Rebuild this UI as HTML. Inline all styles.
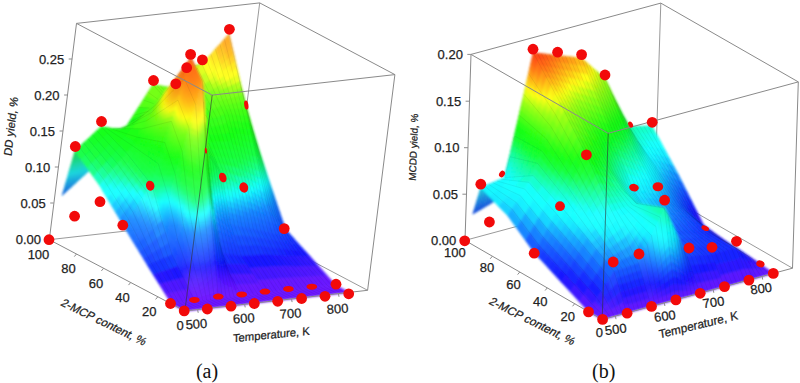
<!DOCTYPE html>
<html><head><meta charset="utf-8"><title>Figure</title>
<style>html,body{margin:0;padding:0;background:#fff}body{width:800px;height:383px;overflow:hidden;position:relative}</style>
</head><body>
<svg width="800" height="383" viewBox="0 0 800 383" style="position:absolute;left:0;top:0">
<defs><filter id="bl" x="-5%" y="-5%" width="110%" height="110%"><feGaussianBlur stdDeviation="0.9"/></filter></defs>
<rect width="800" height="383" fill="#fff"/>
<g stroke="#9a9a9a" stroke-width="1" fill="none"><line x1="49.3" y1="239.7" x2="232.4" y2="219.0" /><line x1="367.6" y1="290.3" x2="232.4" y2="219.0" /><line x1="232.4" y1="219.0" x2="259.7" y2="2.9" /></g>
<g fill="currentColor" stroke="currentColor" stroke-width="0.7" stroke-linejoin="round" filter="url(#bl)">
<path color="#1ad580" d="M231.1 134.9l1.4 4.4-1.5 4.3-1.4-4.2z"/>
<path color="#1ad569" d="M229.8 130.4l1.3 4.5-1.5 4.5-1.4-4.2z"/>
<path color="#1ad554" d="M228.4 125.9l1.4 4.5-1.6 4.8-1.4-4.2z"/>
<path color="#1ad546" d="M227 121.4l1.4 4.5-1.6 5.1-1.4-4.3z"/>
<path color="#1ad53e" d="M225.7 117l1.3 4.4-1.6 5.3-1.4-4.2z"/>
<path color="#1ad536" d="M224.3 112.5l1.4 4.5-1.7 5.5-1.4-4.2z"/>
<path color="#1ad52f" d="M222.9 108l1.4 4.5-1.7 5.8-1.4-4.2z"/>
<path color="#1ad527" d="M221.6 103.5l1.3 4.5-1.7 6.1-1.4-4.3z"/>
<path color="#20d525" d="M220.2 99l1.4 4.5-1.8 6.3-1.4-4.2z"/>
<path color="#2ad525" d="M218.8 94.6l1.4 4.4-1.8 6.6-1.3-4.2z"/>
<path color="#35d525" d="M217.4 90.1l1.4 4.5-1.7 6.8-1.4-4.2z"/>
<path color="#40d525" d="M216.1 85.6l1.3 4.5-1.7 7.1-1.4-4.2z"/>
<path color="#1ad568" d="M232.6 130.3l1.3 4.8-1.4 4.2-1.4-4.4z"/>
<path color="#1ad552" d="M231.3 125.6l1.3 4.7-1.5 4.6-1.3-4.5z"/>
<path color="#1ad545" d="M229.9 120.9l1.4 4.7-1.5 4.8-1.4-4.5z"/>
<path color="#1ad53c" d="M228.6 116.1l1.3 4.8-1.5 5-1.4-4.5z"/>
<path color="#1ad534" d="M227.3 111.4l1.3 4.7-1.6 5.3-1.3-4.4z"/>
<path color="#1ad52c" d="M225.9 106.7l1.4 4.7-1.6 5.6-1.4-4.5z"/>
<path color="#1bd525" d="M224.6 101.9l1.3 4.8-1.6 5.8-1.4-4.5z"/>
<path color="#24d525" d="M223.3 97.2l1.3 4.7-1.7 6.1-1.3-4.5z"/>
<path color="#30d525" d="M221.9 92.5l1.4 4.7-1.7 6.3-1.4-4.5z"/>
<path color="#3bd525" d="M220.6 87.7l1.3 4.8-1.7 6.5-1.4-4.4z"/>
<path color="#47d525" d="M219.2 83l1.4 4.7-1.8 6.9-1.4-4.5z"/>
<path color="#52d525" d="M217.9 78.3l1.3 4.7-1.8 7.1-1.3-4.5z"/>
<path color="#1ad552" d="M234.1 125.8l1.3 5-1.5 4.3-1.3-4.8z"/>
<path color="#1ad544" d="M232.8 120.8l1.3 5-1.5 4.5-1.3-4.7z"/>
<path color="#1ad53b" d="M231.5 115.8l1.3 5-1.5 4.8-1.4-4.7z"/>
<path color="#1ad533" d="M230.2 110.8l1.3 5-1.6 5.1-1.3-4.8z"/>
<path color="#1ad52a" d="M228.9 105.8l1.3 5-1.6 5.3-1.3-4.7z"/>
<path color="#1dd525" d="M227.6 100.9l1.3 4.9-1.6 5.6-1.4-4.7z"/>
<path color="#28d525" d="M226.3 95.9l1.3 5-1.7 5.8-1.3-4.8z"/>
<path color="#34d525" d="M225 90.9l1.3 5-1.7 6-1.3-4.7z"/>
<path color="#40d525" d="M223.7 85.9l1.3 5-1.7 6.3-1.4-4.7z"/>
<path color="#4cd525" d="M222.3 80.9l1.4 5-1.8 6.6-1.3-4.8z"/>
<path color="#58d525" d="M221 75.9l1.3 5-1.7 6.8-1.4-4.7z"/>
<path color="#64d525" d="M219.7 70.9l1.3 5-1.8 7.1-1.3-4.7z"/>
<path color="#1ad544" d="M235.5 121.3l1.3 5.2-1.4 4.3-1.3-5z"/>
<path color="#1ad53b" d="M234.3 116l1.2 5.3-1.4 4.5-1.3-5z"/>
<path color="#1ad532" d="M233 110.8l1.3 5.2-1.5 4.8-1.3-5z"/>
<path color="#1ad529" d="M231.7 105.5l1.3 5.3-1.5 5-1.3-5z"/>
<path color="#1fd525" d="M230.5 100.3l1.2 5.2-1.5 5.3-1.3-5z"/>
<path color="#2bd525" d="M229.2 95l1.3 5.3-1.6 5.5-1.3-4.9z"/>
<path color="#37d525" d="M227.9 89.8l1.3 5.2-1.6 5.9-1.3-5z"/>
<path color="#44d525" d="M226.7 84.6l1.2 5.2-1.6 6.1-1.3-5z"/>
<path color="#50d525" d="M225.4 79.3l1.3 5.3-1.7 6.3-1.3-5z"/>
<path color="#5dd525" d="M224.1 74.1l1.3 5.2-1.7 6.6-1.4-5z"/>
<path color="#6ad525" d="M222.8 68.8l1.3 5.3-1.8 6.8-1.3-5z"/>
<path color="#86d525" d="M221.6 63.6l1.2 5.2-1.8 7.1-1.3-5z"/>
<path color="#1ad53c" d="M237 116.7l1.3 5.5-1.5 4.3-1.3-5.2z"/>
<path color="#1ad533" d="M235.8 111.2l1.2 5.5-1.5 4.6-1.2-5.3z"/>
<path color="#1ad529" d="M234.5 105.7l1.3 5.5-1.5 4.8-1.3-5.2z"/>
<path color="#1fd525" d="M233.3 100.2l1.2 5.5-1.5 5.1-1.3-5.3z"/>
<path color="#2cd525" d="M232.1 94.7l1.2 5.5-1.6 5.3-1.2-5.2z"/>
<path color="#39d525" d="M230.8 89.2l1.3 5.5-1.6 5.6-1.3-5.3z"/>
<path color="#46d525" d="M229.6 83.7l1.2 5.5-1.6 5.8-1.3-5.2z"/>
<path color="#53d525" d="M228.4 78.2l1.2 5.5-1.7 6.1-1.2-5.2z"/>
<path color="#61d525" d="M227.1 72.7l1.3 5.5-1.7 6.4-1.3-5.3z"/>
<path color="#70d525" d="M225.9 67.2l1.2 5.5-1.7 6.6-1.3-5.2z"/>
<path color="#94d525" d="M224.6 61.7l1.3 5.5-1.8 6.9-1.3-5.3z"/>
<path color="#b7d525" d="M223.4 56.2l1.2 5.5-1.8 7.1-1.2-5.2z"/>
<path color="#1ad534" d="M238.5 112.2l1.2 5.7-1.4 4.3-1.3-5.5z"/>
<path color="#1ad52a" d="M237.3 106.4l1.2 5.8-1.5 4.5-1.2-5.5z"/>
<path color="#1fd525" d="M236.1 100.7l1.2 5.7-1.5 4.8-1.3-5.5z"/>
<path color="#2cd525" d="M234.9 94.9l1.2 5.8-1.6 5-1.2-5.5z"/>
<path color="#3ad525" d="M233.7 89.2l1.2 5.7-1.6 5.3-1.2-5.5z"/>
<path color="#48d525" d="M232.5 83.4l1.2 5.8-1.6 5.5-1.3-5.5z"/>
<path color="#55d525" d="M231.3 77.7l1.2 5.7-1.7 5.8-1.2-5.5z"/>
<path color="#63d525" d="M230.1 71.9l1.2 5.8-1.7 6-1.2-5.5z"/>
<path color="#78d525" d="M228.9 66.2l1.2 5.7-1.7 6.3-1.3-5.5z"/>
<path color="#9ed525" d="M227.6 60.4l1.3 5.8-1.8 6.5-1.2-5.5z"/>
<path color="#c3d525" d="M226.4 54.7l1.2 5.7-1.7 6.8-1.3-5.5z"/>
<path color="#d2c925" d="M225.2 48.9l1.2 5.8-1.8 7-1.2-5.5z"/>
<path color="#1ad52c" d="M240 107.7l1.1 6-1.4 4.2-1.2-5.7z"/>
<path color="#1ed525" d="M238.8 101.6l1.2 6.1-1.5 4.5-1.2-5.8z"/>
<path color="#2bd525" d="M237.6 95.6l1.2 6-1.5 4.8-1.2-5.7z"/>
<path color="#39d525" d="M236.5 89.6l1.1 6-1.5 5.1-1.2-5.8z"/>
<path color="#48d525" d="M235.3 83.6l1.2 6-1.6 5.3-1.2-5.7z"/>
<path color="#56d525" d="M234.1 77.6l1.2 6-1.6 5.6-1.2-5.8z"/>
<path color="#64d525" d="M232.9 71.6l1.2 6-1.6 5.8-1.2-5.7z"/>
<path color="#7dd525" d="M231.8 65.6l1.1 6-1.6 6.1-1.2-5.8z"/>
<path color="#a4d525" d="M230.6 59.6l1.2 6-1.7 6.3-1.2-5.7z"/>
<path color="#cbd525" d="M229.4 53.6l1.2 6-1.7 6.6-1.3-5.8z"/>
<path color="#d2c325" d="M228.2 47.6l1.2 6-1.8 6.8-1.2-5.7z"/>
<path color="#d2ae25" d="M227.1 41.6l1.1 6-1.8 7.1-1.2-5.8z"/>
<path color="#1dd525" d="M241.4 103.1l1.2 6.3-1.5 4.3-1.1-6z"/>
<path color="#2fd525" d="M240.3 96.9l1.1 6.2-1.4 4.6-1.2-6.1z"/>
<path color="#41d525" d="M239.2 90.6l1.1 6.3-1.5 4.7-1.2-6z"/>
<path color="#53d525" d="M238 84.3l1.2 6.3-1.6 5-1.1-6z"/>
<path color="#64d525" d="M236.9 78.1l1.1 6.2-1.5 5.3-1.2-6z"/>
<path color="#81d525" d="M235.7 71.8l1.2 6.3-1.6 5.5-1.2-6z"/>
<path color="#abd525" d="M234.6 65.5l1.1 6.3-1.6 5.8-1.2-6z"/>
<path color="#d2d525" d="M233.5 59.3l1.1 6.2-1.7 6.1-1.1-6z"/>
<path color="#d2c025" d="M232.3 53l1.2 6.3-1.7 6.3-1.2-6z"/>
<path color="#d2ae25" d="M231.2 46.7l1.1 6.3-1.7 6.6-1.2-6z"/>
<path color="#d29d25" d="M230 40.5l1.2 6.2-1.8 6.9-1.2-6z"/>
<path color="#d29125" d="M228.9 34.2l1.1 6.3-1.8 7.1-1.1-6z"/>
<path color="#4dd525" d="M210.9 80.6l5.2 5-1.8 7.4-5-6.9z"/>
<path color="#5dd525" d="M205.8 75.6l5.1 5-1.6 5.5-4.9-6.8z"/>
<path color="#6cd525" d="M200.6 70.5l5.2 5.1-1.4 3.7-5-6.8z"/>
<path color="#95d525" d="M195.4 65.5l5.2 5-1.2 2-4.9-6.8z"/>
<path color="#5dd525" d="M212.5 75l5.4 3.3-1.8 7.3-5.2-5z"/>
<path color="#69d525" d="M207.1 71.8l5.4 3.2-1.6 5.6-5.1-5z"/>
<path color="#80d525" d="M201.7 68.6l5.4 3.2-1.3 3.8-5.2-5.1z"/>
<path color="#9fd525" d="M196.4 65.3l5.3 3.3-1.1 1.9-5.2-5z"/>
<path color="#6fd525" d="M214.1 69.5l5.6 1.4-1.8 7.4-5.4-3.3z"/>
<path color="#82d525" d="M208.5 68l5.6 1.5-1.6 5.5-5.4-3.2z"/>
<path color="#96d525" d="M202.9 66.6l5.6 1.4-1.4 3.8-5.4-3.2z"/>
<path color="#a9d525" d="M197.3 65.2l5.6 1.4-1.2 2-5.3-3.3z"/>
<path color="#9bd525" d="M215.7 63.9l5.9-.3-1.9 7.3-5.6-1.4z"/>
<path color="#a3d525" d="M209.9 64.3l5.8-.4-1.6 5.6-5.6-1.5z"/>
<path color="#abd525" d="M204.1 64.6l5.8-.3-1.4 3.7-5.6-1.4z"/>
<path color="#b2d525" d="M198.2 65l5.9-.4-1.2 2-5.6-1.4z"/>
<path color="#c7d525" d="M217.3 58.4l6.1-2.2-1.8 7.4-5.9 .3z"/>
<path color="#c4d525" d="M211.3 60.5l6-2.1-1.6 5.5-5.8 .4z"/>
<path color="#c0d525" d="M205.2 62.6l6.1-2.1-1.4 3.8-5.8 .3z"/>
<path color="#bcd525" d="M199.1 64.8l6.1-2.2-1.1 2-5.9 .4z"/>
<path color="#d2c325" d="M218.9 52.8l6.3-3.9-1.8 7.3-6.1 2.2z"/>
<path color="#d2cb25" d="M212.6 56.8l6.3-4-1.6 5.6-6 2.1z"/>
<path color="#d2d325" d="M206.4 60.7l6.2-3.9-1.3 3.7-6.1 2.1z"/>
<path color="#c6d525" d="M200.1 64.6l6.3-3.9-1.2 1.9-6.1 2.2z"/>
<path color="#d2aa25" d="M220.5 47.3l6.6-5.7-1.9 7.3-6.3 3.9z"/>
<path color="#d2b925" d="M214 53l6.5-5.7-1.6 5.5-6.3 4z"/>
<path color="#d2c825" d="M207.5 58.7l6.5-5.7-1.4 3.8-6.2 3.9z"/>
<path color="#d0d525" d="M201 64.4l6.5-5.7-1.1 2-6.3 3.9z"/>
<path color="#d29125" d="M222.2 41.7l6.7-7.5-1.8 7.4-6.6 5.7z"/>
<path color="#d2a225" d="M215.4 49.2l6.8-7.5-1.7 5.6-6.5 5.7z"/>
<path color="#d2b925" d="M208.7 56.7l6.7-7.5-1.4 3.8-6.5 5.7z"/>
<path color="#d2d025" d="M201.9 64.2l6.8-7.5-1.2 2-6.5 5.7z"/>
<path color="#abfb12" d="M192.5 72.8l3.9-7.5-1.9 .4-4 8.9z"/>
<path color="#72f412" d="M188.7 80.3l3.8-7.5-2 1.8-4.1 9z"/>
<path color="#59ee12" d="M184.8 87.7l3.9-7.4-2.3 3.3-4 8.9z"/>
<path color="#43d525" d="M181 95.2l3.8-7.5-2.4 4.8-4 8.9z"/>
<path color="#31d525" d="M177.2 102.6l3.8-7.4-2.6 6.2-4 9z"/>
<path color="#1fd525" d="M173.3 110.1l3.9-7.5-2.8 7.8-4.1 8.9z"/>
<path color="#1ad52e" d="M169.5 117.5l3.8-7.4-3 9.2-4 8.9z"/>
<path color="#1ad53b" d="M165.6 125l3.9-7.5-3.2 10.7-4 9z"/>
<path color="#bcfb12" d="M194.6 71l3.6-6-1.8 .3-3.9 7.5z"/>
<path color="#84f312" d="M190.9 76.9l3.7-5.9-2.1 1.8-3.8 7.5z"/>
<path color="#67ec12" d="M187.2 82.9l3.7-6-2.2 3.4-3.9 7.4z"/>
<path color="#52d525" d="M183.6 88.9l3.6-6-2.4 4.8-3.8 7.5z"/>
<path color="#43d525" d="M179.9 94.9l3.7-6-2.6 6.3-3.8 7.4z"/>
<path color="#34d525" d="M176.3 100.9l3.6-6-2.7 7.7-3.9 7.5z"/>
<path color="#25d525" d="M172.6 106.9l3.7-6-3 9.2-3.8 7.4z"/>
<path color="#1ad526" d="M169 112.8l3.6-5.9-3.1 10.6-3.9 7.5z"/>
<path color="#ccfb12" d="M196.6 69.1l3.5-4.5-1.9 .4-3.6 6z"/>
<path color="#9ef112" d="M193.1 73.6l3.5-4.5-2 1.9-3.7 5.9z"/>
<path color="#6ed525" d="M189.7 78.1l3.4-4.5-2.2 3.3-3.7 6z"/>
<path color="#62d525" d="M186.2 82.6l3.5-4.5-2.5 4.8-3.6 6z"/>
<path color="#56d525" d="M182.7 87.1l3.5-4.5-2.6 6.3-3.7 6z"/>
<path color="#4ad525" d="M179.3 91.7l3.4-4.6-2.8 7.8-3.6 6z"/>
<path color="#3fd525" d="M175.8 96.2l3.5-4.5-3 9.2-3.7 6z"/>
<path color="#33d525" d="M172.3 100.7l3.5-4.5-3.2 10.7-3.6 5.9z"/>
<path color="#dafa12" d="M198.6 67.3l3.3-3.1-1.8 .4-3.5 4.5z"/>
<path color="#a1d525" d="M195.4 70.3l3.2-3-2 1.8-3.5 4.5z"/>
<path color="#88d525" d="M192.1 73.3l3.3-3-2.3 3.3-3.4 4.5z"/>
<path color="#70d525" d="M188.8 76.4l3.3-3.1-2.4 4.8-3.5 4.5z"/>
<path color="#65d525" d="M185.5 79.4l3.3-3-2.6 6.2-3.5 4.5z"/>
<path color="#5dd525" d="M182.2 82.4l3.3-3-2.8 7.7-3.4 4.6z"/>
<path color="#56d525" d="M178.9 85.5l3.3-3.1-2.9 9.3-3.5 4.5z"/>
<path color="#4fd525" d="M175.7 88.5l3.2-3-3.1 10.7-3.5 4.5z"/>
<path color="#1ad545" d="M156.7 129.7l7.8-.6-2.2 8.1-7.9 1z"/>
<path color="#1ad545" d="M148.9 130.3l7.8-.6-2.3 8.5-7.8 1z"/>
<path color="#1ad545" d="M141.1 130.9l7.8-.6-2.3 8.9-7.9 1z"/>
<path color="#1ad536" d="M159 121.2l7.7-.3-2.2 8.2-7.8 .6z"/>
<path color="#1ad535" d="M151.2 121.4l7.8-.2-2.3 8.5-7.8 .6z"/>
<path color="#1ad535" d="M143.5 121.7l7.7-.3-2.3 8.9-7.8 .6z"/>
<path color="#1ad527" d="M161.3 112.7l7.7 .1-2.3 8.1-7.7 .3z"/>
<path color="#1ad526" d="M153.5 112.6l7.8 .1-2.3 8.5-7.8 .2z"/>
<path color="#1bd525" d="M145.8 112.4l7.7 .2-2.3 8.8-7.7 .3z"/>
<path color="#2ad525" d="M163.5 104.2l7.7 .5-2.2 8.1-7.7-.1z"/>
<path color="#2dd525" d="M155.9 103.7l7.6 .5-2.2 8.5-7.8-.1z"/>
<path color="#2fd525" d="M148.2 103.2l7.7 .5-2.4 8.9-7.7-.2z"/>
<path color="#3fd525" d="M165.8 95.7l7.6 .9-2.2 8.1-7.7-.5z"/>
<path color="#42d525" d="M158.2 94.8l7.6 .9-2.3 8.5-7.6-.5z"/>
<path color="#46d525" d="M150.6 93.9l7.6 .9-2.3 8.9-7.7-.5z"/>
<path color="#53d525" d="M168.1 87.2l7.6 1.3-2.3 8.1-7.6-.9z"/>
<path color="#58d525" d="M160.5 85.9l7.6 1.3-2.3 8.5-7.6-.9z"/>
<path color="#5dd525" d="M152.9 84.7l7.6 1.2-2.3 8.9-7.6-.9z"/>
<path color="#1ad548" d="M136.6 135.8l4.5-4.9-2.4 9.3-4.4 4.3z"/>
<path color="#1ad559" d="M132.1 140.7l4.5-4.9-2.3 8.7-4.4 4.4z"/>
<path color="#1ad56c" d="M127.6 145.6l4.5-4.9-2.2 8.2-4.4 4.3z"/>
<path color="#1ad582" d="M123.1 150.5l4.5-4.9-2.1 7.6-4.5 4.4z"/>
<path color="#1ad59d" d="M118.7 155.4l4.4-4.9-2.1 7.1-4.4 4.3z"/>
<path color="#1ad5b9" d="M114.2 160.3l4.5-4.9-2.1 6.5-4.4 4.4z"/>
<path color="#1ad538" d="M138.9 127.1l4.6-5.4-2.4 9.2-4.5 4.9z"/>
<path color="#1ad540" d="M134.3 132.6l4.6-5.5-2.3 8.7-4.5 4.9z"/>
<path color="#1ad548" d="M129.8 138l4.5-5.4-2.2 8.1-4.5 4.9z"/>
<path color="#1ad55b" d="M125.2 143.5l4.6-5.5-2.2 7.6-4.5 4.9z"/>
<path color="#1ad571" d="M120.7 148.9l4.5-5.4-2.1 7-4.4 4.9z"/>
<path color="#1ad58c" d="M116.1 154.4l4.6-5.5-2 6.5-4.5 4.9z"/>
<path color="#1ad528" d="M141.2 118.4l4.6-6-2.3 9.3-4.6 5.4z"/>
<path color="#1ad531" d="M136.6 124.4l4.6-6-2.3 8.7-4.6 5.5z"/>
<path color="#1ad53a" d="M132 130.4l4.6-6-2.3 8.2-4.5 5.4z"/>
<path color="#1ad543" d="M127.3 136.4l4.7-6-2.2 7.6-4.6 5.5z"/>
<path color="#1ad54f" d="M122.7 142.4l4.6-6-2.1 7.1-4.5 5.4z"/>
<path color="#1ad567" d="M118.1 148.4l4.6-6-2 6.5-4.6 5.5z"/>
<path color="#2ad525" d="M143.5 109.7l4.7-6.5-2.4 9.2-4.6 6z"/>
<path color="#1dd525" d="M138.8 116.3l4.7-6.6-2.3 8.7-4.6 6z"/>
<path color="#1ad52c" d="M134.1 122.8l4.7-6.5-2.2 8.1-4.6 6z"/>
<path color="#1ad535" d="M129.4 129.4l4.7-6.6-2.1 7.6-4.7 6z"/>
<path color="#1ad53f" d="M124.7 135.9l4.7-6.5-2.1 7-4.6 6z"/>
<path color="#1ad549" d="M120 142.5l4.7-6.6-2 6.5-4.6 6z"/>
<path color="#41d525" d="M145.8 101l4.8-7.1-2.4 9.3-4.7 6.5z"/>
<path color="#31d525" d="M141 108.1l4.8-7.1-2.3 8.7-4.7 6.6z"/>
<path color="#22d525" d="M136.3 115.2l4.7-7.1-2.2 8.2-4.7 6.5z"/>
<path color="#1ad528" d="M131.5 122.3l4.8-7.1-2.2 7.6-4.7 6.6z"/>
<path color="#1ad533" d="M126.8 129.4l4.7-7.1-2.1 7.1-4.7 6.5z"/>
<path color="#1ad53e" d="M122 136.5l4.8-7.1-2.1 6.5-4.7 6.6z"/>
<path color="#59d525" d="M148.1 92.3l4.8-7.6-2.3 9.2-4.8 7.1z"/>
<path color="#4ad525" d="M143.3 100l4.8-7.7-2.3 8.7-4.8 7.1z"/>
<path color="#38d525" d="M138.5 107.6l4.8-7.6-2.3 8.1-4.7 7.1z"/>
<path color="#24d525" d="M133.6 115.3l4.9-7.7-2.2 7.6-4.8 7.1z"/>
<path color="#1ad529" d="M128.8 122.9l4.8-7.6-2.1 7-4.7 7.1z"/>
<path color="#1ad533" d="M124 130.6l4.8-7.7-2 6.5-4.8 7.1z"/>
<path color="#1ad5ce" d="M105.8 163.2l7.9-1.4-1.5 4.5-7.9 1.7z"/>
<path color="#1ad5d2" d="M97.9 164.5l7.9-1.3-1.5 4.8-8 1.7z"/>
<path color="#1ad5d6" d="M90 165.9l7.9-1.4-1.6 5.2-7.9 1.7z"/>
<path color="#1ad5ad" d="M107.3 158.3l7.9-1-1.5 4.5-7.9 1.4z"/>
<path color="#1ad5af" d="M99.4 159.3l7.9-1-1.5 4.9-7.9 1.3z"/>
<path color="#1ad5b1" d="M91.6 160.3l7.8-1-1.5 5.2-7.9 1.4z"/>
<path color="#1ad58b" d="M108.8 153.5l7.8-.6-1.4 4.4-7.9 1z"/>
<path color="#1ad58a" d="M101 154.1l7.8-.6-1.5 4.8-7.9 1z"/>
<path color="#1ad58a" d="M93.2 154.7l7.8-.6-1.6 5.2-7.8 1z"/>
<path color="#1ad56e" d="M110.3 148.6l7.8-.2-1.5 4.5-7.8 .6z"/>
<path color="#1ad56c" d="M102.6 148.9l7.7-.3-1.5 4.9-7.8 .6z"/>
<path color="#1ad56a" d="M94.8 149.1l7.8-.2-1.6 5.2-7.8 .6z"/>
<path color="#1ad557" d="M111.8 143.8l7.8 .2-1.5 4.4-7.8 .2z"/>
<path color="#1ad554" d="M104.1 143.6l7.7 .2-1.5 4.8-7.7 .3z"/>
<path color="#1ad550" d="M96.4 143.5l7.7 .1-1.5 5.3-7.8 .2z"/>
<path color="#1ad546" d="M113.4 139l7.6 .5-1.4 4.5-7.8-.2z"/>
<path color="#1ad544" d="M105.7 138.4l7.7 .6-1.6 4.8-7.7-.2z"/>
<path color="#1ad542" d="M98 137.9l7.7 .5-1.6 5.2-7.7-.1z"/>
<path color="#1ad53d" d="M114.9 134.1l7.6 .9-1.5 4.5-7.6-.5z"/>
<path color="#1ad53b" d="M107.2 133.2l7.7 .9-1.5 4.9-7.7-.6z"/>
<path color="#1ad538" d="M99.6 132.3l7.6 .9-1.5 5.2-7.7-.5z"/>
<path color="#1ad535" d="M116.4 129.3l7.6 1.3-1.5 4.4-7.6-.9z"/>
<path color="#1ad531" d="M108.8 128l7.6 1.3-1.5 4.8-7.7-.9z"/>
<path color="#1ad52e" d="M101.2 126.7l7.6 1.3-1.6 5.2-7.6-.9z"/>
<path color="#1acadc" d="M85.1 171.7l4.3-4-1 3.7-4.4 4z"/>
<path color="#1ab6dc" d="M80.7 175.7l4.4-4-1.1 3.7-4.4 4z"/>
<path color="#1aa5dc" d="M76.3 179.7l4.4-4-1.1 3.7-4.4 4z"/>
<path color="#1a94dc" d="M71.9 183.7l4.4-4-1.1 3.7-4.3 4z"/>
<path color="#1a83dc" d="M67.6 187.7l4.3-4-1 3.7-4.4 4z"/>
<path color="#1a73dc" d="M63.2 191.7l4.4-4-1.1 3.7-4.4 4z"/>
<path color="#1ad5d1" d="M86.1 168l4.4-4-1.1 3.7-4.3 4z"/>
<path color="#1acddc" d="M81.8 172l4.3-4-1 3.7-4.4 4z"/>
<path color="#1ab9dc" d="M77.4 176l4.4-4-1.1 3.7-4.4 4z"/>
<path color="#1aa7dc" d="M73 180l4.4-4-1.1 3.7-4.4 4z"/>
<path color="#1a96dc" d="M68.6 184l4.4-4-1.1 3.7-4.3 4z"/>
<path color="#1a85dc" d="M64.3 188l4.3-4-1 3.7-4.4 4z"/>
<path color="#1ad5b7" d="M87.2 164.3l4.4-4-1.1 3.7-4.4 4z"/>
<path color="#1ad5ce" d="M82.8 168.3l4.4-4-1.1 3.7-4.3 4z"/>
<path color="#1ad0dc" d="M78.5 172.3l4.3-4-1 3.7-4.4 4z"/>
<path color="#1abcdc" d="M74.1 176.3l4.4-4-1.1 3.7-4.4 4z"/>
<path color="#1aa9dc" d="M69.7 180.3l4.4-4-1.1 3.7-4.4 4z"/>
<path color="#1a98dc" d="M65.3 184.3l4.4-4-1.1 3.7-4.3 4z"/>
<path color="#1ad59c" d="M88.3 160.5l4.3-4-1 3.8-4.4 4z"/>
<path color="#1ad5b4" d="M83.9 164.6l4.4-4.1-1.1 3.8-4.4 4z"/>
<path color="#1ad5cb" d="M79.5 168.6l4.4-4-1.1 3.7-4.3 4z"/>
<path color="#1ad2dc" d="M75.2 172.6l4.3-4-1 3.7-4.4 4z"/>
<path color="#1abedc" d="M70.8 176.6l4.4-4-1.1 3.7-4.4 4z"/>
<path color="#1aabdc" d="M66.4 180.6l4.4-4-1.1 3.7-4.4 4z"/>
<path color="#1ad581" d="M89.3 156.8l4.4-4-1.1 3.7-4.3 4z"/>
<path color="#1ad599" d="M85 160.8l4.3-4-1 3.7-4.4 4.1z"/>
<path color="#1ad5b1" d="M80.6 164.8l4.4-4-1.1 3.8-4.4 4z"/>
<path color="#1ad5c9" d="M76.2 168.9l4.4-4.1-1.1 3.8-4.3 4z"/>
<path color="#1ad5dc" d="M71.9 172.9l4.3-4-1 3.7-4.4 4z"/>
<path color="#1ac1dc" d="M67.5 176.9l4.4-4-1.1 3.7-4.4 4z"/>
<path color="#1ad56d" d="M90.4 153.1l4.4-4-1.1 3.7-4.4 4z"/>
<path color="#1ad57e" d="M86 157.1l4.4-4-1.1 3.7-4.3 4z"/>
<path color="#1ad596" d="M81.7 161.1l4.3-4-1 3.7-4.4 4z"/>
<path color="#1ad5ae" d="M77.3 165.2l4.4-4.1-1.1 3.7-4.4 4.1z"/>
<path color="#1ad5c6" d="M72.9 169.2l4.4-4-1.1 3.7-4.3 4z"/>
<path color="#1ad5db" d="M68.5 173.2l4.4-4-1 3.7-4.4 4z"/>
<path color="#1ad55a" d="M91.5 149.4l4.4-4-1.1 3.7-4.4 4z"/>
<path color="#1ad56b" d="M87.1 153.4l4.4-4-1.1 3.7-4.4 4z"/>
<path color="#1ad57b" d="M82.7 157.4l4.4-4-1.1 3.7-4.3 4z"/>
<path color="#1ad593" d="M78.4 161.4l4.3-4-1 3.7-4.4 4.1z"/>
<path color="#1ad5ab" d="M74 165.5l4.4-4.1-1.1 3.8-4.4 4z"/>
<path color="#1ad5c3" d="M69.6 169.5l4.4-4-1.1 3.7-4.4 4z"/>
<path color="#1ad549" d="M92.6 145.7l4.3-4.1-1 3.8-4.4 4z"/>
<path color="#1ad558" d="M88.2 149.7l4.4-4-1.1 3.7-4.4 4z"/>
<path color="#1ad569" d="M83.8 153.7l4.4-4-1.1 3.7-4.4 4z"/>
<path color="#1ad579" d="M79.4 157.7l4.4-4-1.1 3.7-4.3 4z"/>
<path color="#1ad590" d="M75.1 161.8l4.3-4.1-1 3.7-4.4 4.1z"/>
<path color="#1ad5a8" d="M70.7 165.8l4.4-4-1.1 3.7-4.4 4z"/>
<path color="#1ad542" d="M93.6 141.9l4.4-4-1.1 3.7-4.3 4.1z"/>
<path color="#1ad548" d="M89.3 146l4.3-4.1-1 3.8-4.4 4z"/>
<path color="#1ad557" d="M84.9 150l4.4-4-1.1 3.7-4.4 4z"/>
<path color="#1ad567" d="M80.5 154l4.4-4-1.1 3.7-4.4 4z"/>
<path color="#1ad577" d="M76.1 158.1l4.4-4.1-1.1 3.7-4.3 4.1z"/>
<path color="#1ad58d" d="M71.8 162.1l4.3-4-1 3.7-4.4 4z"/>
<path color="#1ad53b" d="M94.7 138.2l4.4-4-1.1 3.7-4.4 4z"/>
<path color="#1ad542" d="M90.3 142.3l4.4-4.1-1.1 3.7-4.3 4.1z"/>
<path color="#1ad548" d="M86 146.3l4.3-4-1 3.7-4.4 4z"/>
<path color="#1ad555" d="M81.6 150.3l4.4-4-1.1 3.7-4.4 4z"/>
<path color="#1ad565" d="M77.2 154.4l4.4-4.1-1.1 3.7-4.4 4.1z"/>
<path color="#1ad575" d="M72.8 158.4l4.4-4-1.1 3.7-4.3 4z"/>
<path color="#1ad535" d="M95.8 134.5l4.4-4-1.1 3.7-4.4 4z"/>
<path color="#1ad53b" d="M91.4 138.5l4.4-4-1.1 3.7-4.4 4.1z"/>
<path color="#1ad541" d="M87 142.6l4.4-4.1-1.1 3.8-4.3 4z"/>
<path color="#1ad547" d="M82.6 146.6l4.4-4-1 3.7-4.4 4z"/>
<path color="#1ad553" d="M78.3 150.7l4.3-4.1-1 3.7-4.4 4.1z"/>
<path color="#1ad563" d="M73.9 154.7l4.4-4-1.1 3.7-4.4 4z"/>
<path color="#1ad52d" d="M96.9 130.8l4.3-4.1-1 3.8-4.4 4z"/>
<path color="#1ad531" d="M92.5 134.8l4.4-4-1.1 3.7-4.4 4z"/>
<path color="#1ad537" d="M88.1 138.9l4.4-4.1-1.1 3.7-4.4 4.1z"/>
<path color="#1ad53d" d="M83.7 142.9l4.4-4-1.1 3.7-4.4 4z"/>
<path color="#1ad544" d="M79.3 147l4.4-4.1-1.1 3.7-4.3 4.1z"/>
<path color="#1ad54f" d="M75 151l4.3-4-1 3.7-4.4 4z"/>
<path color="#22d525" d="M243.2 108.1l1.2 6.1-1.8-4.8-1.2-6.3z"/>
<path color="#39d525" d="M242.1 102l1.1 6.1-1.8-5-1.1-6.2z"/>
<path color="#4fd525" d="M240.9 95.9l1.2 6.1-1.8-5.1-1.1-6.3z"/>
<path color="#64d525" d="M239.7 89.8l1.2 6.1-1.7-5.3-1.2-6.3z"/>
<path color="#8bd525" d="M238.6 83.7l1.1 6.1-1.7-5.5-1.1-6.2z"/>
<path color="#bcd525" d="M237.4 77.6l1.2 6.1-1.7-5.6-1.2-6.3z"/>
<path color="#d2c925" d="M236.3 71.5l1.1 6.1-1.7-5.8-1.1-6.3z"/>
<path color="#d2b425" d="M235.1 65.4l1.2 6.1-1.7-6-1.1-6.2z"/>
<path color="#d2a125" d="M233.9 59.3l1.2 6.1-1.6-6.1-1.2-6.3z"/>
<path color="#d29325" d="M232.8 53.2l1.1 6.1-1.6-6.3-1.1-6.3z"/>
<path color="#d28b25" d="M231.6 47.1l1.2 6.1-1.6-6.5-1.2-6.2z"/>
<path color="#d28525" d="M230.4 41l1.2 6.1-1.6-6.6-1.1-6.3z"/>
<path color="#1fd525" d="M245 113l1.2 6-1.8-4.8-1.2-6.1z"/>
<path color="#35d525" d="M243.8 107.1l1.2 5.9-1.8-4.9-1.1-6.1z"/>
<path color="#4bd525" d="M242.6 101.2l1.2 5.9-1.7-5.1-1.2-6.1z"/>
<path color="#60d525" d="M241.5 95.2l1.1 6-1.7-5.3-1.2-6.1z"/>
<path color="#7fd525" d="M240.3 89.3l1.2 5.9-1.8-5.4-1.1-6.1z"/>
<path color="#afd525" d="M239.1 83.4l1.2 5.9-1.7-5.6-1.2-6.1z"/>
<path color="#d2d025" d="M237.9 77.4l1.2 6-1.7-5.8-1.1-6.1z"/>
<path color="#d2bb25" d="M236.7 71.5l1.2 5.9-1.6-5.9-1.2-6.1z"/>
<path color="#d2a925" d="M235.5 65.6l1.2 5.9-1.6-6.1-1.2-6.1z"/>
<path color="#d29a25" d="M234.4 59.6l1.1 6-1.6-6.3-1.1-6.1z"/>
<path color="#d29125" d="M233.2 53.7l1.2 5.9-1.6-6.4-1.2-6.1z"/>
<path color="#d28b25" d="M232 47.8l1.2 5.9-1.6-6.6-1.2-6.1z"/>
<path color="#1bd525" d="M246.8 118l1.2 5.8-1.8-4.8-1.2-6z"/>
<path color="#2fd525" d="M245.6 112.2l1.2 5.8-1.8-5-1.2-5.9z"/>
<path color="#45d525" d="M244.4 106.5l1.2 5.7-1.8-5.1-1.2-5.9z"/>
<path color="#59d525" d="M243.2 100.7l1.2 5.8-1.8-5.3-1.1-6z"/>
<path color="#6cd525" d="M242 94.9l1.2 5.8-1.7-5.5-1.2-5.9z"/>
<path color="#9bd525" d="M240.8 89.2l1.2 5.7-1.7-5.6-1.2-5.9z"/>
<path color="#c6d525" d="M239.6 83.4l1.2 5.8-1.7-5.8-1.2-6z"/>
<path color="#d2c725" d="M238.4 77.6l1.2 5.8-1.7-6-1.2-5.9z"/>
<path color="#d2b525" d="M237.2 71.9l1.2 5.7-1.7-6.1-1.2-5.9z"/>
<path color="#d2a625" d="M236 66.1l1.2 5.8-1.7-6.3-1.1-6z"/>
<path color="#d29b25" d="M234.8 60.3l1.2 5.8-1.6-6.5-1.2-5.9z"/>
<path color="#d29525" d="M233.6 54.6l1.2 5.7-1.6-6.6-1.2-5.9z"/>
<path color="#1ad529" d="M248.6 123l1.2 5.6-1.8-4.8-1.2-5.8z"/>
<path color="#28d525" d="M247.3 117.4l1.3 5.6-1.8-5-1.2-5.8z"/>
<path color="#3cd525" d="M246.1 111.8l1.2 5.6-1.7-5.2-1.2-5.7z"/>
<path color="#50d525" d="M244.9 106.2l1.2 5.6-1.7-5.3-1.2-5.8z"/>
<path color="#63d525" d="M243.7 100.6l1.2 5.6-1.7-5.5-1.2-5.8z"/>
<path color="#80d525" d="M242.4 94.9l1.3 5.7-1.7-5.7-1.2-5.7z"/>
<path color="#aad525" d="M241.2 89.3l1.2 5.6-1.6-5.7-1.2-5.8z"/>
<path color="#d0d525" d="M240 83.7l1.2 5.6-1.6-5.9-1.2-5.8z"/>
<path color="#d2c525" d="M238.8 78.1l1.2 5.6-1.6-6.1-1.2-5.7z"/>
<path color="#d2b625" d="M237.6 72.5l1.2 5.6-1.6-6.2-1.2-5.8z"/>
<path color="#d2ab25" d="M236.3 66.9l1.3 5.6-1.6-6.4-1.2-5.8z"/>
<path color="#d2a425" d="M235.1 61.3l1.2 5.6-1.5-6.6-1.2-5.7z"/>
<path color="#1ad52f" d="M250.3 127.9l1.3 5.5-1.8-4.8-1.2-5.6z"/>
<path color="#1fd525" d="M249.1 122.5l1.2 5.4-1.7-4.9-1.3-5.6z"/>
<path color="#32d525" d="M247.9 117l1.2 5.5-1.8-5.1-1.2-5.6z"/>
<path color="#46d525" d="M246.6 111.6l1.3 5.4-1.8-5.2-1.2-5.6z"/>
<path color="#58d525" d="M245.4 106.2l1.2 5.4-1.7-5.4-1.2-5.6z"/>
<path color="#68d525" d="M244.1 100.7l1.3 5.5-1.7-5.6-1.3-5.7z"/>
<path color="#8ad525" d="M242.9 95.3l1.2 5.4-1.7-5.8-1.2-5.6z"/>
<path color="#aed525" d="M241.6 89.9l1.3 5.4-1.7-6-1.2-5.6z"/>
<path color="#cdd525" d="M240.4 84.4l1.2 5.5-1.6-6.2-1.2-5.6z"/>
<path color="#d2c925" d="M239.1 79l1.3 5.4-1.6-6.3-1.2-5.6z"/>
<path color="#d2bf25" d="M237.9 73.5l1.2 5.5-1.5-6.5-1.3-5.6z"/>
<path color="#d2b725" d="M236.7 68.1l1.2 5.4-1.6-6.6-1.2-5.6z"/>
<path color="#1ad536" d="M252.1 132.9l1.3 5.2-1.8-4.7-1.3-5.5z"/>
<path color="#1ad528" d="M250.9 127.6l1.2 5.3-1.8-5-1.2-5.4z"/>
<path color="#27d525" d="M249.6 122.3l1.3 5.3-1.8-5.1-1.2-5.5z"/>
<path color="#3ad525" d="M248.3 117.1l1.3 5.2-1.7-5.3-1.3-5.4z"/>
<path color="#4bd525" d="M247.1 111.8l1.2 5.3-1.7-5.5-1.2-5.4z"/>
<path color="#5bd525" d="M245.8 106.5l1.3 5.3-1.7-5.6-1.3-5.5z"/>
<path color="#6ad525" d="M244.5 101.3l1.3 5.2-1.7-5.8-1.2-5.4z"/>
<path color="#88d525" d="M243.3 96l1.2 5.3-1.6-6-1.3-5.4z"/>
<path color="#a7d525" d="M242 90.7l1.3 5.3-1.7-6.1-1.2-5.5z"/>
<path color="#c0d525" d="M240.7 85.4l1.3 5.3-1.6-6.3-1.3-5.4z"/>
<path color="#d2d425" d="M239.5 80.2l1.2 5.2-1.6-6.4-1.2-5.5z"/>
<path color="#e7de12" d="M238.2 74.9l1.3 5.3-1.6-6.7-1.2-5.4z"/>
<path color="#1ad53e" d="M253.9 137.8l1.3 5.1-1.8-4.8-1.3-5.2z"/>
<path color="#1ad530" d="M252.6 132.7l1.3 5.1-1.8-4.9-1.2-5.3z"/>
<path color="#1cd525" d="M251.3 127.6l1.3 5.1-1.7-5.1-1.3-5.3z"/>
<path color="#2dd525" d="M250.1 122.5l1.2 5.1-1.7-5.3-1.3-5.2z"/>
<path color="#3dd525" d="M248.8 117.4l1.3 5.1-1.8-5.4-1.2-5.3z"/>
<path color="#4dd525" d="M247.5 112.3l1.3 5.1-1.7-5.6-1.3-5.3z"/>
<path color="#5bd525" d="M246.2 107.2l1.3 5.1-1.7-5.8-1.3-5.2z"/>
<path color="#68d525" d="M244.9 102.1l1.3 5.1-1.7-5.9-1.2-5.3z"/>
<path color="#7dd525" d="M243.6 97l1.3 5.1-1.6-6.1-1.3-5.3z"/>
<path color="#95d525" d="M242.3 91.9l1.3 5.1-1.6-6.3-1.3-5.3z"/>
<path color="#b7e712" d="M241 86.8l1.3 5.1-1.6-6.5-1.2-5.2z"/>
<path color="#c6e812" d="M239.8 81.7l1.2 5.1-1.5-6.6-1.3-5.3z"/>
<path color="#1ad546" d="M255.7 142.8l1.3 4.9-1.8-4.8-1.3-5.1z"/>
<path color="#1ad539" d="M254.4 137.9l1.3 4.9-1.8-5-1.3-5.1z"/>
<path color="#1ad52c" d="M253.1 132.9l1.3 5-1.8-5.2-1.3-5.1z"/>
<path color="#1fd525" d="M251.8 128l1.3 4.9-1.8-5.3-1.2-5.1z"/>
<path color="#2fd525" d="M250.5 123l1.3 5-1.7-5.5-1.3-5.1z"/>
<path color="#3ed525" d="M249.2 118.1l1.3 4.9-1.7-5.6-1.3-5.1z"/>
<path color="#4cd525" d="M247.8 113.2l1.4 4.9-1.7-5.8-1.3-5.1z"/>
<path color="#58d525" d="M246.5 108.2l1.3 5-1.6-6-1.3-5.1z"/>
<path color="#63d525" d="M245.2 103.3l1.3 4.9-1.6-6.1-1.3-5.1z"/>
<path color="#71e812" d="M243.9 98.3l1.3 5-1.6-6.3-1.3-5.1z"/>
<path color="#84e812" d="M242.6 93.4l1.3 4.9-1.6-6.4-1.3-5.1z"/>
<path color="#93e812" d="M241.3 88.4l1.3 5-1.6-6.6-1.2-5.1z"/>
<path color="#1ad556" d="M257.5 147.8l1.3 4.7-1.8-4.8-1.3-4.9z"/>
<path color="#1ad542" d="M256.1 143l1.4 4.8-1.8-5-1.3-4.9z"/>
<path color="#1ad535" d="M254.8 138.2l1.3 4.8-1.7-5.1-1.3-5z"/>
<path color="#1ad52a" d="M253.5 133.4l1.3 4.8-1.7-5.3-1.3-4.9z"/>
<path color="#20d525" d="M252.2 128.7l1.3 4.7-1.7-5.4-1.3-5z"/>
<path color="#2fd525" d="M250.8 123.9l1.4 4.8-1.7-5.7-1.3-4.9z"/>
<path color="#3cd525" d="M249.5 119.1l1.3 4.8-1.6-5.8-1.4-4.9z"/>
<path color="#48d525" d="M248.2 114.3l1.3 4.8-1.7-5.9-1.3-5z"/>
<path color="#53e812" d="M246.8 109.5l1.4 4.8-1.7-6.1-1.3-4.9z"/>
<path color="#5de912" d="M245.5 104.8l1.3 4.7-1.6-6.2-1.3-5z"/>
<path color="#65e912" d="M244.2 100l1.3 4.8-1.6-6.5-1.3-4.9z"/>
<path color="#6be912" d="M242.9 95.2l1.3 4.8-1.6-6.6-1.3-5z"/>
<path color="#1ad56c" d="M259.2 152.7l1.4 4.6-1.8-4.8-1.3-4.7z"/>
<path color="#1ad54c" d="M257.9 148.1l1.3 4.6-1.7-4.9-1.4-4.8z"/>
<path color="#1ad53f" d="M256.6 143.5l1.3 4.6-1.8-5.1-1.3-4.8z"/>
<path color="#1ad534" d="M255.2 138.9l1.4 4.6-1.8-5.3-1.3-4.8z"/>
<path color="#1ad529" d="M253.9 134.3l1.3 4.6-1.7-5.5-1.3-4.7z"/>
<path color="#20d525" d="M252.5 129.7l1.4 4.6-1.7-5.6-1.4-4.8z"/>
<path color="#27e812" d="M251.2 125.1l1.3 4.6-1.7-5.8-1.3-4.8z"/>
<path color="#35e912" d="M249.8 120.4l1.4 4.7-1.7-6-1.3-4.8z"/>
<path color="#40e912" d="M248.5 115.8l1.3 4.6-1.6-6.1-1.4-4.8z"/>
<path color="#4ae912" d="M247.1 111.2l1.4 4.6-1.7-6.3-1.3-4.7z"/>
<path color="#52ea12" d="M245.8 106.6l1.3 4.6-1.6-6.4-1.3-4.8z"/>
<path color="#58ea12" d="M244.4 102l1.4 4.6-1.6-6.6-1.3-4.8z"/>
<path color="#1ad583" d="M261 157.7l1.4 4.4-1.8-4.8-1.4-4.6z"/>
<path color="#1ad562" d="M259.7 153.2l1.3 4.5-1.8-5-1.3-4.6z"/>
<path color="#1ad548" d="M258.3 148.8l1.4 4.4-1.8-5.1-1.3-4.6z"/>
<path color="#1ad53d" d="M256.9 144.3l1.4 4.5-1.7-5.3-1.4-4.6z"/>
<path color="#1ad533" d="M255.6 139.9l1.3 4.4-1.7-5.4-1.3-4.6z"/>
<path color="#12e917" d="M254.2 135.4l1.4 4.5-1.7-5.6-1.4-4.6z"/>
<path color="#17e912" d="M252.8 131l1.4 4.4-1.7-5.7-1.3-4.6z"/>
<path color="#23e912" d="M251.4 126.6l1.4 4.4-1.6-5.9-1.4-4.7z"/>
<path color="#2eea12" d="M250.1 122.1l1.3 4.5-1.6-6.2-1.3-4.6z"/>
<path color="#38ea12" d="M248.7 117.7l1.4 4.4-1.6-6.3-1.4-4.6z"/>
<path color="#3fea12" d="M247.3 113.2l1.4 4.5-1.6-6.5-1.3-4.6z"/>
<path color="#45eb12" d="M246 108.8l1.3 4.4-1.5-6.6-1.4-4.6z"/>
<path color="#1ad5a0" d="M262.8 162.6l1.4 4.3-1.8-4.8-1.4-4.4z"/>
<path color="#1ad577" d="M261.4 158.3l1.4 4.3-1.8-4.9-1.3-4.5z"/>
<path color="#1ad55b" d="M260 154.1l1.4 4.2-1.7-5.1-1.4-4.4z"/>
<path color="#1ad546" d="M258.6 149.8l1.4 4.3-1.7-5.3-1.4-4.5z"/>
<path color="#12e92d" d="M257.2 145.5l1.4 4.3-1.7-5.5-1.3-4.4z"/>
<path color="#12e923" d="M255.9 141.2l1.3 4.3-1.6-5.6-1.4-4.5z"/>
<path color="#12ea19" d="M254.5 136.9l1.4 4.3-1.7-5.8-1.4-4.4z"/>
<path color="#14ea12" d="M253.1 132.7l1.4 4.2-1.7-5.9-1.4-4.4z"/>
<path color="#1deb12" d="M251.7 128.4l1.4 4.3-1.7-6.1-1.3-4.5z"/>
<path color="#26eb12" d="M250.3 124.1l1.4 4.3-1.6-6.3-1.4-4.4z"/>
<path color="#2eeb12" d="M248.9 119.8l1.4 4.3-1.6-6.4-1.4-4.5z"/>
<path color="#33eb12" d="M247.5 115.5l1.4 4.3-1.6-6.6-1.3-4.4z"/>
<path color="#ffae2b" d="M223.8 47.9l6.6-6.9-1.5-6.8-6.7 7.5z"/>
<path color="#ffc02a" d="M217.1 54.7l6.7-6.8-1.6-6.2-6.8 7.5z"/>
<path color="#ffe329" d="M210.5 61.6l6.6-6.9-1.7-5.5-6.7 7.5z"/>
<path color="#ffff27" d="M203.8 68.4l6.7-6.8-1.8-4.9-6.8 7.5z"/>
<path color="#ffb52a" d="M225.4 54l6.6-6.2-1.6-6.8-6.6 6.9z"/>
<path color="#ffc829" d="M218.8 60.2l6.6-6.2-1.6-6.1-6.7 6.8z"/>
<path color="#ffea28" d="M212.3 66.4l6.5-6.2-1.7-5.5-6.6 6.9z"/>
<path color="#ffff28" d="M205.7 72.6l6.6-6.2-1.8-4.8-6.7 6.8z"/>
<path color="#ffbf28" d="M227.1 60.1l6.5-5.5-1.6-6.8-6.6 6.2z"/>
<path color="#ffd528" d="M220.6 65.7l6.5-5.6-1.7-6.1-6.6 6.2z"/>
<path color="#fff527" d="M214.1 71.3l6.5-5.6-1.8-5.5-6.5 6.2z"/>
<path color="#ffff25" d="M207.6 76.8l6.5-5.5-1.8-4.9-6.6 6.2z"/>
<path color="#ffd226" d="M228.7 66.3l6.4-5-1.5-6.7-6.5 5.5z"/>
<path color="#ffe626" d="M222.3 71.2l6.4-4.9-1.6-6.2-6.5 5.6z"/>
<path color="#ffff26" d="M215.9 76.1l6.4-4.9-1.7-5.5-6.5 5.6z"/>
<path color="#efff23" d="M209.4 81l6.5-4.9-1.8-4.8-6.5 5.5z"/>
<path color="#ffe924" d="M230.3 72.4l6.4-4.3-1.6-6.8-6.4 5z"/>
<path color="#fffb24" d="M224 76.7l6.3-4.3-1.6-6.1-6.4 4.9z"/>
<path color="#ffff24" d="M217.6 80.9l6.4-4.2-1.7-5.5-6.4 4.9z"/>
<path color="#d5ff21" d="M211.3 85.2l6.3-4.3-1.7-4.8-6.5 4.9z"/>
<path color="#ffff23" d="M232 78.5l6.2-3.6-1.5-6.8-6.4 4.3z"/>
<path color="#ffff23" d="M225.7 82.2l6.3-3.7-1.7-6.1-6.3 4.3z"/>
<path color="#e0ff21" d="M219.4 85.8l6.3-3.6-1.7-5.5-6.4 4.2z"/>
<path color="#b6ff1f" d="M213.2 89.4l6.2-3.6-1.8-4.9-6.3 4.3z"/>
<path color="#e8ff20" d="M233.6 84.7l6.2-3-1.6-6.8-6.2 3.6z"/>
<path color="#d6ff20" d="M227.4 87.6l6.2-2.9-1.6-6.2-6.3 3.7z"/>
<path color="#b7ff1f" d="M221.2 90.6l6.2-3-1.7-5.4-6.3 3.6z"/>
<path color="#95ff1d" d="M215.1 93.6l6.1-3-1.8-4.8-6.2 3.6z"/>
<path color="#b0ff1e" d="M235.2 90.8l6.1-2.4-1.5-6.7-6.2 3z"/>
<path color="#a3ff1d" d="M229.1 93.1l6.1-2.3-1.6-6.1-6.2 2.9z"/>
<path color="#8bff1d" d="M223 95.5l6.1-2.4-1.7-5.5-6.2 3z"/>
<path color="#80ff1c" d="M216.9 97.8l6.1-2.3-1.8-4.9-6.1 3z"/>
<path color="#81ff1c" d="M236.9 96.9l6-1.7-1.6-6.8-6.1 2.4z"/>
<path color="#7eff1b" d="M230.8 98.6l6.1-1.7-1.7-6.1-6.1 2.3z"/>
<path color="#78ff1b" d="M224.8 100.3l6-1.7-1.7-5.5-6.1 2.4z"/>
<path color="#71ff1a" d="M218.8 102l6-1.7-1.8-4.8-6.1 2.3z"/>
<path color="#6aff1a" d="M238.5 103l5.9-1-1.5-6.8-6 1.7z"/>
<path color="#6aff19" d="M232.6 104.1l5.9-1.1-1.6-6.1-6.1 1.7z"/>
<path color="#67ff19" d="M226.6 105.2l6-1.1-1.8-5.5-6 1.7z"/>
<path color="#62ff18" d="M220.7 106.2l5.9-1-1.8-4.9-6 1.7z"/>
<path color="#54ff18" d="M240.1 109.2l5.9-.4-1.6-6.8-5.9 1z"/>
<path color="#56ff18" d="M234.3 109.6l5.8-.4-1.6-6.2-5.9 1.1z"/>
<path color="#55ff17" d="M228.4 110l5.9-.4-1.7-5.5-6 1.1z"/>
<path color="#53ff17" d="M222.6 110.4l5.8-.4-1.8-4.8-5.9 1z"/>
<path color="#40ff17" d="M241.8 115.3l5.7 .2-1.5-6.7-5.9 .4z"/>
<path color="#43ff16" d="M236 115.1l5.8 .2-1.7-6.1-5.8 .4z"/>
<path color="#45ff16" d="M230.2 114.8l5.8 .3-1.7-5.5-5.9 .4z"/>
<path color="#45ff15" d="M224.5 114.6l5.7 .2-1.8-4.8-5.8 .4z"/>
<path color="#e0ff21" d="M199.2 78l6.5-5.4-3.8-8.4-6.5 6.1z"/>
<path color="#a9ff20" d="M192.7 83.4l6.5-5.4-3.8-7.7-6.6 6.1z"/>
<path color="#83ff1e" d="M186.2 88.8l6.5-5.4-3.9-7-6.6 6z"/>
<path color="#75ff1b" d="M179.8 94.1l6.4-5.3-4-6.4-6.5 6.1z"/>
<path color="#c6ff20" d="M203 85.7l6.4-4.7-3.7-8.4-6.5 5.4z"/>
<path color="#93ff1f" d="M196.7 90.4l6.3-4.7-3.8-7.7-6.5 5.4z"/>
<path color="#7cff1d" d="M190.3 95.1l6.4-4.7-4-7-6.5 5.4z"/>
<path color="#6fff1b" d="M183.9 99.8l6.4-4.7-4.1-6.3-6.4 5.3z"/>
<path color="#9bff1f" d="M206.9 93.4l6.3-4-3.8-8.4-6.4 4.7z"/>
<path color="#81ff1d" d="M200.6 97.4l6.3-4-3.9-7.7-6.3 4.7z"/>
<path color="#70ff1c" d="M194.3 101.4l6.3-4-3.9-7-6.4 4.7z"/>
<path color="#65ff1a" d="M188 105.4l6.3-4-4-6.3-6.4 4.7z"/>
<path color="#7cff1d" d="M210.7 101.1l6.2-3.3-3.7-8.4-6.3 4z"/>
<path color="#6fff1c" d="M204.5 104.4l6.2-3.3-3.8-7.7-6.3 4z"/>
<path color="#62ff1a" d="M198.3 107.7l6.2-3.3-3.9-7-6.3 4z"/>
<path color="#58ff19" d="M192.1 111l6.2-3.3-4-6.3-6.3 4z"/>
<path color="#65ff1b" d="M214.6 108.8l6.1-2.6-3.8-8.4-6.2 3.3z"/>
<path color="#5bff1a" d="M208.5 111.4l6.1-2.6-3.9-7.7-6.2 3.3z"/>
<path color="#51ff19" d="M202.3 114l6.2-2.6-4-7-6.2 3.3z"/>
<path color="#49ff18" d="M196.2 116.7l6.1-2.7-4-6.3-6.2 3.3z"/>
<path color="#4dff19" d="M218.4 116.5l6.1-1.9-3.8-8.4-6.1 2.6z"/>
<path color="#47ff18" d="M212.4 118.4l6-1.9-3.8-7.7-6.1 2.6z"/>
<path color="#40ff18" d="M206.3 120.4l6.1-2-3.9-7-6.2 2.6z"/>
<path color="#3aff17" d="M200.3 122.3l6-1.9-4-6.4-6.1 2.7z"/>
<path color="#67ff13" d="M176.4 97.9l7.5 1.9-8.2-11.3-7.6-1.3z"/>
<path color="#6eff13" d="M168.9 95.9l7.5 2-8.3-10.7-7.6-1.3z"/>
<path color="#76ff13" d="M161.4 94l7.5 1.9-8.4-10-7.6-1.2z"/>
<path color="#55ff13" d="M184.7 108.5l7.4 2.5-8.2-11.2-7.5-1.9z"/>
<path color="#5eff13" d="M177.3 105.9l7.4 2.6-8.3-10.6-7.5-2z"/>
<path color="#67ff12" d="M169.9 103.4l7.4 2.5-8.4-10-7.5-1.9z"/>
<path color="#3cff12" d="M193 119.1l7.3 3.2-8.2-11.3-7.4-2.5z"/>
<path color="#47ff12" d="M185.7 115.9l7.3 3.2-8.3-10.6-7.4-2.6z"/>
<path color="#53ff12" d="M178.3 112.7l7.4 3.2-8.4-10-7.4-2.5z"/>
<path color="#74ff16" d="M154.7 101l6.7-7-8.5-9.3-7.2 11.4z"/>
<path color="#56ff14" d="M148.1 107.9l6.6-6.9-9-4.9-7.2 11.5z"/>
<path color="#32ff12" d="M141.4 114.9l6.7-7-9.6-.3-7.3 11.5z"/>
<path color="#19fa12" d="M134.7 121.9l6.7-7-10.2 4.2-7.2 11.5z"/>
<path color="#6cff16" d="M163.8 105.8l6.1-2.4-8.5-9.4-6.7 7z"/>
<path color="#5cff13" d="M157.7 108.3l6.1-2.5-9.1-4.8-6.6 6.9z"/>
<path color="#4aff12" d="M151.5 110.7l6.2-2.4-9.6-.4-6.7 7z"/>
<path color="#3cf612" d="M145.4 113.2l6.1-2.5-10.1 4.2-6.7 7z"/>
<path color="#5eff13" d="M172.8 110.7l5.5 2-8.4-9.3-6.1 2.4z"/>
<path color="#5dff12" d="M167.3 108.6l5.5 2.1-9-4.9-6.1 2.5z"/>
<path color="#55d525" d="M161.7 106.6l5.6 2-9.6-.3-6.2 2.4z"/>
<path color="#55d525" d="M156.2 104.5l5.5 2.1-10.2 4.1-6.1 2.5z"/>
<path color="#1ad525" d="M128.5 125.3l6.2-3.4-10.7 8.7-5.7-1z"/>
<path color="#1ad525" d="M122.2 128.7l6.3-3.4-10.2 4.3-5.7-1z"/>
<path color="#12ff16" d="M116 132.2l6.2-3.5-9.6-.1-5.7-.9z"/>
<path color="#14ff1a" d="M109.8 135.6l6.2-3.4-9.1-4.5-5.7-1z"/>
<path color="#34f712" d="M138.7 121l6.7-7.8-10.7 8.7-6.2 3.4z"/>
<path color="#29ff12" d="M131.9 128.8l6.8-7.8-10.2 4.3-6.3 3.4z"/>
<path color="#18ff13" d="M125.1 136.6l6.8-7.8-9.7-.1-6.2 3.5z"/>
<path color="#16ff1f" d="M118.3 144.4l6.8-7.8-9.1-4.4-6.2 3.4z"/>
<path color="#55fa12" d="M148.8 116.7l7.4-12.2-10.8 8.7-6.7 7.8z"/>
<path color="#3fff12" d="M141.5 128.9l7.3-12.2-10.1 4.3-6.8 7.8z"/>
<path color="#1eff13" d="M134.2 141.1l7.3-12.2-9.6-.1-6.8 7.8z"/>
<path color="#16ff24" d="M126.8 153.3l7.4-12.2-9.1-4.5-6.8 7.8z"/>
<path color="#18ff1f" d="M103.2 137.8l4.4-4.4-6.4-6.7-4.3 4.1z"/>
<path color="#19ff24" d="M98.8 142.1l4.4-4.3-6.3-7-4.4 4z"/>
<path color="#19ff2b" d="M94.4 146.5l4.4-4.4-6.3-7.3-4.4 4.1z"/>
<path color="#1aff35" d="M90 150.9l4.4-4.4-6.3-7.6-4.4 4z"/>
<path color="#1aff40" d="M85.5 155.3l4.5-4.4-6.3-8-4.4 4.1z"/>
<path color="#1bff4c" d="M81.1 159.6l4.4-4.3-6.2-8.3-4.3 4z"/>
<path color="#18ff25" d="M109.6 144.7l4.4-4.7-6.4-6.6-4.4 4.4z"/>
<path color="#19ff2c" d="M105.1 149.4l4.5-4.7-6.4-6.9-4.4 4.3z"/>
<path color="#19ff34" d="M100.6 154.1l4.5-4.7-6.3-7.3-4.4 4.4z"/>
<path color="#1aff3e" d="M96.2 158.8l4.4-4.7-6.2-7.6-4.4 4.4z"/>
<path color="#1aff49" d="M91.7 163.6l4.5-4.8-6.2-7.9-4.5 4.4z"/>
<path color="#1bff64" d="M87.3 168.3l4.4-4.7-6.2-8.3-4.4 4.3z"/>
<path color="#18ff2f" d="M115.9 151.7l4.5-5-6.4-6.7-4.4 4.7z"/>
<path color="#19ff38" d="M111.4 156.7l4.5-5-6.3-7-4.5 4.7z"/>
<path color="#19ff42" d="M106.9 161.8l4.5-5.1-6.3-7.3-4.5 4.7z"/>
<path color="#1aff4f" d="M102.4 166.8l4.5-5-6.3-7.7-4.4 4.7z"/>
<path color="#1bff6b" d="M97.9 171.8l4.5-5-6.2-8-4.5 4.8z"/>
<path color="#1bff88" d="M93.4 176.9l4.5-5.1-6.2-8.2-4.4 4.7z"/>
<path color="#18ff39" d="M122.3 158.7l4.5-5.4-6.4-6.6-4.5 5z"/>
<path color="#19ff45" d="M117.7 164l4.6-5.3-6.4-7-4.5 5z"/>
<path color="#19ff5b" d="M113.2 169.4l4.5-5.4-6.3-7.3-4.5 5.1z"/>
<path color="#1aff78" d="M108.7 174.8l4.5-5.4-6.3-7.6-4.5 5z"/>
<path color="#1bff98" d="M104.1 180.1l4.6-5.3-6.3-8-4.5 5z"/>
<path color="#1bffbf" d="M99.6 185.5l4.5-5.4-6.2-8.3-4.5 5.1z"/>
<path color="#12e9b7" d="M263.8 165.9l2.2 6.2-1.8-5.2-2.1-6.4z"/>
<path color="#12ea72" d="M261.7 159.7l2.1 6.2-1.7-5.4-2.1-6.4z"/>
<path color="#12ea45" d="M259.6 153.5l2.1 6.2-1.7-5.6-2.1-6.5z"/>
<path color="#12eb30" d="M257.5 147.3l2.1 6.2-1.7-5.9-2-6.4z"/>
<path color="#12eb22" d="M255.4 141.2l2.1 6.1-1.6-6.1-2.1-6.4z"/>
<path color="#12ec15" d="M253.3 135l2.1 6.2-1.6-6.4-2.1-6.4z"/>
<path color="#18ec12" d="M251.1 128.8l2.2 6.2-1.6-6.6-2.1-6.4z"/>
<path color="#21ed12" d="M249 122.6l2.1 6.2-1.5-6.8-2.1-6.5z"/>
<path color="#12ead9" d="M265.6 171.3l2.1 5.9-1.7-5.1-2.2-6.2z"/>
<path color="#12eb96" d="M263.4 165.3l2.2 6-1.8-5.4-2.1-6.2z"/>
<path color="#12eb60" d="M261.3 159.4l2.1 5.9-1.7-5.6-2.1-6.2z"/>
<path color="#12ec3b" d="M259.1 153.5l2.2 5.9-1.7-5.9-2.1-6.2z"/>
<path color="#12ec2d" d="M257 147.5l2.1 6-1.6-6.2-2.1-6.1z"/>
<path color="#12ed21" d="M254.8 141.6l2.2 5.9-1.6-6.3-2.1-6.2z"/>
<path color="#12ed18" d="M252.7 135.6l2.1 6-1.5-6.6-2.2-6.2z"/>
<path color="#13ee12" d="M250.5 129.7l2.2 5.9-1.6-6.8-2.1-6.2z"/>
<path color="#12deeb" d="M267.3 176.7l2.2 5.7-1.8-5.2-2.1-5.9z"/>
<path color="#12ecbd" d="M265.1 171l2.2 5.7-1.7-5.4-2.2-6z"/>
<path color="#12ec7f" d="M262.9 165.3l2.2 5.7-1.7-5.7-2.1-5.9z"/>
<path color="#12ed55" d="M260.8 159.6l2.1 5.7-1.6-5.9-2.2-5.9z"/>
<path color="#12ed39" d="M258.6 153.9l2.2 5.7-1.7-6.1-2.1-6z"/>
<path color="#12ee2d" d="M256.4 148.2l2.2 5.7-1.6-6.4-2.2-5.9z"/>
<path color="#12ee24" d="M254.2 142.5l2.2 5.7-1.6-6.6-2.1-6z"/>
<path color="#12ee1d" d="M252.1 136.8l2.1 5.7-1.5-6.9-2.2-5.9z"/>
<path color="#12c0ec" d="M269 182l2.2 5.5-1.7-5.1-2.2-5.7z"/>
<path color="#12ede4" d="M266.8 176.6l2.2 5.4-1.7-5.3-2.2-5.7z"/>
<path color="#12edaa" d="M264.6 171.1l2.2 5.5-1.7-5.6-2.2-5.7z"/>
<path color="#12ee74" d="M262.4 165.7l2.2 5.4-1.7-5.8-2.1-5.7z"/>
<path color="#12ee51" d="M260.2 160.2l2.2 5.5-1.6-6.1-2.2-5.7z"/>
<path color="#12ee3a" d="M258 154.8l2.2 5.4-1.6-6.3-2.2-5.7z"/>
<path color="#12ef31" d="M255.8 149.3l2.2 5.5-1.6-6.6-2.2-5.7z"/>
<path color="#12ef2a" d="M253.6 143.8l2.2 5.5-1.6-6.8-2.1-5.7z"/>
<path color="#12a6ed" d="M270.7 187.4l2.3 5.3-1.8-5.2-2.2-5.5z"/>
<path color="#12d4ed" d="M268.5 182.2l2.2 5.2-1.7-5.4-2.2-5.4z"/>
<path color="#12eed7" d="M266.3 177l2.2 5.2-1.7-5.6-2.2-5.5z"/>
<path color="#12eea0" d="M264 171.8l2.3 5.2-1.7-5.9-2.2-5.4z"/>
<path color="#12ef72" d="M261.8 166.6l2.2 5.2-1.6-6.1-2.2-5.5z"/>
<path color="#12ef55" d="M259.6 161.3l2.2 5.3-1.6-6.4-2.2-5.4z"/>
<path color="#12f03d" d="M257.3 156.1l2.3 5.2-1.6-6.5-2.2-5.5z"/>
<path color="#12f036" d="M255.1 150.9l2.2 5.2-1.5-6.8-2.2-5.5z"/>
<path color="#128bee" d="M272.5 192.8l2.2 5-1.7-5.1-2.3-5.3z"/>
<path color="#12b5ee" d="M270.2 187.8l2.3 5-1.8-5.4-2.2-5.2z"/>
<path color="#12e1ef" d="M267.9 182.9l2.3 4.9-1.7-5.6-2.2-5.2z"/>
<path color="#12efcf" d="M265.7 177.9l2.2 5-1.6-5.9-2.3-5.2z"/>
<path color="#12f0a0" d="M263.4 172.9l2.3 5-1.7-6.1-2.2-5.2z"/>
<path color="#12f077" d="M261.1 167.9l2.3 5-1.6-6.3-2.2-5.3z"/>
<path color="#12f15e" d="M258.9 163l2.2 4.9-1.5-6.6-2.3-5.2z"/>
<path color="#12f14b" d="M256.6 158l2.3 5-1.6-6.9-2.2-5.2z"/>
<path color="#1276ef" d="M274.2 198.2l2.3 4.8-1.8-5.2-2.2-5z"/>
<path color="#1299f0" d="M271.9 193.5l2.3 4.7-1.7-5.4-2.3-5z"/>
<path color="#12bff0" d="M269.6 188.7l2.3 4.8-1.7-5.7-2.3-4.9z"/>
<path color="#12e9f0" d="M267.3 184l2.3 4.7-1.7-5.8-2.2-5z"/>
<path color="#12f1d0" d="M265 179.3l2.3 4.7-1.6-6.1-2.3-5z"/>
<path color="#12f1a7" d="M262.7 174.5l2.3 4.8-1.6-6.4-2.3-5z"/>
<path color="#12f284" d="M260.4 169.8l2.3 4.7-1.6-6.6-2.2-4.9z"/>
<path color="#12f26d" d="M258.1 165.1l2.3 4.7-1.5-6.8-2.3-5z"/>
<path color="#126af0" d="M275.9 203.6l2.3 4.5-1.7-5.1-2.3-4.8z"/>
<path color="#127ef1" d="M273.6 199.1l2.3 4.5-1.7-5.4-2.3-4.7z"/>
<path color="#12a2f1" d="M271.2 194.6l2.4 4.5-1.7-5.6-2.3-4.8z"/>
<path color="#12c4f2" d="M268.9 190.1l2.3 4.5-1.6-5.9-2.3-4.7z"/>
<path color="#12e9f2" d="M266.6 185.6l2.3 4.5-1.6-6.1-2.3-4.7z"/>
<path color="#12f2d9" d="M264.3 181.1l2.3 4.5-1.6-6.3-2.3-4.8z"/>
<path color="#12f3b6" d="M261.9 176.6l2.4 4.5-1.6-6.6-2.3-4.7z"/>
<path color="#12f399" d="M259.6 172.1l2.3 4.5-1.5-6.8-2.3-4.7z"/>
<path color="#125ff1" d="M277.6 209l2.4 4.2-1.8-5.1-2.3-4.5z"/>
<path color="#1270f2" d="M275.3 204.7l2.3 4.3-1.7-5.4-2.3-4.5z"/>
<path color="#1286f2" d="M272.9 200.5l2.4 4.2-1.7-5.6-2.4-4.5z"/>
<path color="#12a6f3" d="M270.6 196.2l2.3 4.3-1.7-5.9-2.3-4.5z"/>
<path color="#12c4f3" d="M268.2 192l2.4 4.2-1.7-6.1-2.3-4.5z"/>
<path color="#12e4f3" d="M265.8 187.7l2.4 4.3-1.6-6.4-2.3-4.5z"/>
<path color="#12f4e6" d="M263.5 183.5l2.3 4.2-1.5-6.6-2.4-4.5z"/>
<path color="#12f4cb" d="M261.1 179.2l2.4 4.3-1.6-6.9-2.3-4.5z"/>
<path color="#1255f2" d="M279.3 214.4l2.4 4-1.7-5.2-2.4-4.2z"/>
<path color="#1265f3" d="M277 210.4l2.3 4-1.7-5.4-2.3-4.3z"/>
<path color="#1274f3" d="M274.6 206.3l2.4 4.1-1.7-5.7-2.4-4.2z"/>
<path color="#128af4" d="M272.2 202.3l2.4 4-1.7-5.8-2.3-4.3z"/>
<path color="#12a6f4" d="M269.8 198.3l2.4 4-1.6-6.1-2.4-4.2z"/>
<path color="#12c0f4" d="M267.4 194.3l2.4 4-1.6-6.3-2.4-4.3z"/>
<path color="#12dbf5" d="M265 190.3l2.4 4-1.6-6.6-2.3-4.2z"/>
<path color="#12f3f5" d="M262.6 186.3l2.4 4-1.5-6.8-2.4-4.3z"/>
<path color="#124cf4" d="M281.1 219.8l2.4 3.7-1.8-5.1-2.4-4z"/>
<path color="#125bf4" d="M278.7 216l2.4 3.8-1.8-5.4-2.3-4z"/>
<path color="#1269f4" d="M276.2 212.2l2.5 3.8-1.7-5.6-2.4-4.1z"/>
<path color="#1276f5" d="M273.8 208.4l2.4 3.8-1.6-5.9-2.4-4z"/>
<path color="#128af5" d="M271.4 204.7l2.4 3.7-1.6-6.1-2.4-4z"/>
<path color="#12a2f6" d="M269 200.9l2.4 3.8-1.6-6.4-2.4-4z"/>
<path color="#12b8f6" d="M266.6 197.1l2.4 3.8-1.6-6.6-2.4-4z"/>
<path color="#12cdf6" d="M264.2 193.3l2.4 3.8-1.6-6.8-2.4-4z"/>
<path color="#1244f5" d="M282.8 225.2l2.4 3.5-1.7-5.2-2.4-3.7z"/>
<path color="#1252f5" d="M280.3 221.6l2.5 3.6-1.7-5.4-2.4-3.8z"/>
<path color="#125ef6" d="M277.9 218.1l2.4 3.5-1.6-5.6-2.5-3.8z"/>
<path color="#126bf6" d="M275.5 214.5l2.4 3.6-1.7-5.9-2.4-3.8z"/>
<path color="#1276f6" d="M273 211l2.5 3.5-1.7-6.1-2.4-3.7z"/>
<path color="#1286f7" d="M270.6 207.5l2.4 3.5-1.6-6.3-2.4-3.8z"/>
<path color="#129bf7" d="M268.1 203.9l2.5 3.6-1.6-6.6-2.4-3.8z"/>
<path color="#12aef7" d="M265.7 200.4l2.4 3.5-1.5-6.8-2.4-3.8z"/>
<path color="#2dff16" d="M243.3 122.1l5.7 .5-1.5-7.1-5.7-.2z"/>
<path color="#32ff16" d="M237.6 121.6l5.7 .5-1.5-6.8-5.8-.2z"/>
<path color="#36ff16" d="M231.8 121.1l5.8 .5-1.6-6.5-5.8-.3z"/>
<path color="#38ff16" d="M226.1 120.7l5.7 .4-1.6-6.3-5.7-.2z"/>
<path color="#1cff15" d="M244.8 128.9l5.7 .8-1.5-7.1-5.7-.5z"/>
<path color="#21ff15" d="M239.1 128.2l5.7 .7-1.5-6.8-5.7-.5z"/>
<path color="#26ff15" d="M233.4 127.5l5.7 .7-1.5-6.6-5.8-.5z"/>
<path color="#2aff15" d="M227.7 126.7l5.7 .8-1.6-6.4-5.7-.4z"/>
<path color="#15ff1c" d="M246.4 135.8l5.7 1-1.6-7.1-5.7-.8z"/>
<path color="#15ff16" d="M240.7 134.8l5.7 1-1.6-6.9-5.7-.7z"/>
<path color="#18ff15" d="M235.1 133.8l5.6 1-1.6-6.6-5.7-.7z"/>
<path color="#1cff15" d="M229.4 132.8l5.7 1-1.7-6.3-5.7-.8z"/>
<path color="#15ff28" d="M247.9 142.6l5.7 1.2-1.5-7-5.7-1z"/>
<path color="#15ff22" d="M242.3 141.3l5.6 1.3-1.5-6.8-5.7-1z"/>
<path color="#15ff1d" d="M236.7 140.1l5.6 1.2-1.6-6.5-5.6-1z"/>
<path color="#14ff18" d="M231 138.8l5.7 1.3-1.6-6.3-5.7-1z"/>
<path color="#14ff35" d="M249.5 149.4l5.6 1.5-1.5-7.1-5.7-1.2z"/>
<path color="#14ff2e" d="M243.9 147.9l5.6 1.5-1.6-6.8-5.6-1.3z"/>
<path color="#14ff28" d="M238.3 146.4l5.6 1.5-1.6-6.6-5.6-1.2z"/>
<path color="#14ff23" d="M232.7 144.9l5.6 1.5-1.6-6.3-5.7-1.3z"/>
<path color="#14ff42" d="M251 156.2l5.6 1.8-1.5-7.1-5.6-1.5z"/>
<path color="#14ff3a" d="M245.5 154.5l5.5 1.7-1.5-6.8-5.6-1.5z"/>
<path color="#14ff34" d="M239.9 152.7l5.6 1.8-1.6-6.6-5.6-1.5z"/>
<path color="#14ff2e" d="M234.3 150.9l5.6 1.8-1.6-6.3-5.6-1.5z"/>
<path color="#14ff61" d="M252.6 163l5.5 2.1-1.5-7.1-5.6-1.8z"/>
<path color="#14ff4b" d="M247 161l5.6 2-1.6-6.8-5.5-1.7z"/>
<path color="#14ff3f" d="M241.5 159l5.5 2-1.5-6.5-5.6-1.8z"/>
<path color="#14ff39" d="M236 157l5.5 2-1.6-6.3-5.6-1.8z"/>
<path color="#13ff83" d="M254.1 169.9l5.5 2.2-1.5-7-5.5-2.1z"/>
<path color="#13ff6c" d="M248.6 167.6l5.5 2.3-1.5-6.9-5.6-2z"/>
<path color="#13ff58" d="M243.1 165.3l5.5 2.3-1.6-6.6-5.5-2z"/>
<path color="#13ff45" d="M237.6 163l5.5 2.3-1.6-6.3-5.5-2z"/>
<path color="#13ffb6" d="M255.7 176.7l5.4 2.5-1.5-7.1-5.5-2.2z"/>
<path color="#13ff92" d="M250.2 174.1l5.5 2.6-1.6-6.8-5.5-2.3z"/>
<path color="#13ff77" d="M244.7 171.6l5.5 2.5-1.6-6.5-5.5-2.3z"/>
<path color="#13ff64" d="M239.2 169.1l5.5 2.5-1.6-6.3-5.5-2.3z"/>
<path color="#13ffe7" d="M257.2 183.5l5.4 2.8-1.5-7.1-5.4-2.5z"/>
<path color="#13ffc2" d="M251.8 180.7l5.4 2.8-1.5-6.8-5.5-2.6z"/>
<path color="#13ffa1" d="M246.3 177.9l5.5 2.8-1.6-6.6-5.5-2.5z"/>
<path color="#13ff83" d="M240.9 175.1l5.4 2.8-1.6-6.3-5.5-2.5z"/>
<path color="#13f3ff" d="M258.7 190.3l5.5 3-1.6-7-5.4-2.8z"/>
<path color="#13fff0" d="M253.3 187.3l5.4 3-1.5-6.8-5.4-2.8z"/>
<path color="#13ffd0" d="M247.9 184.2l5.4 3.1-1.5-6.6-5.5-2.8z"/>
<path color="#13ffb1" d="M242.5 181.2l5.4 3-1.6-6.3-5.4-2.8z"/>
<path color="#13ccff" d="M260.3 197.1l5.4 3.3-1.5-7.1-5.5-3z"/>
<path color="#13ebff" d="M254.9 193.8l5.4 3.3-1.6-6.8-5.4-3z"/>
<path color="#13fffb" d="M249.5 190.5l5.4 3.3-1.6-6.5-5.4-3.1z"/>
<path color="#12ffdf" d="M244.2 187.2l5.3 3.3-1.6-6.3-5.4-3z"/>
<path color="#39ff1a" d="M219 125.5l7.9-1.8-2.4-9.1-8.1 2.6z"/>
<path color="#34ff1a" d="M211 127.3l8-1.8-2.6-8.3-8 2.5z"/>
<path color="#2fff19" d="M203.1 129.1l7.9-1.8-2.6-7.6-8.1 2.6z"/>
<path color="#25ff19" d="M221.5 133.8l7.9-1-2.5-9.1-7.9 1.8z"/>
<path color="#23ff18" d="M213.7 134.9l7.8-1.1-2.5-8.3-8 1.8z"/>
<path color="#20ff18" d="M205.8 136l7.9-1.1-2.7-7.6-7.9 1.8z"/>
<path color="#17ff1a" d="M224.1 142.2l7.8-.4-2.5-9-7.9 1z"/>
<path color="#17ff19" d="M216.3 142.5l7.8-.3-2.6-8.4-7.8 1.1z"/>
<path color="#16ff18" d="M208.6 142.8l7.7-.3-2.6-7.6-7.9 1.1z"/>
<path color="#16ff29" d="M226.6 150.5l7.7 .4-2.4-9.1-7.8 .4z"/>
<path color="#16ff26" d="M219 150l7.6 .5-2.5-8.3-7.8 .3z"/>
<path color="#15ff23" d="M211.3 149.6l7.7 .4-2.7-7.5-7.7 .3z"/>
<path color="#15ff38" d="M229.2 158.8l7.6 1.2-2.5-9.1-7.7-.4z"/>
<path color="#15ff33" d="M221.6 157.6l7.6 1.2-2.6-8.3-7.6-.5z"/>
<path color="#15ff2e" d="M214.1 156.4l7.5 1.2-2.6-7.6-7.7-.4z"/>
<path color="#14ff4b" d="M231.8 167.1l7.4 2-2.4-9.1-7.6-1.2z"/>
<path color="#14ff41" d="M224.3 165.2l7.5 1.9-2.6-8.3-7.6-1.2z"/>
<path color="#14ff3b" d="M216.8 163.3l7.5 1.9-2.7-7.6-7.5-1.2z"/>
<path color="#14ff78" d="M234.3 175.5l7.4 2.6-2.5-9-7.4-2z"/>
<path color="#13ff64" d="M226.9 172.8l7.4 2.7-2.5-8.4-7.5-1.9z"/>
<path color="#13ff4f" d="M219.6 170.1l7.3 2.7-2.6-7.6-7.5-1.9z"/>
<path color="#13ffb4" d="M236.9 183.8l7.3 3.4-2.5-9.1-7.4-2.6z"/>
<path color="#13ff93" d="M229.6 180.4l7.3 3.4-2.6-8.3-7.4-2.7z"/>
<path color="#13ff75" d="M222.3 176.9l7.3 3.5-2.7-7.6-7.3-2.7z"/>
<path color="#24ff12" d="M198.7 131l7.1 5-5.5-13.7-7.3-3.2z"/>
<path color="#31ff12" d="M191.6 126.1l7.1 4.9-5.7-11.9-7.3-3.2z"/>
<path color="#42ff12" d="M184.5 121.1l7.1 5-5.9-10.2-7.4-3.2z"/>
<path color="#12fc14" d="M204.4 142.9l6.9 6.7-5.5-13.6-7.1-5z"/>
<path color="#1dfb12" d="M197.5 136.3l6.9 6.6-5.7-11.9-7.1-4.9z"/>
<path color="#33f912" d="M190.7 129.6l6.8 6.7-5.9-10.2-7.1-5z"/>
<path color="#12f827" d="M210.1 154.9l6.7 8.4-5.5-13.7-6.9-6.7z"/>
<path color="#12f618" d="M203.5 146.4l6.6 8.5-5.7-12-6.9-6.6z"/>
<path color="#22f512" d="M196.8 138l6.7 8.4-6-10.1-6.8-6.7z"/>
<path color="#12f43e" d="M215.9 166.8l6.4 10.1-5.5-13.6-6.7-8.4z"/>
<path color="#12f22b" d="M209.4 156.6l6.5 10.2-5.8-11.9-6.6-8.5z"/>
<path color="#12f013" d="M203 146.5l6.4 10.1-5.9-10.2-6.7-8.4z"/>
<path color="#4efc12" d="M179.7 115.4l1.7 1.5-3.1-4.2-1.8-.7z"/>
<path color="#52f912" d="M177.9 113.9l1.8 1.5-3.2-3.4-1.9-.7z"/>
<path color="#55f612" d="M176.2 112.4l1.7 1.5-3.3-2.6-1.8-.6z"/>
<path color="#54d525" d="M174.5 110.8l1.7 1.6-3.4-1.7-1.9-.7z"/>
<path color="#58d525" d="M172.7 109.3l1.8 1.5-3.6-.8-1.8-.7z"/>
<path color="#5cd525" d="M171 107.8l1.7 1.5-3.6 0-1.8-.7z"/>
<path color="#5fd525" d="M169.2 106.3l1.8 1.5-3.7 .8-1.9-.7z"/>
<path color="#63d525" d="M167.5 104.8l1.7 1.5-3.8 1.6-1.8-.6z"/>
<path color="#66d525" d="M165.7 103.2l1.8 1.6-3.9 2.5-1.9-.7z"/>
<path color="#69d525" d="M164 101.7l1.7 1.5-4 3.4-1.8-.7z"/>
<path color="#6bd525" d="M162.3 100.2l1.7 1.5-4.1 4.2-1.9-.7z"/>
<path color="#6cd525" d="M160.5 98.7l1.8 1.5-4.3 5-1.8-.7z"/>
<path color="#47f212" d="M182.9 118.8l1.6 2.3-3.1-4.2-1.7-1.5z"/>
<path color="#4ad525" d="M181.2 116.4l1.7 2.4-3.2-3.4-1.8-1.5z"/>
<path color="#4fd525" d="M179.6 114.1l1.6 2.3-3.3-2.5-1.7-1.5z"/>
<path color="#55d525" d="M178 111.7l1.6 2.4-3.4-1.7-1.7-1.6z"/>
<path color="#5bd525" d="M176.3 109.3l1.7 2.4-3.5-.9-1.8-1.5z"/>
<path color="#62d525" d="M174.7 107l1.6 2.3-3.6 0-1.7-1.5z"/>
<path color="#68d525" d="M173.1 104.6l1.6 2.4-3.7 .8-1.8-1.5z"/>
<path color="#72d525" d="M171.4 102.3l1.7 2.3-3.9 1.7-1.7-1.5z"/>
<path color="#81d525" d="M169.8 99.9l1.6 2.4-3.9 2.5-1.8-1.6z"/>
<path color="#8ed525" d="M168.2 97.5l1.6 2.4-4.1 3.3-1.7-1.5z"/>
<path color="#98d525" d="M166.5 95.2l1.7 2.3-4.2 4.2-1.7-1.5z"/>
<path color="#9fd525" d="M164.9 92.8l1.6 2.4-4.2 5-1.8-1.5z"/>
<path color="#42d525" d="M186 122.2l1.6 3.2-3.1-4.3-1.6-2.3z"/>
<path color="#47d525" d="M184.5 119l1.5 3.2-3.1-3.4-1.7-2.4z"/>
<path color="#4ed525" d="M183 115.8l1.5 3.2-3.3-2.6-1.6-2.3z"/>
<path color="#56d525" d="M181.5 112.6l1.5 3.2-3.4-1.7-1.6-2.4z"/>
<path color="#5fd525" d="M179.9 109.4l1.6 3.2-3.5-.9-1.7-2.4z"/>
<path color="#69d525" d="M178.4 106.2l1.5 3.2-3.6-.1-1.6-2.3z"/>
<path color="#7dd525" d="M176.9 103l1.5 3.2-3.7 .8-1.6-2.4z"/>
<path color="#97d525" d="M175.4 99.7l1.5 3.3-3.8 1.6-1.7-2.3z"/>
<path color="#aed525" d="M173.8 96.5l1.6 3.2-4 2.6-1.6-2.4z"/>
<path color="#c1d525" d="M172.3 93.3l1.5 3.2-4 3.4-1.6-2.4z"/>
<path color="#d0d525" d="M170.8 90.1l1.5 3.2-4.1 4.2-1.7-2.3z"/>
<path color="#d2d125" d="M169.2 86.9l1.6 3.2-4.3 5.1-1.6-2.4z"/>
<path color="#3ed525" d="M189.2 125.5l1.5 4.1-3.1-4.2-1.6-3.2z"/>
<path color="#45d525" d="M187.8 121.5l1.4 4-3.2-3.3-1.5-3.2z"/>
<path color="#4dd525" d="M186.4 117.5l1.4 4-3.3-2.5-1.5-3.2z"/>
<path color="#57d525" d="M185 113.4l1.4 4.1-3.4-1.7-1.5-3.2z"/>
<path color="#63d525" d="M183.5 109.4l1.5 4-3.5-.8-1.6-3.2z"/>
<path color="#78d525" d="M182.1 105.3l1.4 4.1-3.6 0-1.5-3.2z"/>
<path color="#9bd525" d="M180.7 101.3l1.4 4-3.7 .9-1.5-3.2z"/>
<path color="#bdd525" d="M179.3 97.2l1.4 4.1-3.8 1.7-1.5-3.3z"/>
<path color="#d2cf25" d="M177.9 93.2l1.4 4-3.9 2.5-1.6-3.2z"/>
<path color="#d2c125" d="M176.4 89.2l1.5 4-4.1 3.3-1.5-3.2z"/>
<path color="#d2b625" d="M175 85.1l1.4 4.1-4.1 4.1-1.5-3.2z"/>
<path color="#d2af25" d="M173.6 81.1l1.4 4-4.2 5-1.6-3.2z"/>
<path color="#3ad525" d="M192.4 128.9l1.3 4.9-3-4.2-1.5-4.1z"/>
<path color="#42d525" d="M191.1 124l1.3 4.9-3.2-3.4-1.4-4z"/>
<path color="#4cd525" d="M189.8 119.2l1.3 4.8-3.3-2.5-1.4-4z"/>
<path color="#58d525" d="M188.5 114.3l1.3 4.9-3.4-1.7-1.4-4.1z"/>
<path color="#68d525" d="M187.2 109.4l1.3 4.9-3.5-.9-1.5-4z"/>
<path color="#8cd525" d="M185.8 104.5l1.4 4.9-3.7 0-1.4-4.1z"/>
<path color="#b9d525" d="M184.5 99.6l1.3 4.9-3.7 .8-1.4-4z"/>
<path color="#d2cc25" d="M183.2 94.7l1.3 4.9-3.8 1.7-1.4-4.1z"/>
<path color="#d2b625" d="M181.9 89.9l1.3 4.8-3.9 2.5-1.4-4z"/>
<path color="#d2a425" d="M180.6 85l1.3 4.9-4 3.3-1.5-4z"/>
<path color="#d29725" d="M179.3 80.1l1.3 4.9-4.2 4.2-1.4-4.1z"/>
<path color="#d29025" d="M177.9 75.2l1.4 4.9-4.3 5-1.4-4z"/>
<path color="#35d525" d="M195.6 132.3l1.2 5.7-3.1-4.2-1.3-4.9z"/>
<path color="#3fd525" d="M194.4 126.6l1.2 5.7-3.2-3.4-1.3-4.9z"/>
<path color="#4ad525" d="M193.2 120.9l1.2 5.7-3.3-2.6-1.3-4.8z"/>
<path color="#59d525" d="M192 115.1l1.2 5.8-3.4-1.7-1.3-4.9z"/>
<path color="#6cd525" d="M190.8 109.4l1.2 5.7-3.5-.8-1.3-4.9z"/>
<path color="#9fd525" d="M189.6 103.7l1.2 5.7-3.6 0-1.4-4.9z"/>
<path color="#d2d525" d="M188.3 98l1.3 5.7-3.8 .8-1.3-4.9z"/>
<path color="#d2b925" d="M187.1 92.2l1.2 5.8-3.8 1.6-1.3-4.9z"/>
<path color="#d2a025" d="M185.9 86.5l1.2 5.7-3.9 2.5-1.3-4.8z"/>
<path color="#d28e25" d="M184.7 80.8l1.2 5.7-4 3.4-1.3-4.9z"/>
<path color="#d28225" d="M183.5 75.1l1.2 5.7-4.1 4.2-1.3-4.9z"/>
<path color="#d27a25" d="M182.3 69.4l1.2 5.7-4.2 5-1.4-4.9z"/>
<path color="#2fd525" d="M198.8 135.7l1.1 6.5-3.1-4.2-1.2-5.7z"/>
<path color="#3ad525" d="M197.7 129.1l1.1 6.6-3.2-3.4-1.2-5.7z"/>
<path color="#49d525" d="M196.6 122.6l1.1 6.5-3.3-2.5-1.2-5.7z"/>
<path color="#5ad525" d="M195.5 116l1.1 6.6-3.4-1.7-1.2-5.8z"/>
<path color="#72d525" d="M194.4 109.4l1.1 6.6-3.5-.9-1.2-5.7z"/>
<path color="#add525" d="M193.3 102.9l1.1 6.5-3.6 0-1.2-5.7z"/>
<path color="#d2c925" d="M192.2 96.3l1.1 6.6-3.7 .8-1.3-5.7z"/>
<path color="#d2aa25" d="M191.1 89.7l1.1 6.6-3.9 1.7-1.2-5.8z"/>
<path color="#d29125" d="M190 83.2l1.1 6.5-4 2.5-1.2-5.7z"/>
<path color="#d27f25" d="M188.9 76.6l1.1 6.6-4.1 3.3-1.2-5.7z"/>
<path color="#d27125" d="M187.8 70.1l1.1 6.5-4.2 4.2-1.2-5.7z"/>
<path color="#d26b25" d="M186.7 63.5l1.1 6.6-4.3 5-1.2-5.7z"/>
<path color="#27d525" d="M202 139.1l1 7.4-3.1-4.3-1.1-6.5z"/>
<path color="#35d525" d="M201 131.7l1 7.4-3.2-3.4-1.1-6.6z"/>
<path color="#46d525" d="M200 124.3l1 7.4-3.3-2.6-1.1-6.5z"/>
<path color="#5ad525" d="M199 116.9l1 7.4-3.4-1.7-1.1-6.6z"/>
<path color="#77d525" d="M198 109.5l1 7.4-3.5-.9-1.1-6.6z"/>
<path color="#b6d525" d="M197 102l1 7.5-3.6-.1-1.1-6.5z"/>
<path color="#d2c225" d="M196 94.6l1 7.4-3.7 .9-1.1-6.6z"/>
<path color="#d2a125" d="M195 87.2l1 7.4-3.8 1.7-1.1-6.6z"/>
<path color="#d28825" d="M194 79.8l1 7.4-3.9 2.5-1.1-6.5z"/>
<path color="#d27525" d="M193 72.4l1 7.4-4 3.4-1.1-6.6z"/>
<path color="#d26925" d="M192 65l1 7.4-4.1 4.2-1.1-6.5z"/>
<path color="#d26225" d="M191 57.6l1 7.4-4.2 5.1-1.1-6.6z"/>
<path color="#76f212" d="M159.3 101.1l1.2-2.4-4.3 5.8-1.3 2.1z"/>
<path color="#74f312" d="M158 103.6l1.3-2.5-4.4 5.5-1.2 2z"/>
<path color="#72f412" d="M156.7 106l1.3-2.4-4.3 5-1.2 2z"/>
<path color="#6ff512" d="M155.4 108.4l1.3-2.4-4.2 4.6-1.2 2.1z"/>
<path color="#6bf612" d="M154.2 110.9l1.2-2.5-4.1 4.3-1.2 2z"/>
<path color="#67f712" d="M152.9 113.3l1.3-2.4-4.1 3.8-1.3 2z"/>
<path color="#61f812" d="M151.6 115.8l1.3-2.5-4.1 3.4-1.2 2.1z"/>
<path color="#5cf912" d="M150.3 118.2l1.3-2.4-4 3-1.2 2z"/>
<path color="#55fb12" d="M149.1 120.6l1.2-2.4-3.9 2.6-1.2 2z"/>
<path color="#4efc12" d="M147.8 123.1l1.3-2.5-3.9 2.2-1.3 2.1z"/>
<path color="#47fd12" d="M146.5 125.5l1.3-2.4-3.9 1.8-1.2 2z"/>
<path color="#3ffe12" d="M145.2 128l1.3-2.5-3.8 1.4-1.2 2z"/>
<path color="#37ff12" d="M144 130.4l1.2-2.4-3.7 .9-1.2 2z"/>
<path color="#2fff12" d="M142.7 132.8l1.3-2.4-3.7 .5-1.2 2.1z"/>
<path color="#27ff12" d="M141.4 135.3l1.3-2.5-3.6 .2-1.3 2z"/>
<path color="#1fff13" d="M140.1 137.7l1.3-2.4-3.6-.3-1.2 2z"/>
<path color="#18ff13" d="M138.9 140.2l1.2-2.5-3.5-.7-1.2 2.1z"/>
<path color="#14ff14" d="M137.6 142.6l1.3-2.4-3.5-1.1-1.2 2z"/>
<path color="#14ff1a" d="M136.3 145l1.3-2.4-3.4-1.5-1.3 2z"/>
<path color="#15ff20" d="M135 147.5l1.3-2.5-3.4-1.9-1.2 2.1z"/>
<path color="#15ff26" d="M133.8 149.9l1.2-2.4-3.3-2.3-1.2 2z"/>
<path color="#16ff2c" d="M132.5 152.4l1.3-2.5-3.3-2.7-1.2 2z"/>
<path color="#17ff31" d="M131.2 154.8l1.3-2.4-3.2-3.2-1.3 2.1z"/>
<path color="#18ff36" d="M129.9 157.3l1.3-2.5-3.2-3.5-1.2 2z"/>
<path color="#b4f312" d="M163.6 95.7l1.3-2.9-4.4 5.9-1.2 2.4z"/>
<path color="#aff412" d="M162.2 98.5l1.4-2.8-4.3 5.4-1.3 2.5z"/>
<path color="#a7f512" d="M160.9 101.4l1.3-2.9-4.2 5.1-1.3 2.4z"/>
<path color="#9bf612" d="M159.6 104.2l1.3-2.8-4.2 4.6-1.3 2.4z"/>
<path color="#8df712" d="M158.3 107.1l1.3-2.9-4.2 4.2-1.2 2.5z"/>
<path color="#7df812" d="M156.9 109.9l1.4-2.8-4.1 3.8-1.3 2.4z"/>
<path color="#74f912" d="M155.6 112.8l1.3-2.9-4 3.4-1.3 2.5z"/>
<path color="#6dfa12" d="M154.3 115.6l1.3-2.8-4 3-1.3 2.4z"/>
<path color="#65fb12" d="M152.9 118.5l1.4-2.9-4 2.6-1.2 2.4z"/>
<path color="#5cfc12" d="M151.6 121.3l1.3-2.8-3.8 2.1-1.3 2.5z"/>
<path color="#54fd12" d="M150.3 124.2l1.3-2.9-3.8 1.8-1.3 2.4z"/>
<path color="#4afd12" d="M149 127l1.3-2.8-3.8 1.3-1.3 2.5z"/>
<path color="#41fe12" d="M147.6 129.9l1.4-2.9-3.8 1-1.2 2.4z"/>
<path color="#37ff12" d="M146.3 132.7l1.3-2.8-3.6 .5-1.3 2.4z"/>
<path color="#2dff12" d="M145 135.6l1.3-2.9-3.6 .1-1.3 2.5z"/>
<path color="#23ff13" d="M143.7 138.4l1.3-2.8-3.6-.3-1.3 2.4z"/>
<path color="#1aff13" d="M142.3 141.3l1.4-2.9-3.6-.7-1.2 2.5z"/>
<path color="#13ff14" d="M141 144.1l1.3-2.8-3.4-1.1-1.3 2.4z"/>
<path color="#14ff1a" d="M139.7 147l1.3-2.9-3.4-1.5-1.3 2.4z"/>
<path color="#14ff21" d="M138.4 149.8l1.3-2.8-3.4-2-1.3 2.5z"/>
<path color="#15ff28" d="M137 152.7l1.4-2.9-3.4-2.3-1.2 2.4z"/>
<path color="#15ff2e" d="M135.7 155.5l1.3-2.8-3.2-2.8-1.3 2.5z"/>
<path color="#16ff34" d="M134.4 158.4l1.3-2.9-3.2-3.1-1.3 2.4z"/>
<path color="#17ff39" d="M133.1 161.2l1.3-2.8-3.2-3.6-1.3 2.5z"/>
<path color="#f4ee12" d="M167.9 90.2l1.3-3.3-4.3 5.9-1.3 2.9z"/>
<path color="#f4f312" d="M166.5 93.5l1.4-3.3-4.3 5.5-1.4 2.8z"/>
<path color="#edf512" d="M165.1 96.7l1.4-3.2-4.3 5-1.3 2.9z"/>
<path color="#e0f612" d="M163.7 100l1.4-3.3-4.2 4.7-1.3 2.8z"/>
<path color="#cff712" d="M162.3 103.2l1.4-3.2-4.1 4.2-1.3 2.9z"/>
<path color="#bbf812" d="M161 106.5l1.3-3.3-4 3.9-1.4 2.8z"/>
<path color="#a5f912" d="M159.6 109.8l1.4-3.3-4.1 3.4-1.3 2.9z"/>
<path color="#8cfa12" d="M158.2 113l1.4-3.2-4 3-1.3 2.8z"/>
<path color="#77fa12" d="M156.8 116.3l1.4-3.3-3.9 2.6-1.4 2.9z"/>
<path color="#6dfb12" d="M155.5 119.5l1.3-3.2-3.9 2.2-1.3 2.8z"/>
<path color="#62fc12" d="M154.1 122.8l1.4-3.3-3.9 1.8-1.3 2.9z"/>
<path color="#56fd12" d="M152.7 126l1.4-3.2-3.8 1.4-1.3 2.8z"/>
<path color="#4bfe12" d="M151.3 129.3l1.4-3.3-3.7 1-1.4 2.9z"/>
<path color="#3fff12" d="M150 132.6l1.3-3.3-3.7 .6-1.3 2.8z"/>
<path color="#33ff12" d="M148.6 135.8l1.4-3.2-3.7 .1-1.3 2.9z"/>
<path color="#27ff13" d="M147.2 139.1l1.4-3.3-3.6-.2-1.3 2.8z"/>
<path color="#1bff13" d="M145.8 142.3l1.4-3.2-3.5-.7-1.4 2.9z"/>
<path color="#13ff13" d="M144.4 145.6l1.4-3.3-3.5-1-1.3 2.8z"/>
<path color="#13ff1b" d="M143.1 148.9l1.3-3.3-3.4-1.5-1.3 2.9z"/>
<path color="#14ff22" d="M141.7 152.1l1.4-3.2-3.4-1.9-1.3 2.8z"/>
<path color="#14ff29" d="M140.3 155.4l1.4-3.3-3.3-2.3-1.4 2.9z"/>
<path color="#15ff30" d="M138.9 158.6l1.4-3.2-3.3-2.7-1.3 2.8z"/>
<path color="#15ff36" d="M137.6 161.9l1.3-3.3-3.2-3.1-1.3 2.9z"/>
<path color="#16ff3c" d="M136.2 165.1l1.4-3.2-3.2-3.5-1.3 2.8z"/>
<path color="#f4c412" d="M172.2 84.7l1.4-3.6-4.4 5.8-1.3 3.3z"/>
<path color="#f5ca12" d="M170.7 88.4l1.5-3.7-4.3 5.5-1.4 3.3z"/>
<path color="#f6d112" d="M169.3 92.1l1.4-3.7-4.2 5.1-1.4 3.2z"/>
<path color="#f6db12" d="M167.9 95.7l1.4-3.6-4.2 4.6-1.4 3.3z"/>
<path color="#f7e812" d="M166.4 99.4l1.5-3.7-4.2 4.3-1.4 3.2z"/>
<path color="#f8f612" d="M165 103.1l1.4-3.7-4.1 3.8-1.3 3.3z"/>
<path color="#e1f912" d="M163.6 106.8l1.4-3.7-4 3.4-1.4 3.3z"/>
<path color="#c4fa12" d="M162.2 110.4l1.4-3.6-4 3-1.4 3.2z"/>
<path color="#a4fa12" d="M160.7 114.1l1.5-3.7-4 2.6-1.4 3.3z"/>
<path color="#82fb12" d="M159.3 117.8l1.4-3.7-3.9 2.2-1.3 3.2z"/>
<path color="#71fc12" d="M157.9 121.4l1.4-3.6-3.8 1.7-1.4 3.3z"/>
<path color="#63fc12" d="M156.4 125.1l1.5-3.7-3.8 1.4-1.4 3.2z"/>
<path color="#55fd12" d="M155 128.8l1.4-3.7-3.7 .9-1.4 3.3z"/>
<path color="#47fe12" d="M153.6 132.4l1.4-3.6-3.7 .5-1.3 3.3z"/>
<path color="#39ff12" d="M152.2 136.1l1.4-3.7-3.6 .2-1.4 3.2z"/>
<path color="#2bff12" d="M150.7 139.8l1.5-3.7-3.6-.3-1.4 3.3z"/>
<path color="#1dff13" d="M149.3 143.4l1.4-3.6-3.5-.7-1.4 3.2z"/>
<path color="#13ff13" d="M147.9 147.1l1.4-3.7-3.5-1.1-1.4 3.3z"/>
<path color="#13ff1b" d="M146.4 150.8l1.5-3.7-3.5-1.5-1.3 3.3z"/>
<path color="#14ff23" d="M145 154.4l1.4-3.6-3.3-1.9-1.4 3.2z"/>
<path color="#14ff2b" d="M143.6 158.1l1.4-3.7-3.3-2.3-1.4 3.3z"/>
<path color="#14ff32" d="M142.2 161.8l1.4-3.7-3.3-2.7-1.4 3.2z"/>
<path color="#15ff39" d="M140.7 165.4l1.5-3.6-3.3-3.2-1.3 3.3z"/>
<path color="#15ff3f" d="M139.3 169.1l1.4-3.7-3.1-3.5-1.4 3.2z"/>
<path color="#f59f12" d="M176.5 79.3l1.4-4.1-4.3 5.9-1.4 3.6z"/>
<path color="#f5a312" d="M175 83.4l1.5-4.1-4.3 5.4-1.5 3.7z"/>
<path color="#f6aa12" d="M173.5 87.4l1.5-4-4.3 5-1.4 3.7z"/>
<path color="#f7b512" d="M172 91.5l1.5-4.1-4.2 4.7-1.4 3.6z"/>
<path color="#f7c312" d="M170.5 95.6l1.5-4.1-4.1 4.2-1.5 3.7z"/>
<path color="#f8d312" d="M169.1 99.7l1.4-4.1-4.1 3.8-1.4 3.7z"/>
<path color="#f9e512" d="M167.6 103.8l1.5-4.1-4.1 3.4-1.4 3.7z"/>
<path color="#f9f912" d="M166.1 107.8l1.5-4-4 3-1.4 3.6z"/>
<path color="#d5fa12" d="M164.6 111.9l1.5-4.1-3.9 2.6-1.5 3.7z"/>
<path color="#aefb12" d="M163.1 116l1.5-4.1-3.9 2.2-1.4 3.7z"/>
<path color="#85fb12" d="M161.7 120.1l1.4-4.1-3.8 1.8-1.4 3.6z"/>
<path color="#6ffc12" d="M160.2 124.1l1.5-4-3.8 1.3-1.5 3.7z"/>
<path color="#5ffd12" d="M158.7 128.2l1.5-4.1-3.8 1-1.4 3.7z"/>
<path color="#4ffd12" d="M157.2 132.3l1.5-4.1-3.7 .6-1.4 3.6z"/>
<path color="#3ffe12" d="M155.7 136.4l1.5-4.1-3.6 .1-1.4 3.7z"/>
<path color="#2fff12" d="M154.3 140.4l1.4-4-3.5-.3-1.5 3.7z"/>
<path color="#1fff13" d="M152.8 144.5l1.5-4.1-3.6-.6-1.4 3.6z"/>
<path color="#14ff13" d="M151.3 148.6l1.5-4.1-3.5-1.1-1.4 3.7z"/>
<path color="#13ff1b" d="M149.8 152.7l1.5-4.1-3.4-1.5-1.5 3.7z"/>
<path color="#13ff24" d="M148.3 156.7l1.5-4-3.4-1.9-1.4 3.6z"/>
<path color="#14ff2d" d="M146.9 160.8l1.4-4.1-3.3-2.3-1.4 3.7z"/>
<path color="#14ff34" d="M145.4 164.9l1.5-4.1-3.3-2.7-1.4 3.7z"/>
<path color="#14ff3c" d="M143.9 169l1.5-4.1-3.2-3.1-1.5 3.6z"/>
<path color="#15ff42" d="M142.4 173l1.5-4-3.2-3.6-1.4 3.7z"/>
<path color="#f58312" d="M180.8 73.8l1.5-4.4-4.4 5.8-1.4 4.1z"/>
<path color="#f68812" d="M179.2 78.3l1.6-4.5-4.3 5.5-1.5 4.1z"/>
<path color="#f68f12" d="M177.7 82.8l1.5-4.5-4.2 5.1-1.5 4z"/>
<path color="#f79912" d="M176.2 87.3l1.5-4.5-4.2 4.6-1.5 4.1z"/>
<path color="#f8a412" d="M174.6 91.8l1.6-4.5-4.2 4.2-1.5 4.1z"/>
<path color="#f8b412" d="M173.1 96.3l1.5-4.5-4.1 3.8-1.4 4.1z"/>
<path color="#f9c812" d="M171.6 100.8l1.5-4.5-4 3.4-1.5 4.1z"/>
<path color="#f9de12" d="M170 105.2l1.6-4.4-4 3-1.5 4z"/>
<path color="#faf612" d="M168.5 109.7l1.5-4.5-3.9 2.6-1.5 4.1z"/>
<path color="#d6fb12" d="M167 114.2l1.5-4.5-3.9 2.2-1.5 4.1z"/>
<path color="#a8fb12" d="M165.4 118.7l1.6-4.5-3.9 1.8-1.4 4.1z"/>
<path color="#7afc12" d="M163.9 123.2l1.5-4.5-3.7 1.4-1.5 4z"/>
<path color="#68fc12" d="M162.4 127.7l1.5-4.5-3.7 .9-1.5 4.1z"/>
<path color="#56fd12" d="M160.9 132.1l1.5-4.4-3.7 .5-1.5 4.1z"/>
<path color="#44fd12" d="M159.3 136.6l1.6-4.5-3.7 .2-1.5 4.1z"/>
<path color="#33fe12" d="M157.8 141.1l1.5-4.5-3.6-.2-1.4 4z"/>
<path color="#21fe12" d="M156.3 145.6l1.5-4.5-3.5-.7-1.5 4.1z"/>
<path color="#14ff13" d="M154.7 150.1l1.6-4.5-3.5-1.1-1.5 4.1z"/>
<path color="#13ff1c" d="M153.2 154.6l1.5-4.5-3.4-1.5-1.5 4.1z"/>
<path color="#13ff26" d="M151.7 159.1l1.5-4.5-3.4-1.9-1.5 4z"/>
<path color="#13ff2f" d="M150.1 163.5l1.6-4.4-3.4-2.4-1.4 4.1z"/>
<path color="#14ff38" d="M148.6 168l1.5-4.5-3.2-2.7-1.5 4.1z"/>
<path color="#14ff3f" d="M147.1 172.5l1.5-4.5-3.2-3.1-1.5 4.1z"/>
<path color="#15ff4a" d="M145.5 177l1.6-4.5-3.2-3.5-1.5 4z"/>
<path color="#f57012" d="M185.1 68.4l1.6-4.9-4.4 5.9-1.5 4.4z"/>
<path color="#f67412" d="M183.5 73.3l1.6-4.9-4.3 5.4-1.6 4.5z"/>
<path color="#f67a12" d="M181.9 78.2l1.6-4.9-4.3 5-1.5 4.5z"/>
<path color="#f78412" d="M180.3 83.1l1.6-4.9-4.2 4.6-1.5 4.5z"/>
<path color="#f89112" d="M178.7 88l1.6-4.9-4.1 4.2-1.6 4.5z"/>
<path color="#f8a012" d="M177.2 92.9l1.5-4.9-4.1 3.8-1.5 4.5z"/>
<path color="#f9b112" d="M175.6 97.8l1.6-4.9-4.1 3.4-1.5 4.5z"/>
<path color="#f9c912" d="M174 102.6l1.6-4.8-4 3-1.6 4.4z"/>
<path color="#fae312" d="M172.4 107.5l1.6-4.9-4 2.6-1.5 4.5z"/>
<path color="#f4fa12" d="M170.8 112.4l1.6-4.9-3.9 2.2-1.5 4.5z"/>
<path color="#c3fb12" d="M169.2 117.3l1.6-4.9-3.8 1.8-1.6 4.5z"/>
<path color="#8ffb12" d="M167.6 122.2l1.6-4.9-3.8 1.4-1.5 4.5z"/>
<path color="#6ffc12" d="M166.1 127.1l1.5-4.9-3.7 1-1.5 4.5z"/>
<path color="#5cfc12" d="M164.5 132l1.6-4.9-3.7 .6-1.5 4.4z"/>
<path color="#49fd12" d="M162.9 136.9l1.6-4.9-3.6 .1-1.6 4.5z"/>
<path color="#35fd12" d="M161.3 141.8l1.6-4.9-3.6-.3-1.5 4.5z"/>
<path color="#22fe12" d="M159.7 146.7l1.6-4.9-3.5-.7-1.5 4.5z"/>
<path color="#14fe13" d="M158.1 151.6l1.6-4.9-3.4-1.1-1.6 4.5z"/>
<path color="#13ff1d" d="M156.6 156.5l1.5-4.9-3.4-1.5-1.5 4.5z"/>
<path color="#13ff28" d="M155 161.4l1.6-4.9-3.4-1.9-1.5 4.5z"/>
<path color="#13ff32" d="M153.4 166.3l1.6-4.9-3.3-2.3-1.6 4.4z"/>
<path color="#14ff3b" d="M151.8 171.2l1.6-4.9-3.3-2.8-1.5 4.5z"/>
<path color="#14ff45" d="M150.2 176l1.6-4.8-3.2-3.2-1.5 4.5z"/>
<path color="#14ff58" d="M148.6 180.9l1.6-4.9-3.1-3.5-1.6 4.5z"/>
<path color="#f66512" d="M189.4 62.9l1.6-5.3-4.3 5.9-1.6 4.9z"/>
<path color="#f66912" d="M187.7 68.2l1.7-5.3-4.3 5.5-1.6 4.9z"/>
<path color="#f77012" d="M186.1 73.5l1.6-5.3-4.2 5.1-1.6 4.9z"/>
<path color="#f77912" d="M184.5 78.8l1.6-5.3-4.2 4.7-1.6 4.9z"/>
<path color="#f88512" d="M182.8 84.1l1.7-5.3-4.2 4.3-1.6 4.9z"/>
<path color="#f89412" d="M181.2 89.4l1.6-5.3-4.1 3.9-1.5 4.9z"/>
<path color="#f9a512" d="M179.6 94.8l1.6-5.4-4 3.5-1.6 4.9z"/>
<path color="#f9bc12" d="M177.9 100.1l1.7-5.3-4 3-1.6 4.8z"/>
<path color="#fad712" d="M176.3 105.4l1.6-5.3-3.9 2.5-1.6 4.9z"/>
<path color="#faf312" d="M174.7 110.7l1.6-5.3-3.9 2.1-1.6 4.9z"/>
<path color="#d3fb12" d="M173 116l1.7-5.3-3.9 1.7-1.6 4.9z"/>
<path color="#9efb12" d="M171.4 121.3l1.6-5.3-3.8 1.3-1.6 4.9z"/>
<path color="#74fc12" d="M169.7 126.6l1.7-5.3-3.8 .9-1.5 4.9z"/>
<path color="#5ffc12" d="M168.1 131.9l1.6-5.3-3.6 .5-1.6 4.9z"/>
<path color="#4bfc12" d="M166.5 137.2l1.6-5.3-3.6 .1-1.6 4.9z"/>
<path color="#37fd12" d="M164.8 142.5l1.7-5.3-3.6-.3-1.6 4.9z"/>
<path color="#23fd12" d="M163.2 147.8l1.6-5.3-3.5-.7-1.6 4.9z"/>
<path color="#13fe13" d="M161.6 153.1l1.6-5.3-3.5-1.1-1.6 4.9z"/>
<path color="#13fe1f" d="M159.9 158.4l1.7-5.3-3.5-1.5-1.5 4.9z"/>
<path color="#13ff2a" d="M158.3 163.7l1.6-5.3-3.3-1.9-1.6 4.9z"/>
<path color="#13ff36" d="M156.7 169l1.6-5.3-3.3-2.3-1.6 4.9z"/>
<path color="#13ff40" d="M155 174.3l1.7-5.3-3.3-2.7-1.6 4.9z"/>
<path color="#14ff53" d="M153.4 179.6l1.6-5.3-3.2-3.1-1.6 4.8z"/>
<path color="#14ff68" d="M151.8 184.9l1.6-5.3-3.2-3.6-1.6 4.9z"/>
<path color="#1aff41" d="M127.6 162.8l3.4-4.2-4.2-5.3-3.4 4z"/>
<path color="#1bff4c" d="M124.1 167l3.5-4.2-4.2-5.5-3.4 4z"/>
<path color="#1bff66" d="M120.7 171.2l3.4-4.2-4.1-5.7-3.4 4.1z"/>
<path color="#1cff7f" d="M117.3 175.4l3.4-4.2-4.1-5.8-3.4 4z"/>
<path color="#1dff9b" d="M113.8 179.6l3.5-4.2-4.1-6-3.4 4z"/>
<path color="#1dffbb" d="M110.4 183.8l3.4-4.2-4-6.2-3.4 4z"/>
<path color="#1effd8" d="M107 188l3.4-4.2-4-6.4-3.4 4.1z"/>
<path color="#1efff3" d="M103.5 192.2l3.5-4.2-4-6.5-3.4 4z"/>
<path color="#1aff47" d="M131.7 168.2l3.4-4.4-4.1-5.2-3.4 4.2z"/>
<path color="#1bff5e" d="M128.2 172.6l3.5-4.4-4.1-5.4-3.5 4.2z"/>
<path color="#1bff7b" d="M124.8 177l3.4-4.4-4.1-5.6-3.4 4.2z"/>
<path color="#1cff9b" d="M121.3 181.4l3.5-4.4-4.1-5.8-3.4 4.2z"/>
<path color="#1dffc0" d="M117.9 185.8l3.4-4.4-4-6-3.5 4.2z"/>
<path color="#1dffe1" d="M114.4 190.1l3.5-4.3-4.1-6.2-3.4 4.2z"/>
<path color="#1efffd" d="M111 194.5l3.4-4.4-4-6.3-3.4 4.2z"/>
<path color="#20ffff" d="M107.5 198.9l3.5-4.4-4-6.5-3.5 4.2z"/>
<path color="#1aff50" d="M135.8 173.7l3.5-4.6-4.2-5.3-3.4 4.4z"/>
<path color="#1bff70" d="M132.3 178.2l3.5-4.5-4.1-5.5-3.5 4.4z"/>
<path color="#1bff92" d="M128.9 182.8l3.4-4.6-4.1-5.6-3.4 4.4z"/>
<path color="#1cffbd" d="M125.4 187.4l3.5-4.6-4.1-5.8-3.5 4.4z"/>
<path color="#1cffe6" d="M121.9 191.9l3.5-4.5-4.1-6-3.4 4.4z"/>
<path color="#1effff" d="M118.5 196.5l3.4-4.6-4-6.1-3.5 4.3z"/>
<path color="#1efdff" d="M115 201l3.5-4.5-4.1-6.4-3.4 4.4z"/>
<path color="#1ee9ff" d="M111.5 205.6l3.5-4.6-4-6.5-3.5 4.4z"/>
<path color="#1aff60" d="M140 179.1l3.5-4.7-4.2-5.3-3.5 4.6z"/>
<path color="#1bff84" d="M136.5 183.9l3.5-4.8-4.2-5.4-3.5 4.5z"/>
<path color="#1bffb2" d="M133 188.6l3.5-4.7-4.2-5.7-3.4 4.6z"/>
<path color="#1cffe1" d="M129.5 193.3l3.5-4.7-4.1-5.8-3.5 4.6z"/>
<path color="#1effff" d="M126 198.1l3.5-4.8-4.1-5.9-3.5 4.5z"/>
<path color="#1df3ff" d="M122.5 202.8l3.5-4.7-4.1-6.2-3.4 4.6z"/>
<path color="#1ddaff" d="M119 207.6l3.5-4.8-4-6.3-3.5 4.5z"/>
<path color="#1ecbff" d="M115.5 212.3l3.5-4.7-4-6.6-3.5 4.6z"/>
<path color="#1aff74" d="M144.1 184.6l3.5-5-4.1-5.2-3.5 4.7z"/>
<path color="#1bffa0" d="M140.6 189.5l3.5-4.9-4.1-5.5-3.5 4.8z"/>
<path color="#1bffd5" d="M137.1 194.4l3.5-4.9-4.1-5.6-3.5 4.7z"/>
<path color="#1dffff" d="M133.5 199.3l3.6-4.9-4.1-5.8-3.5 4.7z"/>
<path color="#1cf0ff" d="M130 204.2l3.5-4.9-4-6-3.5 4.8z"/>
<path color="#1dd2ff" d="M126.5 209.2l3.5-5-4-6.1-3.5 4.7z"/>
<path color="#1dbdff" d="M123 214.1l3.5-4.9-4-6.4-3.5 4.8z"/>
<path color="#1eaeff" d="M119.5 219l3.5-4.9-4-6.5-3.5 4.7z"/>
<path color="#1aff8a" d="M148.2 190l3.6-5.1-4.2-5.3-3.5 5z"/>
<path color="#1affc5" d="M144.7 195.1l3.5-5.1-4.1-5.4-3.5 4.9z"/>
<path color="#1bfffb" d="M141.1 200.2l3.6-5.1-4.1-5.6-3.5 4.9z"/>
<path color="#1bf3ff" d="M137.6 205.3l3.5-5.1-4-5.8-3.6 4.9z"/>
<path color="#1ccfff" d="M134.1 210.4l3.5-5.1-4.1-6-3.5 4.9z"/>
<path color="#1db4ff" d="M130.5 215.5l3.6-5.1-4.1-6.2-3.5 5z"/>
<path color="#1d9fff" d="M127 220.6l3.5-5.1-4-6.3-3.5 4.9z"/>
<path color="#1e92ff" d="M123.4 225.7l3.6-5.1-4-6.5-3.5 4.9z"/>
<path color="#1244f2" d="M282.6 226.2l6.8 7.3-4.2-4.8-6.5-9.4z"/>
<path color="#1260f5" d="M275.8 218.9l6.8 7.3-3.9-6.9-6.5-9.5z"/>
<path color="#1279f7" d="M269 211.7l6.8 7.2-3.6-9.1-6.5-9.4z"/>
<path color="#123bf8" d="M286.6 233.1l7 5.1-4.2-4.7-6.8-7.3z"/>
<path color="#1250fb" d="M279.5 228l7.1 5.1-4-6.9-6.8-7.3z"/>
<path color="#1263fc" d="M272.4 222.9l7.1 5.1-3.7-9.1-6.8-7.2z"/>
<path color="#1232fe" d="M290.5 240.1l7.3 2.9-4.2-4.8-7-5.1z"/>
<path color="#1241ff" d="M283.2 237.1l7.3 3-3.9-7-7.1-5.1z"/>
<path color="#124fff" d="M275.8 234.2l7.4 2.9-3.7-9.1-7.1-5.1z"/>
<path color="#12b1ff" d="M260.1 202.1l7.3 3.9-1.7-5.6-7.2-4.4z"/>
<path color="#13d2ff" d="M252.9 198.1l7.2 4-1.6-6.1-7.2-4.4z"/>
<path color="#13f5ff" d="M245.7 194.2l7.2 3.9-1.6-6.5-7.1-4.4z"/>
<path color="#1392ff" d="M261.8 208.1l7.2 3.6-1.6-5.7-7.3-3.9z"/>
<path color="#13b1ff" d="M254.5 204.6l7.3 3.5-1.7-6-7.2-4z"/>
<path color="#13cdff" d="M247.2 201.1l7.3 3.5-1.6-6.5-7.2-3.9z"/>
<path color="#137cff" d="M263.4 214.2l7.3 3.1-1.7-5.6-7.2-3.6z"/>
<path color="#138fff" d="M256.1 211.1l7.3 3.1-1.6-6.1-7.3-3.5z"/>
<path color="#13a8ff" d="M248.7 208.1l7.4 3-1.6-6.5-7.3-3.5z"/>
<path color="#136eff" d="M265 220.3l7.4 2.6-1.7-5.6-7.3-3.1z"/>
<path color="#1379ff" d="M257.7 217.6l7.3 2.7-1.6-6.1-7.3-3.1z"/>
<path color="#1384ff" d="M250.3 215l7.4 2.6-1.6-6.5-7.4-3z"/>
<path color="#1461ff" d="M266.7 226.3l7.4 2.2-1.7-5.6-7.4-2.6z"/>
<path color="#146bff" d="M259.2 224.2l7.5 2.1-1.7-6-7.3-2.7z"/>
<path color="#1474ff" d="M251.8 222l7.4 2.2-1.5-6.6-7.4-2.6z"/>
<path color="#1456ff" d="M268.3 232.4l7.5 1.8-1.7-5.7-7.4-2.2z"/>
<path color="#145eff" d="M260.8 230.7l7.5 1.7-1.6-6.1-7.5-2.1z"/>
<path color="#1466ff" d="M253.3 228.9l7.5 1.8-1.6-6.5-7.4-2.2z"/>
<path color="#13ffe8" d="M238 189.2l7.3 3.2-1.1-5.2-7.3-3.4z"/>
<path color="#13ffc5" d="M230.7 186l7.3 3.2-1.1-5.4-7.3-3.4z"/>
<path color="#13ff9e" d="M223.4 182.9l7.3 3.1-1.1-5.6-7.3-3.5z"/>
<path color="#13fcff" d="M239.1 194.7l7.4 2.9-1.2-5.2-7.3-3.2z"/>
<path color="#13ffec" d="M231.8 191.7l7.3 3-1.1-5.5-7.3-3.2z"/>
<path color="#14ffc5" d="M224.4 188.8l7.4 2.9-1.1-5.7-7.3-3.1z"/>
<path color="#14daff" d="M240.2 200.1l7.4 2.8-1.1-5.3-7.4-2.9z"/>
<path color="#14f6ff" d="M232.8 197.4l7.4 2.7-1.1-5.4-7.3-3z"/>
<path color="#14fff0" d="M225.5 194.7l7.3 2.7-1-5.7-7.4-2.9z"/>
<path color="#14bcff" d="M241.3 205.6l7.4 2.5-1.1-5.2-7.4-2.8z"/>
<path color="#14d1ff" d="M233.9 203.1l7.4 2.5-1.1-5.5-7.4-2.7z"/>
<path color="#14eeff" d="M226.5 200.6l7.4 2.5-1.1-5.7-7.3-2.7z"/>
<path color="#149eff" d="M242.5 211l7.4 2.3-1.2-5.2-7.4-2.5z"/>
<path color="#14b2ff" d="M235 208.8l7.5 2.2-1.2-5.4-7.4-2.5z"/>
<path color="#14c9ff" d="M227.6 206.6l7.4 2.2-1.1-5.7-7.4-2.5z"/>
<path color="#1483ff" d="M243.6 216.5l7.4 2-1.1-5.2-7.4-2.3z"/>
<path color="#1494ff" d="M236.1 214.5l7.5 2-1.1-5.5-7.5-2.2z"/>
<path color="#14a8ff" d="M228.6 212.5l7.5 2-1.1-5.7-7.4-2.2z"/>
<path color="#1477ff" d="M244.7 221.9l7.5 1.8-1.2-5.2-7.4-2z"/>
<path color="#147eff" d="M237.2 220.2l7.5 1.7-1.1-5.4-7.5-2z"/>
<path color="#158aff" d="M229.7 218.4l7.5 1.8-1.1-5.7-7.5-2z"/>
<path color="#156cff" d="M245.8 227.4l7.5 1.5-1.1-5.2-7.5-1.8z"/>
<path color="#1572ff" d="M238.3 225.9l7.5 1.5-1.1-5.5-7.5-1.7z"/>
<path color="#157aff" d="M230.7 224.4l7.6 1.5-1.1-5.7-7.5-1.8z"/>
<path color="#12f876" d="M220.1 178l3.3 4.9-1.1-6-3.2-5.1z"/>
<path color="#12f85f" d="M216.9 173.1l3.2 4.9-1-6.2-3.2-5z"/>
<path color="#12f843" d="M213.6 168.3l3.3 4.8-1-6.3-3.3-5.1z"/>
<path color="#12f836" d="M210.4 163.4l3.2 4.9-1-6.6-3.2-5.1z"/>
<path color="#12f928" d="M207.1 158.5l3.3 4.9-1-6.8-3.2-5.1z"/>
<path color="#12f919" d="M203.9 153.6l3.2 4.9-.9-7-3.2-5z"/>
<path color="#12f999" d="M221.1 184.1l3.3 4.7-1-5.9-3.3-4.9z"/>
<path color="#12f979" d="M217.9 179.5l3.2 4.6-1-6.1-3.2-4.9z"/>
<path color="#12f95e" d="M214.6 174.8l3.3 4.7-1-6.4-3.3-4.8z"/>
<path color="#12f940" d="M211.3 170.2l3.3 4.6-1-6.5-3.2-4.9z"/>
<path color="#12f932" d="M208 165.5l3.3 4.7-.9-6.8-3.3-4.9z"/>
<path color="#12f923" d="M204.8 160.8l3.2 4.7-.9-7-3.2-4.9z"/>
<path color="#12f9c5" d="M222.2 190.3l3.3 4.4-1.1-5.9-3.3-4.7z"/>
<path color="#12f9a3" d="M218.9 185.8l3.3 4.5-1.1-6.2-3.2-4.6z"/>
<path color="#12f97d" d="M215.6 181.4l3.3 4.4-1-6.3-3.3-4.7z"/>
<path color="#12fa5e" d="M212.3 176.9l3.3 4.5-1-6.6-3.3-4.6z"/>
<path color="#12fa3e" d="M209 172.5l3.3 4.4-1-6.7-3.3-4.7z"/>
<path color="#12fa2f" d="M205.7 168l3.3 4.5-1-7-3.2-4.7z"/>
<path color="#12faf1" d="M223.2 196.4l3.3 4.2-1-5.9-3.3-4.4z"/>
<path color="#12fad4" d="M219.9 192.2l3.3 4.2-1-6.1-3.3-4.5z"/>
<path color="#12faaf" d="M216.5 187.9l3.4 4.3-1-6.4-3.3-4.4z"/>
<path color="#12fa84" d="M213.2 183.7l3.3 4.2-.9-6.5-3.3-4.5z"/>
<path color="#12fa60" d="M209.9 179.5l3.3 4.2-.9-6.8-3.3-4.4z"/>
<path color="#12fa3d" d="M206.6 175.2l3.3 4.3-.9-7-3.3-4.5z"/>
<path color="#12dafa" d="M224.2 202.6l3.4 4-1.1-6-3.3-4.2z"/>
<path color="#12f3fb" d="M220.9 198.5l3.3 4.1-1-6.2-3.3-4.2z"/>
<path color="#12fbe4" d="M217.5 194.5l3.4 4-1-6.3-3.4-4.3z"/>
<path color="#12fbbb" d="M214.2 190.5l3.3 4-1-6.6-3.3-4.2z"/>
<path color="#12fb8b" d="M210.8 186.4l3.4 4.1-1-6.8-3.3-4.2z"/>
<path color="#12fb61" d="M207.5 182.4l3.3 4-.9-6.9-3.3-4.3z"/>
<path color="#12b6fb" d="M225.3 208.7l3.3 3.8-1-5.9-3.4-4z"/>
<path color="#12cafb" d="M221.9 204.9l3.4 3.8-1.1-6.1-3.3-4.1z"/>
<path color="#12e5fb" d="M218.5 201.1l3.4 3.8-1-6.4-3.4-4z"/>
<path color="#12fbf1" d="M215.1 197.2l3.4 3.9-1-6.6-3.3-4z"/>
<path color="#12fbc6" d="M211.7 193.4l3.4 3.8-.9-6.7-3.4-4.1z"/>
<path color="#12fb91" d="M208.4 189.6l3.3 3.8-.9-7-3.3-4z"/>
<path color="#1297fc" d="M226.3 214.8l3.4 3.6-1.1-5.9-3.3-3.8z"/>
<path color="#12a8fc" d="M222.9 211.2l3.4 3.6-1-6.1-3.4-3.8z"/>
<path color="#12befc" d="M219.5 207.6l3.4 3.6-1-6.3-3.4-3.8z"/>
<path color="#12d9fc" d="M216.1 204l3.4 3.6-1-6.5-3.4-3.9z"/>
<path color="#12fcfb" d="M212.7 200.4l3.4 3.6-1-6.8-3.4-3.8z"/>
<path color="#12fccd" d="M209.3 196.8l3.4 3.6-1-7-3.3-3.8z"/>
<path color="#127dfc" d="M227.3 221l3.4 3.4-1-6-3.4-3.6z"/>
<path color="#128afc" d="M223.9 217.6l3.4 3.4-1-6.2-3.4-3.6z"/>
<path color="#129efc" d="M220.4 214.2l3.5 3.4-1-6.4-3.4-3.6z"/>
<path color="#12b5fc" d="M217 210.8l3.4 3.4-.9-6.6-3.4-3.6z"/>
<path color="#12d2fc" d="M213.6 207.4l3.4 3.4-.9-6.8-3.4-3.6z"/>
<path color="#12f9fc" d="M210.2 204l3.4 3.4-.9-7-3.4-3.6z"/>
<path color="#15e512" d="M203.4 149.8l.5 3.8-.9-7.1-.5-3.7z"/>
<path color="#22d525" d="M202.9 145.9l.5 3.9-.9-7-.5-3.7z"/>
<path color="#2ad525" d="M202.4 142l.5 3.9-.9-6.8-.5-3.7z"/>
<path color="#33d525" d="M202 138.1l.4 3.9-.9-6.6-.5-3.7z"/>
<path color="#3dd525" d="M201.5 134.3l.5 3.8-1-6.4-.5-3.7z"/>
<path color="#47d525" d="M201 130.4l.5 3.9-1-6.3-.5-3.7z"/>
<path color="#52d525" d="M200.5 126.5l.5 3.9-1-6.1-.5-3.7z"/>
<path color="#5ed525" d="M200.1 122.6l.4 3.9-1-5.9-.5-3.7z"/>
<path color="#69d525" d="M199.6 118.8l.5 3.8-1.1-5.7-.5-3.7z"/>
<path color="#84d525" d="M199.1 114.9l.5 3.9-1.1-5.6-.5-3.7z"/>
<path color="#a4d525" d="M198.6 111l.5 3.9-1.1-5.4-.5-3.8z"/>
<path color="#c5d525" d="M198.2 107.1l.4 3.9-1.1-5.3-.5-3.7z"/>
<path color="#d2cb25" d="M197.7 103.3l.5 3.8-1.2-5.1-.5-3.7z"/>
<path color="#d2b925" d="M197.2 99.4l.5 3.9-1.2-5-.5-3.7z"/>
<path color="#d2a825" d="M196.7 95.5l.5 3.9-1.2-4.8-.5-3.7z"/>
<path color="#d29825" d="M196.2 91.6l.5 3.9-1.2-4.6-.5-3.7z"/>
<path color="#d28c25" d="M195.8 87.7l.4 3.9-1.2-4.4-.5-3.7z"/>
<path color="#d28125" d="M195.3 83.9l.5 3.8-1.3-4.2-.5-3.7z"/>
<path color="#d27725" d="M194.8 80l.5 3.9-1.3-4.1-.5-3.7z"/>
<path color="#d26f25" d="M194.3 76.1l.5 3.9-1.3-3.9-.5-3.7z"/>
<path color="#d26925" d="M193.9 72.2l.4 3.9-1.3-3.7-.5-3.7z"/>
<path color="#d26425" d="M193.4 68.4l.5 3.8-1.4-3.5-.5-3.7z"/>
<path color="#d26125" d="M192.9 64.5l.5 3.9-1.4-3.4-.5-3.7z"/>
<path color="#d25e25" d="M192.4 60.6l.5 3.9-1.4-3.2-.5-3.7z"/>
<path color="#1ad52a" d="M204.3 156.8l.5 4-.9-7.2-.5-3.8z"/>
<path color="#1ad525" d="M203.9 152.7l.4 4.1-.9-7-.5-3.9z"/>
<path color="#21d525" d="M203.4 148.7l.5 4-1-6.8-.5-3.9z"/>
<path color="#2ad525" d="M203 144.6l.4 4.1-1-6.7-.4-3.9z"/>
<path color="#34d525" d="M202.5 140.6l.5 4-1-6.5-.5-3.8z"/>
<path color="#40d525" d="M202 136.5l.5 4.1-1-6.3-.5-3.9z"/>
<path color="#4cd525" d="M201.6 132.5l.4 4-1-6.1-.5-3.9z"/>
<path color="#57d525" d="M201.1 128.4l.5 4.1-1.1-6-.4-3.9z"/>
<path color="#63d525" d="M200.7 124.4l.4 4-1-5.8-.5-3.8z"/>
<path color="#74d525" d="M200.2 120.3l.5 4.1-1.1-5.6-.5-3.9z"/>
<path color="#96d525" d="M199.8 116.3l.4 4-1.1-5.4-.5-3.9z"/>
<path color="#b7d525" d="M199.3 112.2l.5 4.1-1.2-5.3-.4-3.9z"/>
<path color="#d2d225" d="M198.9 108.2l.4 4-1.1-5.1-.5-3.8z"/>
<path color="#d2c025" d="M198.4 104.1l.5 4.1-1.2-4.9-.5-3.9z"/>
<path color="#d2ae25" d="M198 100.1l.4 4-1.2-4.7-.5-3.9z"/>
<path color="#d29d25" d="M197.5 96l.5 4.1-1.3-4.6-.5-3.9z"/>
<path color="#d29025" d="M197 91.9l.5 4.1-1.3-4.4-.4-3.9z"/>
<path color="#d28525" d="M196.6 87.9l.4 4-1.2-4.2-.5-3.8z"/>
<path color="#d27b25" d="M196.1 83.8l.5 4.1-1.3-4-.5-3.9z"/>
<path color="#d27225" d="M195.7 79.8l.4 4-1.3-3.8-.5-3.9z"/>
<path color="#d26c25" d="M195.2 75.7l.5 4.1-1.4-3.7-.4-3.9z"/>
<path color="#d26625" d="M194.8 71.7l.4 4-1.3-3.5-.5-3.8z"/>
<path color="#d26325" d="M194.3 67.6l.5 4.1-1.4-3.3-.5-3.9z"/>
<path color="#d26025" d="M193.9 63.6l.4 4-1.4-3.1-.5-3.9z"/>
<path color="#1ad533" d="M205.2 163.8l.5 4.2-.9-7.2-.5-4z"/>
<path color="#1ad52e" d="M204.8 159.6l.4 4.2-.9-7-.4-4.1z"/>
<path color="#1ad528" d="M204.4 155.4l.4 4.2-.9-6.9-.5-4z"/>
<path color="#1ed525" d="M203.9 151.1l.5 4.3-1-6.7-.4-4.1z"/>
<path color="#28d525" d="M203.5 146.9l.4 4.2-.9-6.5-.5-4z"/>
<path color="#34d525" d="M203.1 142.7l.4 4.2-1-6.3-.5-4.1z"/>
<path color="#41d525" d="M202.6 138.4l.5 4.3-1.1-6.2-.4-4z"/>
<path color="#4dd525" d="M202.2 134.2l.4 4.2-1-5.9-.5-4.1z"/>
<path color="#5ad525" d="M201.8 130l.4 4.2-1.1-5.8-.4-4z"/>
<path color="#66d525" d="M201.3 125.8l.5 4.2-1.1-5.6-.5-4.1z"/>
<path color="#7fd525" d="M200.9 121.5l.4 4.3-1.1-5.5-.4-4z"/>
<path color="#a2d525" d="M200.5 117.3l.4 4.2-1.1-5.2-.5-4.1z"/>
<path color="#c4d525" d="M200.1 113.1l.4 4.2-1.2-5.1-.4-4z"/>
<path color="#d2ca25" d="M199.6 108.8l.5 4.3-1.2-4.9-.5-4.1z"/>
<path color="#d2b825" d="M199.2 104.6l.4 4.2-1.2-4.7-.4-4z"/>
<path color="#d2a625" d="M198.8 100.4l.4 4.2-1.2-4.5-.5-4.1z"/>
<path color="#d29625" d="M198.3 96.1l.5 4.3-1.3-4.4-.5-4.1z"/>
<path color="#d28a25" d="M197.9 91.9l.4 4.2-1.3-4.2-.4-4z"/>
<path color="#d28025" d="M197.5 87.7l.4 4.2-1.3-4-.5-4.1z"/>
<path color="#d27625" d="M197 83.5l.5 4.2-1.4-3.9-.4-4z"/>
<path color="#d26f25" d="M196.6 79.2l.4 4.3-1.3-3.7-.5-4.1z"/>
<path color="#d26a25" d="M196.2 75l.4 4.2-1.4-3.5-.4-4z"/>
<path color="#d26625" d="M195.7 70.8l.5 4.2-1.4-3.3-.5-4.1z"/>
<path color="#d26325" d="M195.3 66.5l.4 4.3-1.4-3.2-.4-4z"/>
<path color="#1ad53f" d="M206.2 170.8l.4 4.4-.9-7.2-.5-4.2z"/>
<path color="#1ad539" d="M205.7 166.4l.5 4.4-1-7-.4-4.2z"/>
<path color="#1ad533" d="M205.3 162l.4 4.4-.9-6.8-.4-4.2z"/>
<path color="#1ad52c" d="M204.9 157.6l.4 4.4-.9-6.6-.5-4.3z"/>
<path color="#1cd525" d="M204.5 153.2l.4 4.4-1-6.5-.4-4.2z"/>
<path color="#26d525" d="M204.1 148.8l.4 4.4-1-6.3-.4-4.2z"/>
<path color="#33d525" d="M203.7 144.4l.4 4.4-1-6.1-.5-4.3z"/>
<path color="#40d525" d="M203.3 140l.4 4.4-1.1-6-.4-4.2z"/>
<path color="#4dd525" d="M202.9 135.6l.4 4.4-1.1-5.8-.4-4.2z"/>
<path color="#5bd525" d="M202.5 131.2l.4 4.4-1.1-5.6-.5-4.2z"/>
<path color="#68d525" d="M202.1 126.8l.4 4.4-1.2-5.4-.4-4.3z"/>
<path color="#86d525" d="M201.6 122.4l.5 4.4-1.2-5.3-.4-4.2z"/>
<path color="#aad525" d="M201.2 118l.4 4.4-1.1-5.1-.4-4.2z"/>
<path color="#ced525" d="M200.8 113.6l.4 4.4-1.1-4.9-.5-4.3z"/>
<path color="#d2c425" d="M200.4 109.2l.4 4.4-1.2-4.8-.4-4.2z"/>
<path color="#d2b125" d="M200 104.8l.4 4.4-1.2-4.6-.4-4.2z"/>
<path color="#d2a025" d="M199.6 100.3l.4 4.5-1.2-4.4-.5-4.3z"/>
<path color="#d29225" d="M199.2 95.9l.4 4.4-1.3-4.2-.4-4.2z"/>
<path color="#d28625" d="M198.8 91.5l.4 4.4-1.3-4-.4-4.2z"/>
<path color="#d27c25" d="M198.4 87.1l.4 4.4-1.3-3.8-.5-4.2z"/>
<path color="#d27425" d="M198 82.7l.4 4.4-1.4-3.6-.4-4.3z"/>
<path color="#d26e25" d="M197.6 78.3l.4 4.4-1.4-3.5-.4-4.2z"/>
<path color="#d26a25" d="M197.1 73.9l.5 4.4-1.4-3.3-.5-4.2z"/>
<path color="#d26725" d="M196.7 69.5l.4 4.4-1.4-3.1-.4-4.3z"/>
<path color="#1ad54d" d="M207.1 177.8l.4 4.6-.9-7.2-.4-4.4z"/>
<path color="#1ad546" d="M206.7 173.3l.4 4.5-.9-7-.5-4.4z"/>
<path color="#1ad53f" d="M206.3 168.7l.4 4.6-1-6.9-.4-4.4z"/>
<path color="#1ad538" d="M205.9 164.1l.4 4.6-1-6.7-.4-4.4z"/>
<path color="#1ad52f" d="M205.5 159.5l.4 4.6-1-6.5-.4-4.4z"/>
<path color="#1ad526" d="M205.1 154.9l.4 4.6-1-6.3-.4-4.4z"/>
<path color="#23d525" d="M204.8 150.4l.3 4.5-1-6.1-.4-4.4z"/>
<path color="#31d525" d="M204.4 145.8l.4 4.6-1.1-6-.4-4.4z"/>
<path color="#3fd525" d="M204 141.2l.4 4.6-1.1-5.8-.4-4.4z"/>
<path color="#4dd525" d="M203.6 136.6l.4 4.6-1.1-5.6-.4-4.4z"/>
<path color="#5bd525" d="M203.2 132l.4 4.6-1.1-5.4-.4-4.4z"/>
<path color="#6ad525" d="M202.8 127.5l.4 4.5-1.1-5.2-.5-4.4z"/>
<path color="#8cd525" d="M202.4 122.9l.4 4.6-1.2-5.1-.4-4.4z"/>
<path color="#b2d525" d="M202 118.3l.4 4.6-1.2-4.9-.4-4.4z"/>
<path color="#d2d225" d="M201.7 113.7l.3 4.6-1.2-4.7-.4-4.4z"/>
<path color="#d2bf25" d="M201.3 109.1l.4 4.6-1.3-4.5-.4-4.4z"/>
<path color="#d2ac25" d="M200.9 104.5l.4 4.6-1.3-4.3-.4-4.5z"/>
<path color="#d29b25" d="M200.5 100l.4 4.5-1.3-4.2-.4-4.4z"/>
<path color="#d28e25" d="M200.1 95.4l.4 4.6-1.3-4.1-.4-4.4z"/>
<path color="#d28425" d="M199.7 90.8l.4 4.6-1.3-3.9-.4-4.4z"/>
<path color="#d27b25" d="M199.3 86.2l.4 4.6-1.3-3.7-.4-4.4z"/>
<path color="#d27325" d="M198.9 81.6l.4 4.6-1.3-3.5-.4-4.4z"/>
<path color="#d26f25" d="M198.6 77l.3 4.6-1.3-3.3-.5-4.4z"/>
<path color="#d26b25" d="M198.2 72.5l.4 4.5-1.5-3.1-.4-4.4z"/>
<path color="#1ad56f" d="M208 184.9l.4 4.7-.9-7.2-.4-4.6z"/>
<path color="#1ad561" d="M207.6 180.1l.4 4.8-.9-7.1-.4-4.5z"/>
<path color="#1ad54f" d="M207.3 175.3l.3 4.8-.9-6.8-.4-4.6z"/>
<path color="#1ad544" d="M206.9 170.6l.4 4.7-1-6.6-.4-4.6z"/>
<path color="#1ad53c" d="M206.5 165.8l.4 4.8-1-6.5-.4-4.6z"/>
<path color="#1ad532" d="M206.2 161.1l.3 4.7-1-6.3-.4-4.6z"/>
<path color="#1ad529" d="M205.8 156.3l.4 4.8-1.1-6.2-.3-4.5z"/>
<path color="#21d525" d="M205.4 151.6l.4 4.7-1-5.9-.4-4.6z"/>
<path color="#2fd525" d="M205.1 146.8l.3 4.8-1-5.8-.4-4.6z"/>
<path color="#3ed525" d="M204.7 142l.4 4.8-1.1-5.6-.4-4.6z"/>
<path color="#4ed525" d="M204.3 137.3l.4 4.7-1.1-5.4-.4-4.6z"/>
<path color="#5dd525" d="M204 132.5l.3 4.8-1.1-5.3-.4-4.5z"/>
<path color="#6cd525" d="M203.6 127.8l.4 4.7-1.2-5-.4-4.6z"/>
<path color="#93d525" d="M203.2 123l.4 4.8-1.2-4.9-.4-4.6z"/>
<path color="#bad525" d="M202.9 118.3l.3 4.7-1.2-4.7-.3-4.6z"/>
<path color="#d2ce25" d="M202.5 113.5l.4 4.8-1.2-4.6-.4-4.6z"/>
<path color="#d2ba25" d="M202.2 108.7l.3 4.8-1.2-4.4-.4-4.6z"/>
<path color="#d2a825" d="M201.8 104l.4 4.7-1.3-4.2-.4-4.5z"/>
<path color="#d29825" d="M201.4 99.2l.4 4.8-1.3-4-.4-4.6z"/>
<path color="#d28c25" d="M201.1 94.5l.3 4.7-1.3-3.8-.4-4.6z"/>
<path color="#d28325" d="M200.7 89.7l.4 4.8-1.4-3.7-.4-4.6z"/>
<path color="#d27a25" d="M200.3 85l.4 4.7-1.4-3.5-.4-4.6z"/>
<path color="#d27425" d="M200 80.2l.3 4.8-1.4-3.4-.3-4.6z"/>
<path color="#d27125" d="M199.6 75.4l.4 4.8-1.4-3.2-.4-4.5z"/>
<path color="#1ad59a" d="M208.9 191.9l.4 4.9-.9-7.2-.4-4.7z"/>
<path color="#1ad585" d="M208.6 186.9l.3 5-.9-7-.4-4.8z"/>
<path color="#1ad571" d="M208.2 182l.4 4.9-1-6.8-.3-4.8z"/>
<path color="#1ad55c" d="M207.9 177.1l.3 4.9-.9-6.7-.4-4.7z"/>
<path color="#1ad548" d="M207.5 172.1l.4 5-1-6.5-.4-4.8z"/>
<path color="#1ad53f" d="M207.2 167.2l.3 4.9-1-6.3-.3-4.7z"/>
<path color="#1ad535" d="M206.9 162.3l.3 4.9-1-6.1-.4-4.8z"/>
<path color="#1ad52a" d="M206.5 157.3l.4 5-1.1-6-.4-4.7z"/>
<path color="#20d525" d="M206.2 152.4l.3 4.9-1.1-5.7-.3-4.8z"/>
<path color="#2fd525" d="M205.8 147.5l.4 4.9-1.1-5.6-.4-4.8z"/>
<path color="#3fd525" d="M205.5 142.5l.3 5-1.1-5.5-.4-4.7z"/>
<path color="#4fd525" d="M205.1 137.6l.4 4.9-1.2-5.2-.3-4.8z"/>
<path color="#5fd525" d="M204.8 132.7l.3 4.9-1.1-5.1-.4-4.7z"/>
<path color="#72d525" d="M204.5 127.7l.3 5-1.2-4.9-.4-4.8z"/>
<path color="#9bd525" d="M204.1 122.8l.4 4.9-1.3-4.7-.3-4.7z"/>
<path color="#c2d525" d="M203.8 117.9l.3 4.9-1.2-4.5-.4-4.8z"/>
<path color="#d2c925" d="M203.4 112.9l.4 5-1.3-4.4-.3-4.8z"/>
<path color="#d2b625" d="M203.1 108l.3 4.9-1.2-4.2-.4-4.7z"/>
<path color="#d2a425" d="M202.7 103.1l.4 4.9-1.3-4-.4-4.8z"/>
<path color="#d29625" d="M202.4 98.1l.3 5-1.3-3.9-.3-4.7z"/>
<path color="#d28b25" d="M202.1 93.2l.3 4.9-1.3-3.6-.4-4.8z"/>
<path color="#d28325" d="M201.7 88.3l.4 4.9-1.4-3.5-.4-4.7z"/>
<path color="#d27c25" d="M201.4 83.3l.3 5-1.4-3.3-.3-4.8z"/>
<path color="#d27825" d="M201 78.4l.4 4.9-1.4-3.1-.4-4.8z"/>
<path color="#1ad5c7" d="M209.8 198.9l.4 5.1-.9-7.2-.4-4.9z"/>
<path color="#1ad5b2" d="M209.5 193.8l.3 5.1-.9-7-.3-5z"/>
<path color="#1ad599" d="M209.2 188.7l.3 5.1-.9-6.9-.4-4.9z"/>
<path color="#1ad57b" d="M208.9 183.6l.3 5.1-1-6.7-.3-4.9z"/>
<path color="#1ad564" d="M208.6 178.5l.3 5.1-1-6.5-.4-5z"/>
<path color="#1ad54b" d="M208.2 173.3l.4 5.2-1.1-6.4-.3-4.9z"/>
<path color="#1ad540" d="M207.9 168.2l.3 5.1-1-6.1-.3-4.9z"/>
<path color="#1ad535" d="M207.6 163.1l.3 5.1-1-5.9-.4-5z"/>
<path color="#1ad52a" d="M207.3 158l.3 5.1-1.1-5.8-.3-4.9z"/>
<path color="#21d525" d="M206.9 152.9l.4 5.1-1.1-5.6-.4-4.9z"/>
<path color="#31d525" d="M206.6 147.8l.3 5.1-1.1-5.4-.3-5z"/>
<path color="#42d525" d="M206.3 142.7l.3 5.1-1.1-5.3-.4-4.9z"/>
<path color="#52d525" d="M206 137.6l.3 5.1-1.2-5.1-.3-4.9z"/>
<path color="#62d525" d="M205.7 132.5l.3 5.1-1.2-4.9-.3-5z"/>
<path color="#7bd525" d="M205.3 127.4l.4 5.1-1.2-4.8-.4-4.9z"/>
<path color="#a4d525" d="M205 122.3l.3 5.1-1.2-4.6-.3-4.9z"/>
<path color="#cbd525" d="M204.7 117.1l.3 5.2-1.2-4.4-.4-5z"/>
<path color="#d2c525" d="M204.4 112l.3 5.1-1.3-4.2-.3-4.9z"/>
<path color="#d2b225" d="M204.1 106.9l.3 5.1-1.3-4-.4-4.9z"/>
<path color="#d2a225" d="M203.7 101.8l.4 5.1-1.4-3.8-.3-5z"/>
<path color="#d29525" d="M203.4 96.7l.3 5.1-1.3-3.7-.3-4.9z"/>
<path color="#d28c25" d="M203.1 91.6l.3 5.1-1.3-3.5-.4-4.9z"/>
<path color="#d28525" d="M202.8 86.5l.3 5.1-1.4-3.3-.3-5z"/>
<path color="#d28025" d="M202.5 81.4l.3 5.1-1.4-3.2-.4-4.9z"/>
<path color="#ff6916" d="M191.3 67l1.6-5.4-1.9-4-1.6 5.3z"/>
<path color="#ff6e16" d="M189.6 72.4l1.7-5.4-1.9-4.1-1.7 5.3z"/>
<path color="#ff7516" d="M188 77.8l1.6-5.4-1.9-4.2-1.6 5.3z"/>
<path color="#ff7e16" d="M186.3 83.1l1.7-5.3-1.9-4.3-1.6 5.3z"/>
<path color="#ff8a16" d="M184.7 88.5l1.6-5.4-1.8-4.3-1.7 5.3z"/>
<path color="#ff9a16" d="M183 93.9l1.7-5.4-1.9-4.4-1.6 5.3z"/>
<path color="#ffab16" d="M181.4 99.3l1.6-5.4-1.8-4.5-1.6 5.4z"/>
<path color="#ffc216" d="M179.7 104.7l1.7-5.4-1.8-4.5-1.7 5.3z"/>
<path color="#ffde17" d="M178.1 110.1l1.6-5.4-1.8-4.6-1.6 5.3z"/>
<path color="#fffb17" d="M176.5 115.5l1.6-5.4-1.8-4.7-1.6 5.3z"/>
<path color="#dbff17" d="M174.8 120.9l1.7-5.4-1.8-4.8-1.7 5.3z"/>
<path color="#a3ff17" d="M173.2 126.2l1.6-5.3-1.8-4.9-1.6 5.3z"/>
<path color="#79ff17" d="M171.5 131.6l1.7-5.4-1.8-4.9-1.7 5.3z"/>
<path color="#64ff17" d="M169.9 137l1.6-5.4-1.8-5-1.6 5.3z"/>
<path color="#4fff17" d="M168.2 142.4l1.7-5.4-1.8-5.1-1.6 5.3z"/>
<path color="#3aff18" d="M166.6 147.8l1.6-5.4-1.7-5.2-1.7 5.3z"/>
<path color="#26ff18" d="M164.9 153.2l1.7-5.4-1.8-5.3-1.6 5.3z"/>
<path color="#18ff19" d="M163.3 158.6l1.6-5.4-1.7-5.4-1.6 5.3z"/>
<path color="#18ff27" d="M161.6 163.9l1.7-5.3-1.7-5.5-1.7 5.3z"/>
<path color="#18ff34" d="M160 169.3l1.6-5.4-1.7-5.5-1.6 5.3z"/>
<path color="#18ff40" d="M158.4 174.7l1.6-5.4-1.7-5.6-1.6 5.3z"/>
<path color="#19ff50" d="M156.7 180.1l1.7-5.4-1.7-5.7-1.7 5.3z"/>
<path color="#19ff69" d="M155.1 185.5l1.6-5.4-1.7-5.8-1.6 5.3z"/>
<path color="#19ff7e" d="M153.4 190.9l1.7-5.4-1.7-5.9-1.6 5.3z"/>
<path color="#ff6d15" d="M193.2 71l1.6-5.5-1.9-3.9-1.6 5.4z"/>
<path color="#ff7216" d="M191.5 76.5l1.7-5.5-1.9-4-1.7 5.4z"/>
<path color="#ff7916" d="M189.9 82l1.6-5.5-1.9-4.1-1.6 5.4z"/>
<path color="#ff8216" d="M188.2 87.4l1.7-5.4-1.9-4.2-1.7 5.3z"/>
<path color="#ff8f16" d="M186.5 92.9l1.7-5.5-1.9-4.3-1.6 5.4z"/>
<path color="#ff9f16" d="M184.9 98.4l1.6-5.5-1.8-4.4-1.7 5.4z"/>
<path color="#ffb116" d="M183.2 103.9l1.7-5.5-1.9-4.5-1.6 5.4z"/>
<path color="#ffca16" d="M181.6 109.3l1.6-5.4-1.8-4.6-1.7 5.4z"/>
<path color="#ffe616" d="M179.9 114.8l1.7-5.5-1.9-4.6-1.6 5.4z"/>
<path color="#ffff17" d="M178.3 120.3l1.6-5.5-1.8-4.7-1.6 5.4z"/>
<path color="#c9ff17" d="M176.6 125.7l1.7-5.4-1.8-4.8-1.7 5.4z"/>
<path color="#91ff17" d="M174.9 131.2l1.7-5.5-1.8-4.8-1.6 5.3z"/>
<path color="#72ff17" d="M173.3 136.7l1.6-5.5-1.7-5-1.7 5.4z"/>
<path color="#5cff17" d="M171.6 142.2l1.7-5.5-1.8-5.1-1.6 5.4z"/>
<path color="#47ff17" d="M170 147.6l1.6-5.4-1.7-5.2-1.7 5.4z"/>
<path color="#32ff17" d="M168.3 153.1l1.7-5.5-1.8-5.2-1.6 5.4z"/>
<path color="#1eff18" d="M166.7 158.6l1.6-5.5-1.7-5.3-1.7 5.4z"/>
<path color="#18ff1f" d="M165 164l1.7-5.4-1.8-5.4-1.6 5.4z"/>
<path color="#18ff2e" d="M163.4 169.5l1.6-5.5-1.7-5.4-1.7 5.3z"/>
<path color="#18ff3b" d="M161.7 175l1.7-5.5-1.8-5.6-1.6 5.4z"/>
<path color="#18ff49" d="M160 180.5l1.7-5.5-1.7-5.7-1.6 5.4z"/>
<path color="#18ff66" d="M158.4 185.9l1.6-5.4-1.6-5.8-1.7 5.4z"/>
<path color="#19ff80" d="M156.7 191.4l1.7-5.5-1.7-5.8-1.6 5.4z"/>
<path color="#19ff9c" d="M155.1 196.9l1.6-5.5-1.6-5.9-1.7 5.4z"/>
<path color="#ff7315" d="M195.1 75.1l1.6-5.6-1.9-4-1.6 5.5z"/>
<path color="#ff7815" d="M193.4 80.6l1.7-5.5-1.9-4.1-1.7 5.5z"/>
<path color="#ff7f16" d="M191.7 86.2l1.7-5.6-1.9-4.1-1.6 5.5z"/>
<path color="#ff8916" d="M190.1 91.7l1.6-5.5-1.8-4.2-1.7 5.4z"/>
<path color="#ff9816" d="M188.4 97.3l1.7-5.6-1.9-4.3-1.7 5.5z"/>
<path color="#ffa816" d="M186.7 102.8l1.7-5.5-1.9-4.4-1.6 5.5z"/>
<path color="#ffbd16" d="M185.1 108.4l1.6-5.6-1.8-4.4-1.7 5.5z"/>
<path color="#ffd716" d="M183.4 114l1.7-5.6-1.9-4.5-1.6 5.4z"/>
<path color="#fff416" d="M181.7 119.5l1.7-5.5-1.8-4.7-1.7 5.5z"/>
<path color="#e6ff16" d="M180.1 125.1l1.6-5.6-1.8-4.7-1.6 5.5z"/>
<path color="#adff17" d="M178.4 130.6l1.7-5.5-1.8-4.8-1.7 5.4z"/>
<path color="#7cff17" d="M176.7 136.2l1.7-5.6-1.8-4.9-1.7 5.5z"/>
<path color="#66ff17" d="M175.1 141.7l1.6-5.5-1.8-5-1.6 5.5z"/>
<path color="#50ff17" d="M173.4 147.3l1.7-5.6-1.8-5-1.7 5.5z"/>
<path color="#3bff17" d="M171.7 152.9l1.7-5.6-1.8-5.1-1.6 5.4z"/>
<path color="#25ff17" d="M170.1 158.4l1.6-5.5-1.7-5.3-1.7 5.5z"/>
<path color="#17ff1a" d="M168.4 164l1.7-5.6-1.8-5.3-1.6 5.5z"/>
<path color="#18ff29" d="M166.7 169.5l1.7-5.5-1.7-5.4-1.7 5.4z"/>
<path color="#18ff38" d="M165.1 175.1l1.6-5.6-1.7-5.5-1.6 5.5z"/>
<path color="#18ff46" d="M163.4 180.6l1.7-5.5-1.7-5.6-1.7 5.5z"/>
<path color="#18ff65" d="M161.7 186.2l1.7-5.6-1.7-5.6-1.7 5.5z"/>
<path color="#18ff82" d="M160.1 191.8l1.6-5.6-1.7-5.7-1.6 5.4z"/>
<path color="#18ffa6" d="M158.4 197.3l1.7-5.5-1.7-5.9-1.7 5.5z"/>
<path color="#18ffc5" d="M156.7 202.9l1.7-5.6-1.7-5.9-1.6 5.5z"/>
<path color="#ff7b15" d="M197 79.1l1.6-5.6-1.9-4-1.6 5.6z"/>
<path color="#ff8015" d="M195.3 84.7l1.7-5.6-1.9-4-1.7 5.5z"/>
<path color="#ff8815" d="M193.6 90.4l1.7-5.7-1.9-4.1-1.7 5.6z"/>
<path color="#ff9416" d="M191.9 96l1.7-5.6-1.9-4.2-1.6 5.5z"/>
<path color="#ffa316" d="M190.3 101.7l1.6-5.7-1.8-4.3-1.7 5.6z"/>
<path color="#ffb416" d="M188.6 107.3l1.7-5.6-1.9-4.4-1.7 5.5z"/>
<path color="#ffcd16" d="M186.9 113l1.7-5.7-1.9-4.5-1.6 5.6z"/>
<path color="#ffe816" d="M185.2 118.6l1.7-5.6-1.8-4.6-1.7 5.6z"/>
<path color="#fbff16" d="M183.5 124.2l1.7-5.6-1.8-4.6-1.7 5.5z"/>
<path color="#c3ff16" d="M181.9 129.9l1.6-5.7-1.8-4.7-1.6 5.6z"/>
<path color="#8aff16" d="M180.2 135.5l1.7-5.6-1.8-4.8-1.7 5.5z"/>
<path color="#6eff17" d="M178.5 141.2l1.7-5.7-1.8-4.9-1.7 5.6z"/>
<path color="#58ff17" d="M176.8 146.8l1.7-5.6-1.8-5-1.6 5.5z"/>
<path color="#41ff17" d="M175.2 152.4l1.6-5.6-1.7-5.1-1.7 5.6z"/>
<path color="#2bff17" d="M173.5 158.1l1.7-5.7-1.8-5.1-1.7 5.6z"/>
<path color="#18ff17" d="M171.8 163.7l1.7-5.6-1.8-5.2-1.6 5.5z"/>
<path color="#17ff26" d="M170.1 169.4l1.7-5.7-1.7-5.3-1.7 5.6z"/>
<path color="#17ff35" d="M168.4 175l1.7-5.6-1.7-5.4-1.7 5.5z"/>
<path color="#18ff44" d="M166.8 180.7l1.6-5.7-1.7-5.5-1.6 5.6z"/>
<path color="#18ff64" d="M165.1 186.3l1.7-5.6-1.7-5.6-1.7 5.5z"/>
<path color="#18ff85" d="M163.4 191.9l1.7-5.6-1.7-5.7-1.7 5.6z"/>
<path color="#18ffb0" d="M161.7 197.6l1.7-5.7-1.7-5.7-1.6 5.6z"/>
<path color="#18ffd5" d="M160.1 203.2l1.6-5.6-1.6-5.8-1.7 5.5z"/>
<path color="#18fff2" d="M158.4 208.9l1.7-5.7-1.7-5.9-1.7 5.6z"/>
<path color="#ff8415" d="M198.9 83.1l1.7-5.7-2-3.9-1.6 5.6z"/>
<path color="#ff8b15" d="M197.2 88.9l1.7-5.8-1.9-4-1.7 5.6z"/>
<path color="#ff9515" d="M195.5 94.6l1.7-5.7-1.9-4.2-1.7 5.7z"/>
<path color="#ffa116" d="M193.8 100.3l1.7-5.7-1.9-4.2-1.7 5.6z"/>
<path color="#ffb016" d="M192.1 106l1.7-5.7-1.9-4.3-1.6 5.7z"/>
<path color="#ffc616" d="M190.4 111.8l1.7-5.8-1.8-4.3-1.7 5.6z"/>
<path color="#ffe016" d="M188.7 117.5l1.7-5.7-1.8-4.5-1.7 5.7z"/>
<path color="#fffc16" d="M187 123.2l1.7-5.7-1.8-4.5-1.7 5.6z"/>
<path color="#d5ff16" d="M185.4 129l1.6-5.8-1.8-4.6-1.7 5.6z"/>
<path color="#9cff16" d="M183.7 134.7l1.7-5.7-1.9-4.8-1.6 5.7z"/>
<path color="#75ff16" d="M182 140.4l1.7-5.7-1.8-4.8-1.7 5.6z"/>
<path color="#5eff16" d="M180.3 146.1l1.7-5.7-1.8-4.9-1.7 5.7z"/>
<path color="#47ff17" d="M178.6 151.9l1.7-5.8-1.8-4.9-1.7 5.6z"/>
<path color="#30ff17" d="M176.9 157.6l1.7-5.7-1.8-5.1-1.6 5.6z"/>
<path color="#1bff17" d="M175.2 163.3l1.7-5.7-1.7-5.2-1.7 5.7z"/>
<path color="#17ff23" d="M173.5 169l1.7-5.7-1.7-5.2-1.7 5.6z"/>
<path color="#17ff33" d="M171.8 174.8l1.7-5.8-1.7-5.3-1.7 5.7z"/>
<path color="#17ff42" d="M170.2 180.5l1.6-5.7-1.7-5.4-1.7 5.6z"/>
<path color="#17ff62" d="M168.5 186.2l1.7-5.7-1.8-5.5-1.6 5.7z"/>
<path color="#18ff87" d="M166.8 191.9l1.7-5.7-1.7-5.5-1.7 5.6z"/>
<path color="#18ffb7" d="M165.1 197.7l1.7-5.8-1.7-5.6-1.7 5.6z"/>
<path color="#18ffe1" d="M163.4 203.4l1.7-5.7-1.7-5.8-1.7 5.7z"/>
<path color="#18ffff" d="M161.7 209.1l1.7-5.7-1.7-5.8-1.6 5.6z"/>
<path color="#18ecff" d="M160 214.8l1.7-5.7-1.6-5.9-1.7 5.7z"/>
<path color="#ff9215" d="M200.8 87.2l1.7-5.8-1.9-4-1.7 5.7z"/>
<path color="#ff9915" d="M199.1 93l1.7-5.8-1.9-4.1-1.7 5.8z"/>
<path color="#ffa315" d="M197.4 98.8l1.7-5.8-1.9-4.1-1.7 5.7z"/>
<path color="#ffaf15" d="M195.7 104.6l1.7-5.8-1.9-4.2-1.7 5.7z"/>
<path color="#ffc316" d="M194 110.4l1.7-5.8-1.9-4.3-1.7 5.7z"/>
<path color="#ffdb16" d="M192.3 116.2l1.7-5.8-1.9-4.4-1.7 5.8z"/>
<path color="#fff516" d="M190.6 122l1.7-5.8-1.9-4.4-1.7 5.7z"/>
<path color="#e4ff16" d="M188.9 127.9l1.7-5.9-1.9-4.5-1.7 5.7z"/>
<path color="#acff16" d="M187.2 133.7l1.7-5.8-1.9-4.7-1.6 5.8z"/>
<path color="#7bff16" d="M185.5 139.5l1.7-5.8-1.8-4.7-1.7 5.7z"/>
<path color="#64ff16" d="M183.8 145.3l1.7-5.8-1.8-4.8-1.7 5.7z"/>
<path color="#4eff16" d="M182.1 151.1l1.7-5.8-1.8-4.9-1.7 5.7z"/>
<path color="#36ff16" d="M180.4 156.9l1.7-5.8-1.8-5-1.7 5.8z"/>
<path color="#1fff17" d="M178.7 162.7l1.7-5.8-1.8-5-1.7 5.7z"/>
<path color="#17ff1f" d="M177 168.5l1.7-5.8-1.8-5.1-1.7 5.7z"/>
<path color="#17ff30" d="M175.3 174.3l1.7-5.8-1.8-5.2-1.7 5.7z"/>
<path color="#17ff40" d="M173.6 180.2l1.7-5.9-1.8-5.3-1.7 5.8z"/>
<path color="#17ff5e" d="M171.9 186l1.7-5.8-1.8-5.4-1.6 5.7z"/>
<path color="#17ff84" d="M170.2 191.8l1.7-5.8-1.7-5.5-1.7 5.7z"/>
<path color="#17ffb8" d="M168.5 197.6l1.7-5.8-1.7-5.6-1.7 5.7z"/>
<path color="#18ffe7" d="M166.8 203.4l1.7-5.8-1.7-5.7-1.7 5.8z"/>
<path color="#18faff" d="M165.1 209.2l1.7-5.8-1.7-5.7-1.7 5.7z"/>
<path color="#18ddff" d="M163.4 215l1.7-5.8-1.7-5.8-1.7 5.7z"/>
<path color="#18c8ff" d="M161.7 220.8l1.7-5.8-1.7-5.9-1.7 5.7z"/>
<path color="#2cffb3" d="M149.9 195.6l3.5-4.7-1.6-6-3.6 5.1z"/>
<path color="#2bffea" d="M146.4 200.4l3.5-4.8-1.7-5.6-3.5 5.1z"/>
<path color="#2affff" d="M142.9 205.2l3.5-4.8-1.7-5.3-3.6 5.1z"/>
<path color="#27daff" d="M139.4 209.9l3.5-4.7-1.8-5-3.5 5.1z"/>
<path color="#25bbff" d="M135.9 214.7l3.5-4.8-1.8-4.6-3.5 5.1z"/>
<path color="#23a1ff" d="M132.4 219.5l3.5-4.8-1.8-4.3-3.6 5.1z"/>
<path color="#218eff" d="M128.9 224.2l3.5-4.7-1.9-4-3.5 5.1z"/>
<path color="#1f87ff" d="M125.4 229l3.5-4.8-1.9-3.6-3.6 5.1z"/>
<path color="#2cffd3" d="M151.6 201.3l3.5-4.4-1.7-6-3.5 4.7z"/>
<path color="#2cffff" d="M148.2 205.7l3.4-4.4-1.7-5.7-3.5 4.8z"/>
<path color="#29ebff" d="M144.7 210.2l3.5-4.5-1.8-5.3-3.5 4.8z"/>
<path color="#28c8ff" d="M141.2 214.6l3.5-4.4-1.8-5-3.5 4.7z"/>
<path color="#26abff" d="M137.8 219l3.4-4.4-1.8-4.7-3.5 4.8z"/>
<path color="#2392ff" d="M134.3 223.4l3.5-4.4-1.9-4.3-3.5 4.8z"/>
<path color="#2188ff" d="M130.9 227.9l3.4-4.5-1.9-3.9-3.5 4.7z"/>
<path color="#1f81ff" d="M127.4 232.3l3.5-4.4-2-3.7-3.5 4.8z"/>
<path color="#2cfff9" d="M153.3 207l3.4-4.1-1.6-6-3.5 4.4z"/>
<path color="#2bf9ff" d="M149.9 211l3.4-4-1.7-5.7-3.4 4.4z"/>
<path color="#29d4ff" d="M146.5 215.1l3.4-4.1-1.7-5.3-3.5 4.5z"/>
<path color="#28b5ff" d="M143.1 219.2l3.4-4.1-1.8-4.9-3.5 4.4z"/>
<path color="#269aff" d="M139.7 223.3l3.4-4.1-1.9-4.6-3.4 4.4z"/>
<path color="#248aff" d="M136.2 227.4l3.5-4.1-1.9-4.3-3.5 4.4z"/>
<path color="#2281ff" d="M132.8 231.5l3.4-4.1-1.9-4-3.4 4.5z"/>
<path color="#1f7bff" d="M129.4 235.6l3.4-4.1-1.9-3.6-3.5 4.4z"/>
<path color="#2cffff" d="M155 212.6l3.4-3.7-1.7-6-3.4 4.1z"/>
<path color="#2adbff" d="M151.6 216.4l3.4-3.8-1.7-5.6-3.4 4z"/>
<path color="#29bcff" d="M148.3 220.1l3.3-3.7-1.7-5.4-3.4 4.1z"/>
<path color="#28a1ff" d="M144.9 223.9l3.4-3.8-1.8-5-3.4 4.1z"/>
<path color="#268eff" d="M141.5 227.6l3.4-3.7-1.8-4.7-3.4 4.1z"/>
<path color="#2483ff" d="M138.2 231.4l3.3-3.8-1.8-4.3-3.5 4.1z"/>
<path color="#227bff" d="M134.8 235.1l3.4-3.7-2-4-3.4 4.1z"/>
<path color="#1f75ff" d="M131.4 238.9l3.4-3.8-2-3.6-3.4 4.1z"/>
<path color="#2addff" d="M156.7 218.3l3.3-3.5-1.6-5.9-3.4 3.7z"/>
<path color="#2ac0ff" d="M153.4 221.7l3.3-3.4-1.7-5.7-3.4 3.8z"/>
<path color="#29a5ff" d="M150 225.1l3.4-3.4-1.8-5.3-3.3 3.7z"/>
<path color="#2790ff" d="M146.7 228.5l3.3-3.4-1.7-5-3.4 3.8z"/>
<path color="#2685ff" d="M143.4 231.9l3.3-3.4-1.8-4.6-3.4 3.7z"/>
<path color="#247cff" d="M140.1 235.3l3.3-3.4-1.9-4.3-3.3 3.8z"/>
<path color="#2274ff" d="M136.7 238.8l3.4-3.5-1.9-3.9-3.4 3.7z"/>
<path color="#1f6fff" d="M133.4 242.2l3.3-3.4-1.9-3.7-3.4 3.8z"/>
<path color="#29c0ff" d="M158.4 223.9l3.3-3.1-1.7-6-3.3 3.5z"/>
<path color="#29a6ff" d="M155.1 227l3.3-3.1-1.7-5.6-3.3 3.4z"/>
<path color="#2891ff" d="M151.8 230.1l3.3-3.1-1.7-5.3-3.4 3.4z"/>
<path color="#2686ff" d="M148.5 233.1l3.3-3-1.8-5-3.3 3.4z"/>
<path color="#257dff" d="M145.3 236.2l3.2-3.1-1.8-4.6-3.3 3.4z"/>
<path color="#2374ff" d="M142 239.3l3.3-3.1-1.9-4.3-3.3 3.4z"/>
<path color="#216eff" d="M138.7 242.4l3.3-3.1-1.9-4-3.4 3.5z"/>
<path color="#1f69ff" d="M135.4 245.5l3.3-3.1-2-3.6-3.3 3.4z"/>
<path color="#122aff" d="M294.6 245.6l7.5 2.1-4.3-4.7-7.3-2.9z"/>
<path color="#1334ff" d="M287.1 243.6l7.5 2-4.1-5.5-7.3-3z"/>
<path color="#133eff" d="M279.7 241.6l7.4 2-3.9-6.5-7.4-2.9z"/>
<path color="#131bff" d="M298.7 251.2l7.6 1.1-4.2-4.6-7.5-2.1z"/>
<path color="#1327ff" d="M291.1 250.1l7.6 1.1-4.1-5.6-7.5-2z"/>
<path color="#1330ff" d="M283.6 249l7.5 1.1-4-6.5-7.4-2z"/>
<path color="#1913ff" d="M302.8 256.8l7.7 .2-4.2-4.7-7.6-1.1z"/>
<path color="#1415ff" d="M295.1 256.6l7.7 .2-4.1-5.6-7.6-1.1z"/>
<path color="#141dff" d="M287.4 256.4l7.7 .2-4-6.5-7.5-1.1z"/>
<path color="#1347ff" d="M272.1 240.2l7.6 1.4-3.9-7.4-7.5-1.8z"/>
<path color="#144eff" d="M264.6 238.9l7.5 1.3-3.8-7.8-7.5-1.7z"/>
<path color="#1455ff" d="M257.1 237.5l7.5 1.4-3.8-8.2-7.5-1.8z"/>
<path color="#1437ff" d="M276 248l7.6 1-3.9-7.4-7.6-1.4z"/>
<path color="#143dff" d="M268.4 247.1l7.6 .9-3.9-7.8-7.5-1.3z"/>
<path color="#1443ff" d="M260.8 246.1l7.6 1-3.8-8.2-7.5-1.4z"/>
<path color="#1426ff" d="M279.8 255.8l7.6 .6-3.8-7.4-7.6-1z"/>
<path color="#142eff" d="M272.1 255.3l7.7 .5-3.8-7.8-7.6-.9z"/>
<path color="#1433ff" d="M264.5 254.7l7.6 .6-3.7-8.2-7.6-1z"/>
<path color="#145cff" d="M249.4 236.6l7.7 .9-3.8-8.6-7.5-1.5z"/>
<path color="#1461ff" d="M241.8 235.8l7.6 .8-3.6-9.2-7.5-1.5z"/>
<path color="#1468ff" d="M234.2 234.9l7.6 .9-3.5-9.9-7.6-1.5z"/>
<path color="#1548ff" d="M253.1 245.9l7.7 .2-3.7-8.6-7.7-.9z"/>
<path color="#154cff" d="M245.4 245.7l7.7 .2-3.7-9.3-7.6-.8z"/>
<path color="#1550ff" d="M237.7 245.4l7.7 .3-3.6-9.9-7.6-.9z"/>
<path color="#1537ff" d="M256.7 255.2l7.8-.5-3.7-8.6-7.7-.2z"/>
<path color="#1639ff" d="M249 255.6l7.7-.4-3.6-9.3-7.7-.2z"/>
<path color="#163bff" d="M241.2 256l7.8-.4-3.6-9.9-7.7-.3z"/>
<path color="#1271fd" d="M227.2 225.3l5.3 4.3-1.8-5.2-5.1-5.1z"/>
<path color="#127dfd" d="M222 220.9l5.2 4.4-1.6-6-5.2-5.1z"/>
<path color="#1299fd" d="M216.8 216.5l5.2 4.4-1.6-6.7-5.1-5.1z"/>
<path color="#12c3fd" d="M211.5 212.1l5.3 4.4-1.5-7.4-5.1-5.1z"/>
<path color="#1264ff" d="M228.9 231.3l5.3 3.6-1.7-5.3-5.3-4.3z"/>
<path color="#126eff" d="M223.6 227.6l5.3 3.7-1.7-6-5.2-4.4z"/>
<path color="#127aff" d="M218.2 223.9l5.4 3.7-1.6-6.7-5.2-4.4z"/>
<path color="#1297ff" d="M212.9 220.3l5.3 3.6-1.4-7.4-5.3-4.4z"/>
<path color="#1257ff" d="M230.5 237.2l5.5 3-1.8-5.3-5.3-3.6z"/>
<path color="#125fff" d="M225.1 234.3l5.4 2.9-1.6-5.9-5.3-3.7z"/>
<path color="#136aff" d="M219.7 231.4l5.4 2.9-1.5-6.7-5.4-3.7z"/>
<path color="#1378ff" d="M214.3 228.4l5.4 3-1.5-7.5-5.3-3.6z"/>
<path color="#134bff" d="M232.2 243.2l5.5 2.2-1.7-5.2-5.5-3z"/>
<path color="#1351ff" d="M226.7 241l5.5 2.2-1.7-6-5.4-2.9z"/>
<path color="#135aff" d="M221.2 238.8l5.5 2.2-1.6-6.7-5.4-2.9z"/>
<path color="#1365ff" d="M215.7 236.6l5.5 2.2-1.5-7.4-5.4-3z"/>
<path color="#1340ff" d="M233.8 249.2l5.6 1.5-1.7-5.3-5.5-2.2z"/>
<path color="#1445ff" d="M228.2 247.7l5.6 1.5-1.6-6-5.5-2.2z"/>
<path color="#144bff" d="M222.6 246.2l5.6 1.5-1.5-6.7-5.5-2.2z"/>
<path color="#1454ff" d="M217 244.7l5.6 1.5-1.4-7.4-5.5-2.2z"/>
<path color="#1437ff" d="M235.5 255.2l5.7 .8-1.8-5.3-5.6-1.5z"/>
<path color="#153aff" d="M229.8 254.4l5.7 .8-1.7-6-5.6-1.5z"/>
<path color="#153fff" d="M224.1 253.6l5.7 .8-1.6-6.7-5.6-1.5z"/>
<path color="#1545ff" d="M218.4 252.9l5.7 .7-1.5-7.4-5.6-1.5z"/>
<path color="#1acedc" d="M210.5 203.1l.3 5-.6-4.1-.4-5.1z"/>
<path color="#1ad5d3" d="M210.2 198.1l.3 5-.7-4.2-.3-5.1z"/>
<path color="#1ad5bc" d="M209.8 193.1l.4 5-.7-4.3-.3-5.1z"/>
<path color="#1ad59f" d="M209.5 188.1l.3 5-.6-4.4-.3-5.1z"/>
<path color="#1ad57d" d="M209.2 183.1l.3 5-.6-4.5-.3-5.1z"/>
<path color="#1ad563" d="M208.8 178.2l.4 4.9-.6-4.6-.4-5.2z"/>
<path color="#1ad549" d="M208.5 173.2l.3 5-.6-4.9-.3-5.1z"/>
<path color="#1ad53e" d="M208.2 168.2l.3 5-.6-5-.3-5.1z"/>
<path color="#1ad533" d="M207.8 163.2l.4 5-.6-5.1-.3-5.1z"/>
<path color="#1ad527" d="M207.5 158.2l.3 5-.5-5.2-.4-5.1z"/>
<path color="#25d525" d="M207.1 153.2l.4 5-.6-5.3-.3-5.1z"/>
<path color="#36d525" d="M206.8 148.2l.3 5-.5-5.4-.3-5.1z"/>
<path color="#47d525" d="M206.5 143.3l.3 4.9-.5-5.5-.3-5.1z"/>
<path color="#57d525" d="M206.1 138.3l.4 5-.5-5.7-.3-5.1z"/>
<path color="#67d525" d="M205.8 133.3l.3 5-.4-5.8-.4-5.1z"/>
<path color="#89d525" d="M205.5 128.3l.3 5-.5-5.9-.3-5.1z"/>
<path color="#b1d525" d="M205.1 123.3l.4 5-.5-6-.3-5.2z"/>
<path color="#d2d325" d="M204.8 118.3l.3 5-.4-6.2-.3-5.1z"/>
<path color="#e3cb12" d="M204.5 113.3l.3 5-.4-6.3-.3-5.1z"/>
<path color="#e3b712" d="M204.1 108.3l.4 5-.4-6.4-.4-5.1z"/>
<path color="#e4a712" d="M203.8 103.3l.3 5-.4-6.5-.3-5.1z"/>
<path color="#e49a12" d="M203.5 98.4l.3 4.9-.4-6.6-.3-5.1z"/>
<path color="#e49212" d="M203.1 93.4l.4 5-.4-6.8-.3-5.1z"/>
<path color="#e48d12" d="M202.8 88.4l.3 5-.3-6.9-.3-5.1z"/>
<path color="#1ab7dc" d="M211.2 207.3l.3 4.8-.7-4-.3-5z"/>
<path color="#1ac8dc" d="M210.8 202.4l.4 4.9-.7-4.2-.3-5z"/>
<path color="#1ad5d5" d="M210.5 197.6l.3 4.8-.6-4.3-.4-5z"/>
<path color="#1ad5bb" d="M210.1 192.7l.4 4.9-.7-4.5-.3-5z"/>
<path color="#1ad599" d="M209.8 187.8l.3 4.9-.6-4.6-.3-5z"/>
<path color="#1ad577" d="M209.4 183l.4 4.8-.6-4.7-.4-4.9z"/>
<path color="#1ad55c" d="M209.1 178.1l.3 4.9-.6-4.8-.3-5z"/>
<path color="#1ad546" d="M208.7 173.2l.4 4.9-.6-4.9-.3-5z"/>
<path color="#1ad53a" d="M208.4 168.4l.3 4.8-.5-5-.4-5z"/>
<path color="#1ad52f" d="M208 163.5l.4 4.9-.6-5.2-.3-5z"/>
<path color="#1cd525" d="M207.7 158.6l.3 4.9-.5-5.3-.4-5z"/>
<path color="#2bd525" d="M207.3 153.8l.4 4.8-.6-5.4-.3-5z"/>
<path color="#3cd525" d="M207 148.9l.3 4.9-.5-5.6-.3-4.9z"/>
<path color="#4dd525" d="M206.6 144.1l.4 4.8-.5-5.6-.4-5z"/>
<path color="#5dd525" d="M206.3 139.2l.3 4.9-.5-5.8-.3-5z"/>
<path color="#6dd525" d="M205.9 134.3l.4 4.9-.5-5.9-.3-5z"/>
<path color="#95d525" d="M205.6 129.5l.3 4.8-.4-6-.4-5z"/>
<path color="#cae312" d="M205.2 124.6l.4 4.9-.5-6.2-.3-5z"/>
<path color="#e4dc12" d="M204.9 119.7l.3 4.9-.4-6.3-.3-5z"/>
<path color="#e4c912" d="M204.5 114.9l.4 4.8-.4-6.4-.4-5z"/>
<path color="#e4b812" d="M204.2 110l.3 4.9-.4-6.6-.3-5z"/>
<path color="#e4aa12" d="M203.8 105.1l.4 4.9-.4-6.7-.3-4.9z"/>
<path color="#e59f12" d="M203.4 100.3l.4 4.8-.3-6.7-.4-5z"/>
<path color="#e59a12" d="M203.1 95.4l.3 4.9-.3-6.9-.3-5z"/>
<path color="#1aa4dc" d="M211.9 211.5l.3 4.7-.7-4.1-.3-4.8z"/>
<path color="#1ab1dc" d="M211.5 206.7l.4 4.8-.7-4.2-.4-4.9z"/>
<path color="#1ac5dc" d="M211.1 202l.4 4.7-.7-4.3-.3-4.8z"/>
<path color="#1ad5d5" d="M210.8 197.3l.3 4.7-.6-4.4-.4-4.9z"/>
<path color="#1ad5b7" d="M210.4 192.5l.4 4.8-.7-4.6-.3-4.9z"/>
<path color="#1ad593" d="M210 187.8l.4 4.7-.6-4.7-.4-4.8z"/>
<path color="#1ad570" d="M209.7 183l.3 4.8-.6-4.8-.3-4.9z"/>
<path color="#1ad554" d="M209.3 178.3l.4 4.7-.6-4.9-.4-4.9z"/>
<path color="#1ad542" d="M208.9 173.6l.4 4.7-.6-5.1-.3-4.8z"/>
<path color="#1ad537" d="M208.6 168.8l.3 4.8-.5-5.2-.4-4.9z"/>
<path color="#1ad52b" d="M208.2 164.1l.4 4.7-.6-5.3-.3-4.9z"/>
<path color="#20d525" d="M207.8 159.3l.4 4.8-.5-5.5-.4-4.8z"/>
<path color="#31d525" d="M207.5 154.6l.3 4.7-.5-5.5-.3-4.9z"/>
<path color="#41d525" d="M207.1 149.8l.4 4.8-.5-5.7-.4-4.8z"/>
<path color="#51d525" d="M206.7 145.1l.4 4.7-.5-5.7-.3-4.9z"/>
<path color="#61d525" d="M206.3 140.4l.4 4.7-.4-5.9-.4-4.9z"/>
<path color="#7ae312" d="M206 135.6l.3 4.8-.4-6.1-.3-4.8z"/>
<path color="#a5e412" d="M205.6 130.9l.4 4.7-.4-6.1-.4-4.9z"/>
<path color="#cde412" d="M205.2 126.1l.4 4.8-.4-6.3-.3-4.9z"/>
<path color="#e4dd12" d="M204.9 121.4l.3 4.7-.3-6.4-.4-4.8z"/>
<path color="#e5cd12" d="M204.5 116.7l.4 4.7-.4-6.5-.3-4.9z"/>
<path color="#e5bf12" d="M204.1 111.9l.4 4.8-.3-6.7-.4-4.9z"/>
<path color="#e5b412" d="M203.8 107.2l.3 4.7-.3-6.8-.4-4.8z"/>
<path color="#e5ae12" d="M203.4 102.4l.4 4.8-.4-6.9-.3-4.9z"/>
<path color="#1a91dc" d="M212.5 215.7l.4 4.6-.7-4.1-.3-4.7z"/>
<path color="#1a9ddc" d="M212.1 211.1l.4 4.6-.6-4.2-.4-4.8z"/>
<path color="#1aaddc" d="M211.8 206.4l.3 4.7-.6-4.4-.4-4.7z"/>
<path color="#1ac4dc" d="M211.4 201.8l.4 4.6-.7-4.4-.3-4.7z"/>
<path color="#1ad5d3" d="M211 197.2l.4 4.6-.6-4.5-.4-4.8z"/>
<path color="#1ad5b1" d="M210.6 192.6l.4 4.6-.6-4.7-.4-4.7z"/>
<path color="#1ad58b" d="M210.2 188l.4 4.6-.6-4.8-.3-4.8z"/>
<path color="#1ad56a" d="M209.8 183.3l.4 4.7-.5-5-.4-4.7z"/>
<path color="#1ad54c" d="M209.5 178.7l.3 4.6-.5-5-.4-4.7z"/>
<path color="#1ad53f" d="M209.1 174.1l.4 4.6-.6-5.1-.3-4.8z"/>
<path color="#1ad534" d="M208.7 169.5l.4 4.6-.5-5.3-.4-4.7z"/>
<path color="#1ad528" d="M208.3 164.9l.4 4.6-.5-5.4-.4-4.8z"/>
<path color="#24d525" d="M207.9 160.3l.4 4.6-.5-5.6-.3-4.7z"/>
<path color="#34d525" d="M207.6 155.6l.3 4.7-.4-5.7-.4-4.8z"/>
<path color="#42e312" d="M207.2 151l.4 4.6-.5-5.8-.4-4.7z"/>
<path color="#54e412" d="M206.8 146.4l.4 4.6-.5-5.9-.4-4.7z"/>
<path color="#65e412" d="M206.4 141.8l.4 4.6-.5-6-.3-4.8z"/>
<path color="#7ce412" d="M206 137.2l.4 4.6-.4-6.2-.4-4.7z"/>
<path color="#a3e512" d="M205.6 132.5l.4 4.7-.4-6.3-.4-4.8z"/>
<path color="#c7e512" d="M205.3 127.9l.3 4.6-.4-6.4-.3-4.7z"/>
<path color="#e5e512" d="M204.9 123.3l.4 4.6-.4-6.5-.4-4.7z"/>
<path color="#e5d712" d="M204.5 118.7l.4 4.6-.4-6.6-.4-4.8z"/>
<path color="#e6cd12" d="M204.1 114.1l.4 4.6-.4-6.8-.3-4.7z"/>
<path color="#e6c612" d="M203.7 109.4l.4 4.7-.3-6.9-.4-4.8z"/>
<path color="#1a7edc" d="M213.2 219.9l.4 4.5-.7-4.1-.4-4.6z"/>
<path color="#1a8adc" d="M212.8 215.4l.4 4.5-.7-4.2-.4-4.6z"/>
<path color="#1a99dc" d="M212.4 210.9l.4 4.5-.7-4.3-.3-4.7z"/>
<path color="#1aacdc" d="M212 206.4l.4 4.5-.6-4.5-.4-4.6z"/>
<path color="#1ac5dc" d="M211.6 201.9l.4 4.5-.6-4.6-.4-4.6z"/>
<path color="#1ad5cf" d="M211.2 197.4l.4 4.5-.6-4.7-.4-4.6z"/>
<path color="#1ad5ab" d="M210.8 192.9l.4 4.5-.6-4.8-.4-4.6z"/>
<path color="#1ad583" d="M210.4 188.4l.4 4.5-.6-4.9-.4-4.7z"/>
<path color="#1ad563" d="M210 183.9l.4 4.5-.6-5.1-.3-4.6z"/>
<path color="#1ad548" d="M209.6 179.4l.4 4.5-.5-5.2-.4-4.6z"/>
<path color="#1ad53d" d="M209.2 174.9l.4 4.5-.5-5.3-.4-4.6z"/>
<path color="#1ad531" d="M208.8 170.4l.4 4.5-.5-5.4-.4-4.6z"/>
<path color="#1ad525" d="M208.4 165.9l.4 4.5-.5-5.5-.4-4.6z"/>
<path color="#20e412" d="M208 161.4l.4 4.5-.5-5.6-.3-4.7z"/>
<path color="#32e412" d="M207.6 156.9l.4 4.5-.4-5.8-.4-4.6z"/>
<path color="#44e412" d="M207.2 152.4l.4 4.5-.4-5.9-.4-4.6z"/>
<path color="#55e512" d="M206.8 147.9l.4 4.5-.4-6-.4-4.6z"/>
<path color="#64e512" d="M206.4 143.4l.4 4.5-.4-6.1-.4-4.6z"/>
<path color="#75e512" d="M206 138.9l.4 4.5-.4-6.2-.4-4.7z"/>
<path color="#98e512" d="M205.6 134.4l.4 4.5-.4-6.4-.3-4.6z"/>
<path color="#b7e612" d="M205.2 129.9l.4 4.5-.3-6.5-.4-4.6z"/>
<path color="#d0e612" d="M204.8 125.5l.4 4.4-.3-6.6-.4-4.6z"/>
<path color="#e3e612" d="M204.4 121l.4 4.5-.3-6.8-.4-4.6z"/>
<path color="#e6e212" d="M204.1 116.5l.3 4.5-.3-6.9-.4-4.7z"/>
<path color="#1a70dc" d="M213.9 224.1l.4 4.3-.7-4-.4-4.5z"/>
<path color="#1a77dc" d="M213.5 219.7l.4 4.4-.7-4.2-.4-4.5z"/>
<path color="#1a85dc" d="M213 215.3l.5 4.4-.7-4.3-.4-4.5z"/>
<path color="#1a98dc" d="M212.6 211l.4 4.3-.6-4.4-.4-4.5z"/>
<path color="#1aaddc" d="M212.2 206.6l.4 4.4-.6-4.6-.4-4.5z"/>
<path color="#1ac8dc" d="M211.8 202.2l.4 4.4-.6-4.7-.4-4.5z"/>
<path color="#1ad5cb" d="M211.4 197.8l.4 4.4-.6-4.8-.4-4.5z"/>
<path color="#1ad5a4" d="M211 193.5l.4 4.3-.6-4.9-.4-4.5z"/>
<path color="#1ad57a" d="M210.6 189.1l.4 4.4-.6-5.1-.4-4.5z"/>
<path color="#1ad55d" d="M210.2 184.7l.4 4.4-.6-5.2-.4-4.5z"/>
<path color="#1ad546" d="M209.7 180.3l.5 4.4-.6-5.3-.4-4.5z"/>
<path color="#1ad53b" d="M209.3 176l.4 4.3-.5-5.4-.4-4.5z"/>
<path color="#12e41e" d="M208.9 171.6l.4 4.4-.5-5.6-.4-4.5z"/>
<path color="#13e412" d="M208.5 167.2l.4 4.4-.5-5.7-.4-4.5z"/>
<path color="#22e412" d="M208.1 162.8l.4 4.4-.5-5.8-.4-4.5z"/>
<path color="#33e512" d="M207.7 158.5l.4 4.3-.5-5.9-.4-4.5z"/>
<path color="#43e512" d="M207.3 154.1l.4 4.4-.5-6.1-.4-4.5z"/>
<path color="#53e512" d="M206.8 149.7l.5 4.4-.5-6.2-.4-4.5z"/>
<path color="#61e612" d="M206.4 145.3l.4 4.4-.4-6.3-.4-4.5z"/>
<path color="#6de612" d="M206 141l.4 4.3-.4-6.4-.4-4.5z"/>
<path color="#84e612" d="M205.6 136.6l.4 4.4-.4-6.6-.4-4.5z"/>
<path color="#9ce612" d="M205.2 132.2l.4 4.4-.4-6.7-.4-4.4z"/>
<path color="#afe712" d="M204.8 127.8l.4 4.4-.4-6.7-.4-4.5z"/>
<path color="#bbe712" d="M204.4 123.5l.4 4.3-.4-6.8-.3-4.5z"/>
<path color="#1a67dc" d="M214.5 228.3l.5 4.2-.7-4.1-.4-4.3z"/>
<path color="#1a6cdc" d="M214.1 224l.4 4.3-.6-4.2-.4-4.4z"/>
<path color="#1a73dc" d="M213.7 219.8l.4 4.2-.6-4.3-.5-4.4z"/>
<path color="#1a84dc" d="M213.3 215.5l.4 4.3-.7-4.5-.4-4.3z"/>
<path color="#1a98dc" d="M212.8 211.3l.5 4.2-.7-4.5-.4-4.4z"/>
<path color="#1aafdc" d="M212.4 207l.4 4.3-.6-4.7-.4-4.4z"/>
<path color="#1accdc" d="M212 202.8l.4 4.2-.6-4.8-.4-4.4z"/>
<path color="#1ad5c4" d="M211.5 198.5l.5 4.3-.6-5-.4-4.3z"/>
<path color="#1ad59c" d="M211.1 194.3l.4 4.2-.5-5-.4-4.4z"/>
<path color="#1ad575" d="M210.7 190l.4 4.3-.5-5.2-.4-4.4z"/>
<path color="#1ad558" d="M210.3 185.8l.4 4.2-.5-5.3-.5-4.4z"/>
<path color="#12e436" d="M209.8 181.5l.5 4.3-.6-5.5-.4-4.3z"/>
<path color="#12e429" d="M209.4 177.3l.4 4.2-.5-5.5-.4-4.4z"/>
<path color="#12e51d" d="M209 173l.4 4.3-.5-5.7-.4-4.4z"/>
<path color="#13e512" d="M208.5 168.8l.5 4.2-.5-5.8-.4-4.4z"/>
<path color="#22e512" d="M208.1 164.5l.4 4.3-.4-6-.4-4.3z"/>
<path color="#31e612" d="M207.7 160.3l.4 4.2-.4-6-.4-4.4z"/>
<path color="#40e612" d="M207.3 156l.4 4.3-.4-6.2-.5-4.4z"/>
<path color="#4ee612" d="M206.8 151.8l.5 4.2-.5-6.3-.4-4.4z"/>
<path color="#5ae612" d="M206.4 147.5l.4 4.3-.4-6.5-.4-4.3z"/>
<path color="#65e712" d="M206 143.2l.4 4.3-.4-6.5-.4-4.4z"/>
<path color="#6ee712" d="M205.5 139l.5 4.2-.4-6.6-.4-4.4z"/>
<path color="#78e712" d="M205.1 134.7l.4 4.3-.3-6.8-.4-4.4z"/>
<path color="#84e812" d="M204.7 130.5l.4 4.2-.3-6.9-.4-4.3z"/>
<path color="#1a5fdc" d="M215.2 232.5l.5 4.1-.7-4.1-.5-4.2z"/>
<path color="#1a64dc" d="M214.8 228.3l.4 4.2-.7-4.2-.4-4.3z"/>
<path color="#1a6adc" d="M214.3 224.2l.5 4.1-.7-4.3-.4-4.2z"/>
<path color="#1a72dc" d="M213.9 220.1l.4 4.1-.6-4.4-.4-4.3z"/>
<path color="#1a84dc" d="M213.4 215.9l.5 4.2-.6-4.6-.5-4.2z"/>
<path color="#1a9adc" d="M213 211.8l.4 4.1-.6-4.6-.4-4.3z"/>
<path color="#1ab2dc" d="M212.6 207.7l.4 4.1-.6-4.8-.4-4.2z"/>
<path color="#1ad1dc" d="M212.1 203.6l.5 4.1-.6-4.9-.5-4.3z"/>
<path color="#1ad5be" d="M211.7 199.4l.4 4.2-.6-5.1-.4-4.2z"/>
<path color="#12e493" d="M211.2 195.3l.5 4.1-.6-5.1-.4-4.3z"/>
<path color="#12e469" d="M210.8 191.2l.4 4.1-.5-5.3-.4-4.2z"/>
<path color="#12e549" d="M210.3 187.1l.5 4.1-.5-5.4-.5-4.3z"/>
<path color="#12e535" d="M209.9 182.9l.4 4.2-.5-5.6-.4-4.2z"/>
<path color="#12e529" d="M209.4 178.8l.5 4.1-.5-5.6-.4-4.3z"/>
<path color="#12e61d" d="M209 174.7l.4 4.1-.4-5.8-.5-4.2z"/>
<path color="#12e612" d="M208.6 170.5l.4 4.2-.5-5.9-.4-4.3z"/>
<path color="#1fe612" d="M208.1 166.4l.5 4.1-.5-6-.4-4.2z"/>
<path color="#2ee612" d="M207.7 162.3l.4 4.1-.4-6.1-.4-4.3z"/>
<path color="#3be712" d="M207.2 158.2l.5 4.1-.4-6.3-.5-4.2z"/>
<path color="#47e712" d="M206.8 154l.4 4.2-.4-6.4-.4-4.3z"/>
<path color="#51e712" d="M206.3 149.9l.5 4.1-.4-6.5-.4-4.3z"/>
<path color="#59e812" d="M205.9 145.8l.4 4.1-.3-6.7-.5-4.2z"/>
<path color="#60e812" d="M205.4 141.6l.5 4.2-.4-6.8-.4-4.3z"/>
<path color="#64e812" d="M205 137.5l.4 4.1-.3-6.9-.4-4.2z"/>
<path color="#1a57dc" d="M215.9 236.7l.5 4-.7-4.1-.5-4.1z"/>
<path color="#1a5cdc" d="M215.4 232.6l.5 4.1-.7-4.2-.4-4.2z"/>
<path color="#1a62dc" d="M215 228.6l.4 4-.6-4.3-.5-4.1z"/>
<path color="#1a69dc" d="M214.5 224.6l.5 4-.7-4.4-.4-4.1z"/>
<path color="#1a72dc" d="M214.1 220.6l.4 4-.6-4.5-.5-4.2z"/>
<path color="#1a86dc" d="M213.6 216.6l.5 4-.7-4.7-.4-4.1z"/>
<path color="#1a9ddc" d="M213.1 212.6l.5 4-.6-4.8-.4-4.1z"/>
<path color="#1ab7dc" d="M212.7 208.6l.4 4-.5-4.9-.5-4.1z"/>
<path color="#12e4e3" d="M212.2 204.6l.5 4-.6-5-.4-4.2z"/>
<path color="#12e5ba" d="M211.8 200.6l.4 4-.5-5.2-.5-4.1z"/>
<path color="#12e58d" d="M211.3 196.6l.5 4-.6-5.3-.4-4.1z"/>
<path color="#12e565" d="M210.8 192.6l.5 4-.5-5.4-.5-4.1z"/>
<path color="#12e646" d="M210.4 188.6l.4 4-.5-5.5-.4-4.2z"/>
<path color="#12e634" d="M209.9 184.6l.5 4-.5-5.7-.5-4.1z"/>
<path color="#12e629" d="M209.5 180.6l.4 4-.5-5.8-.4-4.1z"/>
<path color="#12e61e" d="M209 176.6l.5 4-.5-5.9-.4-4.2z"/>
<path color="#12e713" d="M208.5 172.6l.5 4-.4-6.1-.5-4.1z"/>
<path color="#1be712" d="M208.1 168.6l.4 4-.4-6.2-.4-4.1z"/>
<path color="#28e712" d="M207.6 164.6l.5 4-.4-6.3-.5-4.1z"/>
<path color="#33e812" d="M207.2 160.5l.4 4.1-.4-6.4-.4-4.2z"/>
<path color="#3de812" d="M206.7 156.5l.5 4-.4-6.5-.5-4.1z"/>
<path color="#45e812" d="M206.2 152.5l.5 4-.4-6.6-.4-4.1z"/>
<path color="#4be812" d="M205.8 148.5l.4 4-.3-6.7-.5-4.2z"/>
<path color="#50e912" d="M205.3 144.5l.5 4-.4-6.9-.4-4.1z"/>
<path color="#1a50dc" d="M216.6 240.8l.4 3.9-.6-4-.5-4z"/>
<path color="#1a54dc" d="M216.1 237l.5 3.8-.7-4.1-.5-4.1z"/>
<path color="#1a5adc" d="M215.6 233.1l.5 3.9-.7-4.4-.4-4z"/>
<path color="#1a61dc" d="M215.1 229.2l.5 3.9-.6-4.5-.5-4z"/>
<path color="#1a6adc" d="M214.7 225.3l.4 3.9-.6-4.6-.4-4z"/>
<path color="#1a73dc" d="M214.2 221.4l.5 3.9-.6-4.7-.5-4z"/>
<path color="#1a8adc" d="M213.7 217.6l.5 3.8-.6-4.8-.5-4z"/>
<path color="#12a9e5" d="M213.2 213.7l.5 3.9-.6-5-.4-4z"/>
<path color="#12c9e5" d="M212.8 209.8l.4 3.9-.5-5.1-.5-4z"/>
<path color="#12e5dd" d="M212.3 205.9l.5 3.9-.6-5.2-.4-4z"/>
<path color="#12e6b4" d="M211.8 202l.5 3.9-.5-5.3-.5-4z"/>
<path color="#12e687" d="M211.3 198.1l.5 3.9-.5-5.4-.5-4z"/>
<path color="#12e663" d="M210.9 194.3l.4 3.8-.5-5.5-.4-4z"/>
<path color="#12e645" d="M210.4 190.4l.5 3.9-.5-5.7-.5-4z"/>
<path color="#12e735" d="M209.9 186.5l.5 3.9-.5-5.8-.4-4z"/>
<path color="#12e72a" d="M209.4 182.6l.5 3.9-.4-5.9-.5-4z"/>
<path color="#12e720" d="M209 178.7l.4 3.9-.4-6-.5-4z"/>
<path color="#12e816" d="M208.5 174.8l.5 3.9-.5-6.1-.4-4z"/>
<path color="#16e812" d="M208 171l.5 3.8-.4-6.2-.5-4z"/>
<path color="#20e812" d="M207.5 167.1l.5 3.9-.4-6.4-.4-4.1z"/>
<path color="#2ae912" d="M207.1 163.2l.4 3.9-.3-6.6-.5-4z"/>
<path color="#31e912" d="M206.6 159.3l.5 3.9-.4-6.7-.5-4z"/>
<path color="#37e912" d="M206.1 155.4l.5 3.9-.4-6.8-.4-4z"/>
<path color="#3be912" d="M205.6 151.5l.5 3.9-.3-6.9-.5-4z"/>
<path color="#1a4adc" d="M217.2 245l.5 3.8-.7-4.1-.4-3.9z"/>
<path color="#1a4edc" d="M216.7 241.3l.5 3.7-.6-4.2-.5-3.8z"/>
<path color="#1a53dc" d="M216.3 237.5l.4 3.8-.6-4.3-.5-3.9z"/>
<path color="#1a5adc" d="M215.8 233.8l.5 3.7-.7-4.4-.5-3.9z"/>
<path color="#1a62dc" d="M215.3 230l.5 3.8-.7-4.6-.4-3.9z"/>
<path color="#1a6bdc" d="M214.8 226.2l.5 3.8-.6-4.7-.5-3.9z"/>
<path color="#1279e5" d="M214.3 222.5l.5 3.7-.6-4.8-.5-3.8z"/>
<path color="#1294e5" d="M213.8 218.7l.5 3.8-.6-4.9-.5-3.9z"/>
<path color="#12b0e6" d="M213.3 215l.5 3.7-.6-5-.4-3.9z"/>
<path color="#12d0e6" d="M212.8 211.2l.5 3.8-.5-5.2-.5-3.9z"/>
<path color="#12e6d8" d="M212.3 207.4l.5 3.8-.5-5.3-.5-3.9z"/>
<path color="#12e6ae" d="M211.8 203.7l.5 3.7-.5-5.4-.5-3.9z"/>
<path color="#12e783" d="M211.4 199.9l.4 3.8-.5-5.6-.4-3.8z"/>
<path color="#12e762" d="M210.9 196.2l.5 3.7-.5-5.6-.5-3.9z"/>
<path color="#12e745" d="M210.4 192.4l.5 3.8-.5-5.8-.5-3.9z"/>
<path color="#12e836" d="M209.9 188.6l.5 3.8-.5-5.9-.5-3.9z"/>
<path color="#12e82c" d="M209.4 184.9l.5 3.7-.5-6-.4-3.9z"/>
<path color="#12e823" d="M208.9 181.1l.5 3.8-.4-6.2-.5-3.9z"/>
<path color="#12e91a" d="M208.4 177.4l.5 3.7-.4-6.3-.5-3.8z"/>
<path color="#12e913" d="M207.9 173.6l.5 3.8-.4-6.4-.5-3.9z"/>
<path color="#18e912" d="M207.4 169.8l.5 3.8-.4-6.5-.4-3.9z"/>
<path color="#1ee912" d="M206.9 166.1l.5 3.7-.3-6.6-.5-3.9z"/>
<path color="#24ea12" d="M206.4 162.3l.5 3.8-.3-6.8-.5-3.9z"/>
<path color="#28ea12" d="M206 158.6l.4 3.7-.3-6.9-.5-3.9z"/>
<path color="#1a44dc" d="M217.9 249.2l.5 3.7-.7-4.1-.5-3.8z"/>
<path color="#1a48dc" d="M217.4 245.6l.5 3.6-.7-4.2-.5-3.7z"/>
<path color="#1a4ddc" d="M216.9 242l.5 3.6-.7-4.3-.4-3.8z"/>
<path color="#1a54dc" d="M216.4 238.3l.5 3.7-.6-4.5-.5-3.7z"/>
<path color="#1259e5" d="M215.9 234.7l.5 3.6-.6-4.5-.5-3.8z"/>
<path color="#1263e5" d="M215.4 231.1l.5 3.6-.6-4.7-.5-3.8z"/>
<path color="#126ee5" d="M214.9 227.4l.5 3.7-.6-4.9-.5-3.7z"/>
<path color="#1280e6" d="M214.4 223.8l.5 3.6-.6-4.9-.5-3.8z"/>
<path color="#129be6" d="M213.9 220.1l.5 3.7-.6-5.1-.5-3.7z"/>
<path color="#12b7e7" d="M213.4 216.5l.5 3.6-.6-5.1-.5-3.8z"/>
<path color="#12d9e7" d="M212.9 212.9l.5 3.6-.6-5.3-.5-3.8z"/>
<path color="#12e7d2" d="M212.3 209.2l.6 3.7-.6-5.5-.5-3.7z"/>
<path color="#12e7a9" d="M211.8 205.6l.5 3.6-.5-5.5-.4-3.8z"/>
<path color="#12e880" d="M211.3 202l.5 3.6-.4-5.7-.5-3.7z"/>
<path color="#12e861" d="M210.8 198.3l.5 3.7-.4-5.8-.5-3.8z"/>
<path color="#12e847" d="M210.3 194.7l.5 3.6-.4-5.9-.5-3.8z"/>
<path color="#12e937" d="M209.8 191l.5 3.7-.4-6.1-.5-3.7z"/>
<path color="#12e92e" d="M209.3 187.4l.5 3.6-.4-6.1-.5-3.8z"/>
<path color="#12e926" d="M208.8 183.8l.5 3.6-.4-6.3-.5-3.7z"/>
<path color="#12e91f" d="M208.3 180.1l.5 3.7-.4-6.4-.5-3.8z"/>
<path color="#12ea19" d="M207.8 176.5l.5 3.6-.4-6.5-.5-3.8z"/>
<path color="#12ea13" d="M207.3 172.8l.5 3.7-.4-6.7-.5-3.7z"/>
<path color="#14ea12" d="M206.8 169.2l.5 3.6-.4-6.7-.5-3.8z"/>
<path color="#17eb12" d="M206.3 165.6l.5 3.6-.4-6.9-.4-3.7z"/>
<path color="#ffaa27" d="M201.1 94l1.7-5.6-.3-7-1.7 5.8z"/>
<path color="#ffb026" d="M199.4 99.7l1.7-5.7-.3-6.8-1.7 5.8z"/>
<path color="#ffb926" d="M197.7 105.3l1.7-5.6-.3-6.7-1.7 5.8z"/>
<path color="#ffc825" d="M196.1 110.9l1.6-5.6-.3-6.5-1.7 5.8z"/>
<path color="#ffdc25" d="M194.4 116.6l1.7-5.7-.4-6.3-1.7 5.8z"/>
<path color="#fff224" d="M192.7 122.2l1.7-5.6-.4-6.2-1.7 5.8z"/>
<path color="#fbff23" d="M191 127.8l1.7-5.6-.4-6-1.7 5.8z"/>
<path color="#c8ff23" d="M189.4 133.5l1.6-5.7-.4-5.8-1.7 5.9z"/>
<path color="#91ff22" d="M187.7 139.1l1.7-5.6-.5-5.6-1.7 5.8z"/>
<path color="#76ff21" d="M186 144.7l1.7-5.6-.5-5.4-1.7 5.8z"/>
<path color="#60ff21" d="M184.3 150.4l1.7-5.7-.5-5.2-1.7 5.8z"/>
<path color="#49ff20" d="M182.7 156l1.6-5.6-.5-5.1-1.7 5.8z"/>
<path color="#31ff1f" d="M181 161.7l1.7-5.7-.6-4.9-1.7 5.8z"/>
<path color="#1fff20" d="M179.3 167.3l1.7-5.6-.6-4.8-1.7 5.8z"/>
<path color="#1eff30" d="M177.6 172.9l1.7-5.6-.6-4.6-1.7 5.8z"/>
<path color="#1dff3f" d="M175.9 178.6l1.7-5.7-.6-4.4-1.7 5.8z"/>
<path color="#1cff54" d="M174.3 184.2l1.6-5.6-.6-4.3-1.7 5.9z"/>
<path color="#1cff7b" d="M172.6 189.8l1.7-5.6-.7-4-1.7 5.8z"/>
<path color="#1bffab" d="M170.9 195.5l1.7-5.7-.7-3.8-1.7 5.8z"/>
<path color="#1affdd" d="M169.2 201.1l1.7-5.6-.7-3.7-1.7 5.8z"/>
<path color="#1affff" d="M167.6 206.7l1.6-5.6-.7-3.5-1.7 5.8z"/>
<path color="#19dfff" d="M165.9 212.4l1.7-5.7-.8-3.3-1.7 5.8z"/>
<path color="#18c5ff" d="M164.2 218l1.7-5.6-.8-3.2-1.7 5.8z"/>
<path color="#18b2ff" d="M162.5 223.6l1.7-5.6-.8-3-1.7 5.8z"/>
<path color="#ffb728" d="M201.4 100.9l1.7-5.5-.3-7-1.7 5.6z"/>
<path color="#ffbe27" d="M199.8 106.3l1.6-5.4-.3-6.9-1.7 5.7z"/>
<path color="#ffca27" d="M198.1 111.8l1.7-5.5-.4-6.6-1.7 5.6z"/>
<path color="#ffda26" d="M196.5 117.2l1.6-5.4-.4-6.5-1.6 5.6z"/>
<path color="#ffed26" d="M194.8 122.7l1.7-5.5-.4-6.3-1.7 5.7z"/>
<path color="#ffff26" d="M193.2 128.2l1.6-5.5-.4-6.1-1.7 5.6z"/>
<path color="#dcff24" d="M191.5 133.6l1.7-5.4-.5-6-1.7 5.6z"/>
<path color="#aaff24" d="M189.9 139.1l1.6-5.5-.5-5.8-1.6 5.7z"/>
<path color="#81ff23" d="M188.2 144.6l1.7-5.5-.5-5.6-1.7 5.6z"/>
<path color="#6cff22" d="M186.5 150l1.7-5.4-.5-5.5-1.7 5.6z"/>
<path color="#55ff21" d="M184.9 155.5l1.6-5.5-.5-5.3-1.7 5.7z"/>
<path color="#3eff21" d="M183.2 160.9l1.7-5.4-.6-5.1-1.6 5.6z"/>
<path color="#27ff20" d="M181.6 166.4l1.6-5.5-.5-4.9-1.7 5.7z"/>
<path color="#1fff28" d="M179.9 171.9l1.7-5.5-.6-4.7-1.7 5.6z"/>
<path color="#1fff38" d="M178.3 177.3l1.6-5.4-.6-4.6-1.7 5.6z"/>
<path color="#1eff47" d="M176.6 182.8l1.7-5.5-.7-4.4-1.7 5.7z"/>
<path color="#1dff66" d="M175 188.2l1.6-5.4-.7-4.2-1.6 5.6z"/>
<path color="#1cff8f" d="M173.3 193.7l1.7-5.5-.7-4-1.7 5.6z"/>
<path color="#1cffc4" d="M171.7 199.2l1.6-5.5-.7-3.9-1.7 5.7z"/>
<path color="#1bfff5" d="M170 204.6l1.7-5.4-.8-3.7-1.7 5.6z"/>
<path color="#1aedff" d="M168.3 210.1l1.7-5.5-.8-3.5-1.6 5.6z"/>
<path color="#19ceff" d="M166.7 215.5l1.6-5.4-.7-3.4-1.7 5.7z"/>
<path color="#19b6ff" d="M165 221l1.7-5.5-.8-3.1-1.7 5.6z"/>
<path color="#18a4ff" d="M163.4 226.5l1.6-5.5-.8-3-1.7 5.6z"/>
<path color="#ffcc28" d="M201.8 107.7l1.6-5.3-.3-7-1.7 5.5z"/>
<path color="#ffd428" d="M200.1 113l1.7-5.3-.4-6.8-1.6 5.4z"/>
<path color="#ffdf27" d="M198.5 118.3l1.6-5.3-.3-6.7-1.7 5.5z"/>
<path color="#ffef27" d="M196.9 123.6l1.6-5.3-.4-6.5-1.6 5.4z"/>
<path color="#ffff27" d="M195.3 128.9l1.6-5.3-.4-6.4-1.7 5.5z"/>
<path color="#e5ff26" d="M193.6 134.1l1.7-5.2-.5-6.2-1.6 5.5z"/>
<path color="#b8ff25" d="M192 139.4l1.6-5.3-.4-5.9-1.7 5.4z"/>
<path color="#88ff24" d="M190.4 144.7l1.6-5.3-.5-5.8-1.6 5.5z"/>
<path color="#75ff24" d="M188.7 150l1.7-5.3-.5-5.6-1.7 5.5z"/>
<path color="#5fff23" d="M187.1 155.3l1.6-5.3-.5-5.4-1.7 5.4z"/>
<path color="#4aff22" d="M185.5 160.6l1.6-5.3-.6-5.3-1.6 5.5z"/>
<path color="#33ff21" d="M183.8 165.9l1.7-5.3-.6-5.1-1.7 5.4z"/>
<path color="#21ff22" d="M182.2 171.1l1.6-5.2-.6-5-1.6 5.5z"/>
<path color="#20ff31" d="M180.6 176.4l1.6-5.3-.6-4.7-1.7 5.5z"/>
<path color="#1fff40" d="M178.9 181.7l1.7-5.3-.7-4.5-1.6 5.4z"/>
<path color="#1eff53" d="M177.3 187l1.6-5.3-.6-4.4-1.7 5.5z"/>
<path color="#1eff7a" d="M175.7 192.3l1.6-5.3-.7-4.2-1.6 5.4z"/>
<path color="#1dffab" d="M174 197.6l1.7-5.3-.7-4.1-1.7 5.5z"/>
<path color="#1cffdf" d="M172.4 202.9l1.6-5.3-.7-3.9-1.6 5.5z"/>
<path color="#1bffff" d="M170.8 208.1l1.6-5.2-.7-3.7-1.7 5.4z"/>
<path color="#1bdaff" d="M169.1 213.4l1.7-5.3-.8-3.5-1.7 5.5z"/>
<path color="#1abeff" d="M167.5 218.7l1.6-5.3-.8-3.3-1.6 5.4z"/>
<path color="#19a7ff" d="M165.9 224l1.6-5.3-.8-3.2-1.7 5.5z"/>
<path color="#1996ff" d="M164.2 229.3l1.7-5.3-.9-3-1.6 5.5z"/>
<path color="#ffe529" d="M202.1 114.6l1.6-5.2-.3-7-1.6 5.3z"/>
<path color="#ffed29" d="M200.5 119.7l1.6-5.1-.3-6.9-1.7 5.3z"/>
<path color="#fff828" d="M198.9 124.8l1.6-5.1-.4-6.7-1.6 5.3z"/>
<path color="#ffff29" d="M197.3 129.9l1.6-5.1-.4-6.5-1.6 5.3z"/>
<path color="#e2ff27" d="M195.7 135l1.6-5.1-.4-6.3-1.6 5.3z"/>
<path color="#baff26" d="M194.1 140.1l1.6-5.1-.4-6.1-1.7 5.2z"/>
<path color="#8eff26" d="M192.5 145.2l1.6-5.1-.5-6-1.6 5.3z"/>
<path color="#7aff25" d="M190.8 150.3l1.7-5.1-.5-5.8-1.6 5.3z"/>
<path color="#66ff24" d="M189.2 155.4l1.6-5.1-.4-5.6-1.7 5.3z"/>
<path color="#52ff24" d="M187.6 160.5l1.6-5.1-.5-5.4-1.6 5.3z"/>
<path color="#3dff23" d="M186 165.7l1.6-5.2-.5-5.2-1.6 5.3z"/>
<path color="#27ff22" d="M184.4 170.8l1.6-5.1-.5-5.1-1.7 5.3z"/>
<path color="#21ff2c" d="M182.8 175.9l1.6-5.1-.6-4.9-1.6 5.2z"/>
<path color="#21ff3b" d="M181.2 181l1.6-5.1-.6-4.8-1.6 5.3z"/>
<path color="#20ff49" d="M179.6 186.1l1.6-5.1-.6-4.6-1.7 5.3z"/>
<path color="#1fff69" d="M178 191.2l1.6-5.1-.7-4.4-1.6 5.3z"/>
<path color="#1eff91" d="M176.4 196.3l1.6-5.1-.7-4.2-1.6 5.3z"/>
<path color="#1dffc8" d="M174.7 201.4l1.7-5.1-.7-4-1.7 5.3z"/>
<path color="#1dfff8" d="M173.1 206.5l1.6-5.1-.7-3.8-1.6 5.3z"/>
<path color="#1ceaff" d="M171.5 211.7l1.6-5.2-.7-3.6-1.6 5.2z"/>
<path color="#1bc8ff" d="M169.9 216.8l1.6-5.1-.7-3.6-1.7 5.3z"/>
<path color="#1aaeff" d="M168.3 221.9l1.6-5.1-.8-3.4-1.6 5.3z"/>
<path color="#1a98ff" d="M166.7 227l1.6-5.1-.8-3.2-1.6 5.3z"/>
<path color="#1987ff" d="M165.1 232.1l1.6-5.1-.8-3-1.7 5.3z"/>
<path color="#ffff2a" d="M202.5 121.4l1.6-4.9-.4-7.1-1.6 5.2z"/>
<path color="#ffff2a" d="M200.9 126.3l1.6-4.9-.4-6.8-1.6 5.1z"/>
<path color="#eeff29" d="M199.3 131.3l1.6-5-.4-6.6-1.6 5.1z"/>
<path color="#d3ff28" d="M197.7 136.2l1.6-4.9-.4-6.5-1.6 5.1z"/>
<path color="#b2ff28" d="M196.1 141.1l1.6-4.9-.4-6.3-1.6 5.1z"/>
<path color="#8cff27" d="M194.5 146.1l1.6-5-.4-6.1-1.6 5.1z"/>
<path color="#7cff27" d="M192.9 151l1.6-4.9-.4-6-1.6 5.1z"/>
<path color="#6aff26" d="M191.3 155.9l1.6-4.9-.4-5.8-1.7 5.1z"/>
<path color="#57ff25" d="M189.8 160.9l1.5-5-.5-5.6-1.6 5.1z"/>
<path color="#43ff25" d="M188.2 165.8l1.6-4.9-.6-5.5-1.6 5.1z"/>
<path color="#2fff24" d="M186.6 170.7l1.6-4.9-.6-5.3-1.6 5.2z"/>
<path color="#23ff28" d="M185 175.7l1.6-5-.6-5-1.6 5.1z"/>
<path color="#22ff36" d="M183.4 180.6l1.6-4.9-.6-4.9-1.6 5.1z"/>
<path color="#21ff45" d="M181.8 185.6l1.6-5-.6-4.7-1.6 5.1z"/>
<path color="#21ff59" d="M180.2 190.5l1.6-4.9-.6-4.6-1.6 5.1z"/>
<path color="#20ff80" d="M178.6 195.4l1.6-4.9-.6-4.4-1.6 5.1z"/>
<path color="#1fffb1" d="M177 200.4l1.6-5-.6-4.2-1.6 5.1z"/>
<path color="#1effe5" d="M175.5 205.3l1.5-4.9-.6-4.1-1.7 5.1z"/>
<path color="#1dfbff" d="M173.9 210.2l1.6-4.9-.8-3.9-1.6 5.1z"/>
<path color="#1cd4ff" d="M172.3 215.2l1.6-5-.8-3.7-1.6 5.2z"/>
<path color="#1cb8ff" d="M170.7 220.1l1.6-4.9-.8-3.5-1.6 5.1z"/>
<path color="#1b9eff" d="M169.1 225l1.6-4.9-.8-3.3-1.6 5.1z"/>
<path color="#1a89ff" d="M167.5 230l1.6-5-.8-3.1-1.6 5.1z"/>
<path color="#1980ff" d="M165.9 234.9l1.6-4.9-.8-3-1.6 5.1z"/>
<path color="#d9ff2b" d="M202.8 128.2l1.6-4.7-.3-7-1.6 4.9z"/>
<path color="#ccff2a" d="M201.2 133l1.6-4.8-.3-6.8-1.6 4.9z"/>
<path color="#b9ff2a" d="M199.7 137.8l1.5-4.8-.3-6.7-1.6 5z"/>
<path color="#9fff29" d="M198.1 142.5l1.6-4.7-.4-6.5-1.6 4.9z"/>
<path color="#88ff29" d="M196.5 147.3l1.6-4.8-.4-6.3-1.6 4.9z"/>
<path color="#7aff28" d="M195 152l1.5-4.7-.4-6.2-1.6 5z"/>
<path color="#6aff28" d="M193.4 156.8l1.6-4.8-.5-5.9-1.6 4.9z"/>
<path color="#59ff27" d="M191.8 161.6l1.6-4.8-.5-5.8-1.6 4.9z"/>
<path color="#47ff26" d="M190.3 166.3l1.5-4.7-.5-5.7-1.5 5z"/>
<path color="#34ff26" d="M188.7 171.1l1.6-4.8-.5-5.4-1.6 4.9z"/>
<path color="#25ff26" d="M187.1 175.8l1.6-4.7-.5-5.3-1.6 4.9z"/>
<path color="#24ff33" d="M185.6 180.6l1.5-4.8-.5-5.1-1.6 5z"/>
<path color="#23ff41" d="M184 185.4l1.6-4.8-.6-4.9-1.6 4.9z"/>
<path color="#22ff4f" d="M182.4 190.1l1.6-4.7-.6-4.8-1.6 5z"/>
<path color="#21ff72" d="M180.9 194.9l1.5-4.8-.6-4.5-1.6 4.9z"/>
<path color="#21ff9c" d="M179.3 199.6l1.6-4.7-.7-4.4-1.6 4.9z"/>
<path color="#20ffd1" d="M177.7 204.4l1.6-4.8-.7-4.2-1.6 5z"/>
<path color="#1fffff" d="M176.2 209.2l1.5-4.8-.7-4-1.5 4.9z"/>
<path color="#1ee4ff" d="M174.6 213.9l1.6-4.7-.7-3.9-1.6 4.9z"/>
<path color="#1dc3ff" d="M173 218.7l1.6-4.8-.7-3.7-1.6 5z"/>
<path color="#1ca7ff" d="M171.5 223.4l1.5-4.7-.7-3.5-1.6 4.9z"/>
<path color="#1b8fff" d="M169.9 228.2l1.6-4.8-.8-3.3-1.6 4.9z"/>
<path color="#1b82ff" d="M168.3 233l1.6-4.8-.8-3.2-1.6 5z"/>
<path color="#1a7aff" d="M166.8 237.7l1.5-4.7-.8-3-1.6 4.9z"/>
<path color="#a1ff2b" d="M203.1 135.1l1.6-4.6-.3-7-1.6 4.7z"/>
<path color="#94ff2b" d="M201.6 139.7l1.5-4.6-.3-6.9-1.6 4.8z"/>
<path color="#89ff2b" d="M200.1 144.2l1.5-4.5-.4-6.7-1.5 4.8z"/>
<path color="#80ff2a" d="M198.5 148.8l1.6-4.6-.4-6.4-1.6 4.7z"/>
<path color="#74ff2a" d="M197 153.4l1.5-4.6-.4-6.3-1.6 4.8z"/>
<path color="#67ff29" d="M195.4 158l1.6-4.6-.5-6.1-1.5 4.7z"/>
<path color="#58ff28" d="M193.9 162.6l1.5-4.6-.4-6-1.6 4.8z"/>
<path color="#48ff28" d="M192.3 167.2l1.6-4.6-.5-5.8-1.6 4.8z"/>
<path color="#37ff27" d="M190.8 171.8l1.5-4.6-.5-5.6-1.5 4.7z"/>
<path color="#27ff26" d="M189.2 176.3l1.6-4.5-.5-5.5-1.6 4.8z"/>
<path color="#26ff32" d="M187.7 180.9l1.5-4.6-.5-5.2-1.6 4.7z"/>
<path color="#25ff3f" d="M186.2 185.5l1.5-4.6-.6-5.1-1.5 4.8z"/>
<path color="#24ff4c" d="M184.6 190.1l1.6-4.6-.6-4.9-1.6 4.8z"/>
<path color="#23ff67" d="M183.1 194.7l1.5-4.6-.6-4.7-1.6 4.7z"/>
<path color="#22ff8b" d="M181.5 199.3l1.6-4.6-.7-4.6-1.5 4.8z"/>
<path color="#21ffbe" d="M180 203.9l1.5-4.6-.6-4.4-1.6 4.7z"/>
<path color="#21fff0" d="M178.4 208.4l1.6-4.5-.7-4.3-1.6 4.8z"/>
<path color="#20f3ff" d="M176.9 213l1.5-4.6-.7-4-1.5 4.8z"/>
<path color="#1fcfff" d="M175.3 217.6l1.6-4.6-.7-3.8-1.6 4.7z"/>
<path color="#1eb1ff" d="M173.8 222.2l1.5-4.6-.7-3.7-1.6 4.8z"/>
<path color="#1d96ff" d="M172.3 226.8l1.5-4.6-.8-3.5-1.5 4.7z"/>
<path color="#1c84ff" d="M170.7 231.4l1.6-4.6-.8-3.4-1.6 4.8z"/>
<path color="#1b7bff" d="M169.2 235.9l1.5-4.5-.8-3.2-1.6 4.8z"/>
<path color="#1a74ff" d="M167.6 240.5l1.6-4.6-.9-2.9-1.5 4.7z"/>
<path color="#80ff2c" d="M203.5 141.9l1.5-4.4-.3-7-1.6 4.6z"/>
<path color="#7cff2c" d="M202 146.3l1.5-4.4-.4-6.8-1.5 4.6z"/>
<path color="#75ff2b" d="M200.4 150.7l1.6-4.4-.4-6.6-1.5 4.5z"/>
<path color="#6cff2b" d="M198.9 155.1l1.5-4.4-.3-6.5-1.6 4.6z"/>
<path color="#61ff2a" d="M197.4 159.6l1.5-4.5-.4-6.3-1.5 4.6z"/>
<path color="#54ff2a" d="M195.9 164l1.5-4.4-.4-6.2-1.6 4.6z"/>
<path color="#46ff29" d="M194.3 168.4l1.6-4.4-.5-6-1.5 4.6z"/>
<path color="#37ff29" d="M192.8 172.8l1.5-4.4-.4-5.8-1.6 4.6z"/>
<path color="#29ff28" d="M191.3 177.2l1.5-4.4-.5-5.6-1.5 4.6z"/>
<path color="#27ff33" d="M189.8 181.6l1.5-4.4-.5-5.4-1.6 4.5z"/>
<path color="#27ff3f" d="M188.3 186l1.5-4.4-.6-5.3-1.5 4.6z"/>
<path color="#26ff4b" d="M186.7 190.4l1.6-4.4-.6-5.1-1.5 4.6z"/>
<path color="#25ff5f" d="M185.2 194.8l1.5-4.4-.5-4.9-1.6 4.6z"/>
<path color="#24ff82" d="M183.7 199.3l1.5-4.5-.6-4.7-1.5 4.6z"/>
<path color="#23ffaf" d="M182.2 203.7l1.5-4.4-.6-4.6-1.6 4.6z"/>
<path color="#22ffe0" d="M180.6 208.1l1.6-4.4-.7-4.4-1.5 4.6z"/>
<path color="#2ff" d="M179.1 212.5l1.5-4.4-.6-4.2-1.6 4.5z"/>
<path color="#21dbff" d="M177.6 216.9l1.5-4.4-.7-4.1-1.5 4.6z"/>
<path color="#20bcff" d="M176.1 221.3l1.5-4.4-.7-3.9-1.6 4.6z"/>
<path color="#1fa0ff" d="M174.6 225.7l1.5-4.4-.8-3.7-1.5 4.6z"/>
<path color="#1e88ff" d="M173 230.1l1.6-4.4-.8-3.5-1.5 4.6z"/>
<path color="#1d7eff" d="M171.5 234.5l1.5-4.4-.7-3.3-1.6 4.6z"/>
<path color="#1c75ff" d="M170 238.9l1.5-4.4-.8-3.1-1.5 4.5z"/>
<path color="#1b6eff" d="M168.5 243.3l1.5-4.4-.8-3-1.6 4.6z"/>
<path color="#6bff2d" d="M203.8 148.8l1.5-4.3-.3-7-1.5 4.4z"/>
<path color="#67ff2c" d="M202.3 153l1.5-4.2-.3-6.9-1.5 4.4z"/>
<path color="#61ff2c" d="M200.8 157.2l1.5-4.2-.3-6.7-1.6 4.4z"/>
<path color="#58ff2c" d="M199.3 161.5l1.5-4.3-.4-6.5-1.5 4.4z"/>
<path color="#4eff2b" d="M197.8 165.7l1.5-4.2-.4-6.4-1.5 4.5z"/>
<path color="#42ff2b" d="M196.3 169.9l1.5-4.2-.4-6.1-1.5 4.4z"/>
<path color="#34ff2a" d="M194.8 174.2l1.5-4.3-.4-5.9-1.6 4.4z"/>
<path color="#2aff2a" d="M193.3 178.4l1.5-4.2-.5-5.8-1.5 4.4z"/>
<path color="#29ff35" d="M191.8 182.6l1.5-4.2-.5-5.6-1.5 4.4z"/>
<path color="#28ff40" d="M190.3 186.9l1.5-4.3-.5-5.4-1.5 4.4z"/>
<path color="#28ff4b" d="M188.8 191.1l1.5-4.2-.5-5.3-1.5 4.4z"/>
<path color="#27ff5b" d="M187.3 195.3l1.5-4.2-.5-5.1-1.6 4.4z"/>
<path color="#26ff7b" d="M185.8 199.6l1.5-4.3-.6-4.9-1.5 4.4z"/>
<path color="#25ffa2" d="M184.3 203.8l1.5-4.2-.6-4.8-1.5 4.5z"/>
<path color="#24ffd2" d="M182.8 208l1.5-4.2-.6-4.5-1.5 4.4z"/>
<path color="#23ffff" d="M181.3 212.3l1.5-4.3-.6-4.3-1.6 4.4z"/>
<path color="#22e8ff" d="M179.8 216.5l1.5-4.2-.7-4.2-1.5 4.4z"/>
<path color="#21c7ff" d="M178.3 220.8l1.5-4.3-.7-4-1.5 4.4z"/>
<path color="#20aaff" d="M176.8 225l1.5-4.2-.7-3.9-1.5 4.4z"/>
<path color="#1f8fff" d="M175.3 229.2l1.5-4.2-.7-3.7-1.5 4.4z"/>
<path color="#1e81ff" d="M173.8 233.5l1.5-4.3-.7-3.5-1.6 4.4z"/>
<path color="#1d77ff" d="M172.3 237.7l1.5-4.2-.8-3.4-1.5 4.4z"/>
<path color="#1c6eff" d="M170.8 241.9l1.5-4.2-.8-3.2-1.5 4.4z"/>
<path color="#1b68ff" d="M169.3 246.2l1.5-4.3-.8-3-1.5 4.4z"/>
<path color="#57ff2d" d="M204.2 155.6l1.4-4.1-.3-7-1.5 4.3z"/>
<path color="#53ff2d" d="M202.7 159.7l1.5-4.1-.4-6.8-1.5 4.2z"/>
<path color="#4dff2d" d="M201.2 163.7l1.5-4-.4-6.7-1.5 4.2z"/>
<path color="#45ff2c" d="M199.7 167.8l1.5-4.1-.4-6.5-1.5 4.3z"/>
<path color="#3bff2c" d="M198.3 171.8l1.4-4-.4-6.3-1.5 4.2z"/>
<path color="#31ff2c" d="M196.8 175.9l1.5-4.1-.5-6.1-1.5 4.2z"/>
<path color="#2bff2f" d="M195.3 180l1.5-4.1-.5-6-1.5 4.3z"/>
<path color="#2bff38" d="M193.8 184l1.5-4-.5-5.8-1.5 4.2z"/>
<path color="#2aff42" d="M192.3 188.1l1.5-4.1-.5-5.6-1.5 4.2z"/>
<path color="#29ff4c" d="M190.9 192.1l1.4-4-.5-5.5-1.5 4.3z"/>
<path color="#29ff59" d="M189.4 196.2l1.5-4.1-.6-5.2-1.5 4.2z"/>
<path color="#28ff77" d="M187.9 200.3l1.5-4.1-.6-5.1-1.5 4.2z"/>
<path color="#27ff99" d="M186.4 204.3l1.5-4-.6-5-1.5 4.3z"/>
<path color="#26ffc7" d="M184.9 208.4l1.5-4.1-.6-4.7-1.5 4.2z"/>
<path color="#25fff4" d="M183.5 212.4l1.4-4-.6-4.6-1.5 4.2z"/>
<path color="#24f5ff" d="M182 216.5l1.5-4.1-.7-4.4-1.5 4.3z"/>
<path color="#23d2ff" d="M180.5 220.6l1.5-4.1-.7-4.2-1.5 4.2z"/>
<path color="#22b4ff" d="M179 224.6l1.5-4-.7-4.1-1.5 4.3z"/>
<path color="#2198ff" d="M177.6 228.7l1.4-4.1-.7-3.8-1.5 4.2z"/>
<path color="#2086ff" d="M176.1 232.7l1.5-4-.8-3.7-1.5 4.2z"/>
<path color="#1f7bff" d="M174.6 236.8l1.5-4.1-.8-3.5-1.5 4.3z"/>
<path color="#1e71ff" d="M173.1 240.9l1.5-4.1-.8-3.3-1.5 4.2z"/>
<path color="#1d69ff" d="M171.6 244.9l1.5-4-.8-3.2-1.5 4.2z"/>
<path color="#1c62ff" d="M170.2 249l1.4-4.1-.8-3-1.5 4.3z"/>
<path color="#44ff2e" d="M204.5 162.4l1.5-3.8-.4-7.1-1.4 4.1z"/>
<path color="#40ff2e" d="M203 166.3l1.5-3.9-.3-6.8-1.5 4.1z"/>
<path color="#3bff2d" d="M201.6 170.2l1.4-3.9-.3-6.6-1.5 4z"/>
<path color="#33ff2d" d="M200.1 174.1l1.5-3.9-.4-6.5-1.5 4.1z"/>
<path color="#2dff2d" d="M198.7 178l1.4-3.9-.4-6.3-1.4 4z"/>
<path color="#2cff34" d="M197.2 181.9l1.5-3.9-.4-6.2-1.5 4.1z"/>
<path color="#2cff3c" d="M195.8 185.7l1.4-3.8-.4-6-1.5 4.1z"/>
<path color="#2cff45" d="M194.3 189.6l1.5-3.9-.5-5.7-1.5 4z"/>
<path color="#2bff4e" d="M192.9 193.5l1.4-3.9-.5-5.6-1.5 4.1z"/>
<path color="#2aff59" d="M191.4 197.4l1.5-3.9-.6-5.4-1.4 4z"/>
<path color="#2aff75" d="M189.9 201.3l1.5-3.9-.5-5.3-1.5 4.1z"/>
<path color="#29ff93" d="M188.5 205.2l1.4-3.9-.5-5.1-1.5 4.1z"/>
<path color="#28ffbe" d="M187 209.1l1.5-3.9-.6-4.9-1.5 4z"/>
<path color="#27ffea" d="M185.6 212.9l1.4-3.8-.6-4.8-1.5 4.1z"/>
<path color="#27ffff" d="M184.1 216.8l1.5-3.9-.7-4.5-1.4 4z"/>
<path color="#25dcff" d="M182.7 220.7l1.4-3.9-.6-4.4-1.5 4.1z"/>
<path color="#24beff" d="M181.2 224.6l1.5-3.9-.7-4.2-1.5 4.1z"/>
<path color="#23a2ff" d="M179.8 228.5l1.4-3.9-.7-4-1.5 4z"/>
<path color="#228bff" d="M178.3 232.4l1.5-3.9-.8-3.9-1.4 4.1z"/>
<path color="#217fff" d="M176.8 236.3l1.5-3.9-.7-3.7-1.5 4z"/>
<path color="#2074ff" d="M175.4 240.1l1.4-3.8-.7-3.6-1.5 4.1z"/>
<path color="#1f6bff" d="M173.9 244l1.5-3.9-.8-3.3-1.5 4.1z"/>
<path color="#1e63ff" d="M172.5 247.9l1.4-3.9-.8-3.1-1.5 4z"/>
<path color="#1d5dff" d="M171 251.8l1.5-3.9-.9-3-1.4 4.1z"/>
<path color="#33ff2e" d="M204.8 169.3l1.5-3.7-.3-7-1.5 3.8z"/>
<path color="#31ff2e" d="M203.4 173l1.4-3.7-.3-6.9-1.5 3.9z"/>
<path color="#2eff2f" d="M202 176.7l1.4-3.7-.4-6.7-1.4 3.9z"/>
<path color="#2eff34" d="M200.5 180.4l1.5-3.7-.4-6.5-1.5 3.9z"/>
<path color="#2eff3a" d="M199.1 184.1l1.4-3.7-.4-6.3-1.4 3.9z"/>
<path color="#2dff41" d="M197.7 187.8l1.4-3.7-.4-6.1-1.5 3.9z"/>
<path color="#2dff48" d="M196.2 191.5l1.5-3.7-.5-5.9-1.4 3.8z"/>
<path color="#2cff50" d="M194.8 195.2l1.4-3.7-.4-5.8-1.5 3.9z"/>
<path color="#2cff5b" d="M193.4 199l1.4-3.8-.5-5.6-1.4 3.9z"/>
<path color="#2bff75" d="M191.9 202.7l1.5-3.7-.5-5.5-1.5 3.9z"/>
<path color="#2bff90" d="M190.5 206.4l1.4-3.7-.5-5.3-1.5 3.9z"/>
<path color="#2affb7" d="M189.1 210.1l1.4-3.7-.6-5.1-1.4 3.9z"/>
<path color="#29ffe0" d="M187.6 213.8l1.5-3.7-.6-4.9-1.5 3.9z"/>
<path color="#2affff" d="M186.2 217.5l1.4-3.7-.6-4.7-1.4 3.8z"/>
<path color="#28e7ff" d="M184.8 221.2l1.4-3.7-.6-4.6-1.5 3.9z"/>
<path color="#27c8ff" d="M183.3 224.9l1.5-3.7-.7-4.4-1.4 3.9z"/>
<path color="#26acff" d="M181.9 228.6l1.4-3.7-.6-4.2-1.5 3.9z"/>
<path color="#2592ff" d="M180.5 232.3l1.4-3.7-.7-4-1.4 3.9z"/>
<path color="#2384ff" d="M179 236.1l1.5-3.8-.7-3.8-1.5 3.9z"/>
<path color="#2279ff" d="M177.6 239.8l1.4-3.7-.7-3.7-1.5 3.9z"/>
<path color="#216eff" d="M176.2 243.5l1.4-3.7-.8-3.5-1.4 3.8z"/>
<path color="#2066ff" d="M174.7 247.2l1.5-3.7-.8-3.4-1.5 3.9z"/>
<path color="#1f5eff" d="M173.3 250.9l1.4-3.7-.8-3.2-1.4 3.9z"/>
<path color="#1e58ff" d="M171.9 254.6l1.4-3.7-.8-3-1.5 3.9z"/>
<path color="#268cff" d="M156.5 238.7l8.6-6.6-3.4-11.3-8.8 8.2z"/>
<path color="#2374ff" d="M148 245.4l8.5-6.7-3.6-9.7-8.7 8.2z"/>
<path color="#1f63ff" d="M139.4 252l8.6-6.6-3.8-8.2-8.8 8.3z"/>
<path color="#2373ff" d="M160.1 248.4l8.4-5.1-3.4-11.2-8.6 6.6z"/>
<path color="#2161ff" d="M151.7 253.5l8.4-5.1-3.6-9.7-8.5 6.7z"/>
<path color="#1d54ff" d="M143.4 258.6l8.3-5.1-3.7-8.1-8.6 6.6z"/>
<path color="#1f5bff" d="M163.7 258.1l8.2-3.5-3.4-11.3-8.4 5.1z"/>
<path color="#1d4eff" d="M155.5 261.7l8.2-3.6-3.6-9.7-8.4 5.1z"/>
<path color="#1b44ff" d="M147.4 265.2l8.1-3.5-3.8-8.2-8.3 5.1z"/>
<path color="#3014ff" d="M311.2 266.6l7.7-.2-8.4-9.4-7.7-.2z"/>
<path color="#2d14ff" d="M303.4 266.7l7.8-.1-8.4-9.8-7.7-.2z"/>
<path color="#2814ff" d="M295.7 266.9l7.7-.2-8.3-10.1-7.7-.2z"/>
<path color="#4f14ff" d="M319.5 276.3l7.8-.5-8.4-9.4-7.7 .2z"/>
<path color="#4e14ff" d="M311.8 276.9l7.7-.6-8.3-9.7-7.8 .1z"/>
<path color="#4d14ff" d="M304 277.4l7.8-.5-8.4-10.2-7.7 .2z"/>
<path color="#6714ff" d="M327.9 286.1l7.8-.9-8.4-9.4-7.8 .5z"/>
<path color="#6714ff" d="M320.1 287l7.8-.9-8.4-9.8-7.7 .6z"/>
<path color="#6614ff" d="M312.3 287.9l7.8-.9-8.3-10.1-7.8 .5z"/>
<path color="#2314ff" d="M288 266.8l7.7 .1-8.3-10.5-7.6-.6z"/>
<path color="#1c14ff" d="M280.3 266.8l7.7 0-8.2-11-7.7-.5z"/>
<path color="#1714ff" d="M272.6 266.7l7.7 .1-8.2-11.5-7.6-.6z"/>
<path color="#4a14ff" d="M296.2 277.8l7.8-.4-8.3-10.5-7.7-.1z"/>
<path color="#4714ff" d="M288.5 278.2l7.7-.4-8.2-11-7.7 0z"/>
<path color="#4414ff" d="M280.7 278.6l7.8-.4-8.2-11.4-7.7-.1z"/>
<path color="#6614ff" d="M304.4 288.8l7.9-.9-8.3-10.5-7.8 .4z"/>
<path color="#6514ff" d="M296.6 289.7l7.8-.9-8.2-11-7.7 .4z"/>
<path color="#6515ff" d="M288.8 290.6l7.8-.9-8.1-11.5-7.8 .4z"/>
<path color="#1415ff" d="M264.8 267.3l7.8-.6-8.1-12-7.8 .5z"/>
<path color="#1417ff" d="M257 267.8l7.8-.5-8.1-12.1-7.7 .4z"/>
<path color="#1518ff" d="M249.2 268.4l7.8-.6-8-12.2-7.8 .4z"/>
<path color="#4315ff" d="M272.9 279.4l7.8-.8-8.1-11.9-7.8 .6z"/>
<path color="#4315ff" d="M265.1 280.1l7.8-.7-8.1-12.1-7.8 .5z"/>
<path color="#4215ff" d="M257.3 280.8l7.8-.7-8.1-12.3-7.8 .6z"/>
<path color="#6415ff" d="M281 291.5l7.8-.9-8.1-12-7.8 .8z"/>
<path color="#6415ff" d="M273.1 292.3l7.9-.8-8.1-12.1-7.8 .7z"/>
<path color="#6415ff" d="M265.3 293.2l7.8-.9-8-12.2-7.8 .7z"/>
<path color="#1421ff" d="M239.6 264.7l7.6 .6-6-9.3-7.6-1.1z"/>
<path color="#1428ff" d="M231.9 264.2l7.7 .5-6-9.8-7.6-1z"/>
<path color="#142fff" d="M224.3 263.6l7.6 .6-5.9-10.3-7.6-1z"/>
<path color="#2f14ff" d="M245.5 274.5l7.8 .1-6.1-9.3-7.6-.6z"/>
<path color="#2c14ff" d="M237.8 274.5l7.7 0-5.9-9.8-7.7-.5z"/>
<path color="#2714ff" d="M230.1 274.4l7.7 .1-5.9-10.3-7.6-.6z"/>
<path color="#5214ff" d="M251.5 284.3l7.8-.4-6-9.3-7.8-.1z"/>
<path color="#5114ff" d="M243.8 284.7l7.7-.4-6-9.8-7.7 0z"/>
<path color="#4e15ff" d="M236 285.1l7.8-.4-6-10.2-7.7-.1z"/>
<path color="#6815ff" d="M257.5 294.1l7.8-.9-6-9.3-7.8 .4z"/>
<path color="#6815ff" d="M249.7 295l7.8-.9-6-9.8-7.7 .4z"/>
<path color="#6815ff" d="M241.8 295.9l7.9-.9-5.9-10.3-7.8 .4z"/>
<path color="#1a42dc" d="M218.3 247.7l1.1 7-1-1.8-1-7.3z"/>
<path color="#1a4bdc" d="M217.3 240.7l1 7-.9-2.1-1-7.3z"/>
<path color="#1a5adc" d="M216.2 233.8l1.1 6.9-.9-2.4-1-7.2z"/>
<path color="#1a6cdc" d="M215.2 226.8l1 7-.8-2.7-1-7.3z"/>
<path color="#1a90dc" d="M214.1 219.9l1.1 6.9-.8-3-1-7.3z"/>
<path color="#1ac2dc" d="M213.1 212.9l1 7-.7-3.4-1.1-7.3z"/>
<path color="#1ad5b2" d="M212 205.9l1.1 7-.8-3.7-1-7.2z"/>
<path color="#1ad573" d="M211 199l1 6.9-.7-3.9-1-7.3z"/>
<path color="#12e53d" d="M209.9 192l1.1 7-.7-4.3-1-7.3z"/>
<path color="#12e62d" d="M208.9 185l1 7-.6-4.6-1-7.3z"/>
<path color="#12e721" d="M207.8 178.1l1.1 6.9-.6-4.9-1-7.3z"/>
<path color="#12e81a" d="M206.8 171.1l1 7-.5-5.3-1-7.2z"/>
<path color="#1a3edc" d="M219.3 249.8l1.1 6.7-1-1.8-1.1-7z"/>
<path color="#1a47dc" d="M218.2 243.2l1.1 6.6-1-2.1-1-7z"/>
<path color="#1a54dc" d="M217.1 236.5l1.1 6.7-.9-2.5-1.1-6.9z"/>
<path color="#1a66dc" d="M216 229.9l1.1 6.6-.9-2.7-1-7z"/>
<path color="#1a80dc" d="M214.9 223.2l1.1 6.7-.8-3.1-1.1-6.9z"/>
<path color="#1aaddc" d="M213.8 216.6l1.1 6.6-.8-3.3-1-7z"/>
<path color="#1ad5ce" d="M212.7 209.9l1.1 6.7-.7-3.7-1.1-7z"/>
<path color="#1ad58f" d="M211.6 203.3l1.1 6.6-.7-4-1-6.9z"/>
<path color="#12e657" d="M210.6 196.6l1 6.7-.6-4.3-1.1-7z"/>
<path color="#12e738" d="M209.5 190l1.1 6.6-.7-4.6-1-7z"/>
<path color="#12e82d" d="M208.4 183.3l1.1 6.7-.6-5-1.1-6.9z"/>
<path color="#12e925" d="M207.3 176.7l1.1 6.6-.6-5.2-1-7z"/>
<path color="#1a39dc" d="M220.2 251.9l1.1 6.4-.9-1.8-1.1-6.7z"/>
<path color="#1a42dc" d="M219.1 245.6l1.1 6.3-.9-2.1-1.1-6.6z"/>
<path color="#1a4fdc" d="M218 239.2l1.1 6.4-.9-2.4-1.1-6.7z"/>
<path color="#1a5fdc" d="M216.8 232.9l1.2 6.3-.9-2.7-1.1-6.6z"/>
<path color="#1a72dc" d="M215.7 226.6l1.1 6.3-.8-3-1.1-6.7z"/>
<path color="#1a9cdc" d="M214.6 220.2l1.1 6.4-.8-3.4-1.1-6.6z"/>
<path color="#1accdc" d="M213.4 213.9l1.2 6.3-.8-3.6-1.1-6.7z"/>
<path color="#12e6b1" d="M212.3 207.6l1.1 6.3-.7-4-1.1-6.6z"/>
<path color="#12e773" d="M211.2 201.2l1.1 6.4-.7-4.3-1-6.7z"/>
<path color="#12e84d" d="M210 194.9l1.2 6.3-.6-4.6-1.1-6.6z"/>
<path color="#12e938" d="M208.9 188.5l1.1 6.4-.5-4.9-1.1-6.7z"/>
<path color="#12ea31" d="M207.8 182.2l1.1 6.3-.5-5.2-1.1-6.6z"/>
<path color="#1a35dc" d="M221.2 254l1.1 6-1-1.7-1.1-6.4z"/>
<path color="#1a3edc" d="M220 248l1.2 6-1-2.1-1.1-6.3z"/>
<path color="#1a4adc" d="M218.8 242l1.2 6-.9-2.4-1.1-6.4z"/>
<path color="#1a59dc" d="M217.6 236l1.2 6-.8-2.8-1.2-6.3z"/>
<path color="#1a6bdc" d="M216.5 229.9l1.1 6.1-.8-3.1-1.1-6.3z"/>
<path color="#1a89dc" d="M215.3 223.9l1.2 6-.8-3.3-1.1-6.4z"/>
<path color="#1ab3dc" d="M214.1 217.9l1.2 6-.7-3.7-1.2-6.3z"/>
<path color="#12e7d6" d="M213 211.9l1.1 6-.7-4-1.1-6.3z"/>
<path color="#12e89b" d="M211.8 205.8l1.2 6.1-.7-4.3-1.1-6.4z"/>
<path color="#12e96b" d="M210.6 199.8l1.2 6-.6-4.6-1.2-6.3z"/>
<path color="#12ea50" d="M209.5 193.8l1.1 6-.6-4.9-1.1-6.4z"/>
<path color="#12eb3e" d="M208.3 187.7l1.2 6.1-.6-5.3-1.1-6.3z"/>
<path color="#1a31dc" d="M222.1 256.1l1.2 5.7-1-1.8-1.1-6z"/>
<path color="#1a39dc" d="M220.9 250.4l1.2 5.7-.9-2.1-1.2-6z"/>
<path color="#1a44dc" d="M219.7 244.7l1.2 5.7-.9-2.4-1.2-6z"/>
<path color="#1a53dc" d="M218.5 239l1.2 5.7-.9-2.7-1.2-6z"/>
<path color="#1a63dc" d="M217.3 233.3l1.2 5.7-.9-3-1.1-6.1z"/>
<path color="#1a77dc" d="M216 227.6l1.3 5.7-.8-3.4-1.2-6z"/>
<path color="#12a7e7" d="M214.8 221.9l1.2 5.7-.7-3.7-1.2-6z"/>
<path color="#12d8e8" d="M213.6 216.1l1.2 5.8-.7-4-1.1-6z"/>
<path color="#12e9c5" d="M212.4 210.4l1.2 5.7-.6-4.2-1.2-6.1z"/>
<path color="#12ea94" d="M211.2 204.7l1.2 5.7-.6-4.6-1.2-6z"/>
<path color="#12eb70" d="M210 199l1.2 5.7-.6-4.9-1.1-6z"/>
<path color="#12ec60" d="M208.8 193.3l1.2 5.7-.5-5.2-1.2-6.1z"/>
<path color="#1a2cdc" d="M223 258.2l1.3 5.4-1-1.8-1.2-5.7z"/>
<path color="#1a35dc" d="M221.8 252.8l1.2 5.4-.9-2.1-1.2-5.7z"/>
<path color="#1a3fdc" d="M220.5 247.4l1.3 5.4-.9-2.4-1.2-5.7z"/>
<path color="#1a4ddc" d="M219.3 242l1.2 5.4-.8-2.7-1.2-5.7z"/>
<path color="#1a5cdc" d="M218 236.6l1.3 5.4-.8-3-1.2-5.7z"/>
<path color="#126ee7" d="M216.8 231.2l1.2 5.4-.7-3.3-1.3-5.7z"/>
<path color="#1290e8" d="M215.5 225.8l1.3 5.4-.8-3.6-1.2-5.7z"/>
<path color="#12bae9" d="M214.3 220.4l1.2 5.4-.7-3.9-1.2-5.8z"/>
<path color="#12e8ea" d="M213 215l1.3 5.4-.7-4.3-1.2-5.7z"/>
<path color="#12ebc2" d="M211.8 209.6l1.2 5.4-.6-4.6-1.2-5.7z"/>
<path color="#12ec9e" d="M210.5 204.2l1.3 5.4-.6-4.9-1.2-5.7z"/>
<path color="#12ed87" d="M209.3 198.8l1.2 5.4-.5-5.2-1.2-5.7z"/>
<path color="#1a25dc" d="M224 260.3l1.2 5.1-.9-1.8-1.3-5.4z"/>
<path color="#1a30dc" d="M222.7 255.3l1.3 5-1-2.1-1.2-5.4z"/>
<path color="#1a3adc" d="M221.4 250.2l1.3 5.1-.9-2.5-1.3-5.4z"/>
<path color="#1a46dc" d="M220.1 245.1l1.3 5.1-.9-2.8-1.2-5.4z"/>
<path color="#1a55dc" d="M218.8 240l1.3 5.1-.8-3.1-1.3-5.4z"/>
<path color="#1264e8" d="M217.5 234.9l1.3 5.1-.8-3.4-1.2-5.4z"/>
<path color="#1278e9" d="M216.2 229.8l1.3 5.1-.7-3.7-1.3-5.4z"/>
<path color="#129fea" d="M214.9 224.7l1.3 5.1-.7-4-1.2-5.4z"/>
<path color="#12c5eb" d="M213.7 219.6l1.2 5.1-.6-4.3-1.3-5.4z"/>
<path color="#12ebec" d="M212.4 214.6l1.3 5-.7-4.6-1.2-5.4z"/>
<path color="#12edcf" d="M211.1 209.5l1.3 5.1-.6-5-1.3-5.4z"/>
<path color="#12eeba" d="M209.8 204.4l1.3 5.1-.6-5.3-1.2-5.4z"/>
<path color="#1a1edc" d="M224.9 262.4l1.3 4.8-1-1.8-1.2-5.1z"/>
<path color="#1a29dc" d="M223.6 257.7l1.3 4.7-.9-2.1-1.3-5z"/>
<path color="#1a35dc" d="M222.2 252.9l1.4 4.8-.9-2.4-1.3-5.1z"/>
<path color="#1a40dc" d="M220.9 248.1l1.3 4.8-.8-2.7-1.3-5.1z"/>
<path color="#124ae8" d="M219.6 243.3l1.3 4.8-.8-3-1.3-5.1z"/>
<path color="#125be9" d="M218.3 238.6l1.3 4.7-.8-3.3-1.3-5.1z"/>
<path color="#126ceb" d="M216.9 233.8l1.4 4.8-.8-3.7-1.3-5.1z"/>
<path color="#1285ec" d="M215.6 229l1.3 4.8-.7-4-1.3-5.1z"/>
<path color="#12a7ed" d="M214.3 224.2l1.3 4.8-.7-4.3-1.2-5.1z"/>
<path color="#12c5ed" d="M213 219.5l1.3 4.7-.6-4.6-1.3-5z"/>
<path color="#12e1ee" d="M211.6 214.7l1.4 4.8-.6-4.9-1.3-5.1z"/>
<path color="#12efeb" d="M210.3 209.9l1.3 4.8-.5-5.2-1.3-5.1z"/>
<path color="#201edc" d="M225.8 264.6l1.4 4.4-1-1.8-1.3-4.8z"/>
<path color="#1a21dc" d="M224.5 260.1l1.3 4.5-.9-2.2-1.3-4.7z"/>
<path color="#1a30dc" d="M223.1 255.6l1.4 4.5-.9-2.4-1.4-4.8z"/>
<path color="#1233e8" d="M221.7 251.2l1.4 4.4-.9-2.7-1.3-4.8z"/>
<path color="#1242ea" d="M220.4 246.7l1.3 4.5-.8-3.1-1.3-4.8z"/>
<path color="#1251eb" d="M219 242.2l1.4 4.5-.8-3.4-1.3-4.7z"/>
<path color="#1262ec" d="M217.6 237.8l1.4 4.4-.7-3.6-1.4-4.8z"/>
<path color="#1272ed" d="M216.3 233.3l1.3 4.5-.7-4-1.3-4.8z"/>
<path color="#128aee" d="M214.9 228.9l1.4 4.4-.7-4.3-1.3-4.8z"/>
<path color="#12a5ef" d="M213.5 224.4l1.4 4.5-.6-4.7-1.3-4.7z"/>
<path color="#12baef" d="M212.2 219.9l1.3 4.5-.5-4.9-1.4-4.8z"/>
<path color="#12c9f0" d="M210.8 215.5l1.4 4.4-.6-5.2-1.3-4.8z"/>
<path color="#261edc" d="M226.8 266.7l1.4 4.1-1-1.8-1.4-4.4z"/>
<path color="#1e1edc" d="M225.4 262.5l1.4 4.2-1-2.1-1.3-4.5z"/>
<path color="#1a28dc" d="M224 258.4l1.4 4.1-.9-2.4-1.4-4.5z"/>
<path color="#122dea" d="M222.6 254.2l1.4 4.2-.9-2.8-1.4-4.4z"/>
<path color="#123aeb" d="M221.1 250.1l1.5 4.1-.9-3-1.3-4.5z"/>
<path color="#1248ec" d="M219.7 245.9l1.4 4.2-.7-3.4-1.4-4.5z"/>
<path color="#1257ed" d="M218.3 241.8l1.4 4.1-.7-3.7-1.4-4.4z"/>
<path color="#1266ee" d="M216.9 237.6l1.4 4.2-.7-4-1.3-4.5z"/>
<path color="#1273ef" d="M215.5 233.5l1.4 4.1-.6-4.3-1.4-4.4z"/>
<path color="#1285f0" d="M214.1 229.3l1.4 4.2-.6-4.6-1.4-4.5z"/>
<path color="#1299f1" d="M212.7 225.2l1.4 4.1-.6-4.9-1.3-4.5z"/>
<path color="#12a5f1" d="M211.3 221l1.4 4.2-.5-5.3-1.4-4.4z"/>
<path color="#2c1edc" d="M227.7 268.8l1.5 3.8-1-1.8-1.4-4.1z"/>
<path color="#241edc" d="M226.3 264.9l1.4 3.9-.9-2.1-1.4-4.2z"/>
<path color="#1214ea" d="M224.8 261.1l1.5 3.8-.9-2.4-1.4-4.1z"/>
<path color="#1226ec" d="M223.4 257.2l1.4 3.9-.8-2.7-1.4-4.2z"/>
<path color="#1232ed" d="M221.9 253.4l1.5 3.8-.8-3-1.5-4.1z"/>
<path color="#123fee" d="M220.5 249.6l1.4 3.8-.8-3.3-1.4-4.2z"/>
<path color="#124cef" d="M219 245.7l1.5 3.9-.8-3.7-1.4-4.1z"/>
<path color="#125af0" d="M217.6 241.9l1.4 3.8-.7-3.9-1.4-4.2z"/>
<path color="#1266f1" d="M216.1 238.1l1.5 3.8-.7-4.3-1.4-4.1z"/>
<path color="#1271f1" d="M214.7 234.2l1.4 3.9-.6-4.6-1.4-4.2z"/>
<path color="#1279f2" d="M213.3 230.4l1.4 3.8-.6-4.9-1.4-4.1z"/>
<path color="#1283f3" d="M211.8 226.5l1.5 3.9-.6-5.2-1.4-4.2z"/>
<path color="#321edc" d="M228.6 270.9l1.5 3.5-.9-1.8-1.5-3.8z"/>
<path color="#2b1edc" d="M227.2 267.3l1.4 3.6-.9-2.1-1.4-3.9z"/>
<path color="#1912ec" d="M225.7 263.8l1.5 3.5-.9-2.4-1.5-3.8z"/>
<path color="#121aed" d="M224.2 260.3l1.5 3.5-.9-2.7-1.4-3.9z"/>
<path color="#122bef" d="M222.7 256.8l1.5 3.5-.8-3.1-1.5-3.8z"/>
<path color="#1236f0" d="M221.2 253.2l1.5 3.6-.8-3.4-1.4-3.8z"/>
<path color="#1242f1" d="M219.7 249.7l1.5 3.5-.7-3.6-1.5-3.9z"/>
<path color="#124ef1" d="M218.3 246.2l1.4 3.5-.7-4-1.4-3.8z"/>
<path color="#1259f2" d="M216.8 242.7l1.5 3.5-.7-4.3-1.5-3.8z"/>
<path color="#1262f3" d="M215.3 239.1l1.5 3.6-.7-4.6-1.4-3.9z"/>
<path color="#126af3" d="M213.8 235.6l1.5 3.5-.6-4.9-1.4-3.8z"/>
<path color="#126ff4" d="M212.3 232.1l1.5 3.5-.5-5.2-1.5-3.9z"/>
<path color="#381edc" d="M229.6 273l1.5 3.2-1-1.8-1.5-3.5z"/>
<path color="#2d12ec" d="M228.1 269.8l1.5 3.2-1-2.1-1.4-3.6z"/>
<path color="#2312ee" d="M226.5 266.5l1.6 3.3-.9-2.5-1.5-3.5z"/>
<path color="#1512ef" d="M225 263.3l1.5 3.2-.8-2.7-1.5-3.5z"/>
<path color="#1220f0" d="M223.5 260.1l1.5 3.2-.8-3-1.5-3.5z"/>
<path color="#122df1" d="M222 256.9l1.5 3.2-.8-3.3-1.5-3.6z"/>
<path color="#1238f2" d="M220.4 253.7l1.6 3.2-.8-3.7-1.5-3.5z"/>
<path color="#1242f3" d="M218.9 250.5l1.5 3.2-.7-4-1.4-3.5z"/>
<path color="#124cf4" d="M217.4 247.3l1.5 3.2-.6-4.3-1.5-3.5z"/>
<path color="#1254f4" d="M215.9 244.1l1.5 3.2-.6-4.6-1.5-3.6z"/>
<path color="#125bf5" d="M214.3 240.8l1.6 3.3-.6-5-1.5-3.5z"/>
<path color="#1260f5" d="M212.8 237.6l1.5 3.2-.5-5.2-1.5-3.5z"/>
<path color="#3b12ed" d="M230.5 275.1l1.6 2.9-1-1.8-1.5-3.2z"/>
<path color="#3512ee" d="M229 272.2l1.5 2.9-.9-2.1-1.5-3.2z"/>
<path color="#2b12f0" d="M227.4 269.3l1.6 2.9-.9-2.4-1.6-3.3z"/>
<path color="#1f12f1" d="M225.8 266.4l1.6 2.9-.9-2.8-1.5-3.2z"/>
<path color="#1213f2" d="M224.3 263.5l1.5 2.9-.8-3.1-1.5-3.2z"/>
<path color="#1222f3" d="M222.7 260.6l1.6 2.9-.8-3.4-1.5-3.2z"/>
<path color="#122ef4" d="M221.1 257.7l1.6 2.9-.7-3.7-1.6-3.2z"/>
<path color="#1237f5" d="M219.6 254.8l1.5 2.9-.7-4-1.5-3.2z"/>
<path color="#1240f5" d="M218 251.9l1.6 2.9-.7-4.3-1.5-3.2z"/>
<path color="#1247f6" d="M216.4 249l1.6 2.9-.6-4.6-1.5-3.2z"/>
<path color="#124df6" d="M214.9 246.1l1.5 2.9-.5-4.9-1.6-3.3z"/>
<path color="#1251f7" d="M213.3 243.2l1.6 2.9-.6-5.3-1.5-3.2z"/>
<path color="#4212ef" d="M231.5 277.2l1.6 2.6-1-1.8-1.6-2.9z"/>
<path color="#3c12f1" d="M229.9 274.6l1.6 2.6-1-2.1-1.5-2.9z"/>
<path color="#3412f2" d="M228.2 272l1.7 2.6-.9-2.4-1.6-2.9z"/>
<path color="#2a12f3" d="M226.6 269.4l1.6 2.6-.8-2.7-1.6-2.9z"/>
<path color="#1d12f4" d="M225 266.8l1.6 2.6-.8-3-1.5-2.9z"/>
<path color="#1214f5" d="M223.4 264.2l1.6 2.6-.7-3.3-1.6-2.9z"/>
<path color="#1221f6" d="M221.8 261.7l1.6 2.5-.7-3.6-1.6-2.9z"/>
<path color="#122cf7" d="M220.2 259.1l1.6 2.6-.7-4-1.5-2.9z"/>
<path color="#1234f7" d="M218.6 256.5l1.6 2.6-.6-4.3-1.6-2.9z"/>
<path color="#123af7" d="M217 253.9l1.6 2.6-.6-4.6-1.6-2.9z"/>
<path color="#123ff8" d="M215.4 251.3l1.6 2.6-.6-4.9-1.5-2.9z"/>
<path color="#1242f8" d="M213.8 248.7l1.6 2.6-.5-5.2-1.6-2.9z"/>
<path color="#4812f2" d="M232.4 279.3l1.6 2.3-.9-1.8-1.6-2.6z"/>
<path color="#4312f3" d="M230.7 277l1.7 2.3-.9-2.1-1.6-2.6z"/>
<path color="#3c12f5" d="M229.1 274.7l1.6 2.3-.8-2.4-1.7-2.6z"/>
<path color="#3412f6" d="M227.5 272.5l1.6 2.2-.9-2.7-1.6-2.6z"/>
<path color="#2912f7" d="M225.8 270.2l1.7 2.3-.9-3.1-1.6-2.6z"/>
<path color="#1e12f7" d="M224.2 267.9l1.6 2.3-.8-3.4-1.6-2.6z"/>
<path color="#1312f8" d="M222.5 265.6l1.7 2.3-.8-3.7-1.6-2.5z"/>
<path color="#121df8" d="M220.9 263.4l1.6 2.2-.7-3.9-1.6-2.6z"/>
<path color="#1227f9" d="M219.3 261.1l1.6 2.3-.7-4.3-1.6-2.6z"/>
<path color="#122df9" d="M217.6 258.8l1.7 2.3-.7-4.6-1.6-2.6z"/>
<path color="#1232f9" d="M216 256.5l1.6 2.3-.6-4.9-1.6-2.6z"/>
<path color="#1235f9" d="M214.3 254.2l1.7 2.3-.6-5.2-1.6-2.6z"/>
<path color="#4e12f5" d="M233.3 281.4l1.7 2-1-1.8-1.6-2.3z"/>
<path color="#4a12f6" d="M231.6 279.4l1.7 2-.9-2.1-1.7-2.3z"/>
<path color="#4412f7" d="M230 277.5l1.6 1.9-.9-2.4-1.6-2.3z"/>
<path color="#3d12f8" d="M228.3 275.5l1.7 2-.9-2.8-1.6-2.2z"/>
<path color="#3512f9" d="M226.6 273.5l1.7 2-.8-3-1.7-2.3z"/>
<path color="#2c12f9" d="M224.9 271.6l1.7 1.9-.8-3.3-1.6-2.3z"/>
<path color="#2212fa" d="M223.2 269.6l1.7 2-.7-3.7-1.7-2.3z"/>
<path color="#1912fa" d="M221.6 267.6l1.6 2-.7-4-1.6-2.2z"/>
<path color="#1214fa" d="M219.9 265.7l1.7 1.9-.7-4.2-1.6-2.3z"/>
<path color="#121cfb" d="M218.2 263.7l1.7 2-.6-4.6-1.7-2.3z"/>
<path color="#1222fb" d="M216.5 261.8l1.7 1.9-.6-4.9-1.6-2.3z"/>
<path color="#1226fb" d="M214.8 259.8l1.7 2-.5-5.3-1.7-2.3z"/>
<path color="#5312f8" d="M234.3 283.5l1.7 1.6-1-1.7-1.7-2z"/>
<path color="#5012f9" d="M232.5 281.8l1.8 1.7-1-2.1-1.7-2z"/>
<path color="#4c12fa" d="M230.8 280.2l1.7 1.6-.9-2.4-1.6-1.9z"/>
<path color="#4612fb" d="M229.1 278.5l1.7 1.7-.8-2.7-1.7-2z"/>
<path color="#3f12fb" d="M227.4 276.9l1.7 1.6-.8-3-1.7-2z"/>
<path color="#3812fc" d="M225.7 275.2l1.7 1.7-.8-3.4-1.7-1.9z"/>
<path color="#3112fc" d="M223.9 273.6l1.8 1.6-.8-3.6-1.7-2z"/>
<path color="#2912fc" d="M222.2 271.9l1.7 1.7-.7-4-1.6-2z"/>
<path color="#2212fc" d="M220.5 270.3l1.7 1.6-.6-4.3-1.7-1.9z"/>
<path color="#1c12fc" d="M218.8 268.6l1.7 1.7-.6-4.6-1.7-2z"/>
<path color="#1712fc" d="M217.1 267l1.7 1.6-.6-4.9-1.7-1.9z"/>
<path color="#1412fc" d="M215.3 265.3l1.8 1.7-.6-5.2-1.7-2z"/>
<path color="#5912fb" d="M235.2 285.6l1.8 1.3-1-1.8-1.7-1.6z"/>
<path color="#5612fc" d="M233.4 284.3l1.8 1.3-.9-2.1-1.8-1.7z"/>
<path color="#5312fd" d="M231.7 282.9l1.7 1.4-.9-2.5-1.7-1.6z"/>
<path color="#4e12fd" d="M229.9 281.6l1.8 1.3-.9-2.7-1.7-1.7z"/>
<path color="#4912fe" d="M228.2 280.2l1.7 1.4-.8-3.1-1.7-1.6z"/>
<path color="#4412fe" d="M226.4 278.9l1.8 1.3-.8-3.3-1.7-1.7z"/>
<path color="#3e12fe" d="M224.6 277.6l1.8 1.3-.7-3.7-1.8-1.6z"/>
<path color="#3812fe" d="M222.9 276.2l1.7 1.4-.7-4-1.7-1.7z"/>
<path color="#3312fe" d="M221.1 274.9l1.8 1.3-.7-4.3-1.7-1.6z"/>
<path color="#2e12fe" d="M219.4 273.5l1.7 1.4-.6-4.6-1.7-1.7z"/>
<path color="#2b12fe" d="M217.6 272.2l1.8 1.3-.6-4.9-1.7-1.6z"/>
<path color="#2813fe" d="M215.8 270.9l1.8 1.3-.5-5.2-1.8-1.7z"/>
<path color="#5e12fe" d="M236.1 287.7l1.8 1-.9-1.8-1.8-1.3z"/>
<path color="#5c12ff" d="M234.3 286.7l1.8 1-.9-2.1-1.8-1.3z"/>
<path color="#5912ff" d="M232.5 285.6l1.8 1.1-.9-2.4-1.7-1.4z"/>
<path color="#5612ff" d="M230.7 284.6l1.8 1-.8-2.7-1.8-1.3z"/>
<path color="#5312ff" d="M228.9 283.6l1.8 1-.8-3-1.7-1.4z"/>
<path color="#4f12ff" d="M227.1 282.6l1.8 1-.7-3.4-1.8-1.3z"/>
<path color="#4a12ff" d="M225.3 281.5l1.8 1.1-.7-3.7-1.8-1.3z"/>
<path color="#4613ff" d="M223.5 280.5l1.8 1-.7-3.9-1.7-1.4z"/>
<path color="#4213ff" d="M221.7 279.5l1.8 1-.6-4.3-1.8-1.3z"/>
<path color="#3f13ff" d="M219.9 278.5l1.8 1-.6-4.6-1.7-1.4z"/>
<path color="#3c13ff" d="M218.1 277.4l1.8 1.1-.5-5-1.8-1.3z"/>
<path color="#3a13ff" d="M216.3 276.4l1.8 1-.5-5.2-1.8-1.3z"/>
<path color="#6312ff" d="M237.1 289.8l1.8 .7-1-1.8-1.8-1z"/>
<path color="#6113ff" d="M235.2 289.1l1.9 .7-1-2.1-1.8-1z"/>
<path color="#6013ff" d="M233.4 288.4l1.8 .7-.9-2.4-1.8-1.1z"/>
<path color="#5e13ff" d="M231.6 287.7l1.8 .7-.9-2.8-1.8-1z"/>
<path color="#5b13ff" d="M229.7 286.9l1.9 .8-.9-3.1-1.8-1z"/>
<path color="#5813ff" d="M227.9 286.2l1.8 .7-.8-3.3-1.8-1z"/>
<path color="#5513ff" d="M226 285.5l1.9 .7-.8-3.6-1.8-1.1z"/>
<path color="#5313ff" d="M224.2 284.8l1.8 .7-.7-4-1.8-1z"/>
<path color="#5013ff" d="M222.4 284.1l1.8 .7-.7-4.3-1.8-1z"/>
<path color="#4e13ff" d="M220.5 283.4l1.9 .7-.7-4.6-1.8-1z"/>
<path color="#4c14ff" d="M218.7 282.7l1.8 .7-.6-4.9-1.8-1.1z"/>
<path color="#4a14ff" d="M216.8 281.9l1.9 .8-.6-5.3-1.8-1z"/>
<path color="#6713ff" d="M238 291.9l1.9 .4-1-1.8-1.8-.7z"/>
<path color="#6613ff" d="M236.1 291.5l1.9 .4-.9-2.1-1.9-.7z"/>
<path color="#6513ff" d="M234.3 291.1l1.8 .4-.9-2.4-1.8-.7z"/>
<path color="#6414ff" d="M232.4 290.7l1.9 .4-.9-2.7-1.8-.7z"/>
<path color="#6214ff" d="M230.5 290.3l1.9 .4-.8-3-1.9-.8z"/>
<path color="#6114ff" d="M228.6 289.9l1.9 .4-.8-3.4-1.8-.7z"/>
<path color="#5f14ff" d="M226.7 289.5l1.9 .4-.7-3.7-1.9-.7z"/>
<path color="#5d14ff" d="M224.9 289.1l1.8 .4-.7-4-1.8-.7z"/>
<path color="#5c14ff" d="M223 288.7l1.9 .4-.7-4.3-1.8-.7z"/>
<path color="#5a14ff" d="M221.1 288.3l1.9 .4-.6-4.6-1.9-.7z"/>
<path color="#5914ff" d="M219.2 287.9l1.9 .4-.6-4.9-1.8-.7z"/>
<path color="#5815ff" d="M217.3 287.5l1.9 .4-.5-5.2-1.9-.8z"/>
<path color="#6b14ff" d="M238.9 294l2 .1-1-1.8-1.9-.4z"/>
<path color="#6b14ff" d="M237 293.9l1.9 .1-.9-2.1-1.9-.4z"/>
<path color="#6a15ff" d="M235.1 293.8l1.9 .1-.9-2.4-1.8-.4z"/>
<path color="#6a15ff" d="M233.2 293.7l1.9 .1-.8-2.7-1.9-.4z"/>
<path color="#6915ff" d="M231.3 293.7l1.9 0-.8-3-1.9-.4z"/>
<path color="#6815ff" d="M229.4 293.6l1.9 .1-.8-3.4-1.9-.4z"/>
<path color="#6715ff" d="M227.4 293.5l2 .1-.8-3.7-1.9-.4z"/>
<path color="#6616ff" d="M225.5 293.4l1.9 .1-.7-4-1.8-.4z"/>
<path color="#6516ff" d="M223.6 293.3l1.9 .1-.6-4.3-1.9-.4z"/>
<path color="#6416ff" d="M221.7 293.2l1.9 .1-.6-4.6-1.9-.4z"/>
<path color="#6416ff" d="M219.8 293.1l1.9 .1-.6-4.9-1.9-.4z"/>
<path color="#6316ff" d="M217.8 293l2 .1-.6-5.2-1.9-.4z"/>
<path color="#6f15ff" d="M239.9 296.1l1.9-.2-.9-1.8-2-.1z"/>
<path color="#6f16ff" d="M237.9 296.3l2-.2-1-2.1-1.9-.1z"/>
<path color="#6f16ff" d="M236 296.6l1.9-.3-.9-2.4-1.9-.1z"/>
<path color="#6e16ff" d="M234 296.8l2-.2-.9-2.8-1.9-.1z"/>
<path color="#6e17ff" d="M232.1 297l1.9-.2-.8-3.1-1.9 0z"/>
<path color="#6e17ff" d="M230.1 297.2l2-.2-.8-3.3-1.9-.1z"/>
<path color="#6d17ff" d="M228.1 297.5l2-.3-.7-3.6-2-.1z"/>
<path color="#6d17ff" d="M226.2 297.7l1.9-.2-.7-4-1.9-.1z"/>
<path color="#6c17ff" d="M224.2 297.9l2-.2-.7-4.3-1.9-.1z"/>
<path color="#6c17ff" d="M222.3 298.1l1.9-.2-.6-4.6-1.9-.1z"/>
<path color="#6c17ff" d="M220.3 298.3l2-.2-.6-4.9-1.9-.1z"/>
<path color="#6b17ff" d="M218.4 298.6l1.9-.3-.5-5.2-2-.1z"/>
<path color="#2cff35" d="M203.9 178.2l2.9-7.1-.5-5.5-2.9 7.4z"/>
<path color="#2bff3b" d="M201.1 185.4l2.8-7.2-.5-5.2-2.9 7.4z"/>
<path color="#2aff46" d="M198.3 192.5l2.8-7.1-.6-5-2.8 7.4z"/>
<path color="#29ff54" d="M195.5 199.6l2.8-7.1-.6-4.7-2.9 7.4z"/>
<path color="#27ff7f" d="M192.6 206.7l2.9-7.1-.7-4.4-2.9 7.5z"/>
<path color="#25ffc4" d="M189.8 213.8l2.8-7.1-.7-4-2.8 7.4z"/>
<path color="#24ffff" d="M187 221l2.8-7.2-.7-3.7-2.9 7.4z"/>
<path color="#21c2ff" d="M184.1 228.1l2.9-7.1-.8-3.5-2.9 7.4z"/>
<path color="#1f8cff" d="M181.3 235.2l2.8-7.1-.8-3.2-2.8 7.4z"/>
<path color="#1d74ff" d="M178.5 242.3l2.8-7.1-.8-2.9-2.9 7.5z"/>
<path color="#1b60ff" d="M175.7 249.4l2.8-7.1-.9-2.5-2.9 7.4z"/>
<path color="#1952ff" d="M172.8 256.5l2.9-7.1-1-2.2-2.8 7.4z"/>
<path color="#2dff41" d="M204.5 183.5l2.8-6.8-.5-5.6-2.9 7.1z"/>
<path color="#2cff47" d="M201.7 190.3l2.8-6.8-.6-5.3-2.8 7.2z"/>
<path color="#2bff51" d="M198.9 197.1l2.8-6.8-.6-4.9-2.8 7.1z"/>
<path color="#2aff6d" d="M196.1 203.9l2.8-6.8-.6-4.6-2.8 7.1z"/>
<path color="#28ff9d" d="M193.3 210.8l2.8-6.9-.6-4.3-2.9 7.1z"/>
<path color="#26ffe6" d="M190.5 217.6l2.8-6.8-.7-4.1-2.8 7.1z"/>
<path color="#24e8ff" d="M187.7 224.4l2.8-6.8-.7-3.8-2.8 7.2z"/>
<path color="#22b0ff" d="M185 231.2l2.7-6.8-.7-3.4-2.9 7.1z"/>
<path color="#2085ff" d="M182.2 238l2.8-6.8-.9-3.1-2.8 7.1z"/>
<path color="#1e6eff" d="M179.4 244.9l2.8-6.9-.9-2.8-2.8 7.1z"/>
<path color="#1c5bff" d="M176.6 251.7l2.8-6.8-.9-2.6-2.8 7.1z"/>
<path color="#1a4eff" d="M173.8 258.5l2.8-6.8-.9-2.3-2.9 7.1z"/>
<path color="#2eff4e" d="M205 188.7l2.8-6.5-.5-5.5-2.8 6.8z"/>
<path color="#2dff54" d="M202.3 195.2l2.7-6.5-.5-5.2-2.8 6.8z"/>
<path color="#2cff66" d="M199.5 201.8l2.8-6.6-.6-4.9-2.8 6.8z"/>
<path color="#2bff8a" d="M196.8 208.3l2.7-6.5-.6-4.7-2.8 6.8z"/>
<path color="#29ffc4" d="M194 214.8l2.8-6.5-.7-4.4-2.8 6.9z"/>
<path color="#29ffff" d="M191.3 221.3l2.7-6.5-.7-4-2.8 6.8z"/>
<path color="#25d1ff" d="M188.5 227.8l2.8-6.5-.8-3.7-2.8 6.8z"/>
<path color="#239dff" d="M185.8 234.4l2.7-6.6-.8-3.4-2.7 6.8z"/>
<path color="#217dff" d="M183 240.9l2.8-6.5-.8-3.2-2.8 6.8z"/>
<path color="#1f68ff" d="M180.3 247.4l2.7-6.5-.8-2.9-2.8 6.9z"/>
<path color="#1c56ff" d="M177.5 253.9l2.8-6.5-.9-2.5-2.8 6.8z"/>
<path color="#1a49ff" d="M174.7 260.4l2.8-6.5-.9-2.2-2.8 6.8z"/>
<path color="#2fff5b" d="M205.6 194l2.7-6.3-.5-5.5-2.8 6.5z"/>
<path color="#2eff6b" d="M202.9 200.2l2.7-6.2-.6-5.3-2.7 6.5z"/>
<path color="#2dff85" d="M200.1 206.4l2.8-6.2-.6-5-2.8 6.6z"/>
<path color="#2cffb0" d="M197.4 212.6l2.7-6.2-.6-4.6-2.7 6.5z"/>
<path color="#2affeb" d="M194.7 218.8l2.7-6.2-.6-4.3-2.8 6.5z"/>
<path color="#28eeff" d="M192 225.1l2.7-6.3-.7-4-2.7 6.5z"/>
<path color="#26bbff" d="M189.3 231.3l2.7-6.2-.7-3.8-2.8 6.5z"/>
<path color="#248dff" d="M186.6 237.5l2.7-6.2-.8-3.5-2.7 6.6z"/>
<path color="#2276ff" d="M183.8 243.7l2.8-6.2-.8-3.1-2.8 6.5z"/>
<path color="#1f62ff" d="M181.1 249.9l2.7-6.2-.8-2.8-2.7 6.5z"/>
<path color="#1d51ff" d="M178.4 256.2l2.7-6.3-.8-2.5-2.8 6.5z"/>
<path color="#1b44ff" d="M175.7 262.4l2.7-6.2-.9-2.3-2.8 6.5z"/>
<path color="#2fff7d" d="M206.1 199.2l2.7-5.9-.5-5.6-2.7 6.3z"/>
<path color="#2fff8c" d="M203.4 205.1l2.7-5.9-.5-5.2-2.7 6.2z"/>
<path color="#2effac" d="M200.8 211l2.6-5.9-.5-4.9-2.8 6.2z"/>
<path color="#2dffdc" d="M198.1 217l2.7-6-.7-4.6-2.7 6.2z"/>
<path color="#2cffff" d="M195.4 222.9l2.7-5.9-.7-4.4-2.7 6.2z"/>
<path color="#2ad3ff" d="M192.7 228.8l2.7-5.9-.7-4.1-2.7 6.3z"/>
<path color="#28a5ff" d="M190 234.7l2.7-5.9-.7-3.7-2.7 6.2z"/>
<path color="#2584ff" d="M187.4 240.6l2.6-5.9-.7-3.4-2.7 6.2z"/>
<path color="#236fff" d="M184.7 246.6l2.7-6-.8-3.1-2.8 6.2z"/>
<path color="#205cff" d="M182 252.5l2.7-5.9-.9-2.9-2.7 6.2z"/>
<path color="#1e4bff" d="M179.3 258.4l2.7-5.9-.9-2.6-2.7 6.3z"/>
<path color="#1c3fff" d="M176.7 264.3l2.6-5.9-.9-2.2-2.7 6.2z"/>
<path color="#30ffa4" d="M206.7 204.5l2.6-5.7-.5-5.5-2.7 5.9z"/>
<path color="#2fffb9" d="M204 210.1l2.7-5.6-.6-5.3-2.7 5.9z"/>
<path color="#2fffdb" d="M201.4 215.7l2.6-5.6-.6-5-2.6 5.9z"/>
<path color="#2fffff" d="M198.7 221.3l2.7-5.6-.6-4.7-2.7 6z"/>
<path color="#2ce3ff" d="M196.1 226.9l2.6-5.6-.6-4.3-2.7 5.9z"/>
<path color="#2bbaff" d="M193.5 232.5l2.6-5.6-.7-4-2.7 5.9z"/>
<path color="#2991ff" d="M190.8 238.2l2.7-5.7-.8-3.7-2.7 5.9z"/>
<path color="#277cff" d="M188.2 243.8l2.6-5.6-.8-3.5-2.6 5.9z"/>
<path color="#2468ff" d="M185.5 249.4l2.7-5.6-.8-3.2-2.7 6z"/>
<path color="#2156ff" d="M182.9 255l2.6-5.6-.8-2.8-2.7 5.9z"/>
<path color="#1f46ff" d="M180.3 260.6l2.6-5.6-.9-2.5-2.7 5.9z"/>
<path color="#1c3bff" d="M177.6 266.3l2.7-5.7-1-2.2-2.6 5.9z"/>
<path color="#30ffd6" d="M207.2 209.7l2.6-5.3-.5-5.6-2.6 5.7z"/>
<path color="#30ffea" d="M204.6 215l2.6-5.3-.5-5.2-2.7 5.6z"/>
<path color="#31ffff" d="M202 220.3l2.6-5.3-.6-4.9-2.6 5.6z"/>
<path color="#2eeaff" d="M199.4 225.7l2.6-5.4-.6-4.6-2.7 5.6z"/>
<path color="#2dc6ff" d="M196.8 231l2.6-5.3-.7-4.4-2.6 5.6z"/>
<path color="#2ca1ff" d="M194.2 236.3l2.6-5.3-.7-4.1-2.6 5.6z"/>
<path color="#2a87ff" d="M191.6 241.6l2.6-5.3-.7-3.8-2.7 5.7z"/>
<path color="#2874ff" d="M189 246.9l2.6-5.3-.8-3.4-2.6 5.6z"/>
<path color="#2561ff" d="M186.4 252.2l2.6-5.3-.8-3.1-2.7 5.6z"/>
<path color="#2350ff" d="M183.8 257.6l2.6-5.4-.9-2.8-2.6 5.6z"/>
<path color="#2041ff" d="M181.2 262.9l2.6-5.3-.9-2.6-2.6 5.6z"/>
<path color="#1d36ff" d="M178.6 268.2l2.6-5.3-.9-2.3-2.7 5.7z"/>
<path color="#31ffff" d="M207.7 214.9l2.6-5-.5-5.5-2.6 5.3z"/>
<path color="#30feff" d="M205.2 220l2.5-5.1-.5-5.2-2.6 5.3z"/>
<path color="#30e6ff" d="M202.6 225l2.6-5-.6-5-2.6 5.3z"/>
<path color="#2fcaff" d="M200 230l2.6-5-.6-4.7-2.6 5.4z"/>
<path color="#2eabff" d="M197.5 235l2.5-5-.6-4.3-2.6 5.3z"/>
<path color="#2d8fff" d="M194.9 240l2.6-5-.7-4-2.6 5.3z"/>
<path color="#2b7dff" d="M192.4 245.1l2.5-5.1-.7-3.7-2.6 5.3z"/>
<path color="#296bff" d="M189.8 250.1l2.6-5-.8-3.5-2.6 5.3z"/>
<path color="#265aff" d="M187.2 255.1l2.6-5-.8-3.2-2.6 5.3z"/>
<path color="#244aff" d="M184.7 260.1l2.5-5-.8-2.9-2.6 5.4z"/>
<path color="#213cff" d="M182.1 265.1l2.6-5-.9-2.5-2.6 5.3z"/>
<path color="#1e2fff" d="M179.5 270.1l2.6-5-.9-2.2-2.6 5.3z"/>
<path color="#30e3ff" d="M208.3 220.2l2.5-4.7-.5-5.6-2.6 5z"/>
<path color="#30d7ff" d="M205.8 224.9l2.5-4.7-.6-5.3-2.5 5.1z"/>
<path color="#30c4ff" d="M203.2 229.6l2.6-4.7-.6-4.9-2.6 5z"/>
<path color="#30acff" d="M200.7 234.3l2.5-4.7-.6-4.6-2.6 5z"/>
<path color="#2f93ff" d="M198.2 239.1l2.5-4.8-.7-4.3-2.5 5z"/>
<path color="#2e84ff" d="M195.6 243.8l2.6-4.7-.7-4.1-2.6 5z"/>
<path color="#2c74ff" d="M193.1 248.5l2.5-4.7-.7-3.8-2.5 5.1z"/>
<path color="#2a63ff" d="M190.6 253.2l2.5-4.7-.7-3.4-2.6 5z"/>
<path color="#2853ff" d="M188.1 257.9l2.5-4.7-.8-3.1-2.6 5z"/>
<path color="#2544ff" d="M185.5 262.7l2.6-4.8-.9-2.8-2.5 5z"/>
<path color="#2236ff" d="M183 267.4l2.5-4.7-.8-2.6-2.6 5z"/>
<path color="#1f26ff" d="M180.5 272.1l2.5-4.7-.9-2.3-2.6 5z"/>
<path color="#30c0ff" d="M208.8 225.4l2.5-4.4-.5-5.5-2.5 4.7z"/>
<path color="#30b5ff" d="M206.3 229.8l2.5-4.4-.5-5.2-2.5 4.7z"/>
<path color="#30a4ff" d="M203.8 234.3l2.5-4.5-.5-4.9-2.6 4.7z"/>
<path color="#3092ff" d="M201.4 238.7l2.4-4.4-.6-4.7-2.5 4.7z"/>
<path color="#3086ff" d="M198.9 243.1l2.5-4.4-.7-4.4-2.5 4.8z"/>
<path color="#2f79ff" d="M196.4 247.5l2.5-4.4-.7-4-2.6 4.7z"/>
<path color="#2d6aff" d="M193.9 251.9l2.5-4.4-.8-3.7-2.5 4.7z"/>
<path color="#2b5bff" d="M191.4 256.4l2.5-4.5-.8-3.4-2.5 4.7z"/>
<path color="#294dff" d="M188.9 260.8l2.5-4.4-.8-3.2-2.5 4.7z"/>
<path color="#263fff" d="M186.4 265.2l2.5-4.4-.8-2.9-2.6 4.8z"/>
<path color="#232dff" d="M183.9 269.6l2.5-4.4-.9-2.5-2.5 4.7z"/>
<path color="#2120ff" d="M181.5 274l2.4-4.4-.9-2.2-2.5 4.7z"/>
<path color="#2f9dff" d="M209.4 230.7l2.4-4.2-.5-5.5-2.5 4.4z"/>
<path color="#3095ff" d="M206.9 234.8l2.5-4.1-.6-5.3-2.5 4.4z"/>
<path color="#308eff" d="M204.5 238.9l2.4-4.1-.6-5-2.5 4.5z"/>
<path color="#3085ff" d="M202 243l2.5-4.1-.7-4.6-2.4 4.4z"/>
<path color="#307aff" d="M199.6 247.1l2.4-4.1-.6-4.3-2.5 4.4z"/>
<path color="#2f6eff" d="M197.1 251.3l2.5-4.2-.7-4-2.5 4.4z"/>
<path color="#2e61ff" d="M194.7 255.4l2.4-4.1-.7-3.8-2.5 4.4z"/>
<path color="#2c53ff" d="M192.2 259.5l2.5-4.1-.8-3.5-2.5 4.5z"/>
<path color="#2a46ff" d="M189.8 263.6l2.4-4.1-.8-3.1-2.5 4.4z"/>
<path color="#2736ff" d="M187.3 267.7l2.5-4.1-.9-2.8-2.5 4.4z"/>
<path color="#2424ff" d="M184.9 271.9l2.4-4.2-.9-2.5-2.5 4.4z"/>
<path color="#2b21ff" d="M182.4 276l2.5-4.1-1-2.3-2.4 4.4z"/>
<path color="#2f89ff" d="M209.9 235.9l2.4-3.8-.5-5.6-2.4 4.2z"/>
<path color="#2f85ff" d="M207.5 239.7l2.4-3.8-.5-5.2-2.5 4.1z"/>
<path color="#307fff" d="M205.1 243.5l2.4-3.8-.6-4.9-2.4 4.1z"/>
<path color="#3077ff" d="M202.7 247.4l2.4-3.9-.6-4.6-2.5 4.1z"/>
<path color="#306eff" d="M200.3 251.2l2.4-3.8-.7-4.4-2.4 4.1z"/>
<path color="#3063ff" d="M197.8 255l2.5-3.8-.7-4.1-2.5 4.2z"/>
<path color="#2f58ff" d="M195.4 258.8l2.4-3.8-.7-3.7-2.4 4.1z"/>
<path color="#2d4cff" d="M193 262.6l2.4-3.8-.7-3.4-2.5 4.1z"/>
<path color="#2b3fff" d="M190.6 266.5l2.4-3.9-.8-3.1-2.4 4.1z"/>
<path color="#282cff" d="M188.2 270.3l2.4-3.8-.8-2.9-2.5 4.1z"/>
<path color="#2e25ff" d="M185.8 274.1l2.4-3.8-.9-2.6-2.4 4.2z"/>
<path color="#3421ff" d="M183.4 277.9l2.4-3.8-.9-2.2-2.5 4.1z"/>
<path color="#2d79ff" d="M210.4 241.1l2.4-3.5-.5-5.5-2.4 3.8z"/>
<path color="#2e76ff" d="M208.1 244.7l2.3-3.6-.5-5.2-2.4 3.8z"/>
<path color="#2f71ff" d="M205.7 248.2l2.4-3.5-.6-5-2.4 3.8z"/>
<path color="#306aff" d="M203.3 251.7l2.4-3.5-.6-4.7-2.4 3.9z"/>
<path color="#3062ff" d="M200.9 255.2l2.4-3.5-.6-4.3-2.4 3.8z"/>
<path color="#3058ff" d="M198.6 258.7l2.3-3.5-.6-4-2.5 3.8z"/>
<path color="#2f4fff" d="M196.2 262.3l2.4-3.6-.8-3.7-2.4 3.8z"/>
<path color="#2e44ff" d="M193.8 265.8l2.4-3.5-.8-3.5-2.4 3.8z"/>
<path color="#2c33ff" d="M191.4 269.3l2.4-3.5-.8-3.2-2.4 3.9z"/>
<path color="#3029ff" d="M189.1 272.8l2.3-3.5-.8-2.8-2.4 3.8z"/>
<path color="#3926ff" d="M186.7 276.3l2.4-3.5-.9-2.5-2.4 3.8z"/>
<path color="#3d22ff" d="M184.3 279.9l2.4-3.6-.9-2.2-2.4 3.8z"/>
<path color="#2c69ff" d="M211 246.4l2.3-3.2-.5-5.6-2.4 3.5z"/>
<path color="#2d66ff" d="M208.6 249.6l2.4-3.2-.6-5.3-2.3 3.6z"/>
<path color="#2e62ff" d="M206.3 252.8l2.3-3.2-.5-4.9-2.4 3.5z"/>
<path color="#2f5cff" d="M204 256l2.3-3.2-.6-4.6-2.4 3.5z"/>
<path color="#2f56ff" d="M201.6 259.3l2.4-3.3-.7-4.3-2.4 3.5z"/>
<path color="#2f4eff" d="M199.3 262.5l2.3-3.2-.7-4.1-2.3 3.5z"/>
<path color="#2f45ff" d="M197 265.7l2.3-3.2-.7-3.8-2.4 3.6z"/>
<path color="#2e37ff" d="M194.6 268.9l2.4-3.2-.8-3.4-2.4 3.5z"/>
<path color="#312cff" d="M192.3 272.1l2.3-3.2-.8-3.1-2.4 3.5z"/>
<path color="#3b2aff" d="M190 275.4l2.3-3.3-.9-2.8-2.3 3.5z"/>
<path color="#4227ff" d="M187.6 278.6l2.4-3.2-.9-2.6-2.4 3.5z"/>
<path color="#4623ff" d="M185.3 281.8l2.3-3.2-.9-2.3-2.4 3.6z"/>
<path color="#2b59ff" d="M211.5 251.6l2.3-2.9-.5-5.5-2.3 3.2z"/>
<path color="#2c57ff" d="M209.2 254.5l2.3-2.9-.5-5.2-2.4 3.2z"/>
<path color="#2d54ff" d="M206.9 257.5l2.3-3-.6-4.9-2.3 3.2z"/>
<path color="#2d4fff" d="M204.6 260.4l2.3-2.9-.6-4.7-2.3 3.2z"/>
<path color="#2e4aff" d="M202.3 263.3l2.3-2.9-.6-4.4-2.4 3.3z"/>
<path color="#2e42ff" d="M200 266.2l2.3-2.9-.7-4-2.3 3.2z"/>
<path color="#2e36ff" d="M197.7 269.1l2.3-2.9-.7-3.7-2.3 3.2z"/>
<path color="#322eff" d="M195.4 272.1l2.3-3-.7-3.4-2.4 3.2z"/>
<path color="#3d2cff" d="M193.1 275l2.3-2.9-.8-3.2-2.3 3.2z"/>
<path color="#452aff" d="M190.8 277.9l2.3-2.9-.8-2.9-2.3 3.3z"/>
<path color="#4b27ff" d="M188.5 280.8l2.3-2.9-.8-2.5-2.4 3.2z"/>
<path color="#4e24ff" d="M186.2 283.7l2.3-2.9-.9-2.2-2.3 3.2z"/>
<path color="#294aff" d="M212.1 256.9l2.2-2.7-.5-5.5-2.3 2.9z"/>
<path color="#2a49ff" d="M209.8 259.5l2.3-2.6-.6-5.3-2.3 2.9z"/>
<path color="#2b46ff" d="M207.5 262.1l2.3-2.6-.6-5-2.3 3z"/>
<path color="#2c42ff" d="M205.3 264.7l2.2-2.6-.6-4.6-2.3 2.9z"/>
<path color="#2d3aff" d="M203 267.4l2.3-2.7-.7-4.3-2.3 2.9z"/>
<path color="#2d31ff" d="M200.8 270l2.2-2.6-.7-4.1-2.3 2.9z"/>
<path color="#342dff" d="M198.5 272.6l2.3-2.6-.8-3.8-2.3 2.9z"/>
<path color="#3e2dff" d="M196.2 275.2l2.3-2.6-.8-3.5-2.3 3z"/>
<path color="#472cff" d="M194 277.8l2.2-2.6-.8-3.1-2.3 2.9z"/>
<path color="#4e2aff" d="M191.7 280.5l2.3-2.7-.9-2.8-2.3 2.9z"/>
<path color="#5328ff" d="M189.5 283.1l2.2-2.6-.9-2.6-2.3 2.9z"/>
<path color="#5624ff" d="M187.2 285.7l2.3-2.6-1-2.3-2.3 2.9z"/>
<path color="#273aff" d="M212.6 262.1l2.2-2.3-.5-5.6-2.2 2.7z"/>
<path color="#2838ff" d="M210.4 264.4l2.2-2.3-.5-5.2-2.3 2.6z"/>
<path color="#2933ff" d="M208.2 266.8l2.2-2.4-.6-4.9-2.3 2.6z"/>
<path color="#2a2eff" d="M205.9 269.1l2.3-2.3-.7-4.7-2.2 2.6z"/>
<path color="#2f2bff" d="M203.7 271.4l2.2-2.3-.6-4.4-2.3 2.7z"/>
<path color="#382bff" d="M201.5 273.7l2.2-2.3-.7-4-2.2 2.6z"/>
<path color="#412cff" d="M199.3 276l2.2-2.3-.7-3.7-2.3 2.6z"/>
<path color="#492cff" d="M197 278.4l2.3-2.4-.8-3.4-2.3 2.6z"/>
<path color="#512bff" d="M194.8 280.7l2.2-2.3-.8-3.2-2.2 2.6z"/>
<path color="#572aff" d="M192.6 283l2.2-2.3-.8-2.9-2.3 2.7z"/>
<path color="#5b27ff" d="M190.4 285.3l2.2-2.3-.9-2.5-2.2 2.6z"/>
<path color="#5d24ff" d="M188.2 287.6l2.2-2.3-.9-2.2-2.3 2.6z"/>
<path color="#2625ff" d="M213.1 267.4l2.2-2.1-.5-5.5-2.2 2.3z"/>
<path color="#2a26ff" d="M211 269.4l2.1-2-.5-5.3-2.2 2.3z"/>
<path color="#3027ff" d="M208.8 271.4l2.2-2-.6-5-2.2 2.4z"/>
<path color="#3628ff" d="M206.6 273.4l2.2-2-.6-4.6-2.3 2.3z"/>
<path color="#3d28ff" d="M204.4 275.4l2.2-2-.7-4.3-2.2 2.3z"/>
<path color="#4429ff" d="M202.2 277.5l2.2-2.1-.7-4-2.2 2.3z"/>
<path color="#4c2aff" d="M200 279.5l2.2-2-.7-3.8-2.2 2.3z"/>
<path color="#522aff" d="M197.9 281.5l2.1-2-.7-3.5-2.3 2.4z"/>
<path color="#592aff" d="M195.7 283.5l2.2-2-.9-3.1-2.2 2.3z"/>
<path color="#5e28ff" d="M193.5 285.5l2.2-2-.9-2.8-2.2 2.3z"/>
<path color="#6126ff" d="M191.3 287.6l2.2-2.1-.9-2.5-2.2 2.3z"/>
<path color="#6223ff" d="M189.1 289.6l2.2-2-.9-2.3-2.2 2.3z"/>
<path color="#3823ff" d="M213.7 272.6l2.1-1.7-.5-5.6-2.2 2.1z"/>
<path color="#3b23ff" d="M211.5 274.3l2.2-1.7-.6-5.2-2.1 2z"/>
<path color="#3f24ff" d="M209.4 276l2.1-1.7-.5-4.9-2.2 2z"/>
<path color="#4425ff" d="M207.2 277.8l2.2-1.8-.6-4.6-2.2 2z"/>
<path color="#4926ff" d="M205.1 279.5l2.1-1.7-.6-4.4-2.2 2z"/>
<path color="#4f27ff" d="M203 281.2l2.1-1.7-.7-4.1-2.2 2.1z"/>
<path color="#5527ff" d="M200.8 282.9l2.2-1.7-.8-3.7-2.2 2z"/>
<path color="#5b27ff" d="M198.7 284.6l2.1-1.7-.8-3.4-2.1 2z"/>
<path color="#5f27ff" d="M196.5 286.4l2.2-1.8-.8-3.1-2.2 2z"/>
<path color="#6326ff" d="M194.4 288.1l2.1-1.7-.8-2.9-2.2 2z"/>
<path color="#6625ff" d="M192.2 289.8l2.2-1.7-.9-2.6-2.2 2.1z"/>
<path color="#6722ff" d="M190.1 291.5l2.1-1.7-.9-2.2-2.2 2z"/>
<path color="#4720ff" d="M214.2 277.8l2.1-1.4-.5-5.5-2.1 1.7z"/>
<path color="#4921ff" d="M212.1 279.3l2.1-1.5-.5-5.2-2.2 1.7z"/>
<path color="#4d22ff" d="M210 280.7l2.1-1.4-.6-5-2.1 1.7z"/>
<path color="#5023ff" d="M207.9 282.1l2.1-1.4-.6-4.7-2.2 1.8z"/>
<path color="#5523ff" d="M205.8 283.5l2.1-1.4-.7-4.3-2.1 1.7z"/>
<path color="#5924ff" d="M203.7 284.9l2.1-1.4-.7-4-2.1 1.7z"/>
<path color="#5d24ff" d="M201.6 286.4l2.1-1.5-.7-3.7-2.2 1.7z"/>
<path color="#6125ff" d="M199.5 287.8l2.1-1.4-.8-3.5-2.1 1.7z"/>
<path color="#6525ff" d="M197.4 289.2l2.1-1.4-.8-3.2-2.2 1.8z"/>
<path color="#6824ff" d="M195.2 290.6l2.2-1.4-.9-2.8-2.1 1.7z"/>
<path color="#6a22ff" d="M193.1 292l2.1-1.4-.8-2.5-2.2 1.7z"/>
<path color="#6b20ff" d="M191 293.5l2.1-1.5-.9-2.2-2.1 1.7z"/>
<path color="#541eff" d="M214.8 283.1l2-1.2-.5-5.5-2.1 1.4z"/>
<path color="#561fff" d="M212.7 284.2l2.1-1.1-.6-5.3-2.1 1.5z"/>
<path color="#581fff" d="M210.6 285.3l2.1-1.1-.6-4.9-2.1 1.4z"/>
<path color="#5b20ff" d="M208.6 286.4l2-1.1-.6-4.6-2.1 1.4z"/>
<path color="#5e20ff" d="M206.5 287.6l2.1-1.2-.7-4.3-2.1 1.4z"/>
<path color="#6121ff" d="M204.4 288.7l2.1-1.1-.7-4.1-2.1 1.4z"/>
<path color="#6421ff" d="M202.3 289.8l2.1-1.1-.7-3.8-2.1 1.5z"/>
<path color="#6722ff" d="M200.3 290.9l2-1.1-.7-3.4-2.1 1.4z"/>
<path color="#6921ff" d="M198.2 292l2.1-1.1-.8-3.1-2.1 1.4z"/>
<path color="#6c21ff" d="M196.1 293.2l2.1-1.2-.8-2.8-2.2 1.4z"/>
<path color="#6d20ff" d="M194.1 294.3l2-1.1-.9-2.6-2.1 1.4z"/>
<path color="#6e1eff" d="M192 295.4l2.1-1.1-1-2.3-2.1 1.5z"/>
<path color="#5f1cff" d="M215.3 288.3l2-.8-.5-5.6-2 1.2z"/>
<path color="#601dff" d="M213.3 289.1l2-.8-.5-5.2-2.1 1.1z"/>
<path color="#621dff" d="M211.2 290l2.1-.9-.6-4.9-2.1 1.1z"/>
<path color="#631dff" d="M209.2 290.8l2-.8-.6-4.7-2 1.1z"/>
<path color="#651eff" d="M207.2 291.6l2-.8-.6-4.4-2.1 1.2z"/>
<path color="#671eff" d="M205.1 292.4l2.1-.8-.7-4-2.1 1.1z"/>
<path color="#691eff" d="M203.1 293.2l2-.8-.7-3.7-2.1 1.1z"/>
<path color="#6b1eff" d="M201.1 294.1l2-.9-.8-3.4-2 1.1z"/>
<path color="#6d1eff" d="M199 294.9l2.1-.8-.8-3.2-2.1 1.1z"/>
<path color="#6e1eff" d="M197 295.7l2-.8-.8-2.9-2.1 1.2z"/>
<path color="#6f1dff" d="M195 296.5l2-.8-.9-2.5-2 1.1z"/>
<path color="#6f1bff" d="M192.9 297.3l2.1-.8-.9-2.2-2.1 1.1z"/>
<path color="#671aff" d="M215.9 293.5l1.9-.5-.5-5.5-2 .8z"/>
<path color="#681aff" d="M213.9 294.1l2-.6-.6-5.2-2 .8z"/>
<path color="#691bff" d="M211.9 294.6l2-.5-.6-5-2.1 .9z"/>
<path color="#6a1bff" d="M209.9 295.1l2-.5-.7-4.6-2 .8z"/>
<path color="#6b1bff" d="M207.9 295.6l2-.5-.7-4.3-2 .8z"/>
<path color="#6c1bff" d="M205.9 296.2l2-.6-.7-4-2.1 .8z"/>
<path color="#6d1cff" d="M203.9 296.7l2-.5-.8-3.8-2 .8z"/>
<path color="#6e1cff" d="M201.9 297.2l2-.5-.8-3.5-2 .9z"/>
<path color="#6f1bff" d="M199.9 297.7l2-.5-.8-3.1-2.1 .8z"/>
<path color="#701bff" d="M197.9 298.2l2-.5-.9-2.8-2 .8z"/>
<path color="#701aff" d="M195.9 298.8l2-.6-.9-2.5-2 .8z"/>
<path color="#7019ff" d="M193.9 299.3l2-.5-.9-2.3-2.1 .8z"/>
<path color="#6c18ff" d="M216.4 298.8l2-.2-.6-5.6-1.9 .5z"/>
<path color="#6d19ff" d="M214.4 299l2-.2-.5-5.3-2 .6z"/>
<path color="#6d19ff" d="M212.5 299.2l1.9-.2-.5-4.9-2 .5z"/>
<path color="#6e19ff" d="M210.5 299.5l2-.3-.6-4.6-2 .5z"/>
<path color="#6e19ff" d="M208.6 299.7l1.9-.2-.6-4.4-2 .5z"/>
<path color="#6f19ff" d="M206.6 299.9l2-.2-.7-4.1-2 .6z"/>
<path color="#6f19ff" d="M204.6 300.1l2-.2-.7-3.7-2 .5z"/>
<path color="#7019ff" d="M202.7 300.3l1.9-.2-.7-3.4-2 .5z"/>
<path color="#7019ff" d="M200.7 300.6l2-.3-.8-3.1-2 .5z"/>
<path color="#7018ff" d="M198.8 300.8l1.9-.2-.8-2.9-2 .5z"/>
<path color="#7018ff" d="M196.8 301l2-.2-.9-2.6-2 .6z"/>
<path color="#7017ff" d="M194.9 301.2l1.9-.2-.9-2.2-2 .5z"/>
<path color="#193eff" d="M169.5 269.1l8.1-2.8-5.7-11.7-8.2 3.5z"/>
<path color="#1835ff" d="M161.4 272l8.1-2.9-5.8-11-8.2 3.6z"/>
<path color="#1830ff" d="M153.4 274.9l8-2.9-5.9-10.3-8.1 3.5z"/>
<path color="#1d18ff" d="M175.4 280.1l8-2.2-5.8-11.6-8.1 2.8z"/>
<path color="#2417ff" d="M167.4 282.3l8-2.2-5.9-11-8.1 2.9z"/>
<path color="#2817ff" d="M159.4 284.5l8-2.2-6-10.3-8 2.9z"/>
<path color="#4a17ff" d="M181.2 291.1l7.9-1.5-5.7-11.7-8 2.2z"/>
<path color="#4d17ff" d="M173.3 292.7l7.9-1.6-5.8-11-8 2.2z"/>
<path color="#4e16ff" d="M165.4 294.2l7.9-1.5-5.9-10.4-8 2.2z"/>
<path color="#6716ff" d="M187 302.1l7.9-.9-5.8-11.6-7.9 1.5z"/>
<path color="#6716ff" d="M179.2 303l7.8-.9-5.8-11-7.9 1.6z"/>
<path color="#6815ff" d="M171.4 303.9l7.8-.9-5.9-10.3-7.9 1.5z"/>
<path color="#6c13ff" d="M325.8 295l23.4-2.6-13.5-7.2-23.4 2.7z"/>
<path color="#6c13ff" d="M302.3 297.7l23.5-2.7-13.5-7.1-23.5 2.7z"/>
<path color="#6c13ff" d="M278.8 300.3l23.5-2.6-13.5-7.1-23.5 2.6z"/>
<path color="#6c13ff" d="M255.4 303l23.4-2.7-13.5-7.1-23.5 2.7z"/>
<path color="#6c13ff" d="M231.9 305.7l23.5-2.7-13.6-7.1-23.4 2.7z"/>
<path color="#6c13ff" d="M208.4 308.3l23.5-2.6-13.5-7.1-23.5 2.6z"/>
<path color="#6c13ff" d="M184.9 311l23.5-2.7-13.5-7.1-23.5 2.7z"/>
</g>
<path d="M188.8 310.6L175.3 303.5L151.4 263.4L139.8 241.4L128.2 218.9L104.1 180.1L79.3 147.0M192.7 310.1L179.2 303.0L155.5 261.7L144.2 237.2L132.9 212.1L108.7 174.8L83.7 142.9M196.6 309.7L183.1 302.6L159.6 259.9L148.5 233.1L137.6 205.3L113.2 169.4L88.1 138.9M200.6 309.2L187.0 302.1L163.7 258.1L152.9 229.0L142.3 198.5L117.7 164.0L92.5 134.8M204.5 308.8L190.9 301.7L167.8 256.4L157.3 224.9L147.0 191.7L122.3 158.7L96.9 130.8M208.4 308.3L194.9 301.2L171.9 254.6L161.7 220.8L151.8 184.9L126.8 153.3L101.2 126.7M212.3 307.9L198.8 300.8L177.6 239.8L168.5 197.6L158.3 163.7L131.7 145.2L105.0 127.4M216.2 307.5L202.7 300.3L183.3 224.9L175.3 174.3L164.8 142.5L136.6 137.0L108.8 128.0M220.1 307.0L206.6 299.9L189.1 210.1L182.1 151.1L171.4 121.3L141.5 128.9L112.6 128.6M224.0 306.6L210.5 299.5L194.8 195.2L188.9 127.9L177.9 100.1L146.4 120.8L116.4 129.3M228.0 306.1L214.4 299.0L200.5 180.4L195.7 104.6L184.5 78.8L151.3 112.7L124.1 127.8M231.9 305.7L218.4 298.6L206.3 165.6L202.5 81.4L191.0 57.6L156.2 104.5L132.0 124.1M235.8 305.2L222.3 298.1L208.3 180.1L203.7 101.8M144.3 114.4L128.8 122.9M239.7 304.8L226.2 297.7L210.3 194.7L205.0 122.3M148.6 111.3L133.6 115.3M243.6 304.3L230.1 297.2L214.6 220.2M211.6 200.9L207.1 151.0M149.3 108.0L138.5 107.6M247.5 303.9L234.0 296.8L219.3 242.0M212.7 208.6L210.1 185.9M153.7 103.7L143.3 100.0M251.4 303.5L237.9 296.3L224.5 260.1M158.1 99.4L148.1 92.3M255.4 303.0L241.8 295.9L230.1 274.4M162.5 95.2L152.9 84.7M259.3 302.6L245.8 295.5L222.2 253.4L213.6 207.4L209.0 172.5M163.0 92.6L156.7 85.3M263.2 302.1L249.7 295.0L226.0 253.9L217.0 210.8L209.4 156.6M163.7 89.7L160.5 85.9M267.1 301.7L253.6 294.6L229.8 254.4L220.4 214.2L212.6 161.7L209.7 156.2M271.0 301.2L257.5 294.1L233.6 254.9L223.9 217.6L215.9 166.8L207.3 148.9M274.9 300.8L261.4 293.7L237.4 255.5L227.3 221.0L219.1 171.8L207.9 146.3M278.8 300.3L265.3 293.2L241.2 256.0L230.7 224.4L222.3 176.9L208.6 142.8M282.7 299.9L269.2 292.8L245.1 255.8L234.5 225.1L225.9 178.6L207.0 128.2M286.7 299.5L273.1 292.3L249.0 255.6L238.3 225.9L229.6 180.4L208.4 119.7L205.4 114.8M290.6 299.0L277.1 291.9L252.8 255.4L242.0 226.6L233.2 182.1L212.4 118.4L206.5 107.9M294.5 298.6L281.0 291.5L256.7 255.2L245.8 227.4L236.9 183.8L216.4 117.2L204.8 94.7M298.4 298.1L284.9 291.0L260.6 254.9L249.6 228.2L240.5 185.5L220.4 115.9L197.5 68.3L196.5 69.4M302.3 297.7L288.8 290.6L264.5 254.7L253.3 228.9L244.2 187.2L224.5 114.6L201.9 64.2L194.5 65.7M306.2 297.2L292.7 290.1L268.3 255.0L257.1 229.8L247.7 189.4L228.3 114.8L206.4 59.2L204.3 62.0M310.1 296.8L296.6 289.7L272.1 255.3L260.8 230.7L251.3 191.6L232.1 114.9L210.9 54.2M314.0 296.4L300.5 289.2L276.0 255.6L264.6 231.5L254.9 193.8L236.0 115.1L215.4 49.2M317.9 295.9L304.4 288.8L279.8 255.8L268.3 232.4L258.5 196.0L239.8 115.2L219.9 44.2M321.9 295.5L308.4 288.3L283.6 256.1L272.1 233.3L262.1 198.2L243.7 115.4L224.4 39.2M325.8 295.0L312.3 287.9L287.4 256.4L275.8 234.2L265.7 200.4L247.5 115.5L228.9 34.2M329.7 294.6L316.2 287.5L291.3 256.5L279.5 235.6L268.9 205.1L250.3 124.1L236.0 66.1M333.6 294.1L320.1 287.0L295.1 256.6L283.2 237.1L272.2 209.8L253.1 132.7L240.8 86.8M337.5 293.7L324.0 286.6L299.0 256.7L286.8 238.6L275.5 214.5L255.9 141.2L245.8 106.5M341.4 293.2L327.9 286.1L302.8 256.8L290.5 240.1L278.7 219.3L258.6 149.8L250.9 125.2M345.3 292.8L331.8 285.7L306.7 256.9L294.2 241.5L282.0 224.0L261.4 158.3L256.1 143.0" fill="none" stroke="#000" stroke-opacity="0.13" stroke-width="0.5"/>
<g stroke="#8a8a8a" stroke-width="1" fill="none"><line x1="212.2" y1="95.1" x2="394.9" y2="74.6" /><line x1="212.2" y1="95.1" x2="76.5" y2="23.4" /><line x1="76.5" y1="23.4" x2="259.7" y2="2.9" /><line x1="259.7" y1="2.9" x2="394.9" y2="74.6" /><line x1="49.3" y1="239.7" x2="76.5" y2="23.4" /><line x1="367.6" y1="290.3" x2="394.9" y2="74.6" /><line x1="184.9" y1="311.0" x2="367.6" y2="290.3" /><line x1="184.9" y1="311.0" x2="49.3" y2="239.7" /></g><g stroke="#303030" stroke-width="0.8" stroke-opacity="0.75"><line x1="184.9" y1="311.0" x2="212.2" y2="95.1" /></g>
<g stroke="#9a9a9a" stroke-width="1" fill="none"><line x1="465.0" y1="240.4" x2="654.9" y2="189.1" /><line x1="792.5" y1="268.2" x2="654.9" y2="189.1" /><line x1="654.9" y1="189.1" x2="660.8" y2="3.1" /></g>
<g fill="currentColor" stroke="currentColor" stroke-width="0.7" stroke-linejoin="round" filter="url(#bl)">
<path color="#1a88dc" d="M637.2 151.6l8.1-1.1-1.3 4.9-8.1 1.3z"/>
<path color="#1a8cdc" d="M629.1 152.7l8.1-1.1-1.3 5.1-8.1 1.2z"/>
<path color="#1a91dc" d="M621 153.8l8.1-1.1-1.3 5.2-8.1 1.3z"/>
<path color="#1aa4dc" d="M638.6 146.5l8.1-.9-1.4 4.9-8.1 1.1z"/>
<path color="#1aaadc" d="M630.5 147.5l8.1-1-1.4 5.1-8.1 1.1z"/>
<path color="#1ab0dc" d="M622.4 148.4l8.1-.9-1.4 5.2-8.1 1.1z"/>
<path color="#1abedc" d="M639.9 141.4l8.1-.8-1.3 5-8.1 .9z"/>
<path color="#1ac1dc" d="M631.8 142.2l8.1-.8-1.3 5.1-8.1 1z"/>
<path color="#1ac5dc" d="M623.7 143l8.1-.8-1.3 5.3-8.1 .9z"/>
<path color="#1accdc" d="M641.2 136.4l8.1-.7-1.3 4.9-8.1 .8z"/>
<path color="#1ad0dc" d="M633.1 137l8.1-.6-1.3 5-8.1 .8z"/>
<path color="#1ad4dc" d="M625.1 137.7l8-.7-1.3 5.2-8.1 .8z"/>
<path color="#1ad5d7" d="M642.6 131.3l8-.5-1.3 4.9-8.1 .7z"/>
<path color="#1ad5cf" d="M634.5 131.8l8.1-.5-1.4 5.1-8.1 .6z"/>
<path color="#1ad5c7" d="M626.4 132.3l8.1-.5-1.4 5.2-8 .7z"/>
<path color="#1ad5bd" d="M643.9 126.2l8.1-.3-1.4 4.9-8 .5z"/>
<path color="#1ad5b5" d="M635.8 126.5l8.1-.3-1.3 5.1-8.1 .5z"/>
<path color="#1ad5ac" d="M627.7 126.9l8.1-.4-1.3 5.3-8.1 .5z"/>
<path color="#1a9adc" d="M617.8 151.6l2.9 3.6-1 4-2.9-3.2z"/>
<path color="#1ab1dc" d="M614.9 148.1l2.9 3.5-1 4.4-2.9-3.2z"/>
<path color="#1ac0dc" d="M612 144.5l2.9 3.6-1 4.7-3-3.2z"/>
<path color="#1acbdc" d="M609.1 141l2.9 3.5-1.1 5.1-2.9-3.1z"/>
<path color="#1ad5dc" d="M606.2 137.5l2.9 3.5-1.1 5.5-2.9-3.2z"/>
<path color="#1ad5cd" d="M603.2 133.9l3 3.6-1.1 5.8-2.9-3.2z"/>
<path color="#1ad5b9" d="M600.3 130.4l2.9 3.5-1 6.2-3-3.2z"/>
<path color="#1ad5a5" d="M597.4 126.8l2.9 3.6-1.1 6.5-2.9-3.2z"/>
<path color="#1ab4dc" d="M618.8 147.2l2.9 3.9-1 4.1-2.9-3.6z"/>
<path color="#1ac2dc" d="M615.9 143.3l2.9 3.9-1 4.4-2.9-3.5z"/>
<path color="#1acedc" d="M613 139.4l2.9 3.9-1 4.8-2.9-3.6z"/>
<path color="#1ad5d8" d="M610.1 135.5l2.9 3.9-1 5.1-2.9-3.5z"/>
<path color="#1ad5c3" d="M607.2 131.6l2.9 3.9-1 5.5-2.9-3.5z"/>
<path color="#1ad5ae" d="M604.3 127.7l2.9 3.9-1 5.9-3-3.6z"/>
<path color="#1ad598" d="M601.4 123.8l2.9 3.9-1.1 6.2-2.9-3.5z"/>
<path color="#1ad580" d="M598.5 119.9l2.9 3.9-1.1 6.6-2.9-3.6z"/>
<path color="#1ac3dc" d="M619.8 142.8l2.9 4.3-1 4-2.9-3.9z"/>
<path color="#1ad0dc" d="M616.9 138.6l2.9 4.2-1 4.4-2.9-3.9z"/>
<path color="#1ad5d5" d="M614 134.3l2.9 4.3-1 4.7-2.9-3.9z"/>
<path color="#1ad5bd" d="M611.2 130.1l2.8 4.2-1 5.1-2.9-3.9z"/>
<path color="#1ad5a6" d="M608.3 125.8l2.9 4.3-1.1 5.4-2.9-3.9z"/>
<path color="#1ad58f" d="M605.4 121.6l2.9 4.2-1.1 5.8-2.9-3.9z"/>
<path color="#1ad572" d="M602.5 117.3l2.9 4.3-1.1 6.1-2.9-3.9z"/>
<path color="#1ad555" d="M599.6 113l2.9 4.3-1.1 6.5-2.9-3.9z"/>
<path color="#1acfdc" d="M620.8 138.4l2.9 4.6-1 4.1-2.9-4.3z"/>
<path color="#1ad5d4" d="M618 133.8l2.8 4.6-1 4.4-2.9-4.2z"/>
<path color="#1ad5bb" d="M615.1 129.2l2.9 4.6-1.1 4.8-2.9-4.3z"/>
<path color="#1ad5a2" d="M612.2 124.6l2.9 4.6-1.1 5.1-2.8-4.2z"/>
<path color="#1ad588" d="M609.3 120l2.9 4.6-1 5.5-2.9-4.3z"/>
<path color="#1ad569" d="M606.5 115.4l2.8 4.6-1 5.8-2.9-4.2z"/>
<path color="#1ad54a" d="M603.6 110.8l2.9 4.6-1.1 6.2-2.9-4.3z"/>
<path color="#1ad538" d="M600.7 106.2l2.9 4.6-1.1 6.5-2.9-4.3z"/>
<path color="#1ad5d6" d="M621.9 134l2.8 5-1 4-2.9-4.6z"/>
<path color="#1ad5bc" d="M619 129.1l2.9 4.9-1.1 4.4-2.8-4.6z"/>
<path color="#1ad5a1" d="M616.1 124.1l2.9 5-1 4.7-2.9-4.6z"/>
<path color="#1ad585" d="M613.3 119.1l2.8 5-1 5.1-2.9-4.6z"/>
<path color="#1ad564" d="M610.4 114.2l2.9 4.9-1.1 5.5-2.9-4.6z"/>
<path color="#1ad543" d="M607.5 109.2l2.9 5-1.1 5.8-2.8-4.6z"/>
<path color="#1ad533" d="M604.7 104.2l2.8 5-1 6.2-2.9-4.6z"/>
<path color="#1bd525" d="M601.8 99.3l2.9 4.9-1.1 6.6-2.9-4.6z"/>
<path color="#1ad5c0" d="M622.9 129.6l2.8 5.4-1 4-2.8-5z"/>
<path color="#1ad5a4" d="M620 124.3l2.9 5.3-1 4.4-2.9-4.9z"/>
<path color="#1ad586" d="M617.2 119l2.8 5.3-1 4.8-2.9-5z"/>
<path color="#1ad563" d="M614.3 113.7l2.9 5.3-1.1 5.1-2.8-5z"/>
<path color="#1ad542" d="M611.4 108.3l2.9 5.4-1 5.4-2.9-4.9z"/>
<path color="#1ad531" d="M608.6 103l2.8 5.3-1 5.9-2.9-5z"/>
<path color="#1fd525" d="M605.7 97.7l2.9 5.3-1.1 6.2-2.8-5z"/>
<path color="#2fd525" d="M602.9 92.4l2.8 5.3-1 6.5-2.9-4.9z"/>
<path color="#1ad5aa" d="M623.9 125.2l2.8 5.7-1 4.1-2.8-5.4z"/>
<path color="#1ad58b" d="M621 119.6l2.9 5.6-1 4.4-2.9-5.3z"/>
<path color="#1ad566" d="M618.2 113.9l2.8 5.7-1 4.7-2.8-5.3z"/>
<path color="#1ad542" d="M615.3 108.2l2.9 5.7-1 5.1-2.9-5.3z"/>
<path color="#1ad530" d="M612.5 102.5l2.8 5.7-1 5.5-2.9-5.4z"/>
<path color="#20d525" d="M609.7 96.8l2.8 5.7-1.1 5.8-2.8-5.3z"/>
<path color="#33d525" d="M606.8 91.2l2.9 5.6-1.1 6.2-2.9-5.3z"/>
<path color="#49d525" d="M604 85.5l2.8 5.7-1.1 6.5-2.8-5.3z"/>
<path color="#1ad596" d="M624.9 120.8l2.8 6.1-1 4-2.8-5.7z"/>
<path color="#1ad574" d="M622.1 114.8l2.8 6-1 4.4-2.9-5.6z"/>
<path color="#1ad54d" d="M619.2 108.8l2.9 6-1.1 4.8-2.8-5.7z"/>
<path color="#1ad535" d="M616.4 102.7l2.8 6.1-1 5.1-2.9-5.7z"/>
<path color="#1ed525" d="M613.6 96.7l2.8 6-1.1 5.5-2.8-5.7z"/>
<path color="#33d525" d="M610.7 90.7l2.9 6-1.1 5.8-2.8-5.7z"/>
<path color="#4bd525" d="M607.9 84.6l2.8 6.1-1 6.1-2.9-5.6z"/>
<path color="#63d525" d="M605.1 78.6l2.8 6-1.1 6.6-2.8-5.7z"/>
<path color="#1ad59b" d="M593.1 127.8l4 1.3-.8 4.6-4-1.1z"/>
<path color="#1ad590" d="M589.1 126.4l4 1.4-.8 4.8-4-1.2z"/>
<path color="#1ad583" d="M585.1 125.1l4 1.3-.8 5-4-1.1z"/>
<path color="#1ad575" d="M581.1 123.8l4 1.3-.8 5.2-4-1.2z"/>
<path color="#1ad567" d="M577.1 122.4l4 1.4-.8 5.3-3.9-1.1z"/>
<path color="#1ad559" d="M573.1 121.1l4 1.3-.7 5.6-4-1.2z"/>
<path color="#1ad581" d="M593.8 123l4 1.5-.7 4.6-4-1.3z"/>
<path color="#1ad572" d="M589.8 121.5l4 1.5-.7 4.8-4-1.4z"/>
<path color="#1ad563" d="M585.8 120l4 1.5-.7 4.9-4-1.3z"/>
<path color="#1ad554" d="M581.9 118.4l3.9 1.6-.7 5.1-4-1.3z"/>
<path color="#1ad545" d="M577.9 116.9l4 1.5-.8 5.4-4-1.4z"/>
<path color="#1ad53d" d="M573.9 115.4l4 1.5-.8 5.5-4-1.3z"/>
<path color="#1ad563" d="M594.5 118.2l4 1.7-.7 4.6-4-1.5z"/>
<path color="#1ad553" d="M590.6 116.5l3.9 1.7-.7 4.8-4-1.5z"/>
<path color="#1ad543" d="M586.6 114.8l4 1.7-.8 5-4-1.5z"/>
<path color="#1ad53c" d="M582.6 113.1l4 1.7-.8 5.2-3.9-1.6z"/>
<path color="#1ad534" d="M578.6 111.4l4 1.7-.7 5.3-4-1.5z"/>
<path color="#1ad52d" d="M574.7 109.7l3.9 1.7-.7 5.5-4-1.5z"/>
<path color="#1ad546" d="M595.3 113.4l3.9 1.9-.7 4.6-4-1.7z"/>
<path color="#1ad53c" d="M591.3 111.5l4 1.9-.8 4.8-3.9-1.7z"/>
<path color="#1ad534" d="M587.3 109.6l4 1.9-.7 5-4-1.7z"/>
<path color="#1ad52c" d="M583.4 107.8l3.9 1.8-.7 5.2-4-1.7z"/>
<path color="#1bd525" d="M579.4 105.9l4 1.9-.8 5.3-4-1.7z"/>
<path color="#23d525" d="M575.4 104l4 1.9-.8 5.5-3.9-1.7z"/>
<path color="#1ad536" d="M596 108.7l4 2-.8 4.6-3.9-1.9z"/>
<path color="#1ad52e" d="M592 106.6l4 2.1-.7 4.7-4-1.9z"/>
<path color="#1ad525" d="M588.1 104.5l3.9 2.1-.7 4.9-4-1.9z"/>
<path color="#22d525" d="M584.1 102.4l4 2.1-.8 5.1-3.9-1.8z"/>
<path color="#2bd525" d="M580.1 100.3l4 2.1-.7 5.4-4-1.9z"/>
<path color="#35d525" d="M576.2 98.2l3.9 2.1-.7 5.6-4-1.9z"/>
<path color="#1ad528" d="M596.7 103.9l4 2.3-.7 4.5-4-2z"/>
<path color="#20d525" d="M592.8 101.6l3.9 2.3-.7 4.8-4-2.1z"/>
<path color="#29d525" d="M588.8 99.3l4 2.3-.8 5-3.9-2.1z"/>
<path color="#33d525" d="M584.9 97.1l3.9 2.2-.7 5.2-4-2.1z"/>
<path color="#3ed525" d="M580.9 94.8l4 2.3-.8 5.3-4-2.1z"/>
<path color="#4ad525" d="M576.9 92.5l4 2.3-.8 5.5-3.9-2.1z"/>
<path color="#25d525" d="M597.5 99.1l3.9 2.5-.7 4.6-4-2.3z"/>
<path color="#2ed525" d="M593.5 96.6l4 2.5-.8 4.8-3.9-2.3z"/>
<path color="#3ad525" d="M589.6 94.2l3.9 2.4-.7 5-4-2.3z"/>
<path color="#46d525" d="M585.6 91.7l4 2.5-.8 5.1-3.9-2.2z"/>
<path color="#53d525" d="M581.7 89.3l3.9 2.4-.7 5.4-4-2.3z"/>
<path color="#5fd525" d="M577.7 86.8l4 2.5-.8 5.5-4-2.3z"/>
<path color="#33d525" d="M598.2 94.3l4 2.7-.8 4.6-3.9-2.5z"/>
<path color="#40d525" d="M594.3 91.7l3.9 2.6-.7 4.8-4-2.5z"/>
<path color="#4dd525" d="M590.3 89l4 2.7-.8 4.9-3.9-2.4z"/>
<path color="#5ad525" d="M586.4 86.4l3.9 2.6-.7 5.2-4-2.5z"/>
<path color="#67d525" d="M582.4 83.7l4 2.7-.8 5.3-3.9-2.4z"/>
<path color="#74d525" d="M578.5 81.1l3.9 2.6-.7 5.6-4-2.5z"/>
<path color="#45d525" d="M598.9 89.5l4 2.9-.7 4.6-4-2.7z"/>
<path color="#53d525" d="M595 86.7l3.9 2.8-.7 4.8-3.9-2.6z"/>
<path color="#60d525" d="M591.1 83.9l3.9 2.8-.7 5-4-2.7z"/>
<path color="#6ed525" d="M587.1 81l4 2.9-.8 5.1-3.9-2.6z"/>
<path color="#7cd525" d="M583.2 78.2l3.9 2.8-.7 5.4-4-2.7z"/>
<path color="#8cd525" d="M579.2 75.4l4 2.8-.8 5.5-3.9-2.6z"/>
<path color="#57d525" d="M599.7 84.8l3.9 3-.7 4.6-4-2.9z"/>
<path color="#65d525" d="M595.7 81.7l4 3.1-.8 4.7-3.9-2.8z"/>
<path color="#73d525" d="M591.8 78.7l3.9 3-.7 5-3.9-2.8z"/>
<path color="#82d525" d="M587.9 75.7l3.9 3-.7 5.2-4-2.9z"/>
<path color="#97d525" d="M583.9 72.7l4 3-.8 5.3-3.9-2.8z"/>
<path color="#aed525" d="M580 69.7l3.9 3-.7 5.5-4-2.8z"/>
<path color="#69d525" d="M600.4 80l3.9 3.2-.7 4.6-3.9-3z"/>
<path color="#78d525" d="M596.5 76.8l3.9 3.2-.7 4.8-4-3.1z"/>
<path color="#87d525" d="M592.6 73.6l3.9 3.2-.8 4.9-3.9-3z"/>
<path color="#a0d525" d="M588.6 70.4l4 3.2-.8 5.1-3.9-3z"/>
<path color="#b8d525" d="M584.7 67.2l3.9 3.2-.7 5.3-4-3z"/>
<path color="#d0d525" d="M580.8 63.9l3.9 3.3-.8 5.5-3.9-3z"/>
<path color="#7bd525" d="M601.1 75.2l4 3.4-.8 4.6-3.9-3.2z"/>
<path color="#8fd525" d="M597.2 71.8l3.9 3.4-.7 4.8-3.9-3.2z"/>
<path color="#aad525" d="M593.3 68.4l3.9 3.4-.7 5-3.9-3.2z"/>
<path color="#c3d525" d="M589.4 65l3.9 3.4-.7 5.2-4-3.2z"/>
<path color="#d2cb25" d="M585.5 61.6l3.9 3.4-.8 5.4-3.9-3.2z"/>
<path color="#d2b425" d="M581.5 58.2l4 3.4-.8 5.6-3.9-3.3z"/>
<path color="#1ad54e" d="M565 121.6l8.1-.5-.7 5.7-8.1 .7z"/>
<path color="#1ad544" d="M557 122.1l8-.5-.7 5.9-8.1 .6z"/>
<path color="#1ad53f" d="M548.9 122.7l8.1-.6-.8 6-8.1 .7z"/>
<path color="#1ad537" d="M565.8 115.8l8.1-.4-.8 5.7-8.1 .5z"/>
<path color="#1ad532" d="M557.7 116.2l8.1-.4-.8 5.8-8 .5z"/>
<path color="#1ad52d" d="M549.7 116.6l8-.4-.7 5.9-8.1 .6z"/>
<path color="#1ad526" d="M566.6 109.9l8.1-.2-.8 5.7-8.1 .4z"/>
<path color="#1ed525" d="M558.5 110.2l8.1-.3-.8 5.9-8.1 .4z"/>
<path color="#23d525" d="M550.4 110.5l8.1-.3-.8 6-8 .4z"/>
<path color="#2ad525" d="M567.4 104.1l8-.1-.7 5.7-8.1 .2z"/>
<path color="#30d525" d="M559.3 104.2l8.1-.1-.8 5.8-8.1 .3z"/>
<path color="#37d525" d="M551.2 104.4l8.1-.2-.8 6-8.1 .3z"/>
<path color="#3ed525" d="M568.1 98.2l8.1 0-.8 5.8-8 .1z"/>
<path color="#46d525" d="M560.1 98.2l8 0-.7 5.9-8.1 .1z"/>
<path color="#4dd525" d="M552 98.3l8.1-.1-.8 6-8.1 .2z"/>
<path color="#54d525" d="M568.9 92.4l8 .1-.7 5.7-8.1 0z"/>
<path color="#5cd525" d="M560.8 92.3l8.1 .1-.8 5.8-8 0z"/>
<path color="#64d525" d="M552.8 92.1l8 .2-.7 5.9-8.1 .1z"/>
<path color="#69d525" d="M569.7 86.6l8 .2-.8 5.7-8-.1z"/>
<path color="#72d525" d="M561.6 86.3l8.1 .3-.8 5.8-8.1-.1z"/>
<path color="#7ad525" d="M553.6 86l8 .3-.8 6-8-.2z"/>
<path color="#7fd525" d="M570.4 80.7l8.1 .4-.8 5.7-8-.2z"/>
<path color="#8ad525" d="M562.4 80.3l8 .4-.7 5.9-8.1-.3z"/>
<path color="#98d525" d="M554.3 79.9l8.1 .4-.8 6-8-.3z"/>
<path color="#9ed525" d="M571.2 74.9l8 .5-.7 5.7-8.1-.4z"/>
<path color="#add525" d="M563.2 74.4l8 .5-.8 5.8-8-.4z"/>
<path color="#bdd525" d="M555.1 73.8l8.1 .6-.8 5.9-8.1-.4z"/>
<path color="#c1d525" d="M572 69l8 .7-.8 5.7-8-.5z"/>
<path color="#d1d525" d="M563.9 68.4l8.1 .6-.8 5.9-8-.5z"/>
<path color="#d2c625" d="M555.9 67.7l8 .7-.7 6-8.1-.6z"/>
<path color="#d2c225" d="M572.7 63.2l8.1 .7-.8 5.8-8-.7z"/>
<path color="#d2b225" d="M564.7 62.4l8 .8-.7 5.8-8.1-.6z"/>
<path color="#d2a325" d="M556.7 61.6l8 .8-.8 6-8-.7z"/>
<path color="#d2a125" d="M573.5 57.3l8 .9-.7 5.7-8.1-.7z"/>
<path color="#d29125" d="M565.5 56.4l8 .9-.8 5.9-8-.8z"/>
<path color="#d28225" d="M557.4 55.5l8.1 .9-.8 6-8-.8z"/>
<path color="#1ad53b" d="M540.8 123.2l8.1-.5-.8 6.1-8.1 .6z"/>
<path color="#1ad536" d="M532.7 123.7l8.1-.5-.8 6.2-8 .7z"/>
<path color="#1ad532" d="M524.7 124.2l8-.5-.7 6.4-8.1 .6z"/>
<path color="#1ad529" d="M541.6 117l8.1-.4-.8 6.1-8.1 .5z"/>
<path color="#1bd525" d="M533.5 117.3l8.1-.3-.8 6.2-8.1 .5z"/>
<path color="#20d525" d="M525.4 117.7l8.1-.4-.8 6.4-8 .5z"/>
<path color="#29d525" d="M542.4 110.7l8-.2-.7 6.1-8.1 .4z"/>
<path color="#2ed525" d="M534.3 111l8.1-.3-.8 6.3-8.1 .3z"/>
<path color="#34d525" d="M526.2 111.2l8.1-.2-.8 6.3-8.1 .4z"/>
<path color="#3ed525" d="M543.2 104.5l8-.1-.8 6.1-8 .2z"/>
<path color="#45d525" d="M535.1 104.6l8.1-.1-.8 6.2-8.1 .3z"/>
<path color="#4cd525" d="M527 104.8l8.1-.2-.8 6.4-8.1 .2z"/>
<path color="#55d525" d="M543.9 98.3l8.1 0-.8 6.1-8 .1z"/>
<path color="#5cd525" d="M535.9 98.3l8 0-.7 6.2-8.1 .1z"/>
<path color="#64d525" d="M527.8 98.3l8.1 0-.8 6.3-8.1 .2z"/>
<path color="#6cd525" d="M544.7 92l8.1 .1-.8 6.2-8.1 0z"/>
<path color="#74d525" d="M536.7 91.9l8 .1-.8 6.3-8 0z"/>
<path color="#7cd525" d="M528.6 91.8l8.1 .1-.8 6.4-8.1 0z"/>
<path color="#83d525" d="M545.5 85.8l8.1 .2-.8 6.1-8.1-.1z"/>
<path color="#8fd525" d="M537.4 85.5l8.1 .3-.8 6.2-8-.1z"/>
<path color="#9dd525" d="M529.4 85.3l8 .2-.7 6.4-8.1-.1z"/>
<path color="#a7d525" d="M546.3 79.6l8 .3-.7 6.1-8.1-.2z"/>
<path color="#b5d525" d="M538.2 79.2l8.1 .4-.8 6.2-8.1-.3z"/>
<path color="#c4d525" d="M530.2 78.8l8 .4-.8 6.3-8-.2z"/>
<path color="#ccd525" d="M547.1 73.3l8 .5-.8 6.1-8-.3z"/>
<path color="#d2cc25" d="M539 72.8l8.1 .5-.8 6.3-8.1-.4z"/>
<path color="#d2bd25" d="M531 72.3l8 .5-.8 6.4-8-.4z"/>
<path color="#d2b625" d="M547.8 67.1l8.1 .6-.8 6.1-8-.5z"/>
<path color="#d2a725" d="M539.8 66.5l8 .6-.7 6.2-8.1-.5z"/>
<path color="#d29925" d="M531.8 65.8l8 .7-.8 6.3-8-.5z"/>
<path color="#d29425" d="M548.6 60.9l8.1 .7-.8 6.1-8.1-.6z"/>
<path color="#d28525" d="M540.6 60.1l8 .8-.8 6.2-8-.6z"/>
<path color="#d27625" d="M532.6 59.3l8 .8-.8 6.4-8-.7z"/>
<path color="#d27225" d="M549.4 54.6l8 .9-.7 6.1-8.1-.7z"/>
<path color="#d26325" d="M541.4 53.7l8 .9-.8 6.3-8-.8z"/>
<path color="#d25525" d="M533.3 52.8l8.1 .9-.8 6.4-8-.8z"/>
<path color="#1ad533" d="M523.6 127.3l1.1-3.1-.8 6.5-1.1 2.9z"/>
<path color="#1ad53b" d="M522.4 130.4l1.2-3.1-.8 6.3-1.1 2.9z"/>
<path color="#1ad542" d="M521.3 133.4l1.1-3-.7 6.1-1.1 2.8z"/>
<path color="#1ad551" d="M520.2 136.5l1.1-3.1-.7 5.9-1.1 2.9z"/>
<path color="#1ad561" d="M519.1 139.5l1.1-3-.7 5.7-1.1 2.9z"/>
<path color="#1ad571" d="M518 142.6l1.1-3.1-.7 5.6-1.1 2.8z"/>
<path color="#1ad580" d="M516.9 145.7l1.1-3.1-.7 5.3-1.1 2.9z"/>
<path color="#1ad590" d="M515.8 148.7l1.1-3-.7 5.1-1.1 2.9z"/>
<path color="#1ad59d" d="M514.7 151.8l1.1-3.1-.7 5-1.1 2.9z"/>
<path color="#1ad5aa" d="M513.6 154.9l1.1-3.1-.7 4.8-1.1 2.8z"/>
<path color="#1ad5b6" d="M512.5 157.9l1.1-3-.7 4.5-1.1 2.9z"/>
<path color="#1ad5c3" d="M511.4 161l1.1-3.1-.7 4.4-1.1 2.9z"/>
<path color="#1ad5d0" d="M510.3 164.1l1.1-3.1-.7 4.2-1.1 2.8z"/>
<path color="#1ad5da" d="M509.2 167.1l1.1-3-.7 3.9-1.1 2.9z"/>
<path color="#1ad1dc" d="M508.1 170.2l1.1-3.1-.7 3.8-1.1 2.9z"/>
<path color="#1acadc" d="M507 173.3l1.1-3.1-.7 3.6-1.1 2.8z"/>
<path color="#1ac3dc" d="M505.9 176.3l1.1-3-.7 3.3-1.1 2.9z"/>
<path color="#1abcdc" d="M504.8 179.4l1.1-3.1-.7 3.2-1.1 2.9z"/>
<path color="#1ab0dc" d="M503.7 182.4l1.1-3-.7 3-1.1 2.9z"/>
<path color="#1aa2dc" d="M502.5 185.5l1.2-3.1-.7 2.9-1.1 2.8z"/>
<path color="#1a93dc" d="M501.4 188.6l1.1-3.1-.6 2.6-1.1 2.9z"/>
<path color="#1a87dc" d="M500.3 191.6l1.1-3-.6 2.4-1.1 2.9z"/>
<path color="#1a7cdc" d="M499.2 194.7l1.1-3.1-.6 2.3-1.1 2.8z"/>
<path color="#1a70dc" d="M498.1 197.8l1.1-3.1-.6 2-1.1 2.9z"/>
<path color="#1fd525" d="M524.3 121l1.1-3.3-.7 6.5-1.1 3.1z"/>
<path color="#1ad529" d="M523.2 124.2l1.1-3.2-.7 6.3-1.2 3.1z"/>
<path color="#1ad531" d="M522.1 127.5l1.1-3.3-.8 6.2-1.1 3z"/>
<path color="#1ad539" d="M521 130.8l1.1-3.3-.8 5.9-1.1 3.1z"/>
<path color="#1ad541" d="M519.9 134l1.1-3.2-.8 5.7-1.1 3z"/>
<path color="#1ad54f" d="M518.8 137.3l1.1-3.3-.8 5.5-1.1 3.1z"/>
<path color="#1ad560" d="M517.7 140.5l1.1-3.2-.8 5.3-1.1 3.1z"/>
<path color="#1ad571" d="M516.6 143.8l1.1-3.3-.8 5.2-1.1 3z"/>
<path color="#1ad582" d="M515.4 147.1l1.2-3.3-.8 4.9-1.1 3.1z"/>
<path color="#1ad592" d="M514.3 150.3l1.1-3.2-.7 4.7-1.1 3.1z"/>
<path color="#1ad5a0" d="M513.2 153.6l1.1-3.3-.7 4.6-1.1 3z"/>
<path color="#1ad5ad" d="M512.1 156.8l1.1-3.2-.7 4.3-1.1 3.1z"/>
<path color="#1ad5bb" d="M511 160.1l1.1-3.3-.7 4.2-1.1 3.1z"/>
<path color="#1ad5c9" d="M509.9 163.3l1.1-3.2-.7 4-1.1 3z"/>
<path color="#1ad5d6" d="M508.8 166.6l1.1-3.3-.7 3.8-1.1 3.1z"/>
<path color="#1ad4dc" d="M507.7 169.9l1.1-3.3-.7 3.6-1.1 3.1z"/>
<path color="#1accdc" d="M506.5 173.1l1.2-3.2-.7 3.4-1.1 3z"/>
<path color="#1ac5dc" d="M505.4 176.4l1.1-3.3-.6 3.2-1.1 3.1z"/>
<path color="#1abedc" d="M504.3 179.6l1.1-3.2-.6 3-1.1 3z"/>
<path color="#1ab2dc" d="M503.2 182.9l1.1-3.3-.6 2.8-1.2 3.1z"/>
<path color="#1aa3dc" d="M502.1 186.2l1.1-3.3-.7 2.6-1.1 3.1z"/>
<path color="#1a93dc" d="M501 189.4l1.1-3.2-.7 2.4-1.1 3z"/>
<path color="#1a86dc" d="M499.9 192.7l1.1-3.3-.7 2.2-1.1 3.1z"/>
<path color="#1a7adc" d="M498.8 195.9l1.1-3.2-.7 2-1.1 3.1z"/>
<path color="#32d525" d="M525.1 114.7l1.1-3.5-.8 6.5-1.1 3.3z"/>
<path color="#29d525" d="M524 118.1l1.1-3.4-.8 6.3-1.1 3.2z"/>
<path color="#20d525" d="M522.9 121.6l1.1-3.5-.8 6.1-1.1 3.3z"/>
<path color="#1ad527" d="M521.8 125l1.1-3.4-.8 5.9-1.1 3.3z"/>
<path color="#1ad530" d="M520.6 128.5l1.2-3.5-.8 5.8-1.1 3.2z"/>
<path color="#1ad539" d="M519.5 132l1.1-3.5-.7 5.5-1.1 3.3z"/>
<path color="#1ad541" d="M518.4 135.4l1.1-3.4-.7 5.3-1.1 3.2z"/>
<path color="#1ad551" d="M517.3 138.9l1.1-3.5-.7 5.1-1.1 3.3z"/>
<path color="#1ad563" d="M516.2 142.3l1.1-3.4-.7 4.9-1.2 3.3z"/>
<path color="#1ad575" d="M515.1 145.8l1.1-3.5-.8 4.8-1.1 3.2z"/>
<path color="#1ad587" d="M513.9 149.2l1.2-3.4-.8 4.5-1.1 3.3z"/>
<path color="#1ad598" d="M512.8 152.7l1.1-3.5-.7 4.4-1.1 3.2z"/>
<path color="#1ad5a6" d="M511.7 156.1l1.1-3.4-.7 4.1-1.1 3.3z"/>
<path color="#1ad5b5" d="M510.6 159.6l1.1-3.5-.7 4-1.1 3.2z"/>
<path color="#1ad5c3" d="M509.5 163l1.1-3.4-.7 3.7-1.1 3.3z"/>
<path color="#1ad5d2" d="M508.3 166.5l1.2-3.5-.7 3.6-1.1 3.3z"/>
<path color="#1ad5dc" d="M507.2 169.9l1.1-3.4-.6 3.4-1.2 3.2z"/>
<path color="#1acedc" d="M506.1 173.4l1.1-3.5-.7 3.2-1.1 3.3z"/>
<path color="#1ac6dc" d="M505 176.8l1.1-3.4-.7 3-1.1 3.2z"/>
<path color="#1abedc" d="M503.9 180.3l1.1-3.5-.7 2.8-1.1 3.3z"/>
<path color="#1ab2dc" d="M502.8 183.7l1.1-3.4-.7 2.6-1.1 3.3z"/>
<path color="#1aa1dc" d="M501.6 187.2l1.2-3.5-.7 2.5-1.1 3.2z"/>
<path color="#1a91dc" d="M500.5 190.6l1.1-3.4-.6 2.2-1.1 3.3z"/>
<path color="#1289e8" d="M499.4 194.1l1.1-3.5-.6 2.1-1.1 3.2z"/>
<path color="#4ad525" d="M525.9 108.4l1.1-3.6-.8 6.4-1.1 3.5z"/>
<path color="#3ed525" d="M524.8 112l1.1-3.6-.8 6.3-1.1 3.4z"/>
<path color="#32d525" d="M523.7 115.7l1.1-3.7-.8 6.1-1.1 3.5z"/>
<path color="#29d525" d="M522.5 119.3l1.2-3.6-.8 5.9-1.1 3.4z"/>
<path color="#20d525" d="M521.4 123l1.1-3.7-.7 5.7-1.2 3.5z"/>
<path color="#1ad529" d="M520.3 126.6l1.1-3.6-.8 5.5-1.1 3.5z"/>
<path color="#1ad532" d="M519.2 130.3l1.1-3.7-.8 5.4-1.1 3.4z"/>
<path color="#1ad53b" d="M518 133.9l1.2-3.6-.8 5.1-1.1 3.5z"/>
<path color="#1ad545" d="M516.9 137.6l1.1-3.7-.7 5-1.1 3.4z"/>
<path color="#1ad558" d="M515.8 141.2l1.1-3.6-.7 4.7-1.1 3.5z"/>
<path color="#1ad56b" d="M514.7 144.9l1.1-3.7-.7 4.6-1.2 3.4z"/>
<path color="#1ad57f" d="M513.5 148.5l1.2-3.6-.8 4.3-1.1 3.5z"/>
<path color="#1ad591" d="M512.4 152.1l1.1-3.6-.7 4.2-1.1 3.4z"/>
<path color="#1ad5a1" d="M511.3 155.8l1.1-3.7-.7 4-1.1 3.5z"/>
<path color="#1ad5b0" d="M510.2 159.4l1.1-3.6-.7 3.8-1.1 3.4z"/>
<path color="#1ad5c0" d="M509 163.1l1.2-3.7-.7 3.6-1.2 3.5z"/>
<path color="#1ad5cf" d="M507.9 166.7l1.1-3.6-.7 3.4-1.1 3.4z"/>
<path color="#1ad5db" d="M506.8 170.4l1.1-3.7-.7 3.2-1.1 3.5z"/>
<path color="#1acedc" d="M505.7 174l1.1-3.6-.7 3-1.1 3.4z"/>
<path color="#1ac6dc" d="M504.5 177.7l1.2-3.7-.7 2.8-1.1 3.5z"/>
<path color="#1abddc" d="M503.4 181.3l1.1-3.6-.6 2.6-1.1 3.4z"/>
<path color="#1ab0dc" d="M502.3 185l1.1-3.7-.6 2.4-1.2 3.5z"/>
<path color="#1a9edc" d="M501.2 188.6l1.1-3.6-.7 2.2-1.1 3.4z"/>
<path color="#1295e9" d="M500 192.3l1.2-3.7-.7 2-1.1 3.5z"/>
<path color="#61d525" d="M526.7 102.1l1.1-3.8-.8 6.5-1.1 3.6z"/>
<path color="#55d525" d="M525.6 105.9l1.1-3.8-.8 6.3-1.1 3.6z"/>
<path color="#49d525" d="M524.4 109.8l1.2-3.9-.8 6.1-1.1 3.7z"/>
<path color="#3dd525" d="M523.3 113.6l1.1-3.8-.7 5.9-1.2 3.6z"/>
<path color="#30d525" d="M522.2 117.5l1.1-3.9-.8 5.7-1.1 3.7z"/>
<path color="#26d525" d="M521 121.3l1.2-3.8-.8 5.5-1.1 3.6z"/>
<path color="#1dd525" d="M519.9 125.1l1.1-3.8-.7 5.3-1.1 3.7z"/>
<path color="#1ad52c" d="M518.8 129l1.1-3.9-.7 5.2-1.2 3.6z"/>
<path color="#1ad536" d="M517.6 132.8l1.2-3.8-.8 4.9-1.1 3.7z"/>
<path color="#1ad53f" d="M516.5 136.7l1.1-3.9-.7 4.8-1.1 3.6z"/>
<path color="#1ad54f" d="M515.4 140.5l1.1-3.8-.7 4.5-1.1 3.7z"/>
<path color="#1ad564" d="M514.3 144.3l1.1-3.8-.7 4.4-1.2 3.6z"/>
<path color="#1ad578" d="M513.1 148.2l1.2-3.9-.8 4.2-1.1 3.6z"/>
<path color="#1ad58c" d="M512 152l1.1-3.8-.7 3.9-1.1 3.7z"/>
<path color="#1ad59d" d="M510.9 155.9l1.1-3.9-.7 3.8-1.1 3.6z"/>
<path color="#1ad5ae" d="M509.7 159.7l1.2-3.8-.7 3.5-1.2 3.7z"/>
<path color="#1ad5be" d="M508.6 163.5l1.1-3.8-.7 3.4-1.1 3.6z"/>
<path color="#1ad5cf" d="M507.5 167.4l1.1-3.9-.7 3.2-1.1 3.7z"/>
<path color="#1ad5db" d="M506.3 171.2l1.2-3.8-.7 3-1.1 3.6z"/>
<path color="#1acedc" d="M505.2 175l1.1-3.8-.6 2.8-1.2 3.7z"/>
<path color="#1ac5dc" d="M504.1 178.9l1.1-3.9-.7 2.7-1.1 3.6z"/>
<path color="#1abcdc" d="M502.9 182.7l1.2-3.8-.7 2.4-1.1 3.7z"/>
<path color="#12b7e8" d="M501.8 186.6l1.1-3.9-.6 2.3-1.1 3.6z"/>
<path color="#12a2e9" d="M500.7 190.4l1.1-3.8-.6 2-1.2 3.7z"/>
<path color="#79d525" d="M527.5 95.8l1.1-4-.8 6.5-1.1 3.8z"/>
<path color="#6cd525" d="M526.3 99.8l1.2-4-.8 6.3-1.1 3.8z"/>
<path color="#5fd525" d="M525.2 103.9l1.1-4.1-.7 6.1-1.2 3.9z"/>
<path color="#52d525" d="M524.1 107.9l1.1-4-.8 5.9-1.1 3.8z"/>
<path color="#45d525" d="M522.9 111.9l1.2-4-.8 5.7-1.1 3.9z"/>
<path color="#38d525" d="M521.8 116l1.1-4.1-.7 5.6-1.2 3.8z"/>
<path color="#2cd525" d="M520.7 120l1.1-4-.8 5.3-1.1 3.8z"/>
<path color="#22d525" d="M519.5 124l1.2-4-.8 5.1-1.1 3.9z"/>
<path color="#1ad527" d="M518.4 128.1l1.1-4.1-.7 5-1.2 3.8z"/>
<path color="#1ad531" d="M517.2 132.1l1.2-4-.8 4.7-1.1 3.9z"/>
<path color="#1ad53c" d="M516.1 136.1l1.1-4-.7 4.6-1.1 3.8z"/>
<path color="#1ad549" d="M515 140.2l1.1-4.1-.7 4.4-1.1 3.8z"/>
<path color="#1ad55e" d="M513.8 144.2l1.2-4-.7 4.1-1.2 3.9z"/>
<path color="#1ad574" d="M512.7 148.2l1.1-4-.7 4-1.1 3.8z"/>
<path color="#1ad589" d="M511.6 152.3l1.1-4.1-.7 3.8-1.1 3.9z"/>
<path color="#1ad59c" d="M510.4 156.3l1.2-4-.7 3.6-1.2 3.8z"/>
<path color="#1ad5ad" d="M509.3 160.3l1.1-4-.7 3.4-1.1 3.8z"/>
<path color="#1ad5be" d="M508.1 164.4l1.2-4.1-.7 3.2-1.1 3.9z"/>
<path color="#1ad5d0" d="M507 168.4l1.1-4-.6 3-1.2 3.8z"/>
<path color="#1ad5dc" d="M505.9 172.4l1.1-4-.7 2.8-1.1 3.8z"/>
<path color="#1accdc" d="M504.7 176.5l1.2-4.1-.7 2.6-1.1 3.9z"/>
<path color="#1ac3dc" d="M503.6 180.5l1.1-4-.6 2.4-1.2 3.8z"/>
<path color="#12c7e8" d="M502.5 184.5l1.1-4-.7 2.2-1.1 3.9z"/>
<path color="#12b1ea" d="M501.3 188.6l1.2-4.1-.7 2.1-1.1 3.8z"/>
<path color="#98d525" d="M528.3 89.5l1.1-4.2-.8 6.5-1.1 4z"/>
<path color="#83d525" d="M527.1 93.7l1.2-4.2-.8 6.3-1.2 4z"/>
<path color="#76d525" d="M526 98l1.1-4.3-.8 6.1-1.1 4.1z"/>
<path color="#68d525" d="M524.8 102.2l1.2-4.2-.8 5.9-1.1 4z"/>
<path color="#5ad525" d="M523.7 106.4l1.1-4.2-.7 5.7-1.2 4z"/>
<path color="#4dd525" d="M522.5 110.6l1.2-4.2-.8 5.5-1.1 4.1z"/>
<path color="#3fd525" d="M521.4 114.9l1.1-4.3-.7 5.4-1.1 4z"/>
<path color="#31d525" d="M520.3 119.1l1.1-4.2-.7 5.1-1.2 4z"/>
<path color="#26d525" d="M519.1 123.3l1.2-4.2-.8 4.9-1.1 4.1z"/>
<path color="#1bd525" d="M518 127.5l1.1-4.2-.7 4.8-1.2 4z"/>
<path color="#1ad52e" d="M516.8 131.8l1.2-4.3-.8 4.6-1.1 4z"/>
<path color="#1ad539" d="M515.7 136l1.1-4.2-.7 4.3-1.1 4.1z"/>
<path color="#1ad544" d="M514.5 140.2l1.2-4.2-.7 4.2-1.2 4z"/>
<path color="#1ad55b" d="M513.4 144.5l1.1-4.3-.7 4-1.1 4z"/>
<path color="#1ad572" d="M512.3 148.7l1.1-4.2-.7 3.7-1.1 4.1z"/>
<path color="#1ad588" d="M511.1 152.9l1.2-4.2-.7 3.6-1.2 4z"/>
<path color="#1ad59c" d="M510 157.1l1.1-4.2-.7 3.4-1.1 4z"/>
<path color="#1ad5ae" d="M508.8 161.4l1.2-4.3-.7 3.2-1.2 4.1z"/>
<path color="#1ad5c0" d="M507.7 165.6l1.1-4.2-.7 3-1.1 4z"/>
<path color="#1ad5d3" d="M506.5 169.8l1.2-4.2-.7 2.8-1.1 4z"/>
<path color="#1ad3dc" d="M505.4 174l1.1-4.2-.6 2.6-1.2 4.1z"/>
<path color="#12dae7" d="M504.3 178.3l1.1-4.3-.7 2.5-1.1 4z"/>
<path color="#12cfe9" d="M503.1 182.5l1.2-4.2-.7 2.2-1.1 4z"/>
<path color="#12c0ea" d="M502 186.7l1.1-4.2-.6 2-1.2 4.1z"/>
<path color="#bfd525" d="M529 83.2l1.2-4.4-.8 6.5-1.1 4.2z"/>
<path color="#a8d525" d="M527.9 87.6l1.1-4.4-.7 6.3-1.2 4.2z"/>
<path color="#91d525" d="M526.7 92.1l1.2-4.5-.8 6.1-1.1 4.3z"/>
<path color="#7ed525" d="M525.6 96.5l1.1-4.4-.7 5.9-1.2 4.2z"/>
<path color="#6fd525" d="M524.4 100.9l1.2-4.4-.8 5.7-1.1 4.2z"/>
<path color="#61d525" d="M523.3 105.3l1.1-4.4-.7 5.5-1.2 4.2z"/>
<path color="#53d525" d="M522.1 109.7l1.2-4.4-.8 5.3-1.1 4.3z"/>
<path color="#44d525" d="M521 114.2l1.1-4.5-.7 5.2-1.1 4.2z"/>
<path color="#36d525" d="M519.8 118.6l1.2-4.4-.7 4.9-1.2 4.2z"/>
<path color="#29d525" d="M518.7 123l1.1-4.4-.7 4.7-1.1 4.2z"/>
<path color="#1ed525" d="M517.5 127.4l1.2-4.4-.7 4.5-1.2 4.3z"/>
<path color="#1ad52c" d="M516.4 131.8l1.1-4.4-.7 4.4-1.1 4.2z"/>
<path color="#1ad538" d="M515.2 136.3l1.2-4.5-.7 4.2-1.2 4.2z"/>
<path color="#1ad543" d="M514.1 140.7l1.1-4.4-.7 3.9-1.1 4.3z"/>
<path color="#1ad55a" d="M513 145.1l1.1-4.4-.7 3.8-1.1 4.2z"/>
<path color="#1ad572" d="M511.8 149.5l1.2-4.4-.7 3.6-1.2 4.2z"/>
<path color="#1ad58a" d="M510.7 153.9l1.1-4.4-.7 3.4-1.1 4.2z"/>
<path color="#1ad59e" d="M509.5 158.4l1.2-4.5-.7 3.2-1.2 4.3z"/>
<path color="#1ad5b1" d="M508.4 162.8l1.1-4.4-.7 3-1.1 4.2z"/>
<path color="#1ad5c4" d="M507.2 167.2l1.2-4.4-.7 2.8-1.2 4.2z"/>
<path color="#1ad5d7" d="M506.1 171.6l1.1-4.4-.7 2.6-1.1 4.2z"/>
<path color="#12e2e8" d="M504.9 176l1.2-4.4-.7 2.4-1.1 4.3z"/>
<path color="#12d7e9" d="M503.8 180.5l1.1-4.5-.6 2.3-1.2 4.2z"/>
<path color="#12cceb" d="M502.6 184.9l1.2-4.4-.7 2-1.1 4.2z"/>
<path color="#d2c125" d="M529.8 76.9l1.2-4.6-.8 6.5-1.2 4.4z"/>
<path color="#cdd525" d="M528.7 81.5l1.1-4.6-.8 6.3-1.1 4.4z"/>
<path color="#b5d525" d="M527.5 86.1l1.2-4.6-.8 6.1-1.2 4.5z"/>
<path color="#9dd525" d="M526.4 90.8l1.1-4.7-.8 6-1.1 4.4z"/>
<path color="#85d525" d="M525.2 95.4l1.2-4.6-.8 5.7-1.2 4.4z"/>
<path color="#76d525" d="M524 100l1.2-4.6-.8 5.5-1.1 4.4z"/>
<path color="#67d525" d="M522.9 104.6l1.1-4.6-.7 5.3-1.2 4.4z"/>
<path color="#57d525" d="M521.7 109.2l1.2-4.6-.8 5.1-1.1 4.5z"/>
<path color="#48d525" d="M520.6 113.8l1.1-4.6-.7 5-1.2 4.4z"/>
<path color="#39d525" d="M519.4 118.4l1.2-4.6-.8 4.8-1.1 4.4z"/>
<path color="#2bd525" d="M518.3 123.1l1.1-4.7-.7 4.6-1.2 4.4z"/>
<path color="#20d525" d="M517.1 127.7l1.2-4.6-.8 4.3-1.1 4.4z"/>
<path color="#1ad52b" d="M516 132.3l1.1-4.6-.7 4.1-1.2 4.5z"/>
<path color="#1ad537" d="M514.8 136.9l1.2-4.6-.8 4-1.1 4.4z"/>
<path color="#1ad543" d="M513.6 141.5l1.2-4.6-.7 3.8-1.1 4.4z"/>
<path color="#1ad55b" d="M512.5 146.1l1.1-4.6-.6 3.6-1.2 4.4z"/>
<path color="#1ad574" d="M511.3 150.7l1.2-4.6-.7 3.4-1.1 4.4z"/>
<path color="#1ad58d" d="M510.2 155.4l1.1-4.7-.6 3.2-1.2 4.5z"/>
<path color="#1ad5a2" d="M509 160l1.2-4.6-.7 3-1.1 4.4z"/>
<path color="#1ad5b6" d="M507.9 164.6l1.1-4.6-.6 2.8-1.2 4.4z"/>
<path color="#12e7d2" d="M506.7 169.2l1.2-4.6-.7 2.6-1.1 4.4z"/>
<path color="#12e9e6" d="M505.6 173.8l1.1-4.6-.6 2.4-1.2 4.4z"/>
<path color="#12dfea" d="M504.4 178.4l1.2-4.6-.7 2.2-1.1 4.5z"/>
<path color="#12d4eb" d="M503.2 183l1.2-4.6-.6 2.1-1.2 4.4z"/>
<path color="#d29d25" d="M530.6 70.6l1.2-4.8-.8 6.5-1.2 4.6z"/>
<path color="#d2b425" d="M529.4 75.4l1.2-4.8-.8 6.3-1.1 4.6z"/>
<path color="#d2cd25" d="M528.3 80.2l1.1-4.8-.7 6.1-1.2 4.6z"/>
<path color="#c0d525" d="M527.1 85l1.2-4.8-.8 5.9-1.1 4.7z"/>
<path color="#a6d525" d="M526 89.9l1.1-4.9-.7 5.8-1.2 4.6z"/>
<path color="#8dd525" d="M524.8 94.7l1.2-4.8-.8 5.5-1.2 4.6z"/>
<path color="#7ad525" d="M523.6 99.5l1.2-4.8-.8 5.3-1.1 4.6z"/>
<path color="#6ad525" d="M522.5 104.3l1.1-4.8-.7 5.1-1.2 4.6z"/>
<path color="#5bd525" d="M521.3 109.1l1.2-4.8-.8 4.9-1.1 4.6z"/>
<path color="#4bd525" d="M520.2 113.9l1.1-4.8-.7 4.7-1.2 4.6z"/>
<path color="#3bd525" d="M519 118.7l1.2-4.8-.8 4.5-1.1 4.7z"/>
<path color="#2cd525" d="M517.8 123.5l1.2-4.8-.7 4.4-1.2 4.6z"/>
<path color="#20d525" d="M516.7 128.3l1.1-4.8-.7 4.2-1.1 4.6z"/>
<path color="#1ad52b" d="M515.5 133.1l1.2-4.8-.7 4-1.2 4.6z"/>
<path color="#1ad538" d="M514.3 137.9l1.2-4.8-.7 3.8-1.2 4.6z"/>
<path color="#1ad545" d="M513.2 142.7l1.1-4.8-.7 3.6-1.1 4.6z"/>
<path color="#1ad55f" d="M512 147.5l1.2-4.8-.7 3.4-1.2 4.6z"/>
<path color="#1ad579" d="M510.9 152.4l1.1-4.9-.7 3.2-1.1 4.7z"/>
<path color="#1ad593" d="M509.7 157.2l1.2-4.8-.7 3-1.2 4.6z"/>
<path color="#12e7a9" d="M508.5 162l1.2-4.8-.7 2.8-1.1 4.6z"/>
<path color="#12e8c3" d="M507.4 166.8l1.1-4.8-.6 2.6-1.2 4.6z"/>
<path color="#12e9dc" d="M506.2 171.6l1.2-4.8-.7 2.4-1.1 4.6z"/>
<path color="#12e7eb" d="M505 176.4l1.2-4.8-.6 2.2-1.2 4.6z"/>
<path color="#12dbec" d="M503.9 181.2l1.1-4.8-.6 2-1.2 4.6z"/>
<path color="#d27b25" d="M531.4 64.3l1.2-5-.8 6.5-1.2 4.8z"/>
<path color="#d29225" d="M530.2 69.3l1.2-5-.8 6.3-1.2 4.8z"/>
<path color="#d2aa25" d="M529.1 74.3l1.1-5-.8 6.1-1.1 4.8z"/>
<path color="#d2c425" d="M527.9 79.3l1.2-5-.8 5.9-1.2 4.8z"/>
<path color="#c9d525" d="M526.7 84.3l1.2-5-.8 5.7-1.1 4.9z"/>
<path color="#aed525" d="M525.6 89.3l1.1-5-.7 5.6-1.2 4.8z"/>
<path color="#93d525" d="M524.4 94.3l1.2-5-.8 5.4-1.2 4.8z"/>
<path color="#7ed525" d="M523.2 99.3l1.2-5-.8 5.2-1.1 4.8z"/>
<path color="#6dd525" d="M522 104.3l1.2-5-.7 5-1.2 4.8z"/>
<path color="#5dd525" d="M520.9 109.3l1.1-5-.7 4.8-1.1 4.8z"/>
<path color="#4cd525" d="M519.7 114.3l1.2-5-.7 4.6-1.2 4.8z"/>
<path color="#3cd525" d="M518.5 119.3l1.2-5-.7 4.4-1.2 4.8z"/>
<path color="#2cd525" d="M517.4 124.3l1.1-5-.7 4.2-1.1 4.8z"/>
<path color="#1fd525" d="M516.2 129.3l1.2-5-.7 4-1.2 4.8z"/>
<path color="#1ad52d" d="M515 134.3l1.2-5-.7 3.8-1.2 4.8z"/>
<path color="#1ad539" d="M513.9 139.3l1.1-5-.7 3.6-1.1 4.8z"/>
<path color="#1ad54a" d="M512.7 144.3l1.2-5-.7 3.4-1.2 4.8z"/>
<path color="#1ad565" d="M511.5 149.3l1.2-5-.7 3.2-1.1 4.9z"/>
<path color="#1ad580" d="M510.4 154.4l1.1-5.1-.6 3.1-1.2 4.8z"/>
<path color="#12e799" d="M509.2 159.4l1.2-5-.7 2.8-1.2 4.8z"/>
<path color="#12e8b3" d="M508 164.4l1.2-5-.7 2.6-1.1 4.8z"/>
<path color="#12eace" d="M506.9 169.4l1.1-5-.6 2.4-1.2 4.8z"/>
<path color="#12ebe7" d="M505.7 174.4l1.2-5-.7 2.2-1.2 4.8z"/>
<path color="#12e2ec" d="M504.5 179.4l1.2-5-.7 2-1.1 4.8z"/>
<path color="#d25825" d="M532.2 58l1.1-5.2-.7 6.5-1.2 5z"/>
<path color="#d26b25" d="M531 63.2l1.2-5.2-.8 6.3-1.2 5z"/>
<path color="#d28025" d="M529.8 68.4l1.2-5.2-.8 6.1-1.1 5z"/>
<path color="#d29625" d="M528.7 73.6l1.1-5.2-.7 5.9-1.2 5z"/>
<path color="#d2ae25" d="M527.5 78.8l1.2-5.2-.8 5.7-1.2 5z"/>
<path color="#d2c925" d="M526.3 84l1.2-5.2-.8 5.5-1.1 5z"/>
<path color="#c2d525" d="M525.1 89.2l1.2-5.2-.7 5.3-1.2 5z"/>
<path color="#a4d525" d="M524 94.4l1.1-5.2-.7 5.1-1.2 5z"/>
<path color="#87d525" d="M522.8 99.6l1.2-5.2-.8 4.9-1.2 5z"/>
<path color="#74d525" d="M521.6 104.8l1.2-5.2-.8 4.7-1.1 5z"/>
<path color="#61d525" d="M520.4 110l1.2-5.2-.7 4.5-1.2 5z"/>
<path color="#4ed525" d="M519.3 115.2l1.1-5.2-.7 4.3-1.2 5z"/>
<path color="#3bd525" d="M518.1 120.4l1.2-5.2-.8 4.1-1.1 5z"/>
<path color="#2ad525" d="M516.9 125.6l1.2-5.2-.7 3.9-1.2 5z"/>
<path color="#1bd525" d="M515.7 130.8l1.2-5.2-.7 3.7-1.2 5z"/>
<path color="#1ad533" d="M514.6 136l1.1-5.2-.7 3.5-1.1 5z"/>
<path color="#1ad542" d="M513.4 141.2l1.2-5.2-.7 3.3-1.2 5z"/>
<path color="#1ad55d" d="M512.2 146.3l1.2-5.1-.7 3.1-1.2 5z"/>
<path color="#12e775" d="M511 151.5l1.2-5.2-.7 3-1.1 5.1z"/>
<path color="#12e895" d="M509.9 156.7l1.1-5.2-.6 2.9-1.2 5z"/>
<path color="#12e9b0" d="M508.7 161.9l1.2-5.2-.7 2.7-1.2 5z"/>
<path color="#12eaca" d="M507.5 167.1l1.2-5.2-.7 2.5-1.1 5z"/>
<path color="#12ebe3" d="M506.3 172.3l1.2-5.2-.6 2.3-1.2 5z"/>
<path color="#12e8ed" d="M505.2 177.5l1.1-5.2-.6 2.1-1.2 5z"/>
<path color="#1a69dc" d="M490.6 200.5l8.2-4.6-1.3 3.7-8.2 4.8z"/>
<path color="#1a5edc" d="M482.3 205.1l8.3-4.6-1.3 3.9-8.2 4.9z"/>
<path color="#1a55dc" d="M474.1 209.7l8.2-4.6-1.2 4.2-8.3 4.8z"/>
<path color="#1a7ddc" d="M491.8 196.6l8.2-4.3-1.2 3.6-8.2 4.6z"/>
<path color="#1a73dc" d="M483.6 201l8.2-4.4-1.2 3.9-8.3 4.6z"/>
<path color="#1a69dc" d="M475.4 205.4l8.2-4.4-1.3 4.1-8.2 4.6z"/>
<path color="#1a90dc" d="M493.1 192.7l8.2-4.1-1.3 3.7-8.2 4.3z"/>
<path color="#1a87dc" d="M484.9 196.8l8.2-4.1-1.3 3.9-8.2 4.4z"/>
<path color="#1a7edc" d="M476.7 201l8.2-4.2-1.3 4.2-8.2 4.4z"/>
<path color="#1aa8dc" d="M494.4 188.8l8.2-3.9-1.3 3.7-8.2 4.1z"/>
<path color="#1a9edc" d="M486.2 192.7l8.2-3.9-1.3 3.9-8.2 4.1z"/>
<path color="#1a94dc" d="M478.1 196.6l8.1-3.9-1.3 4.1-8.2 4.2z"/>
<path color="#1abcdc" d="M495.7 184.9l8.2-3.7-1.3 3.7-8.2 3.9z"/>
<path color="#1ab7dc" d="M487.5 188.5l8.2-3.6-1.3 3.9-8.2 3.9z"/>
<path color="#1aaedc" d="M479.4 192.2l8.1-3.7-1.3 4.2-8.1 3.9z"/>
<path color="#1ac8dc" d="M497 181l8.2-3.5-1.3 3.7-8.2 3.7z"/>
<path color="#1ac4dc" d="M488.8 184.4l8.2-3.4-1.3 3.9-8.2 3.6z"/>
<path color="#1ac1dc" d="M480.7 187.8l8.1-3.4-1.3 4.1-8.1 3.7z"/>
<path color="#14ffd7" d="M648.3 133.7l8.1 .3-4.4-8.1-8.1 .3z"/>
<path color="#14ffcc" d="M640.2 133.5l8.1 .2-4.4-7.5-8.1 .3z"/>
<path color="#14ffbd" d="M632.2 133.2l8 .3-4.4-7-8.1 .4z"/>
<path color="#13fff0" d="M652.7 141.3l8.1 .8-4.4-8.1-8.1-.3z"/>
<path color="#13ffe1" d="M644.7 140.4l8 .9-4.4-7.6-8.1-.2z"/>
<path color="#13ffcf" d="M636.6 139.6l8.1 .8-4.5-6.9-8-.3z"/>
<path color="#13ffff" d="M657.1 148.8l8.1 1.5-4.4-8.2-8.1-.8z"/>
<path color="#13fffb" d="M649.1 147.4l8 1.4-4.4-7.5-8-.9z"/>
<path color="#13ffe6" d="M641.1 145.9l8 1.5-4.4-7-8.1-.8z"/>
<path color="#12ecff" d="M661.6 156.4l8 2-4.4-8.1-8.1-1.5z"/>
<path color="#12f8ff" d="M653.6 154.3l8 2.1-4.5-7.6-8-1.4z"/>
<path color="#12fffc" d="M645.6 152.3l8 2-4.5-6.9-8-1.5z"/>
<path color="#12d1ff" d="M666 163.9l8 2.6-4.4-8.1-8-2z"/>
<path color="#12e4ff" d="M658 161.3l8 2.6-4.4-7.5-8-2.1z"/>
<path color="#12f4ff" d="M650 158.6l8 2.7-4.4-7-8-2z"/>
<path color="#12a8fe" d="M670.4 171.5l8 3.2-4.4-8.2-8-2.6z"/>
<path color="#12c9fd" d="M662.5 168.2l7.9 3.3-4.4-7.6-8-2.6z"/>
<path color="#12e3fd" d="M654.5 165l8 3.2-4.5-6.9-8-2.7z"/>
<path color="#1ad593" d="M629.3 127.7l2.9 5.5-4.5-6.3-2.8-6.1z"/>
<path color="#1ad574" d="M626.5 122.2l2.8 5.5-4.4-6.9-2.8-6z"/>
<path color="#1ad54e" d="M623.6 116.7l2.9 5.5-4.4-7.4-2.9-6z"/>
<path color="#1ad534" d="M620.8 111.2l2.8 5.5-4.4-7.9-2.8-6.1z"/>
<path color="#20d525" d="M617.9 105.7l2.9 5.5-4.4-8.5-2.8-6z"/>
<path color="#32e512" d="M615.1 100.2l2.8 5.5-4.3-9-2.9-6z"/>
<path color="#50e612" d="M612.2 94.6l2.9 5.6-4.4-9.5-2.8-6.1z"/>
<path color="#6be712" d="M609.4 89.1l2.8 5.5-4.3-10-2.8-6z"/>
<path color="#1ad5a2" d="M633.8 134.6l2.8 5-4.4-6.4-2.9-5.5z"/>
<path color="#1ad588" d="M630.9 129.6l2.9 5-4.5-6.9-2.8-5.5z"/>
<path color="#1ad564" d="M628 124.6l2.9 5-4.4-7.4-2.9-5.5z"/>
<path color="#12e632" d="M625.2 119.6l2.8 5-4.4-7.9-2.8-5.5z"/>
<path color="#12e71b" d="M622.3 114.6l2.9 5-4.4-8.4-2.9-5.5z"/>
<path color="#1fe712" d="M619.4 109.6l2.9 5-4.4-8.9-2.8-5.5z"/>
<path color="#38e812" d="M616.6 104.7l2.8 4.9-4.3-9.4-2.9-5.6z"/>
<path color="#52e912" d="M613.7 99.7l2.9 5-4.4-10.1-2.8-5.5z"/>
<path color="#1ad5b4" d="M638.2 141.5l2.9 4.4-4.5-6.3-2.8-5z"/>
<path color="#1ad59d" d="M635.3 137l2.9 4.5-4.4-6.9-2.9-5z"/>
<path color="#12e77b" d="M632.5 132.5l2.8 4.5-4.4-7.4-2.9-5z"/>
<path color="#12e852" d="M629.6 128.1l2.9 4.4-4.5-7.9-2.8-5z"/>
<path color="#12e92f" d="M626.7 123.6l2.9 4.5-4.4-8.5-2.9-5z"/>
<path color="#12e91a" d="M623.8 119.1l2.9 4.5-4.4-9-2.9-5z"/>
<path color="#1eea12" d="M620.9 114.7l2.9 4.4-4.4-9.5-2.8-4.9z"/>
<path color="#32eb12" d="M618 110.2l2.9 4.5-4.3-10-2.9-5z"/>
<path color="#12e8cf" d="M642.7 148.3l2.9 4-4.5-6.4-2.9-4.4z"/>
<path color="#12e8b8" d="M639.8 144.4l2.9 3.9-4.5-6.8-2.9-4.5z"/>
<path color="#12e99d" d="M636.9 140.5l2.9 3.9-4.5-7.4-2.8-4.5z"/>
<path color="#12ea7b" d="M634 136.5l2.9 4-4.4-8-2.9-4.4z"/>
<path color="#12eb55" d="M631.1 132.6l2.9 3.9-4.4-8.4-2.9-4.5z"/>
<path color="#12ec32" d="M628.2 128.6l2.9 4-4.4-9-2.9-4.5z"/>
<path color="#12ec20" d="M625.3 124.7l2.9 3.9-4.4-9.5-2.9-4.4z"/>
<path color="#14ed12" d="M622.4 120.7l2.9 4-4.4-10-2.9-4.5z"/>
<path color="#12eae7" d="M647.1 155.2l2.9 3.4-4.4-6.3-2.9-4z"/>
<path color="#12ebd4" d="M644.2 151.8l2.9 3.4-4.4-6.9-2.9-3.9z"/>
<path color="#12ecbc" d="M641.3 148.4l2.9 3.4-4.4-7.4-2.9-3.9z"/>
<path color="#12eda2" d="M638.4 145l2.9 3.4-4.4-7.9-2.9-4z"/>
<path color="#12ee85" d="M635.4 141.5l3 3.5-4.4-8.5-2.9-3.9z"/>
<path color="#12ee63" d="M632.5 138.1l2.9 3.4-4.3-8.9-2.9-4z"/>
<path color="#12ef42" d="M629.6 134.7l2.9 3.4-4.3-9.5-2.9-3.9z"/>
<path color="#12f02d" d="M626.7 131.3l2.9 3.4-4.3-10-2.9-4z"/>
<path color="#12e3ed" d="M651.6 162.1l2.9 2.9-4.5-6.4-2.9-3.4z"/>
<path color="#12eeec" d="M648.6 159.2l3 2.9-4.5-6.9-2.9-3.4z"/>
<path color="#12efdc" d="M645.7 156.3l2.9 2.9-4.4-7.4-2.9-3.4z"/>
<path color="#12f0c5" d="M642.8 153.4l2.9 2.9-4.4-7.9-2.9-3.4z"/>
<path color="#12f0ae" d="M639.8 150.5l3 2.9-4.4-8.4-3-3.5z"/>
<path color="#12f196" d="M636.9 147.6l2.9 2.9-4.4-9-2.9-3.4z"/>
<path color="#12f27a" d="M634 144.7l2.9 2.9-4.4-9.5-2.9-3.4z"/>
<path color="#12f25e" d="M631 141.8l3 2.9-4.4-10-2.9-3.4z"/>
<path color="#8df612" d="M604.4 83.2l3.9 3.3-3.2-7.9-4-3.4z"/>
<path color="#abf612" d="M600.5 79.8l3.9 3.4-3.3-8-3.9-3.4z"/>
<path color="#cef612" d="M596.5 76.5l4 3.3-3.3-8-3.9-3.4z"/>
<path color="#eef612" d="M592.6 73.2l3.9 3.3-3.2-8.1-3.9-3.4z"/>
<path color="#f7e012" d="M588.7 69.8l3.9 3.4-3.2-8.2-3.9-3.4z"/>
<path color="#f7c612" d="M584.8 66.5l3.9 3.3-3.2-8.2-4-3.4z"/>
<path color="#7af712" d="M607.6 91.1l4 3.3-3.3-7.9-3.9-3.3z"/>
<path color="#8ff712" d="M603.7 87.8l3.9 3.3-3.2-7.9-3.9-3.4z"/>
<path color="#adf712" d="M599.8 84.6l3.9 3.2-3.2-8-4-3.3z"/>
<path color="#cdf712" d="M595.8 81.3l4 3.3-3.3-8.1-3.9-3.3z"/>
<path color="#ebf712" d="M591.9 78l3.9 3.3-3.2-8.1-3.9-3.4z"/>
<path color="#f7e612" d="M588 74.7l3.9 3.3-3.2-8.2-3.9-3.3z"/>
<path color="#61f712" d="M610.9 99.1l3.9 3.2-3.2-7.9-4-3.3z"/>
<path color="#77f712" d="M606.9 95.9l4 3.2-3.3-8-3.9-3.3z"/>
<path color="#8cf712" d="M603 92.6l3.9 3.3-3.2-8.1-3.9-3.2z"/>
<path color="#a4f712" d="M599.1 89.4l3.9 3.2-3.2-8-4-3.3z"/>
<path color="#c3f712" d="M595.2 86.2l3.9 3.2-3.3-8.1-3.9-3.3z"/>
<path color="#dff712" d="M591.2 83l4 3.2-3.3-8.2-3.9-3.3z"/>
<path color="#46f712" d="M614.1 107l3.9 3.2-3.2-7.9-3.9-3.2z"/>
<path color="#5bf712" d="M610.2 103.9l3.9 3.1-3.2-7.9-4-3.2z"/>
<path color="#6ff712" d="M606.2 100.7l4 3.2-3.3-8-3.9-3.3z"/>
<path color="#83f712" d="M602.3 97.5l3.9 3.2-3.2-8.1-3.9-3.2z"/>
<path color="#96f712" d="M598.4 94.4l3.9 3.1-3.2-8.1-3.9-3.2z"/>
<path color="#b0f712" d="M594.5 91.2l3.9 3.2-3.2-8.2-4-3.2z"/>
<path color="#29f712" d="M617.4 115l3.9 3.1-3.3-7.9-3.9-3.2z"/>
<path color="#3df712" d="M613.4 111.9l4 3.1-3.3-8-3.9-3.1z"/>
<path color="#51f712" d="M609.5 108.8l3.9 3.1-3.2-8-4-3.2z"/>
<path color="#64f712" d="M605.6 105.7l3.9 3.1-3.3-8.1-3.9-3.2z"/>
<path color="#77f812" d="M601.6 102.6l4 3.1-3.3-8.2-3.9-3.1z"/>
<path color="#88f812" d="M597.7 99.5l3.9 3.1-3.2-8.2-3.9-3.2z"/>
<path color="#12f813" d="M620.6 123l3.9 3-3.2-7.9-3.9-3.1z"/>
<path color="#21f812" d="M616.7 119.9l3.9 3.1-3.2-8-4-3.1z"/>
<path color="#32f812" d="M612.7 116.9l4 3-3.3-8-3.9-3.1z"/>
<path color="#45f812" d="M608.8 113.8l3.9 3.1-3.2-8.1-3.9-3.1z"/>
<path color="#57f812" d="M604.9 110.8l3.9 3-3.2-8.1-4-3.1z"/>
<path color="#68f812" d="M600.9 107.7l4 3.1-3.3-8.2-3.9-3.1z"/>
<path color="#12f82a" d="M623.8 130.9l4 3-3.3-7.9-3.9-3z"/>
<path color="#12f81b" d="M619.9 127.9l3.9 3-3.2-7.9-3.9-3.1z"/>
<path color="#18f812" d="M616 124.9l3.9 3-3.2-8-4-3z"/>
<path color="#27f812" d="M612 121.9l4 3-3.3-8-3.9-3.1z"/>
<path color="#38f812" d="M608.1 119l3.9 2.9-3.2-8.1-3.9-3z"/>
<path color="#49f812" d="M604.1 116l4 3-3.2-8.2-4-3.1z"/>
<path color="#12f849" d="M627.1 138.9l3.9 2.9-3.2-7.9-4-3z"/>
<path color="#12f831" d="M623.1 136l4 2.9-3.3-8-3.9-3z"/>
<path color="#12f823" d="M619.2 133l3.9 3-3.2-8.1-3.9-3z"/>
<path color="#12f814" d="M615.3 130.1l3.9 2.9-3.2-8.1-4-3z"/>
<path color="#1ef812" d="M611.3 127.2l4 2.9-3.3-8.2-3.9-2.9z"/>
<path color="#2bf812" d="M607.4 124.2l3.9 3-3.2-8.2-4-3z"/>
<path color="#ffb813" d="M576.7 65.3l8.1 1.2-3.3-8.3-8-.9z"/>
<path color="#ffa213" d="M568.7 64.1l8 1.2-3.2-8-8-.9z"/>
<path color="#ff8d13" d="M560.7 62.8l8 1.3-3.2-7.7-8.1-.9z"/>
<path color="#ffd613" d="M580 73.2l8 1.5-3.2-8.2-8.1-1.2z"/>
<path color="#ffbf13" d="M572 71.7l8 1.5-3.3-7.9-8-1.2z"/>
<path color="#ffa913" d="M564 70.2l8 1.5-3.3-7.6-8-1.3z"/>
<path color="#ffff13" d="M583.2 81.1l8 1.9-3.2-8.3-8-1.5z"/>
<path color="#ffe313" d="M575.2 79.3l8 1.8-3.2-7.9-8-1.5z"/>
<path color="#ffca13" d="M567.2 77.5l8 1.8-3.2-7.6-8-1.5z"/>
<path color="#d6ff13" d="M586.5 89.1l8 2.1-3.3-8.2-8-1.9z"/>
<path color="#f4ff13" d="M578.5 86.9l8 2.2-3.3-8-8-1.8z"/>
<path color="#fff213" d="M570.5 84.8l8 2.1-3.3-7.6-8-1.8z"/>
<path color="#a2ff13" d="M589.7 97l8 2.5-3.2-8.3-8-2.1z"/>
<path color="#c3ff12" d="M581.7 94.6l8 2.4-3.2-7.9-8-2.2z"/>
<path color="#e2ff12" d="M573.7 92.1l8 2.5-3.2-7.7-8-2.1z"/>
<path color="#80ff12" d="M592.9 105l8 2.7-3.2-8.2-8-2.5z"/>
<path color="#96ff12" d="M585 102.2l7.9 2.8-3.2-8-8-2.4z"/>
<path color="#b3ff12" d="M577 99.4l8 2.8-3.3-7.6-8-2.5z"/>
<path color="#60ff12" d="M596.2 112.9l7.9 3.1-3.2-8.3-8-2.7z"/>
<path color="#77ff12" d="M588.2 109.8l8 3.1-3.3-7.9-7.9-2.8z"/>
<path color="#8dff12" d="M580.2 106.8l8 3-3.2-7.6-8-2.8z"/>
<path color="#41ff12" d="M599.4 120.8l8 3.4-3.3-8.2-7.9-3.1z"/>
<path color="#5afe12" d="M591.5 117.5l7.9 3.3-3.2-7.9-8-3.1z"/>
<path color="#72fe12" d="M583.5 114.1l8 3.4-3.3-7.7-8-3z"/>
<path color="#ff7b13" d="M554.7 61.9l6 .9-3.3-7.3-6-.6z"/>
<path color="#ff6a13" d="M548.7 60.9l6 1-3.3-7-6-.7z"/>
<path color="#ff5a13" d="M542.7 60l6 .9-3.3-6.7-6-.7z"/>
<path color="#ff4c13" d="M536.6 59l6.1 1-3.3-6.5-6.1-.7z"/>
<path color="#ff9413" d="M557.9 68.9l6.1 1.3-3.3-7.4-6-.9z"/>
<path color="#ff8013" d="M551.9 67.7l6 1.2-3.2-7-6-1z"/>
<path color="#ff6e13" d="M545.9 66.4l6 1.3-3.2-6.8-6-.9z"/>
<path color="#ff6013" d="M539.9 65.1l6 1.3-3.2-6.4-6.1-1z"/>
<path color="#ffb313" d="M561.2 75.9l6 1.6-3.2-7.3-6.1-1.3z"/>
<path color="#ff9d13" d="M555.2 74.4l6 1.5-3.3-7-6-1.2z"/>
<path color="#ff8813" d="M549.2 72.8l6 1.6-3.3-6.7-6-1.3z"/>
<path color="#ff7712" d="M543.2 71.3l6 1.5-3.3-6.4-6-1.3z"/>
<path color="#ffd612" d="M564.5 83l6 1.8-3.3-7.3-6-1.6z"/>
<path color="#ffbe12" d="M558.5 81.1l6 1.9-3.3-7.1-6-1.5z"/>
<path color="#ffa612" d="M552.5 79.3l6 1.8-3.3-6.7-6-1.6z"/>
<path color="#ff9312" d="M546.5 77.4l6 1.9-3.3-6.5-6-1.5z"/>
<path color="#ffff12" d="M567.8 90l5.9 2.1-3.2-7.3-6-1.8z"/>
<path color="#ffe212" d="M561.8 87.9l6 2.1-3.3-7-6-1.9z"/>
<path color="#ffc712" d="M555.8 85.7l6 2.2-3.3-6.8-6-1.8z"/>
<path color="#ffb212" d="M549.8 83.6l6 2.1-3.3-6.4-6-1.9z"/>
<path color="#d2ff12" d="M571 97l6 2.4-3.3-7.3-5.9-2.1z"/>
<path color="#f2ff12" d="M565 94.6l6 2.4-3.2-7-6-2.1z"/>
<path color="#feeb12" d="M559.1 92.2l5.9 2.4-3.2-6.7-6-2.2z"/>
<path color="#fed112" d="M553.1 89.8l6 2.4-3.3-6.5-6-2.1z"/>
<path color="#a6fe12" d="M574.3 104l5.9 2.8-3.2-7.4-6-2.4z"/>
<path color="#c9fd12" d="M568.3 101.3l6 2.7-3.3-7-6-2.4z"/>
<path color="#eafd12" d="M562.4 98.6l5.9 2.7-3.3-6.7-5.9-2.4z"/>
<path color="#fdf412" d="M556.4 95.9l6 2.7-3.3-6.4-6-2.4z"/>
<path color="#88fd12" d="M577.6 111.1l5.9 3-3.3-7.3-5.9-2.8z"/>
<path color="#a1fc12" d="M571.6 108.1l6 3-3.3-7.1-6-2.7z"/>
<path color="#c5fc12" d="M565.7 105.1l5.9 3-3.3-6.8-5.9-2.7z"/>
<path color="#e2fc12" d="M559.7 102.1l6 3-3.3-6.5-6-2.7z"/>
<path color="#ff5313" d="M536.6 65.9l1.1-4.9-4.4-8.2-1.1 5.2z"/>
<path color="#ff6613" d="M535.4 70.7l1.2-4.8-4.4-7.9-1.2 5.2z"/>
<path color="#ff7b13" d="M534.3 75.6l1.1-4.9-4.4-7.5-1.2 5.2z"/>
<path color="#ff9513" d="M533.1 80.4l1.2-4.8-4.5-7.2-1.1 5.2z"/>
<path color="#ffb313" d="M531.9 85.2l1.2-4.8-4.4-6.8-1.2 5.2z"/>
<path color="#ffd213" d="M530.8 90.1l1.1-4.9-4.4-6.4-1.2 5.2z"/>
<path color="#fff613" d="M529.6 94.9l1.2-4.8-4.5-6.1-1.2 5.2z"/>
<path color="#e3ff13" d="M528.4 99.8l1.2-4.9-4.5-5.7-1.1 5.2z"/>
<path color="#baff13" d="M527.3 104.6l1.1-4.8-4.4-5.4-1.2 5.2z"/>
<path color="#95ff12" d="M526.1 109.4l1.2-4.8-4.5-5-1.2 5.2z"/>
<path color="#7aff12" d="M524.9 114.3l1.2-4.9-4.5-4.6-1.2 5.2z"/>
<path color="#5fff12" d="M523.8 119.1l1.1-4.8-4.5-4.3-1.1 5.2z"/>
<path color="#45ff12" d="M522.6 124l1.2-4.9-4.5-3.9-1.2 5.2z"/>
<path color="#2bfe12" d="M521.5 128.8l1.1-4.8-4.5-3.6-1.2 5.2z"/>
<path color="#17fe12" d="M520.3 133.6l1.2-4.8-4.6-3.2-1.2 5.2z"/>
<path color="#12fe21" d="M519.1 138.5l1.2-4.9-4.6-2.8-1.1 5.2z"/>
<path color="#12fd34" d="M518 143.3l1.1-4.8-4.5-2.5-1.2 5.2z"/>
<path color="#12fd55" d="M516.8 148.2l1.2-4.9-4.6-2.1-1.2 5.1z"/>
<path color="#12fd7b" d="M515.6 153l1.2-4.8-4.6-1.9-1.2 5.2z"/>
<path color="#12fd9e" d="M514.5 157.8l1.1-4.8-4.6-1.5-1.1 5.2z"/>
<path color="#12fcb8" d="M513.3 162.7l1.2-4.9-4.6-1.1-1.2 5.2z"/>
<path color="#12fcd1" d="M512.2 167.5l1.1-4.8-4.6-.8-1.2 5.2z"/>
<path color="#12fce7" d="M511 172.4l1.2-4.9-4.7-.4-1.2 5.2z"/>
<path color="#12fbf7" d="M509.8 177.2l1.2-4.8-4.7-.1-1.1 5.2z"/>
<path color="#ff6e14" d="M541 73.7l1.1-4.5-4.4-8.2-1.1 4.9z"/>
<path color="#ff7f14" d="M539.8 78.2l1.2-4.5-4.4-7.8-1.2 4.8z"/>
<path color="#ff9513" d="M538.7 82.7l1.1-4.5-4.4-7.5-1.1 4.9z"/>
<path color="#ffae13" d="M537.5 87.2l1.2-4.5-4.4-7.1-1.2 4.8z"/>
<path color="#ffc913" d="M536.4 91.7l1.1-4.5-4.4-6.8-1.2 4.8z"/>
<path color="#ffe813" d="M535.2 96.2l1.2-4.5-4.5-6.5-1.1 4.9z"/>
<path color="#f7ff13" d="M534.1 100.6l1.1-4.4-4.4-6.1-1.2 4.8z"/>
<path color="#d2ff13" d="M532.9 105.1l1.2-4.5-4.5-5.7-1.2 4.9z"/>
<path color="#abff13" d="M531.8 109.6l1.1-4.5-4.5-5.3-1.1 4.8z"/>
<path color="#8eff13" d="M530.6 114.1l1.2-4.5-4.5-5-1.2 4.8z"/>
<path color="#75ff13" d="M529.5 118.6l1.1-4.5-4.5-4.7-1.2 4.9z"/>
<path color="#5bff12" d="M528.3 123.1l1.2-4.5-4.6-4.3-1.1 4.8z"/>
<path color="#42ff12" d="M527.2 127.6l1.1-4.5-4.5-4-1.2 4.9z"/>
<path color="#2bff12" d="M526 132l1.2-4.4-4.6-3.6-1.1 4.8z"/>
<path color="#19ff12" d="M524.9 136.5l1.1-4.5-4.5-3.2-1.2 4.8z"/>
<path color="#12fe1d" d="M523.7 141l1.2-4.5-4.6-2.9-1.2 4.9z"/>
<path color="#12fe2f" d="M522.6 145.5l1.1-4.5-4.6-2.5-1.1 4.8z"/>
<path color="#12fe46" d="M521.4 150l1.2-4.5-4.6-2.2-1.2 4.9z"/>
<path color="#12fd68" d="M520.3 154.5l1.1-4.5-4.6-1.8-1.2 4.8z"/>
<path color="#12fd89" d="M519.1 159l1.2-4.5-4.7-1.5-1.1 4.8z"/>
<path color="#12fda5" d="M518 163.4l1.1-4.4-4.6-1.2-1.2 4.9z"/>
<path color="#12fcbc" d="M516.8 167.9l1.2-4.5-4.7-.7-1.1 4.8z"/>
<path color="#12fcd2" d="M515.6 172.4l1.2-4.5-4.6-.4-1.2 4.9z"/>
<path color="#12fce4" d="M514.5 176.9l1.1-4.5-4.6 0-1.2 4.8z"/>
<path color="#ff9014" d="M545.4 81.6l1.1-4.2-4.4-8.2-1.1 4.5z"/>
<path color="#ffa214" d="M544.2 85.7l1.2-4.1-4.4-7.9-1.2 4.5z"/>
<path color="#ffb614" d="M543.1 89.8l1.1-4.1-4.4-7.5-1.1 4.5z"/>
<path color="#ffcd14" d="M542 94l1.1-4.2-4.4-7.1-1.2 4.5z"/>
<path color="#ffe714" d="M540.8 98.1l1.2-4.1-4.5-6.8-1.1 4.5z"/>
<path color="#ffff13" d="M539.7 102.2l1.1-4.1-4.4-6.4-1.2 4.5z"/>
<path color="#dfff13" d="M538.5 106.4l1.2-4.2-4.5-6-1.1 4.4z"/>
<path color="#bdff13" d="M537.4 110.5l1.1-4.1-4.4-5.8-1.2 4.5z"/>
<path color="#9bff13" d="M536.3 114.6l1.1-4.1-4.5-5.4-1.1 4.5z"/>
<path color="#85ff13" d="M535.1 118.8l1.2-4.2-4.5-5-1.2 4.5z"/>
<path color="#6eff13" d="M534 122.9l1.1-4.1-4.5-4.7-1.1 4.5z"/>
<path color="#56ff13" d="M532.8 127l1.2-4.1-4.5-4.3-1.2 4.5z"/>
<path color="#3fff12" d="M531.7 131.1l1.1-4.1-4.5-3.9-1.1 4.5z"/>
<path color="#2aff12" d="M530.6 135.3l1.1-4.2-4.5-3.5-1.2 4.4z"/>
<path color="#1aff12" d="M529.4 139.4l1.2-4.1-4.6-3.3-1.1 4.5z"/>
<path color="#12ff1a" d="M528.3 143.5l1.1-4.1-4.5-2.9-1.2 4.5z"/>
<path color="#12fe2a" d="M527.1 147.7l1.2-4.2-4.6-2.5-1.1 4.5z"/>
<path color="#12fe39" d="M526 151.8l1.1-4.1-4.5-2.2-1.2 4.5z"/>
<path color="#12fe58" d="M524.9 155.9l1.1-4.1-4.6-1.8-1.1 4.5z"/>
<path color="#12fd76" d="M523.7 160.1l1.2-4.2-4.6-1.4-1.2 4.5z"/>
<path color="#12fd93" d="M522.6 164.2l1.1-4.1-4.6-1.1-1.1 4.4z"/>
<path color="#12fdaa" d="M521.4 168.3l1.2-4.1-4.6-.8-1.2 4.5z"/>
<path color="#12fcbe" d="M520.3 172.5l1.1-4.2-4.6-.4-1.2 4.5z"/>
<path color="#12fcd1" d="M519.2 176.6l1.1-4.1-4.7-.1-1.1 4.5z"/>
<path color="#ffba15" d="M549.8 89.4l1.1-3.7-4.4-8.3-1.1 4.2z"/>
<path color="#ffca14" d="M548.7 93.2l1.1-3.8-4.4-7.8-1.2 4.1z"/>
<path color="#ffdc14" d="M547.5 97l1.2-3.8-4.5-7.5-1.1 4.1z"/>
<path color="#fff214" d="M546.4 100.8l1.1-3.8-4.4-7.2-1.1 4.2z"/>
<path color="#fbff14" d="M545.3 104.5l1.1-3.7-4.4-6.8-1.2 4.1z"/>
<path color="#e0ff14" d="M544.1 108.3l1.2-3.8-4.5-6.4-1.1 4.1z"/>
<path color="#c3ff14" d="M543 112.1l1.1-3.8-4.4-6.1-1.2 4.2z"/>
<path color="#a5ff13" d="M541.9 115.9l1.1-3.8-4.5-5.7-1.1 4.1z"/>
<path color="#8fff13" d="M540.8 119.6l1.1-3.7-4.5-5.4-1.1 4.1z"/>
<path color="#7bff13" d="M539.6 123.4l1.2-3.8-4.5-5-1.2 4.2z"/>
<path color="#66ff13" d="M538.5 127.2l1.1-3.8-4.5-4.6-1.1 4.1z"/>
<path color="#51ff13" d="M537.4 131l1.1-3.8-4.5-4.3-1.2 4.1z"/>
<path color="#3cff13" d="M536.2 134.7l1.2-3.7-4.6-4-1.1 4.1z"/>
<path color="#29ff13" d="M535.1 138.5l1.1-3.8-4.5-3.6-1.1 4.2z"/>
<path color="#1bff12" d="M534 142.3l1.1-3.8-4.5-3.2-1.2 4.1z"/>
<path color="#12ff18" d="M532.9 146.1l1.1-3.8-4.6-2.9-1.1 4.1z"/>
<path color="#12ff26" d="M531.7 149.8l1.2-3.7-4.6-2.6-1.2 4.2z"/>
<path color="#12ff34" d="M530.6 153.6l1.1-3.8-4.6-2.1-1.1 4.1z"/>
<path color="#12fe4b" d="M529.5 157.4l1.1-3.8-4.6-1.8-1.1 4.1z"/>
<path color="#12fe67" d="M528.3 161.2l1.2-3.8-4.6-1.5-1.2 4.2z"/>
<path color="#12fe81" d="M527.2 164.9l1.1-3.7-4.6-1.1-1.1 4.1z"/>
<path color="#12fd9b" d="M526.1 168.7l1.1-3.8-4.6-.7-1.2 4.1z"/>
<path color="#12fdae" d="M525 172.5l1.1-3.8-4.7-.4-1.1 4.2z"/>
<path color="#12fcbf" d="M523.8 176.3l1.2-3.8-4.7 0-1.1 4.1z"/>
<path color="#ffe615" d="M554.2 97.3l1.1-3.4-4.4-8.2-1.1 3.7z"/>
<path color="#fff515" d="M553.1 100.7l1.1-3.4-4.4-7.9-1.1 3.8z"/>
<path color="#ffff15" d="M552 104.1l1.1-3.4-4.4-7.5-1.2 3.8z"/>
<path color="#eeff15" d="M550.8 107.5l1.2-3.4-4.5-7.1-1.1 3.8z"/>
<path color="#d7ff14" d="M549.7 111l1.1-3.5-4.4-6.7-1.1 3.7z"/>
<path color="#c0ff14" d="M548.6 114.4l1.1-3.4-4.4-6.5-1.2 3.8z"/>
<path color="#a6ff14" d="M547.5 117.8l1.1-3.4-4.5-6.1-1.1 3.8z"/>
<path color="#93ff14" d="M546.4 121.2l1.1-3.4-4.5-5.7-1.1 3.8z"/>
<path color="#82ff14" d="M545.3 124.6l1.1-3.4-4.5-5.3-1.1 3.7z"/>
<path color="#70ff13" d="M544.1 128.1l1.2-3.5-4.5-5-1.2 3.8z"/>
<path color="#5eff13" d="M543 131.5l1.1-3.4-4.5-4.7-1.1 3.8z"/>
<path color="#4cff13" d="M541.9 134.9l1.1-3.4-4.5-4.3-1.1 3.8z"/>
<path color="#39ff13" d="M540.8 138.3l1.1-3.4-4.5-3.9-1.2 3.7z"/>
<path color="#28ff13" d="M539.7 141.7l1.1-3.4-4.6-3.6-1.1 3.8z"/>
<path color="#1bff13" d="M538.5 145.2l1.2-3.5-4.6-3.2-1.1 3.8z"/>
<path color="#12ff17" d="M537.4 148.6l1.1-3.4-4.5-2.9-1.1 3.8z"/>
<path color="#12ff24" d="M536.3 152l1.1-3.4-4.5-2.5-1.2 3.7z"/>
<path color="#12ff31" d="M535.2 155.4l1.1-3.4-4.6-2.2-1.1 3.8z"/>
<path color="#12ff41" d="M534.1 158.9l1.1-3.5-4.6-1.8-1.1 3.8z"/>
<path color="#12ff5b" d="M533 162.3l1.1-3.4-4.6-1.5-1.2 3.8z"/>
<path color="#12fe73" d="M531.8 165.7l1.2-3.4-4.7-1.1-1.1 3.7z"/>
<path color="#12fe8b" d="M530.7 169.1l1.1-3.4-4.6-.8-1.1 3.8z"/>
<path color="#12fda0" d="M529.6 172.5l1.1-3.4-4.6-.4-1.1 3.8z"/>
<path color="#12fdb0" d="M528.5 176l1.1-3.5-4.6 0-1.2 3.8z"/>
<path color="#f8ff16" d="M558.6 105.1l1.1-3-4.4-8.2-1.1 3.4z"/>
<path color="#eaff16" d="M557.5 108.2l1.1-3.1-4.4-7.8-1.1 3.4z"/>
<path color="#daff15" d="M556.4 111.3l1.1-3.1-4.4-7.5-1.1 3.4z"/>
<path color="#c8ff15" d="M555.3 114.3l1.1-3-4.4-7.2-1.2 3.4z"/>
<path color="#b4ff15" d="M554.2 117.4l1.1-3.1-4.5-6.8-1.1 3.5z"/>
<path color="#a0ff15" d="M553.1 120.5l1.1-3.1-4.5-6.4-1.1 3.4z"/>
<path color="#92ff14" d="M552 123.5l1.1-3-4.5-6.1-1.1 3.4z"/>
<path color="#84ff14" d="M550.9 126.6l1.1-3.1-4.5-5.7-1.1 3.4z"/>
<path color="#75ff14" d="M549.7 129.7l1.2-3.1-4.5-5.4-1.1 3.4z"/>
<path color="#66ff14" d="M548.6 132.7l1.1-3-4.4-5.1-1.2 3.5z"/>
<path color="#56ff14" d="M547.5 135.8l1.1-3.1-4.5-4.6-1.1 3.4z"/>
<path color="#46ff13" d="M546.4 138.9l1.1-3.1-4.5-4.3-1.1 3.4z"/>
<path color="#35ff13" d="M545.3 141.9l1.1-3-4.5-4-1.1 3.4z"/>
<path color="#27ff13" d="M544.2 145l1.1-3.1-4.5-3.6-1.1 3.4z"/>
<path color="#1bff13" d="M543.1 148.1l1.1-3.1-4.5-3.3-1.2 3.5z"/>
<path color="#13ff17" d="M542 151.1l1.1-3-4.6-2.9-1.1 3.4z"/>
<path color="#13ff23" d="M540.9 154.2l1.1-3.1-4.6-2.5-1.1 3.4z"/>
<path color="#12ff2f" d="M539.8 157.2l1.1-3-4.6-2.2-1.1 3.4z"/>
<path color="#12ff3a" d="M538.7 160.3l1.1-3.1-4.6-1.8-1.1 3.5z"/>
<path color="#12ff52" d="M537.6 163.4l1.1-3.1-4.6-1.4-1.1 3.4z"/>
<path color="#12ff69" d="M536.5 166.4l1.1-3-4.6-1.1-1.2 3.4z"/>
<path color="#12fe7e" d="M535.4 169.5l1.1-3.1-4.7-.7-1.1 3.4z"/>
<path color="#12fe93" d="M534.3 172.6l1.1-3.1-4.7-.4-1.1 3.4z"/>
<path color="#12fda4" d="M533.2 175.6l1.1-3-4.7-.1-1.1 3.5z"/>
<path color="#12fffd" d="M510.4 180.3l4.1-3.4-9.3 .6-4.1 1.7z"/>
<path color="#13feff" d="M506.2 183.6l4.2-3.3-9.3-1.1-4.1 1.8z"/>
<path color="#13fbff" d="M502.1 187l4.1-3.4-9.2-2.6-4.1 1.7z"/>
<path color="#14f9ff" d="M497.9 190.4l4.2-3.4-9.2-4.3-4.1 1.7z"/>
<path color="#15f8ff" d="M493.8 193.8l4.1-3.4-9.1-6-4.1 1.7z"/>
<path color="#16f6ff" d="M489.7 197.1l4.1-3.3-9.1-7.7-4 1.7z"/>
<path color="#12ffe2" d="M519.6 181.3l4.2-5-9.3 .6-4.1 3.4z"/>
<path color="#13fffe" d="M515.4 186.3l4.2-5-9.2-1-4.2 3.3z"/>
<path color="#14ffff" d="M511.2 191.3l4.2-5-9.2-2.7-4.1 3.4z"/>
<path color="#15f9ff" d="M507.1 196.4l4.1-5.1-9.1-4.3-4.2 3.4z"/>
<path color="#16f2ff" d="M502.9 201.4l4.2-5-9.2-6-4.1 3.4z"/>
<path color="#17ecff" d="M498.7 206.4l4.2-5-9.1-7.6-4.1 3.3z"/>
<path color="#12ffc8" d="M528.9 182.3l4.3-6.7-9.4 .7-4.2 5z"/>
<path color="#13ffed" d="M524.7 189l4.2-6.7-9.3-1-4.2 5z"/>
<path color="#15ffff" d="M520.4 195.7l4.3-6.7-9.3-2.7-4.2 5z"/>
<path color="#14f6ff" d="M516.2 202.4l4.2-6.7-9.2-4.4-4.1 5.1z"/>
<path color="#15e9ff" d="M511.9 209l4.3-6.6-9.1-6-4.2 5z"/>
<path color="#17d1ff" d="M507.7 215.7l4.2-6.7-9-7.6-4.2 5z"/>
<path color="#1283fd" d="M676.8 180.6l6 2.8-4.4-8.7-6-2.4z"/>
<path color="#1299fc" d="M670.9 177.7l5.9 2.9-4.4-8.3-6-2.5z"/>
<path color="#12b4fc" d="M664.9 174.8l6 2.9-4.5-7.9-5.9-2.4z"/>
<path color="#12d3fb" d="M658.9 172l6 2.8-4.4-7.4-6-2.4z"/>
<path color="#1260fb" d="M681.2 188.9l6 3.3-4.4-8.8-6-2.8z"/>
<path color="#1279fb" d="M675.3 185.6l5.9 3.3-4.4-8.3-5.9-2.9z"/>
<path color="#1294fa" d="M669.3 182.3l6 3.3-4.4-7.9-6-2.9z"/>
<path color="#12b2fa" d="M663.4 178.9l5.9 3.4-4.4-7.5-6-2.8z"/>
<path color="#123ff9" d="M685.6 197.2l6 3.8-4.4-8.8-6-3.3z"/>
<path color="#125af9" d="M679.7 193.5l5.9 3.7-4.4-8.3-5.9-3.3z"/>
<path color="#1276f8" d="M673.7 189.7l6 3.8-4.4-7.9-6-3.3z"/>
<path color="#1294f8" d="M667.8 185.9l5.9 3.8-4.4-7.4-5.9-3.4z"/>
<path color="#1225f8" d="M690 205.5l5.9 4.2-4.3-8.7-6-3.8z"/>
<path color="#123df7" d="M684.1 201.3l5.9 4.2-4.4-8.3-5.9-3.7z"/>
<path color="#125af7" d="M678.2 197.1l5.9 4.2-4.4-7.8-6-3.8z"/>
<path color="#1279f6" d="M672.3 192.9l5.9 4.2-4.5-7.4-5.9-3.8z"/>
<path color="#1512f6" d="M694.4 213.9l5.9 4.6-4.4-8.8-5.9-4.2z"/>
<path color="#1227f6" d="M688.5 209.2l5.9 4.7-4.4-8.4-5.9-4.2z"/>
<path color="#1242f5" d="M682.6 204.5l5.9 4.7-4.4-7.9-5.9-4.2z"/>
<path color="#1260f4" d="M676.7 199.9l5.9 4.6-4.4-7.4-5.9-4.2z"/>
<path color="#2a12f5" d="M698.8 222.2l5.9 5.1-4.4-8.8-5.9-4.6z"/>
<path color="#1216f4" d="M692.9 217.1l5.9 5.1-4.4-8.3-5.9-4.7z"/>
<path color="#122ff3" d="M687 212l5.9 5.1-4.4-7.9-5.9-4.7z"/>
<path color="#124cf3" d="M681.1 206.9l5.9 5.1-4.4-7.5-5.9-4.6z"/>
<path color="#12dbf0" d="M655 168.4l3.9 3.6-4.4-7-3.9-3.9z"/>
<path color="#12eaf1" d="M651.1 164.9l3.9 3.5-4.4-7.3-3.9-3.8z"/>
<path color="#12f1e9" d="M647.2 161.3l3.9 3.6-4.4-7.6-3.9-3.9z"/>
<path color="#12f2cd" d="M643.2 157.8l4 3.5-4.4-7.9-4-3.9z"/>
<path color="#12f2b1" d="M639.3 154.2l3.9 3.6-4.4-8.3-3.9-3.8z"/>
<path color="#12f395" d="M635.4 150.7l3.9 3.5-4.4-8.5-3.9-3.9z"/>
<path color="#12cbf2" d="M659.4 175.7l4 3.2-4.5-6.9-3.9-3.6z"/>
<path color="#12dcf2" d="M655.5 172.5l3.9 3.2-4.4-7.3-3.9-3.5z"/>
<path color="#12eaf3" d="M651.6 169.2l3.9 3.3-4.4-7.6-3.9-3.6z"/>
<path color="#12f3ed" d="M647.6 166l4 3.2-4.4-7.9-4-3.5z"/>
<path color="#12f4d5" d="M643.7 162.7l3.9 3.3-4.4-8.2-3.9-3.6z"/>
<path color="#12f4bb" d="M639.8 159.5l3.9 3.2-4.4-8.5-3.9-3.5z"/>
<path color="#12adf4" d="M663.9 183l3.9 2.9-4.4-7-4-3.2z"/>
<path color="#12c9f4" d="M659.9 180.1l4 2.9-4.5-7.3-3.9-3.2z"/>
<path color="#12dbf4" d="M656 177.1l3.9 3-4.4-7.6-3.9-3.3z"/>
<path color="#12e9f5" d="M652 174.2l4 2.9-4.4-7.9-4-3.2z"/>
<path color="#12f5f4" d="M648.1 171.3l3.9 2.9-4.4-8.2-3.9-3.3z"/>
<path color="#12f6e1" d="M644.2 168.3l3.9 3-4.4-8.6-3.9-3.2z"/>
<path color="#1293f5" d="M668.3 190.3l4 2.6-4.5-7-3.9-2.9z"/>
<path color="#12aaf6" d="M664.4 187.7l3.9 2.6-4.4-7.3-4-2.9z"/>
<path color="#12c4f6" d="M660.4 185l4 2.7-4.5-7.6-3.9-3z"/>
<path color="#12d9f7" d="M656.4 182.4l4 2.6-4.4-7.9-4-2.9z"/>
<path color="#12e6f7" d="M652.5 179.8l3.9 2.6-4.4-8.2-3.9-2.9z"/>
<path color="#12f2f7" d="M648.5 177.2l4 2.6-4.4-8.5-3.9-3z"/>
<path color="#127bf7" d="M672.7 197.6l4 2.3-4.4-7-4-2.6z"/>
<path color="#1290f7" d="M668.8 195.3l3.9 2.3-4.4-7.3-3.9-2.6z"/>
<path color="#12a4f8" d="M664.8 192.9l4 2.4-4.4-7.6-4-2.7z"/>
<path color="#12bdf8" d="M660.9 190.6l3.9 2.3-4.4-7.9-4-2.6z"/>
<path color="#12d5f9" d="M656.9 188.3l4 2.3-4.5-8.2-3.9-2.6z"/>
<path color="#12e1f9" d="M652.9 186l4 2.3-4.4-8.5-4-2.6z"/>
<path color="#1266f9" d="M677.2 204.9l3.9 2-4.4-7-4-2.3z"/>
<path color="#1279f9" d="M673.2 202.9l4 2-4.5-7.3-3.9-2.3z"/>
<path color="#128cfa" d="M669.2 200.9l4 2-4.4-7.6-4-2.4z"/>
<path color="#129efa" d="M665.3 198.9l3.9 2-4.4-8-3.9-2.3z"/>
<path color="#12b2fa" d="M661.3 196.8l4 2.1-4.4-8.3-4-2.3z"/>
<path color="#12c7fb" d="M657.3 194.8l4 2-4.4-8.5-4-2.3z"/>
<path color="#12f86b" d="M628.4 144.4l5.9 4-3.3-6.6-5.9-4.4z"/>
<path color="#12f83e" d="M622.5 140.5l5.9 3.9-3.3-7-5.9-4.4z"/>
<path color="#12f927" d="M616.5 136.5l6 4-3.3-7.5-5.9-4.4z"/>
<path color="#12f913" d="M610.6 132.5l5.9 4-3.2-7.9-5.9-4.4z"/>
<path color="#12f991" d="M631.7 151.5l5.9 3.6-3.3-6.7-5.9-4z"/>
<path color="#12f968" d="M625.7 147.9l6 3.6-3.3-7.1-5.9-3.9z"/>
<path color="#12fa3f" d="M619.8 144.3l5.9 3.6-3.2-7.4-6-4z"/>
<path color="#12fa29" d="M613.8 140.7l6 3.6-3.3-7.8-5.9-4z"/>
<path color="#12fab2" d="M634.9 158.5l6 3.2-3.3-6.6-5.9-3.6z"/>
<path color="#12fb92" d="M629 155.3l5.9 3.2-3.2-7-6-3.6z"/>
<path color="#12fb6d" d="M623 152.2l6 3.1-3.3-7.4-5.9-3.6z"/>
<path color="#12fc48" d="M617.1 149l5.9 3.2-3.2-7.9-6-3.6z"/>
<path color="#12fcd2" d="M638.2 165.6l6 2.7-3.3-6.6-6-3.2z"/>
<path color="#12fcb6" d="M632.2 162.8l6 2.8-3.3-7.1-5.9-3.2z"/>
<path color="#12fd9a" d="M626.3 160l5.9 2.8-3.2-7.5-6-3.1z"/>
<path color="#12fd78" d="M620.3 157.2l6 2.8-3.3-7.8-5.9-3.2z"/>
<path color="#12fdf1" d="M641.5 172.6l5.9 2.4-3.2-6.7-6-2.7z"/>
<path color="#12fed8" d="M635.5 170.2l6 2.4-3.3-7-6-2.8z"/>
<path color="#12febf" d="M629.5 167.9l6 2.3-3.3-7.4-5.9-2.8z"/>
<path color="#12fea6" d="M623.5 165.5l6 2.4-3.2-7.9-6-2.8z"/>
<path color="#12f9ff" d="M644.7 179.6l6 2-3.3-6.6-5.9-2.4z"/>
<path color="#12fff8" d="M638.8 177.7l5.9 1.9-3.2-7-6-2.4z"/>
<path color="#12ffe4" d="M632.8 175.7l6 2-3.3-7.5-6-2.3z"/>
<path color="#12ffcd" d="M626.8 173.8l6 1.9-3.3-7.8-6-2.4z"/>
<path color="#12ebff" d="M648 186.7l6 1.5-3.3-6.6-6-2z"/>
<path color="#12f6ff" d="M642 185.1l6 1.6-3.3-7.1-5.9-1.9z"/>
<path color="#13ffff" d="M636 183.6l6 1.5-3.2-7.4-6-2z"/>
<path color="#12fff2" d="M630 182l6 1.6-3.2-7.9-6-1.9z"/>
<path color="#13ddff" d="M651.3 193.7l6 1.1-3.3-6.6-6-1.5z"/>
<path color="#13e7ff" d="M645.3 192.6l6 1.1-3.3-7-6-1.6z"/>
<path color="#13f1ff" d="M639.3 191.4l6 1.2-3.3-7.5-6-1.5z"/>
<path color="#13fbff" d="M633.2 190.3l6.1 1.1-3.3-7.8-6-1.6z"/>
<path color="#21fe12" d="M606.6 130.6l4 1.9-3.2-8.3-4-1.7z"/>
<path color="#2bfe12" d="M602.7 128.6l3.9 2-3.2-8.1-4-1.7z"/>
<path color="#38fd12" d="M598.7 126.7l4 1.9-3.3-7.8-4-1.7z"/>
<path color="#45fd12" d="M594.7 124.8l4 1.9-3.3-7.6-3.9-1.6z"/>
<path color="#52fd12" d="M590.8 122.9l3.9 1.9-3.2-7.3-4-1.7z"/>
<path color="#5ffd12" d="M586.8 120.9l4 2-3.3-7.1-4-1.7z"/>
<path color="#12fd1a" d="M609.9 138.6l3.9 2.1-3.2-8.2-4-1.9z"/>
<path color="#15fc12" d="M605.9 136.4l4 2.2-3.3-8-3.9-2z"/>
<path color="#20fc12" d="M601.9 134.3l4 2.1-3.2-7.8-4-1.9z"/>
<path color="#2bfc12" d="M598 132.1l3.9 2.2-3.2-7.6-4-1.9z"/>
<path color="#39fc12" d="M594 129.9l4 2.2-3.3-7.3-3.9-1.9z"/>
<path color="#47fc12" d="M590.1 127.8l3.9 2.1-3.2-7-4-2z"/>
<path color="#12fb31" d="M613.1 146.6l4 2.4-3.3-8.3-3.9-2.1z"/>
<path color="#12fb25" d="M609.2 144.2l3.9 2.4-3.2-8-4-2.2z"/>
<path color="#12fb19" d="M605.2 141.8l4 2.4-3.3-7.8-4-2.1z"/>
<path color="#17fb12" d="M601.2 139.4l4 2.4-3.3-7.5-3.9-2.2z"/>
<path color="#23fb12" d="M597.3 137l3.9 2.4-3.2-7.3-4-2.2z"/>
<path color="#30fb12" d="M593.3 134.6l4 2.4-3.3-7.1-3.9-2.1z"/>
<path color="#12fa59" d="M616.4 154.6l3.9 2.6-3.2-8.2-4-2.4z"/>
<path color="#12fa3f" d="M612.4 152l4 2.6-3.3-8-3.9-2.4z"/>
<path color="#12fa2f" d="M608.5 149.4l3.9 2.6-3.2-7.8-4-2.4z"/>
<path color="#12fa21" d="M604.5 146.7l4 2.7-3.3-7.6-4-2.4z"/>
<path color="#12fa14" d="M600.6 144.1l3.9 2.6-3.3-7.3-3.9-2.4z"/>
<path color="#1df912" d="M596.6 141.5l4 2.6-3.3-7.1-4-2.4z"/>
<path color="#12f989" d="M619.6 162.6l3.9 2.9-3.2-8.3-3.9-2.6z"/>
<path color="#12f96d" d="M615.7 159.8l3.9 2.8-3.2-8-4-2.6z"/>
<path color="#12f950" d="M611.7 156.9l4 2.9-3.3-7.8-3.9-2.6z"/>
<path color="#12f935" d="M607.8 154.1l3.9 2.8-3.2-7.5-4-2.7z"/>
<path color="#12f827" d="M603.8 151.2l4 2.9-3.3-7.4-3.9-2.6z"/>
<path color="#12f819" d="M599.9 148.4l3.9 2.8-3.2-7.1-4-2.6z"/>
<path color="#12f8b1" d="M622.8 170.7l4 3.1-3.3-8.3-3.9-2.9z"/>
<path color="#12f899" d="M618.9 167.6l3.9 3.1-3.2-8.1-3.9-2.8z"/>
<path color="#12f87b" d="M615 164.5l3.9 3.1-3.2-7.8-4-2.9z"/>
<path color="#12f85b" d="M611 161.4l4 3.1-3.3-7.6-3.9-2.8z"/>
<path color="#12f73b" d="M607.1 158.3l3.9 3.1-3.2-7.3-4-2.9z"/>
<path color="#12f72a" d="M603.2 155.2l3.9 3.1-3.3-7.1-3.9-2.8z"/>
<path color="#12f7d3" d="M626.1 178.7l3.9 3.3-3.2-8.2-4-3.1z"/>
<path color="#12f7bb" d="M622.2 175.4l3.9 3.3-3.3-8-3.9-3.1z"/>
<path color="#12f7a1" d="M618.2 172l4 3.4-3.3-7.8-3.9-3.1z"/>
<path color="#12f681" d="M614.3 168.7l3.9 3.3-3.2-7.5-4-3.1z"/>
<path color="#12f65f" d="M610.4 165.4l3.9 3.3-3.3-7.3-3.9-3.1z"/>
<path color="#12f63f" d="M606.4 162.1l4 3.3-3.3-7.1-3.9-3.1z"/>
<path color="#12f6f1" d="M629.3 186.7l3.9 3.6-3.2-8.3-3.9-3.3z"/>
<path color="#12f6da" d="M625.4 183.2l3.9 3.5-3.2-8-3.9-3.3z"/>
<path color="#12f6bf" d="M621.5 179.6l3.9 3.6-3.2-7.8-4-3.4z"/>
<path color="#12f5a3" d="M617.6 176.1l3.9 3.5-3.3-7.6-3.9-3.3z"/>
<path color="#12f582" d="M613.6 172.5l4 3.6-3.3-7.4-3.9-3.3z"/>
<path color="#12f560" d="M609.7 168.9l3.9 3.6-3.2-7.1-4-3.3z"/>
<path color="#71fc12" d="M579.9 119.1l8 4.1-4.4-9.1-7.9-4z"/>
<path color="#90fb12" d="M572 114.9l7.9 4.2-4.3-9-8-4z"/>
<path color="#b6fb12" d="M564.1 110.7l7.9 4.2-4.4-8.8-7.9-4z"/>
<path color="#53fb12" d="M584.3 128l7.9 4.4-4.3-9.2-8-4.1z"/>
<path color="#74fb12" d="M576.4 123.7l7.9 4.3-4.4-8.9-7.9-4.2z"/>
<path color="#90fb12" d="M568.5 119.4l7.9 4.3-4.4-8.8-7.9-4.2z"/>
<path color="#36fb12" d="M588.7 137l7.9 4.5-4.4-9.1-7.9-4.4z"/>
<path color="#58fb12" d="M580.8 132.6l7.9 4.4-4.4-9-7.9-4.3z"/>
<path color="#74fa12" d="M572.8 128.1l8 4.5-4.4-8.9-7.9-4.3z"/>
<path color="#1dfa12" d="M593.1 146l7.9 4.7-4.4-9.2-7.9-4.5z"/>
<path color="#3bfa12" d="M585.1 141.4l8 4.6-4.4-9-7.9-4.4z"/>
<path color="#59fa12" d="M577.2 136.8l7.9 4.6-4.3-8.8-8-4.5z"/>
<path color="#12fa1d" d="M597.4 155l7.9 4.8-4.3-9.1-7.9-4.7z"/>
<path color="#22fa12" d="M589.5 150.2l7.9 4.8-4.3-9-8-4.6z"/>
<path color="#3efa12" d="M581.6 145.5l7.9 4.7-4.4-8.8-7.9-4.6z"/>
<path color="#12fa33" d="M601.8 164l7.9 4.9-4.4-9.1-7.9-4.8z"/>
<path color="#12f917" d="M593.9 159.1l7.9 4.9-4.4-9-7.9-4.8z"/>
<path color="#24f912" d="M586 154.1l7.9 5-4.4-8.9-7.9-4.7z"/>
<path color="#c6ff17" d="M561.9 116.6l2.2-5.9-4.4-8.6-2.2 6.1z"/>
<path color="#a9ff17" d="M559.7 122.4l2.2-5.8-4.4-8.4-2.2 6.1z"/>
<path color="#92ff17" d="M557.5 128.2l2.2-5.8-4.4-8.1-2.2 6.2z"/>
<path color="#7aff16" d="M555.3 134l2.2-5.8-4.4-7.7-2.2 6.1z"/>
<path color="#60ff16" d="M553.1 139.9l2.2-5.9-4.4-7.4-2.3 6.1z"/>
<path color="#44ff16" d="M550.9 145.7l2.2-5.8-4.5-7.2-2.2 6.2z"/>
<path color="#2aff15" d="M548.7 151.5l2.2-5.8-4.5-6.8-2.2 6.1z"/>
<path color="#15ff18" d="M546.5 157.3l2.2-5.8-4.5-6.5-2.2 6.1z"/>
<path color="#15ff2f" d="M544.3 163.1l2.2-5.8-4.5-6.2-2.2 6.1z"/>
<path color="#15ff4e" d="M542.1 169l2.2-5.9-4.5-5.9-2.2 6.2z"/>
<path color="#15ff7a" d="M539.9 174.8l2.2-5.8-4.5-5.6-2.2 6.1z"/>
<path color="#14ffa2" d="M537.7 180.6l2.2-5.8-4.5-5.3-2.2 6.1z"/>
<path color="#9fff18" d="M566.3 124.9l2.2-5.5-4.4-8.7-2.2 5.9z"/>
<path color="#8eff17" d="M564.1 130.4l2.2-5.5-4.4-8.3-2.2 5.8z"/>
<path color="#7aff17" d="M561.9 136l2.2-5.6-4.4-8-2.2 5.8z"/>
<path color="#64ff17" d="M559.7 141.5l2.2-5.5-4.4-7.8-2.2 5.8z"/>
<path color="#4cff16" d="M557.5 147l2.2-5.5-4.4-7.5-2.2 5.9z"/>
<path color="#33ff16" d="M555.3 152.5l2.2-5.5-4.4-7.1-2.2 5.8z"/>
<path color="#1eff16" d="M553.1 158l2.2-5.5-4.4-6.8-2.2 5.8z"/>
<path color="#16ff23" d="M550.9 163.5l2.2-5.5-4.4-6.5-2.2 5.8z"/>
<path color="#15ff39" d="M548.7 169l2.2-5.5-4.4-6.2-2.2 5.8z"/>
<path color="#15ff60" d="M546.5 174.5l2.2-5.5-4.4-5.9-2.2 5.9z"/>
<path color="#15ff8b" d="M544.3 180l2.2-5.5-4.4-5.5-2.2 5.8z"/>
<path color="#15ffae" d="M542.2 185.6l2.1-5.6-4.4-5.2-2.2 5.8z"/>
<path color="#84ff18" d="M570.7 133.3l2.1-5.2-4.3-8.7-2.2 5.5z"/>
<path color="#74ff18" d="M568.5 138.5l2.2-5.2-4.4-8.4-2.2 5.5z"/>
<path color="#62ff18" d="M566.3 143.7l2.2-5.2-4.4-8.1-2.2 5.6z"/>
<path color="#4dff17" d="M564.1 148.9l2.2-5.2-4.4-7.7-2.2 5.5z"/>
<path color="#37ff17" d="M561.9 154.1l2.2-5.2-4.4-7.4-2.2 5.5z"/>
<path color="#23ff17" d="M559.7 159.3l2.2-5.2-4.4-7.1-2.2 5.5z"/>
<path color="#16ff1c" d="M557.6 164.5l2.1-5.2-4.4-6.8-2.2 5.5z"/>
<path color="#16ff30" d="M555.4 169.7l2.2-5.2-4.5-6.5-2.2 5.5z"/>
<path color="#16ff4d" d="M553.2 174.9l2.2-5.2-4.5-6.2-2.2 5.5z"/>
<path color="#15ff77" d="M551 180.1l2.2-5.2-4.5-5.9-2.2 5.5z"/>
<path color="#15ff9f" d="M548.8 185.3l2.2-5.2-4.5-5.6-2.2 5.5z"/>
<path color="#15ffbd" d="M546.6 190.5l2.2-5.2-4.5-5.3-2.1 5.6z"/>
<path color="#69ff19" d="M575 141.7l2.2-4.9-4.4-8.7-2.1 5.2z"/>
<path color="#5aff19" d="M572.9 146.6l2.1-4.9-4.3-8.4-2.2 5.2z"/>
<path color="#49ff18" d="M570.7 151.5l2.2-4.9-4.4-8.1-2.2 5.2z"/>
<path color="#36ff18" d="M568.5 156.3l2.2-4.8-4.4-7.8-2.2 5.2z"/>
<path color="#25ff17" d="M566.4 161.2l2.1-4.9-4.4-7.4-2.2 5.2z"/>
<path color="#17ff1b" d="M564.2 166.1l2.2-4.9-4.5-7.1-2.2 5.2z"/>
<path color="#17ff2d" d="M562 171l2.2-4.9-4.5-6.8-2.1 5.2z"/>
<path color="#16ff40" d="M559.8 175.9l2.2-4.9-4.4-6.5-2.2 5.2z"/>
<path color="#16ff69" d="M557.7 180.8l2.1-4.9-4.4-6.2-2.2 5.2z"/>
<path color="#16ff90" d="M555.5 185.7l2.2-4.9-4.5-5.9-2.2 5.2z"/>
<path color="#15ffb2" d="M553.3 190.6l2.2-4.9-4.5-5.6-2.2 5.2z"/>
<path color="#15ffce" d="M551.1 195.5l2.2-4.9-4.5-5.3-2.2 5.2z"/>
<path color="#4eff1a" d="M579.4 150l2.2-4.5-4.4-8.7-2.2 4.9z"/>
<path color="#40ff19" d="M577.3 154.6l2.1-4.6-4.4-8.3-2.1 4.9z"/>
<path color="#31ff19" d="M575.1 159.2l2.2-4.6-4.4-8-2.2 4.9z"/>
<path color="#23ff19" d="M573 163.8l2.1-4.6-4.4-7.7-2.2 4.8z"/>
<path color="#18ff1e" d="M570.8 168.4l2.2-4.6-4.5-7.5-2.1 4.9z"/>
<path color="#18ff2d" d="M568.6 173l2.2-4.6-4.4-7.2-2.2 4.9z"/>
<path color="#17ff3e" d="M566.5 177.5l2.1-4.5-4.4-6.9-2.2 4.9z"/>
<path color="#17ff61" d="M564.3 182.1l2.2-4.6-4.5-6.5-2.2 4.9z"/>
<path color="#17ff86" d="M562.1 186.7l2.2-4.6-4.5-6.2-2.1 4.9z"/>
<path color="#16ffaa" d="M560 191.3l2.1-4.6-4.4-5.9-2.2 4.9z"/>
<path color="#16ffc6" d="M557.8 195.9l2.2-4.6-4.5-5.6-2.2 4.9z"/>
<path color="#16ffe0" d="M555.6 200.4l2.2-4.5-4.5-5.3-2.2 4.9z"/>
<path color="#34ff1b" d="M583.8 158.4l2.2-4.3-4.4-8.6-2.2 4.5z"/>
<path color="#29ff1a" d="M581.7 162.7l2.1-4.3-4.4-8.4-2.1 4.6z"/>
<path color="#1dff1a" d="M579.5 167l2.2-4.3-4.4-8.1-2.2 4.6z"/>
<path color="#19ff23" d="M577.4 171.2l2.1-4.2-4.4-7.8-2.1 4.6z"/>
<path color="#19ff31" d="M575.2 175.5l2.2-4.3-4.4-7.4-2.2 4.6z"/>
<path color="#18ff40" d="M573.1 179.8l2.1-4.3-4.4-7.1-2.2 4.6z"/>
<path color="#18ff5f" d="M570.9 184l2.2-4.2-4.5-6.8-2.1 4.5z"/>
<path color="#18ff81" d="M568.8 188.3l2.1-4.3-4.4-6.5-2.2 4.6z"/>
<path color="#17ffa4" d="M566.6 192.6l2.2-4.3-4.5-6.2-2.2 4.6z"/>
<path color="#17ffbf" d="M564.5 196.9l2.1-4.3-4.5-5.9-2.1 4.6z"/>
<path color="#16ffd9" d="M562.3 201.1l2.2-4.2-4.5-5.6-2.2 4.6z"/>
<path color="#16fff2" d="M560.1 205.4l2.2-4.3-4.5-5.2-2.2 4.5z"/>
<path color="#17ffd1" d="M537.9 192.7l4.3-7.1-9-10-4.3 6.7z"/>
<path color="#18fffa" d="M533.6 199.8l4.3-7.1-9-10.4-4.2 6.7z"/>
<path color="#19ffff" d="M529.4 206.8l4.2-7-8.9-10.8-4.3 6.7z"/>
<path color="#19f0ff" d="M525.1 213.9l4.3-7.1-9-11.1-4.2 6.7z"/>
<path color="#19d1ff" d="M520.9 221l4.2-7.1-8.9-11.5-4.3 6.6z"/>
<path color="#19aeff" d="M516.6 228.1l4.3-7.1-9-12-4.2 6.7z"/>
<path color="#17ffed" d="M546.9 203l4.2-7.5-8.9-9.9-4.3 7.1z"/>
<path color="#19ffff" d="M542.6 210.5l4.3-7.5-9-10.3-4.3 7.1z"/>
<path color="#18f3ff" d="M538.3 218l4.3-7.5-9-10.7-4.2 7z"/>
<path color="#18d2ff" d="M534.1 225.5l4.2-7.5-8.9-11.2-4.3 7.1z"/>
<path color="#18a8ff" d="M529.8 233l4.3-7.5-9-11.6-4.2 7.1z"/>
<path color="#1986ff" d="M525.5 240.5l4.3-7.5-8.9-12-4.3 7.1z"/>
<path color="#18ffff" d="M555.9 213.3l4.2-7.9-9-9.9-4.2 7.5z"/>
<path color="#17f5ff" d="M551.6 221.3l4.3-8-9-10.3-4.3 7.5z"/>
<path color="#17d6ff" d="M547.3 229.2l4.3-7.9-9-10.8-4.3 7.5z"/>
<path color="#18a9ff" d="M543 237.1l4.3-7.9-9-11.2-4.2 7.5z"/>
<path color="#1882ff" d="M538.7 245l4.3-7.9-8.9-11.6-4.3 7.5z"/>
<path color="#185fff" d="M534.4 253l4.3-8-8.9-12-4.3 7.5z"/>
<path color="#371edc" d="M703.4 225.4l5.9 4.8-4.6-2.9-5.9-5.1z"/>
<path color="#1e1edc" d="M697.5 220.6l5.9 4.8-4.6-3.2-5.9-5.1z"/>
<path color="#1a2edc" d="M691.6 215.8l5.9 4.8-4.6-3.5-5.9-5.1z"/>
<path color="#123fec" d="M685.7 211.1l5.9 4.7-4.6-3.8-5.9-5.1z"/>
<path color="#391edc" d="M708 228.7l5.9 4.5-4.6-3-5.9-4.8z"/>
<path color="#201edc" d="M702 224.2l6 4.5-4.6-3.3-5.9-4.8z"/>
<path color="#1221ec" d="M696.1 219.7l5.9 4.5-4.5-3.6-5.9-4.8z"/>
<path color="#1238ed" d="M690.2 215.2l5.9 4.5-4.5-3.9-5.9-4.7z"/>
<path color="#3b1edc" d="M712.5 232l5.9 4.1-4.5-2.9-5.9-4.5z"/>
<path color="#1c12ed" d="M706.6 227.8l5.9 4.2-4.5-3.3-6-4.5z"/>
<path color="#121eed" d="M700.7 223.6l5.9 4.2-4.6-3.6-5.9-4.5z"/>
<path color="#1232ee" d="M694.8 219.4l5.9 4.2-4.6-3.9-5.9-4.5z"/>
<path color="#125ff6" d="M677.7 207.7l8 3.4-4.6-4.2-7.9-4z"/>
<path color="#127ff7" d="M669.8 204.3l7.9 3.4-4.5-4.8-7.9-4z"/>
<path color="#129ff9" d="M661.8 200.9l8 3.4-4.5-5.4-8-4.1z"/>
<path color="#1256f8" d="M682.2 212.5l8 2.7-4.5-4.1-8-3.4z"/>
<path color="#1272f9" d="M674.2 209.7l8 2.8-4.5-4.8-7.9-3.4z"/>
<path color="#128ffb" d="M666.3 206.9l7.9 2.8-4.4-5.4-8-3.4z"/>
<path color="#124efa" d="M686.7 217.3l8.1 2.1-4.6-4.2-8-2.7z"/>
<path color="#1266fc" d="M678.7 215.1l8 2.2-4.5-4.8-8-2.8z"/>
<path color="#127ffd" d="M670.7 213l8 2.1-4.5-5.4-7.9-2.8z"/>
<path color="#12c4ff" d="M653.8 199.6l8 1.3-4.5-6.1-8-1.5z"/>
<path color="#12dcff" d="M645.7 198.3l8.1 1.3-4.5-6.3-8-1.5z"/>
<path color="#12e9ff" d="M637.7 196.9l8 1.4-4.4-6.5-8.1-1.5z"/>
<path color="#12abff" d="M658.2 205.8l8.1 1.1-4.5-6-8-1.3z"/>
<path color="#12c2ff" d="M650.2 204.7l8 1.1-4.4-6.2-8.1-1.3z"/>
<path color="#13daff" d="M642.1 203.6l8.1 1.1-4.5-6.4-8-1.4z"/>
<path color="#1398ff" d="M662.7 212.1l8 .9-4.4-6.1-8.1-1.1z"/>
<path color="#13aaff" d="M654.6 211.2l8.1 .9-4.5-6.3-8-1.1z"/>
<path color="#13c0ff" d="M646.6 210.3l8 .9-4.4-6.5-8.1-1.1z"/>
<path color="#12e6f0" d="M633.8 193.4l3.9 3.5-4.5-6.6-3.9-3.6z"/>
<path color="#12f1ee" d="M629.8 189.9l4 3.5-4.5-6.7-3.9-3.5z"/>
<path color="#12f1d6" d="M625.9 186.4l3.9 3.5-4.4-6.7-3.9-3.6z"/>
<path color="#12f1ba" d="M622 182.9l3.9 3.5-4.4-6.8-3.9-3.5z"/>
<path color="#12f19e" d="M618.1 179.4l3.9 3.5-4.4-6.8-4-3.6z"/>
<path color="#12f180" d="M614.2 175.9l3.9 3.5-4.5-6.9-3.9-3.6z"/>
<path color="#12d9f1" d="M638.2 200.2l3.9 3.4-4.4-6.7-3.9-3.5z"/>
<path color="#12e7f1" d="M634.3 196.7l3.9 3.5-4.4-6.8-4-3.5z"/>
<path color="#12f1ec" d="M630.4 193.3l3.9 3.4-4.5-6.8-3.9-3.5z"/>
<path color="#12f1d3" d="M626.4 189.8l4 3.5-4.5-6.9-3.9-3.5z"/>
<path color="#12f1b8" d="M622.5 186.4l3.9 3.4-4.4-6.9-3.9-3.5z"/>
<path color="#12f19e" d="M618.6 182.9l3.9 3.5-4.4-7-3.9-3.5z"/>
<path color="#12cbf1" d="M642.7 206.9l3.9 3.4-4.5-6.7-3.9-3.4z"/>
<path color="#12dbf1" d="M638.7 203.5l4 3.4-4.5-6.7-3.9-3.5z"/>
<path color="#12e9f1" d="M634.8 200.1l3.9 3.4-4.4-6.8-3.9-3.4z"/>
<path color="#12f1ea" d="M630.9 196.7l3.9 3.4-4.4-6.8-4-3.5z"/>
<path color="#12f1cf" d="M627 193.3l3.9 3.4-4.5-6.9-3.9-3.4z"/>
<path color="#12f1b5" d="M623 189.9l4 3.4-4.5-6.9-3.9-3.5z"/>
<path color="#12f957" d="M606.2 171.9l8 4-4.5-7-7.9-4.9z"/>
<path color="#12fa2d" d="M598.3 167.9l7.9 4-4.4-7.9-7.9-4.9z"/>
<path color="#12fb16" d="M590.3 163.9l8 4-4.4-8.8-7.9-5z"/>
<path color="#12fc7d" d="M610.6 179.8l8 3.1-4.4-7-8-4z"/>
<path color="#12fd4c" d="M602.7 176.7l7.9 3.1-4.4-7.9-7.9-4z"/>
<path color="#12fd2f" d="M594.7 173.7l8 3-4.4-8.8-8-4z"/>
<path color="#12ffa1" d="M615 187.7l8 2.2-4.4-7-8-3.1z"/>
<path color="#12ff79" d="M607 185.6l8 2.1-4.4-7.9-7.9-3.1z"/>
<path color="#12ff57" d="M599 183.4l8 2.2-4.3-8.9-8-3z"/>
<path color="#1fff1d" d="M586 167.5l3.2-6-3.2-7.4-3.2 6.4z"/>
<path color="#1cff29" d="M582.8 173.5l3.2-6-3.2-7-3.3 6.5z"/>
<path color="#1bff3a" d="M579.6 179.5l3.2-6-3.3-6.5-3.2 6.4z"/>
<path color="#1bff5a" d="M576.4 185.5l3.2-6-3.3-6.1-3.2 6.4z"/>
<path color="#1aff88" d="M573.2 191.5l3.2-6-3.3-5.7-3.3 6.4z"/>
<path color="#19ffb4" d="M569.9 197.5l3.3-6-3.4-5.3-3.2 6.4z"/>
<path color="#18ffd9" d="M566.7 203.5l3.2-6-3.3-4.9-3.2 6.4z"/>
<path color="#17fffd" d="M563.5 209.5l3.2-6-3.3-4.5-3.3 6.4z"/>
<path color="#1eff2f" d="M589.3 174.4l3.2-5.6-3.3-7.3-3.2 6z"/>
<path color="#1dff3c" d="M586.1 180l3.2-5.6-3.3-6.9-3.2 6z"/>
<path color="#1cff54" d="M582.9 185.6l3.2-5.6-3.3-6.5-3.2 6z"/>
<path color="#1bff7a" d="M579.7 191.2l3.2-5.6-3.3-6.1-3.2 6z"/>
<path color="#1affa4" d="M576.5 196.8l3.2-5.6-3.3-5.7-3.2 6z"/>
<path color="#1affc8" d="M573.3 202.4l3.2-5.6-3.3-5.3-3.3 6z"/>
<path color="#19ffea" d="M570.1 208l3.2-5.6-3.4-4.9-3.2 6z"/>
<path color="#19ffff" d="M566.9 213.5l3.2-5.5-3.4-4.5-3.2 6z"/>
<path color="#1fff43" d="M592.6 181.3l3.2-5.2-3.3-7.3-3.2 5.6z"/>
<path color="#1eff58" d="M589.4 186.5l3.2-5.2-3.3-6.9-3.2 5.6z"/>
<path color="#1dff77" d="M586.2 191.7l3.2-5.2-3.3-6.5-3.2 5.6z"/>
<path color="#1cff9b" d="M583 196.9l3.2-5.2-3.3-6.1-3.2 5.6z"/>
<path color="#1bffbc" d="M579.8 202.1l3.2-5.2-3.3-5.7-3.2 5.6z"/>
<path color="#1affdc" d="M576.6 207.2l3.2-5.1-3.3-5.3-3.2 5.6z"/>
<path color="#19fffc" d="M573.4 212.4l3.2-5.2-3.3-4.8-3.2 5.6z"/>
<path color="#1affff" d="M570.2 217.6l3.2-5.2-3.3-4.4-3.2 5.5z"/>
<path color="#20ff68" d="M595.9 188.2l3.1-4.8-3.2-7.3-3.2 5.2z"/>
<path color="#1fff7f" d="M592.7 193l3.2-4.8-3.3-6.9-3.2 5.2z"/>
<path color="#1eff9b" d="M589.5 197.8l3.2-4.8-3.3-6.5-3.2 5.2z"/>
<path color="#1dffb8" d="M586.3 202.6l3.2-4.8-3.3-6.1-3.2 5.2z"/>
<path color="#1cffd4" d="M583.1 207.3l3.2-4.7-3.3-5.7-3.2 5.2z"/>
<path color="#1bfff1" d="M580 212.1l3.1-4.8-3.3-5.2-3.2 5.1z"/>
<path color="#1cffff" d="M576.8 216.9l3.2-4.8-3.4-4.9-3.2 5.2z"/>
<path color="#19ffff" d="M573.6 221.7l3.2-4.8-3.4-4.5-3.2 5.2z"/>
<path color="#17ffff" d="M560.3 218.7l4.3-7.9-4.5-5.4-4.2 7.9z"/>
<path color="#17e7ff" d="M556.1 226.5l4.2-7.8-4.4-5.4-4.3 8z"/>
<path color="#17b9ff" d="M551.8 234.3l4.3-7.8-4.5-5.2-4.3 7.9z"/>
<path color="#1790ff" d="M547.5 242.1l4.3-7.8-4.5-5.1-4.3 7.9z"/>
<path color="#1669ff" d="M543.2 249.9l4.3-7.8-4.5-5-4.3 7.9z"/>
<path color="#1646ff" d="M538.9 257.8l4.3-7.9-4.5-4.9-4.3 8z"/>
<path color="#17f6ff" d="M564.8 224l4.3-7.7-4.5-5.5-4.3 7.9z"/>
<path color="#17d8ff" d="M560.6 231.7l4.2-7.7-4.5-5.3-4.2 7.8z"/>
<path color="#17aaff" d="M556.3 239.4l4.3-7.7-4.5-5.2-4.3 7.8z"/>
<path color="#1783ff" d="M552 247.1l4.3-7.7-4.5-5.1-4.3 7.8z"/>
<path color="#175eff" d="M547.7 254.9l4.3-7.8-4.5-5-4.3 7.8z"/>
<path color="#163bff" d="M543.4 262.6l4.3-7.7-4.5-5-4.3 7.9z"/>
<path color="#17edff" d="M569.3 229.3l4.3-7.6-4.5-5.4-4.3 7.7z"/>
<path color="#17c6ff" d="M565.1 236.9l4.2-7.6-4.5-5.3-4.2 7.7z"/>
<path color="#179dff" d="M560.8 244.5l4.3-7.6-4.5-5.2-4.3 7.7z"/>
<path color="#1776ff" d="M556.5 252.2l4.3-7.7-4.5-5.1-4.3 7.7z"/>
<path color="#1753ff" d="M552.2 259.8l4.3-7.6-4.5-5.1-4.3 7.8z"/>
<path color="#1633ff" d="M547.9 267.4l4.3-7.6-4.5-4.9-4.3 7.7z"/>
<path color="#3612ed" d="M715.1 234l7.9 5.2-4.6-3.1-7.9-5.5z"/>
<path color="#1412ee" d="M707.2 228.8l7.9 5.2-4.6-3.4-7.9-5.6z"/>
<path color="#122aef" d="M699.3 223.6l7.9 5.2-4.6-3.8-7.8-5.6z"/>
<path color="#3a12ee" d="M719.7 237.5l7.9 4.8-4.6-3.1-7.9-5.2z"/>
<path color="#1812ef" d="M711.7 232.7l8 4.8-4.6-3.5-7.9-5.2z"/>
<path color="#1225f0" d="M703.8 227.8l7.9 4.9-4.5-3.9-7.9-5.2z"/>
<path color="#3d12ef" d="M724.2 241l8 4.4-4.6-3.1-7.9-4.8z"/>
<path color="#1c12f0" d="M716.3 236.5l7.9 4.5-4.5-3.5-8-4.8z"/>
<path color="#1220f1" d="M708.4 232l7.9 4.5-4.6-3.8-7.9-4.9z"/>
<path color="#1245fc" d="M691.3 222l8 1.6-4.5-4.2-8.1-2.1z"/>
<path color="#125afd" d="M683.2 220.4l8.1 1.6-4.6-4.7-8-2.2z"/>
<path color="#126ffe" d="M675.2 218.7l8 1.7-4.5-5.3-8-2.1z"/>
<path color="#123cfe" d="M695.8 226.7l8 1.1-4.5-4.2-8-1.6z"/>
<path color="#124eff" d="M687.7 225.6l8.1 1.1-4.5-4.7-8.1-1.6z"/>
<path color="#1260ff" d="M679.7 224.5l8 1.1-4.5-5.2-8-1.7z"/>
<path color="#1234ff" d="M700.3 231.4l8.1 .6-4.6-4.2-8-1.1z"/>
<path color="#1244ff" d="M692.2 230.8l8.1 .6-4.5-4.7-8.1-1.1z"/>
<path color="#1253ff" d="M684.2 230.2l8 .6-4.5-5.2-8-1.1z"/>
<path color="#1385ff" d="M667.2 218.1l8 .6-4.5-5.7-8-.9z"/>
<path color="#1395ff" d="M659.1 217.5l8.1 .6-4.5-6-8.1-.9z"/>
<path color="#13a6ff" d="M651.1 217l8 .5-4.5-6.3-8-.9z"/>
<path color="#1372ff" d="M671.6 224.2l8.1 .3-4.5-5.8-8-.6z"/>
<path color="#1380ff" d="M663.6 223.9l8 .3-4.4-6.1-8.1-.6z"/>
<path color="#1390ff" d="M655.5 223.6l8.1 .3-4.5-6.4-8-.5z"/>
<path color="#1361ff" d="M676.1 230.2l8.1 0-4.5-5.7-8.1-.3z"/>
<path color="#136dff" d="M668 230.3l8.1-.1-4.5-6-8-.3z"/>
<path color="#137aff" d="M660 230.3l8 0-4.4-6.4-8.1-.3z"/>
<path color="#12b0f0" d="M647.1 213.2l4 3.8-4.5-6.7-3.9-3.4z"/>
<path color="#12ccef" d="M643.2 209.4l3.9 3.8-4.4-6.3-4-3.4z"/>
<path color="#12dcee" d="M639.3 205.7l3.9 3.7-4.5-5.9-3.9-3.4z"/>
<path color="#12ebee" d="M635.4 201.9l3.9 3.8-4.5-5.6-3.9-3.4z"/>
<path color="#12eddc" d="M631.5 198.1l3.9 3.8-4.5-5.2-3.9-3.4z"/>
<path color="#12ecc2" d="M627.6 194.4l3.9 3.7-4.5-4.8-4-3.4z"/>
<path color="#1296ee" d="M651.6 219.5l3.9 4.1-4.4-6.6-4-3.8z"/>
<path color="#12b3ed" d="M647.7 215.4l3.9 4.1-4.5-6.3-3.9-3.8z"/>
<path color="#12d0ed" d="M643.8 211.3l3.9 4.1-4.5-6-3.9-3.7z"/>
<path color="#12e1ec" d="M639.9 207.1l3.9 4.2-4.5-5.6-3.9-3.8z"/>
<path color="#12ebe5" d="M636 203l3.9 4.1-4.5-5.2-3.9-3.8z"/>
<path color="#12eacc" d="M632.1 198.9l3.9 4.1-4.5-4.9-3.9-3.7z"/>
<path color="#1281ec" d="M656.1 225.8l3.9 4.5-4.5-6.7-3.9-4.1z"/>
<path color="#129cec" d="M652.2 221.3l3.9 4.5-4.5-6.3-3.9-4.1z"/>
<path color="#12c1eb" d="M648.3 216.8l3.9 4.5-4.5-5.9-3.9-4.1z"/>
<path color="#12d8ea" d="M644.4 212.3l3.9 4.5-4.5-5.5-3.9-4.2z"/>
<path color="#12eae9" d="M640.5 207.9l3.9 4.4-4.5-5.2-3.9-4.1z"/>
<path color="#1ad5cb" d="M636.6 203.4l3.9 4.5-4.5-4.9-3.9-4.1z"/>
<path color="#12ffb6" d="M618.4 192.3l8 1-3.4-3.4-8-2.2z"/>
<path color="#12ff9e" d="M610.3 191.4l8.1 .9-3.4-4.6-8-2.1z"/>
<path color="#13ff84" d="M602.3 190.5l8 .9-3.3-5.8-8-2.2z"/>
<path color="#13ffc9" d="M621.7 197l8.1-.4-3.4-3.3-8-1z"/>
<path color="#13ffb8" d="M613.7 197.3l8-.3-3.3-4.7-8.1-.9z"/>
<path color="#14ffa9" d="M605.6 197.6l8.1-.3-3.4-5.9-8-.9z"/>
<path color="#14ffda" d="M625.1 201.6l8.1-1.6-3.4-3.4-8.1 .4z"/>
<path color="#15ffd1" d="M617 203.2l8.1-1.6-3.4-4.6-8 .3z"/>
<path color="#15ffc8" d="M608.8 204.7l8.2-1.5-3.3-5.9-8.1 .3z"/>
<path color="#15ffe8" d="M628.4 206.2l8.2-2.8-3.4-3.4-8.1 1.6z"/>
<path color="#16ffe8" d="M620.3 209l8.1-2.8-3.3-4.6-8.1 1.6z"/>
<path color="#17ffe7" d="M612.1 211.8l8.2-2.8-3.3-5.8-8.2 1.5z"/>
<path color="#20ff93" d="M598.1 196.4l4.2-5.9-3.3-7.1-4.2 6.4z"/>
<path color="#1fffb0" d="M593.9 202.3l4.2-5.9-3.3-6.6-4.2 6.4z"/>
<path color="#1effce" d="M589.6 208.2l4.3-5.9-3.3-6.1-4.3 6.4z"/>
<path color="#1dffef" d="M585.4 214l4.2-5.8-3.3-5.6-4.2 6.3z"/>
<path color="#1effff" d="M581.2 219.9l4.2-5.9-3.3-5.1-4.3 6.4z"/>
<path color="#1afcff" d="M577 225.8l4.2-5.9-3.4-4.6-4.2 6.4z"/>
<path color="#21ffb7" d="M601.4 203l4.2-5.4-3.3-7.1-4.2 5.9z"/>
<path color="#20ffcd" d="M597.2 208.4l4.2-5.4-3.3-6.6-4.2 5.9z"/>
<path color="#1fffe8" d="M593 213.7l4.2-5.3-3.3-6.1-4.3 5.9z"/>
<path color="#1fffff" d="M588.7 219.1l4.3-5.4-3.4-5.5-4.2 5.8z"/>
<path color="#1dffff" d="M584.5 224.5l4.2-5.4-3.3-5.1-4.2 5.9z"/>
<path color="#1af5ff" d="M580.3 229.8l4.2-5.3-3.3-4.6-4.2 5.9z"/>
<path color="#21ffd6" d="M604.7 209.6l4.1-4.9-3.2-7.1-4.2 5.4z"/>
<path color="#21ffea" d="M600.5 214.5l4.2-4.9-3.3-6.6-4.2 5.4z"/>
<path color="#20ffff" d="M596.3 219.3l4.2-4.8-3.3-6.1-4.2 5.3z"/>
<path color="#20ffff" d="M592.1 224.2l4.2-4.9-3.3-5.6-4.3 5.4z"/>
<path color="#1cfdff" d="M587.9 229l4.2-4.8-3.4-5.1-4.2 5.4z"/>
<path color="#1bedff" d="M583.7 233.9l4.2-4.9-3.4-4.5-4.2 5.3z"/>
<path color="#22fff5" d="M607.9 216.2l4.2-4.4-3.3-7.1-4.1 4.9z"/>
<path color="#2ff" d="M603.8 220.6l4.1-4.4-3.2-6.6-4.2 4.9z"/>
<path color="#2ff" d="M599.6 224.9l4.2-4.3-3.3-6.1-4.2 4.8z"/>
<path color="#1fffff" d="M595.4 229.3l4.2-4.4-3.3-5.6-4.2 4.9z"/>
<path color="#1df4ff" d="M591.2 233.6l4.2-4.3-3.3-5.1-4.2 4.8z"/>
<path color="#1be0ff" d="M587.1 238l4.1-4.4-3.3-4.6-4.2 4.9z"/>
<path color="#17e1ff" d="M573.8 234.7l4.3-7.6-4.5-5.4-4.3 7.6z"/>
<path color="#17b5ff" d="M569.5 242.2l4.3-7.5-4.5-5.4-4.2 7.6z"/>
<path color="#178fff" d="M565.3 249.7l4.2-7.5-4.4-5.3-4.3 7.6z"/>
<path color="#176aff" d="M561 257.3l4.3-7.6-4.5-5.2-4.3 7.7z"/>
<path color="#1748ff" d="M556.7 264.8l4.3-7.5-4.5-5.1-4.3 7.6z"/>
<path color="#172aff" d="M552.4 272.4l4.3-7.6-4.5-5-4.3 7.6z"/>
<path color="#17ceff" d="M578.3 240l4.3-7.4-4.5-5.5-4.3 7.6z"/>
<path color="#17a6ff" d="M574 247.5l4.3-7.5-4.5-5.3-4.3 7.5z"/>
<path color="#1782ff" d="M569.8 254.9l4.2-7.4-4.5-5.3-4.2 7.5z"/>
<path color="#175eff" d="M565.5 262.4l4.3-7.5-4.5-5.2-4.3 7.6z"/>
<path color="#173cff" d="M561.2 269.9l4.3-7.5-4.5-5.1-4.3 7.5z"/>
<path color="#1721ff" d="M556.9 277.3l4.3-7.4-4.5-5.1-4.3 7.6z"/>
<path color="#17bbff" d="M582.8 245.4l4.3-7.4-4.5-5.4-4.3 7.4z"/>
<path color="#1798ff" d="M578.5 252.8l4.3-7.4-4.5-5.4-4.3 7.5z"/>
<path color="#1774ff" d="M574.3 260.1l4.2-7.3-4.5-5.3-4.2 7.4z"/>
<path color="#1753ff" d="M570 267.5l4.3-7.4-4.5-5.2-4.3 7.5z"/>
<path color="#1733ff" d="M565.7 274.9l4.3-7.4-4.5-5.1-4.3 7.5z"/>
<path color="#1718ff" d="M561.4 282.3l4.3-7.4-4.5-5-4.3 7.4z"/>
<path color="#3f12ef" d="M733.4 246.8l7.9 4.7-9.1-6.1-8-4.4z"/>
<path color="#1d12ee" d="M725.5 242l7.9 4.8-9.2-5.8-7.9-4.5z"/>
<path color="#121eee" d="M717.5 237.3l8 4.7-9.2-5.5-7.9-4.5z"/>
<path color="#4112ee" d="M742.6 252.6l7.9 5-9.2-6.1-7.9-4.7z"/>
<path color="#1d12ed" d="M734.6 247.6l8 5-9.2-5.8-7.9-4.8z"/>
<path color="#1a28dc" d="M726.7 242.6l7.9 5-9.1-5.6-8-4.7z"/>
<path color="#441edc" d="M751.7 258.4l7.9 5.2-9.1-6-7.9-5z"/>
<path color="#241edc" d="M743.8 253.1l7.9 5.3-9.1-5.8-8-5z"/>
<path color="#1a28dc" d="M735.9 247.8l7.9 5.3-9.2-5.5-7.9-5z"/>
<path color="#122ffe" d="M709.4 237.6l8.1-.3-9.1-5.3-8.1-.6z"/>
<path color="#123aff" d="M701.4 238l8-.4-9.1-6.2-8.1-.6z"/>
<path color="#1246ff" d="M693.3 238.3l8.1-.3-9.2-7.2-8-.6z"/>
<path color="#122eff" d="M718.6 243.8l8.1-1.2-9.2-5.3-8.1 .3z"/>
<path color="#1335ff" d="M710.5 245.1l8.1-1.3-9.2-6.2-8 .4z"/>
<path color="#133cff" d="M702.4 246.4l8.1-1.3-9.1-7.1-8.1 .3z"/>
<path color="#132dff" d="M727.7 250l8.2-2.2-9.2-5.2-8.1 1.2z"/>
<path color="#1330ff" d="M719.6 252.2l8.1-2.2-9.1-6.2-8.1 1.3z"/>
<path color="#1432ff" d="M711.4 254.4l8.2-2.2-9.1-7.1-8.1 1.3z"/>
<path color="#1351ff" d="M685.2 238.5l8.1-.2-9.1-8.1-8.1 0z"/>
<path color="#135bff" d="M677.1 238.8l8.1-.3-9.1-8.3-8.1 .1z"/>
<path color="#1366ff" d="M669 239l8.1-.2-9.1-8.5-8 0z"/>
<path color="#1343ff" d="M694.3 246.8l8.1-.4-9.1-8.1-8.1 .2z"/>
<path color="#134cff" d="M686.2 247.2l8.1-.4-9.1-8.3-8.1 .3z"/>
<path color="#1356ff" d="M678.1 247.7l8.1-.5-9.1-8.4-8.1 .2z"/>
<path color="#1335ff" d="M703.3 255.1l8.1-.7-9-8-8.1 .4z"/>
<path color="#133cff" d="M695.2 255.7l8.1-.6-9-8.3-8.1 .4z"/>
<path color="#1345ff" d="M687.1 256.4l8.1-.7-9-8.5-8.1 .5z"/>
<path color="#1a6adc" d="M666.1 234.7l2.9 4.3-9-8.7-3-3.4z"/>
<path color="#1a7cdc" d="M663.2 230.5l2.9 4.2-9.1-7.8-2.9-3.3z"/>
<path color="#1a92dc" d="M660.3 226.2l2.9 4.3-9.1-6.9-2.9-3.4z"/>
<path color="#1aafdc" d="M657.5 222l2.8 4.2-9.1-6-2.9-3.4z"/>
<path color="#1ac2dc" d="M654.6 217.7l2.9 4.3-9.2-5.2-2.9-3.3z"/>
<path color="#1ad0dc" d="M651.7 213.4l2.9 4.3-9.2-4.2-3-3.4z"/>
<path color="#1ad5d6" d="M648.8 209.2l2.9 4.2-9.3-3.3-2.9-3.4z"/>
<path color="#1ad5c4" d="M645.9 204.9l2.9 4.3-9.3-2.5-2.9-3.3z"/>
<path color="#1a5ddc" d="M675.2 242.5l2.9 5.2-9.1-8.7-2.9-4.3z"/>
<path color="#1a72dc" d="M672.4 237.4l2.8 5.1-9.1-7.8-2.9-4.2z"/>
<path color="#1a8cdc" d="M669.5 232.2l2.9 5.2-9.2-6.9-2.9-4.3z"/>
<path color="#1aacdc" d="M666.6 227.1l2.9 5.1-9.2-6-2.8-4.2z"/>
<path color="#1ac4dc" d="M663.8 221.9l2.8 5.2-9.1-5.1-2.9-4.3z"/>
<path color="#1ad4dc" d="M660.9 216.8l2.9 5.1-9.2-4.2-2.9-4.3z"/>
<path color="#1ad5c9" d="M658 211.6l2.9 5.2-9.2-3.4-2.9-4.2z"/>
<path color="#1ad5b3" d="M655.2 206.5l2.8 5.1-9.2-2.4-2.9-4.3z"/>
<path color="#1a51dc" d="M684.3 250.3l2.8 6.1-9-8.7-2.9-5.2z"/>
<path color="#1a68dc" d="M681.5 244.3l2.8 6-9.1-7.8-2.8-5.1z"/>
<path color="#1a86dc" d="M678.6 238.2l2.9 6.1-9.1-6.9-2.9-5.2z"/>
<path color="#1aaadc" d="M675.8 232.2l2.8 6-9.1-6-2.9-5.1z"/>
<path color="#1ac6dc" d="M673 226.2l2.8 6-9.2-5.1-2.8-5.2z"/>
<path color="#1ad5d9" d="M670.1 220.1l2.9 6.1-9.2-4.3-2.9-5.1z"/>
<path color="#1ad5bb" d="M667.3 214.1l2.8 6-9.2-3.3-2.9-5.2z"/>
<path color="#1ad5a2" d="M664.4 208l2.9 6.1-9.3-2.5-2.8-5.1z"/>
<path color="#13ffe1" d="M638.1 206.2l3.1-2.1-4.6-.7-3.1 1z"/>
<path color="#13ffe8" d="M635.1 208.2l3-2-4.6-1.8-3 1.1z"/>
<path color="#14ffef" d="M632 210.2l3.1-2-4.6-2.7-3.1 1z"/>
<path color="#15fff7" d="M628.9 212.3l3.1-2.1-4.6-3.7-3 1.1z"/>
<path color="#17fffd" d="M625.8 214.3l3.1-2-4.5-4.7-3.1 1.1z"/>
<path color="#19ffff" d="M622.7 216.3l3.1-2-4.5-5.6-3.1 1z"/>
<path color="#1bffff" d="M619.6 218.3l3.1-2-4.5-6.6-3 1.1z"/>
<path color="#1cffff" d="M616.5 220.4l3.1-2.1-4.4-7.5-3.1 1z"/>
<path color="#13ffdb" d="M642.8 207.9l3.1-3-4.7-.8-3.1 2.1z"/>
<path color="#14ffe6" d="M639.6 210.9l3.2-3-4.7-1.7-3 2z"/>
<path color="#15fff3" d="M636.5 213.9l3.1-3-4.5-2.7-3.1 2z"/>
<path color="#17ffff" d="M633.4 216.9l3.1-3-4.5-3.7-3.1 2.1z"/>
<path color="#1bffff" d="M630.3 219.9l3.1-3-4.5-4.6-3.1 2z"/>
<path color="#1effff" d="M627.1 222.9l3.2-3-4.5-5.6-3.1 2z"/>
<path color="#1fffff" d="M624 225.9l3.1-3-4.4-6.6-3.1 2z"/>
<path color="#20ffff" d="M620.9 228.9l3.1-3-4.4-7.6-3.1 2.1z"/>
<path color="#13ffd0" d="M647.4 209.7l3.1-4-4.6-.8-3.1 3z"/>
<path color="#14ffe0" d="M644.2 213.6l3.2-3.9-4.6-1.8-3.2 3z"/>
<path color="#15fff4" d="M641.1 217.6l3.1-4-4.6-2.7-3.1 3z"/>
<path color="#19ffff" d="M637.9 221.6l3.2-4-4.6-3.7-3.1 3z"/>
<path color="#1cffff" d="M634.8 225.5l3.1-3.9-4.5-4.7-3.1 3z"/>
<path color="#1dffff" d="M631.6 229.5l3.2-4-4.5-5.6-3.2 3z"/>
<path color="#1efaff" d="M628.4 233.5l3.2-4-4.5-6.6-3.1 3z"/>
<path color="#20f2ff" d="M625.3 237.4l3.1-3.9-4.4-7.6-3.1 3z"/>
<path color="#13ffc4" d="M652 211.4l3.2-4.9-4.7-.8-3.1 4z"/>
<path color="#14ffd9" d="M648.8 216.3l3.2-4.9-4.6-1.7-3.2 3.9z"/>
<path color="#15fff3" d="M645.6 221.3l3.2-5-4.6-2.7-3.1 4z"/>
<path color="#18ffff" d="M642.4 226.2l3.2-4.9-4.5-3.7-3.2 4z"/>
<path color="#19ffff" d="M639.2 231.2l3.2-5-4.5-4.6-3.1 3.9z"/>
<path color="#1bf5ff" d="M636.1 236.1l3.1-4.9-4.4-5.7-3.2 4z"/>
<path color="#1de7ff" d="M632.9 241l3.2-4.9-4.5-6.6-3.2 4z"/>
<path color="#1fd1ff" d="M629.7 246l3.2-5-4.5-7.5-3.1 3.9z"/>
<path color="#13ffb8" d="M656.6 213.2l3.2-6-4.6-.7-3.2 4.9z"/>
<path color="#14ffd3" d="M653.4 219.1l3.2-5.9-4.6-1.8-3.2 4.9z"/>
<path color="#15fff3" d="M650.2 225l3.2-5.9-4.6-2.8-3.2 5z"/>
<path color="#17ffff" d="M646.9 230.9l3.3-5.9-4.6-3.7-3.2 4.9z"/>
<path color="#17f7ff" d="M643.7 236.8l3.2-5.9-4.5-4.7-3.2 5z"/>
<path color="#19e6ff" d="M640.5 242.7l3.2-5.9-4.5-5.6-3.1 4.9z"/>
<path color="#1bc4ff" d="M637.3 248.6l3.2-5.9-4.4-6.6-3.2 4.9z"/>
<path color="#1dabff" d="M634.1 254.5l3.2-5.9-4.4-7.6-3.2 5z"/>
<path color="#13ffaf" d="M661.2 214.9l3.2-6.9-4.6-.8-3.2 6z"/>
<path color="#13ffce" d="M658 221.8l3.2-6.9-4.6-1.7-3.2 5.9z"/>
<path color="#14fff3" d="M654.7 228.7l3.3-6.9-4.6-2.7-3.2 5.9z"/>
<path color="#15ffff" d="M651.5 235.5l3.2-6.8-4.5-3.7-3.3 5.9z"/>
<path color="#16ebff" d="M648.2 242.4l3.3-6.9-4.6-4.6-3.2 5.9z"/>
<path color="#18c6ff" d="M645 249.3l3.2-6.9-4.5-5.6-3.2 5.9z"/>
<path color="#19a1ff" d="M641.7 256.2l3.3-6.9-4.5-6.6-3.2 5.9z"/>
<path color="#1a87ff" d="M638.5 263.1l3.2-6.9-4.4-7.6-3.2 5.9z"/>
<path color="#2ff" d="M608.2 228.1l8.3-7.7-4.4-8.6-8.3 8.8z"/>
<path color="#1efaff" d="M599.9 235.8l8.3-7.7-4.4-7.5-8.4 8.7z"/>
<path color="#1cd9ff" d="M591.6 243.6l8.3-7.8-4.5-6.5-8.3 8.7z"/>
<path color="#1ffaff" d="M612.6 235.7l8.3-6.8-4.4-8.5-8.3 7.7z"/>
<path color="#1ee9ff" d="M604.3 242.4l8.3-6.7-4.4-7.6-8.3 7.7z"/>
<path color="#1cc2ff" d="M596 249.2l8.3-6.8-4.4-6.6-8.3 7.8z"/>
<path color="#1ee5ff" d="M617 243.2l8.3-5.8-4.4-8.5-8.3 6.8z"/>
<path color="#1dcbff" d="M608.8 249l8.2-5.8-4.4-7.5-8.3 6.7z"/>
<path color="#1badff" d="M600.5 254.7l8.3-5.7-4.5-6.6-8.3 6.8z"/>
<path color="#1dbfff" d="M621.5 250.8l8.2-4.8-4.4-8.6-8.3 5.8z"/>
<path color="#1cadff" d="M613.2 255.6l8.3-4.8-4.5-7.6-8.2 5.8z"/>
<path color="#1a99ff" d="M605 260.3l8.2-4.7-4.4-6.6-8.3 5.7z"/>
<path color="#1b9cff" d="M625.9 258.3l8.2-3.8-4.4-8.5-8.2 4.8z"/>
<path color="#1a91ff" d="M617.7 262.1l8.2-3.8-4.4-7.5-8.3 4.8z"/>
<path color="#1983ff" d="M609.5 265.9l8.2-3.8-4.5-6.5-8.2 4.7z"/>
<path color="#1978ff" d="M630.3 265.9l8.2-2.8-4.4-8.6-8.2 3.8z"/>
<path color="#1872ff" d="M622.1 268.7l8.2-2.8-4.4-7.6-8.2 3.8z"/>
<path color="#176bff" d="M614 271.5l8.1-2.8-4.4-6.6-8.2 3.8z"/>
<path color="#18a3ff" d="M591.8 256.3l4.2-7.1-8.9-11.2-4.3 7.4z"/>
<path color="#1883ff" d="M587.5 263.5l4.3-7.2-9-10.9-4.3 7.4z"/>
<path color="#1762ff" d="M583.2 270.6l4.3-7.1-9-10.7-4.2 7.3z"/>
<path color="#1742ff" d="M579 277.8l4.2-7.2-8.9-10.5-4.3 7.4z"/>
<path color="#1726ff" d="M574.7 284.9l4.3-7.1-9-10.3-4.3 7.4z"/>
<path color="#2517ff" d="M570.5 292.1l4.2-7.2-9-10-4.3 7.4z"/>
<path color="#1885ff" d="M600.8 267.3l4.2-7-9-11.1-4.2 7.1z"/>
<path color="#1868ff" d="M596.5 274.2l4.3-6.9-9-11-4.3 7.2z"/>
<path color="#184bff" d="M592.2 281.1l4.3-6.9-9-10.7-4.3 7.1z"/>
<path color="#182fff" d="M588 288l4.2-6.9-9-10.5-4.2 7.2z"/>
<path color="#1b17ff" d="M583.7 294.9l4.3-6.9-9-10.2-4.3 7.1z"/>
<path color="#3e17ff" d="M579.5 301.9l4.2-7-9-10-4.2 7.2z"/>
<path color="#1865ff" d="M609.7 278.2l4.3-6.7-9-11.2-4.2 7z"/>
<path color="#184dff" d="M605.5 284.9l4.2-6.7-8.9-10.9-4.3 6.9z"/>
<path color="#1834ff" d="M601.2 291.6l4.3-6.7-9-10.7-4.3 6.9z"/>
<path color="#181cff" d="M597 298.3l4.2-6.7-9-10.5-4.2 6.9z"/>
<path color="#3118ff" d="M592.7 305l4.3-6.7-9-10.3-4.3 6.9z"/>
<path color="#5517ff" d="M588.5 311.6l4.2-6.6-9-10.1-4.2 7z"/>
<path color="#4a12f5" d="M756.2 264.1l8 2.8-4.6-3.3-7.9-5.2z"/>
<path color="#2712fa" d="M748.2 261.3l8 2.8-4.5-5.7-7.9-5.3z"/>
<path color="#1215fc" d="M740.2 258.6l8 2.7-4.4-8.2-7.9-5.3z"/>
<path color="#5612fe" d="M760.7 269.9l8.1 .2-4.6-3.2-8-2.8z"/>
<path color="#3f12ff" d="M752.6 269.6l8.1 .3-4.5-5.8-8-2.8z"/>
<path color="#2d13ff" d="M744.6 269.3l8 .3-4.4-8.3-8-2.7z"/>
<path color="#6613ff" d="M765.2 275.6l8.1-2.2-4.5-3.3-8.1-.2z"/>
<path color="#5f15ff" d="M757 277.8l8.2-2.2-4.5-5.7-8.1-.3z"/>
<path color="#5915ff" d="M748.9 280l8.1-2.2-4.4-8.2-8-.3z"/>
<path color="#1724ff" d="M732.1 260.8l8.1-2.2-4.3-10.8-8.2 2.2z"/>
<path color="#1724ff" d="M723.9 263l8.2-2.2-4.4-10.8-8.1 2.2z"/>
<path color="#1723ff" d="M715.8 265.2l8.1-2.2-4.3-10.8-8.2 2.2z"/>
<path color="#2a17ff" d="M736.4 271.5l8.2-2.2-4.4-10.7-8.1 2.2z"/>
<path color="#2b17ff" d="M728.3 273.7l8.1-2.2-4.3-10.7-8.2 2.2z"/>
<path color="#2c17ff" d="M720.1 275.9l8.2-2.2-4.4-10.7-8.1 2.2z"/>
<path color="#5817ff" d="M740.7 282.2l8.2-2.2-4.3-10.7-8.2 2.2z"/>
<path color="#5917ff" d="M732.6 284.4l8.1-2.2-4.3-10.7-8.1 2.2z"/>
<path color="#5917ff" d="M724.4 286.6l8.2-2.2-4.3-10.7-8.2 2.2z"/>
<path color="#1527ff" d="M706.6 263.5l8.1-1-3.3-8.1-8.1 .7z"/>
<path color="#152cff" d="M698.5 264.6l8.1-1.1-3.3-8.4-8.1 .6z"/>
<path color="#1632ff" d="M690.4 265.6l8.1-1-3.3-8.9-8.1 .7z"/>
<path color="#1b16ff" d="M709.8 271.9l8.1-1.4-3.2-8-8.1 1z"/>
<path color="#1716ff" d="M701.7 273.4l8.1-1.5-3.2-8.4-8.1 1.1z"/>
<path color="#161aff" d="M693.6 274.8l8.1-1.4-3.2-8.8-8.1 1z"/>
<path color="#3a17ff" d="M713.1 280.4l8.1-1.8-3.3-8.1-8.1 1.4z"/>
<path color="#3817ff" d="M704.9 282.2l8.2-1.8-3.3-8.5-8.1 1.5z"/>
<path color="#3317ff" d="M696.8 284l8.1-1.8-3.2-8.8-8.1 1.4z"/>
<path color="#5e17ff" d="M716.3 288.8l8.1-2.2-3.2-8-8.1 1.8z"/>
<path color="#5d17ff" d="M708.1 291l8.2-2.2-3.2-8.4-8.2 1.8z"/>
<path color="#5c17ff" d="M700 293.2l8.1-2.2-3.2-8.8-8.1 1.8z"/>
<path color="#1242eb" d="M685.4 254l2.8 5.5-1.1-3.1-2.8-6.1z"/>
<path color="#125eed" d="M682.5 248.5l2.9 5.5-1.1-3.7-2.8-6z"/>
<path color="#1283ee" d="M679.6 243l2.9 5.5-1-4.2-2.9-6.1z"/>
<path color="#12b1f0" d="M676.8 237.6l2.8 5.4-1-4.8-2.8-6z"/>
<path color="#12dbf1" d="M673.9 232.1l2.9 5.5-1-5.4-2.8-6z"/>
<path color="#12f2f0" d="M671.1 226.6l2.8 5.5-.9-5.9-2.9-6.1z"/>
<path color="#12f3ce" d="M668.2 221.1l2.9 5.5-1-6.5-2.8-6z"/>
<path color="#12f3af" d="M665.4 215.7l2.8 5.4-.9-7-2.9-6.1z"/>
<path color="#1239ed" d="M686.4 257.6l2.9 4.9-1.1-3-2.8-5.5z"/>
<path color="#1253ef" d="M683.5 252.7l2.9 4.9-1-3.6-2.9-5.5z"/>
<path color="#1276f0" d="M680.7 247.8l2.8 4.9-1-4.2-2.9-5.5z"/>
<path color="#129ff1" d="M677.8 242.9l2.9 4.9-1.1-4.8-2.8-5.4z"/>
<path color="#12d1f2" d="M674.9 238l2.9 4.9-1-5.3-2.9-5.5z"/>
<path color="#12e9f3" d="M672 233.1l2.9 4.9-1-5.9-2.8-5.5z"/>
<path color="#12f4e7" d="M669.2 228.2l2.8 4.9-.9-6.5-2.9-5.5z"/>
<path color="#12f5ca" d="M666.3 223.3l2.9 4.9-1-7.1-2.8-5.4z"/>
<path color="#1230ef" d="M687.5 261.3l2.9 4.3-1.1-3.1-2.9-4.9z"/>
<path color="#1248f1" d="M684.6 256.9l2.9 4.4-1.1-3.7-2.9-4.9z"/>
<path color="#1267f2" d="M681.7 252.6l2.9 4.3-1.1-4.2-2.8-4.9z"/>
<path color="#128ef3" d="M678.8 248.3l2.9 4.3-1-4.8-2.9-4.9z"/>
<path color="#12baf4" d="M675.9 243.9l2.9 4.4-1-5.4-2.9-4.9z"/>
<path color="#12ddf5" d="M673 239.6l2.9 4.3-1-5.9-2.9-4.9z"/>
<path color="#12f0f5" d="M670.1 235.3l2.9 4.3-1-6.5-2.8-4.9z"/>
<path color="#12f6ea" d="M667.2 231l2.9 4.3-.9-7.1-2.9-4.9z"/>
<path color="#1228f1" d="M688.5 264.9l2.9 3.8-1-3.1-2.9-4.3z"/>
<path color="#123bf3" d="M685.6 261.1l2.9 3.8-1-3.6-2.9-4.4z"/>
<path color="#1257f4" d="M682.7 257.4l2.9 3.7-1-4.2-2.9-4.3z"/>
<path color="#127af5" d="M679.8 253.6l2.9 3.8-1-4.8-2.9-4.3z"/>
<path color="#129ff6" d="M676.9 249.9l2.9 3.7-1-5.3-2.9-4.4z"/>
<path color="#12c8f6" d="M674 246.1l2.9 3.8-1-6-2.9-4.3z"/>
<path color="#12e0f7" d="M671.1 242.4l2.9 3.7-1-6.5-2.9-4.3z"/>
<path color="#12eef7" d="M668.1 238.6l3 3.8-1-7.1-2.9-4.3z"/>
<path color="#121ff4" d="M689.6 268.5l2.9 3.2-1.1-3-2.9-3.8z"/>
<path color="#122ff5" d="M686.6 265.4l3 3.1-1.1-3.6-2.9-3.8z"/>
<path color="#1247f6" d="M683.7 262.2l2.9 3.2-1-4.3-2.9-3.7z"/>
<path color="#1264f7" d="M680.8 259l2.9 3.2-1-4.8-2.9-3.8z"/>
<path color="#1285f7" d="M677.9 255.8l2.9 3.2-1-5.4-2.9-3.7z"/>
<path color="#12a5f8" d="M674.9 252.6l3 3.2-1-5.9-2.9-3.8z"/>
<path color="#12c6f8" d="M672 249.4l2.9 3.2-.9-6.5-2.9-3.7z"/>
<path color="#12dbf8" d="M669.1 246.3l2.9 3.1-.9-7-3-3.8z"/>
<path color="#1215f6" d="M690.6 272.2l3 2.6-1.1-3.1-2.9-3.2z"/>
<path color="#1223f7" d="M687.7 269.6l2.9 2.6-1-3.7-3-3.1z"/>
<path color="#1235f8" d="M684.7 267l3 2.6-1.1-4.2-2.9-3.2z"/>
<path color="#124ff9" d="M681.8 264.3l2.9 2.7-1-4.8-2.9-3.2z"/>
<path color="#126af9" d="M678.8 261.7l3 2.6-1-5.3-2.9-3.2z"/>
<path color="#1285f9" d="M675.9 259.1l2.9 2.6-.9-5.9-3-3.2z"/>
<path color="#129ef9" d="M672.9 256.5l3 2.6-1-6.5-2.9-3.2z"/>
<path color="#12b3f9" d="M670 253.9l2.9 2.6-.9-7.1-2.9-3.1z"/>
<path color="#1912f9" d="M691.7 275.8l2.9 2.1-1-3.1-3-2.6z"/>
<path color="#1217fa" d="M688.7 273.8l3 2-1.1-3.6-2.9-2.6z"/>
<path color="#1226fa" d="M685.7 271.7l3 2.1-1-4.2-3-2.6z"/>
<path color="#1239fb" d="M682.8 269.7l2.9 2-1-4.7-2.9-2.7z"/>
<path color="#124ffb" d="M679.8 267.7l3 2-1-5.4-3-2.6z"/>
<path color="#1265fb" d="M676.8 265.6l3 2.1-1-6-2.9-2.6z"/>
<path color="#1279fb" d="M673.9 263.6l2.9 2-.9-6.5-3-2.6z"/>
<path color="#1289fb" d="M670.9 261.5l3 2.1-1-7.1-2.9-2.6z"/>
<path color="#2612fc" d="M692.7 279.5l3 1.4-1.1-3-2.9-2.1z"/>
<path color="#1a12fc" d="M689.7 278l3 1.5-1-3.7-3-2z"/>
<path color="#1217fc" d="M686.8 276.5l2.9 1.5-1-4.2-3-2.1z"/>
<path color="#1225fc" d="M683.8 275.1l3 1.4-1.1-4.8-2.9-2z"/>
<path color="#1234fc" d="M680.8 273.6l3 1.5-1-5.4-3-2z"/>
<path color="#1245fc" d="M677.8 272.1l3 1.5-1-5.9-3-2.1z"/>
<path color="#1255fc" d="M674.8 270.7l3 1.4-1-6.5-2.9-2z"/>
<path color="#1360fc" d="M671.8 269.2l3 1.5-.9-7.1-3-2.1z"/>
<path color="#3512ff" d="M693.8 283.1l3 .9-1.1-3.1-3-1.4z"/>
<path color="#2b12ff" d="M690.8 282.2l3 .9-1.1-3.6-3-1.5z"/>
<path color="#1e12ff" d="M687.8 281.3l3 .9-1.1-4.2-2.9-1.5z"/>
<path color="#1313fe" d="M684.8 280.4l3 .9-1-4.8-3-1.4z"/>
<path color="#131efe" d="M681.8 279.5l3 .9-1-5.3-3-1.5z"/>
<path color="#1329fe" d="M678.8 278.6l3 .9-1-5.9-3-1.5z"/>
<path color="#1332fd" d="M675.8 277.7l3 .9-1-6.5-3-1.4z"/>
<path color="#133afd" d="M672.8 276.8l3 .9-1-7-3-1.5z"/>
<path color="#4513ff" d="M694.8 286.7l3 .4-1-3.1-3-.9z"/>
<path color="#3e13ff" d="M691.8 286.4l3 .3-1-3.6-3-.9z"/>
<path color="#3413ff" d="M688.8 286.1l3 .3-1-4.2-3-.9z"/>
<path color="#2a13ff" d="M685.8 285.8l3 .3-1-4.8-3-.9z"/>
<path color="#1f13ff" d="M682.8 285.5l3 .3-1-5.4-3-.9z"/>
<path color="#1713ff" d="M679.7 285.1l3.1 .4-1-6-3-.9z"/>
<path color="#1316ff" d="M676.7 284.8l3 .3-.9-6.5-3-.9z"/>
<path color="#131bfe" d="M673.7 284.5l3 .3-.9-7.1-3-.9z"/>
<path color="#5614ff" d="M695.9 290.4l3-.3-1.1-3-3-.4z"/>
<path color="#5114ff" d="M692.8 290.6l3.1-.2-1.1-3.7-3-.3z"/>
<path color="#4b14ff" d="M689.8 290.9l3-.3-1-4.2-3-.3z"/>
<path color="#4514ff" d="M686.8 291.1l3-.2-1-4.8-3-.3z"/>
<path color="#3e14ff" d="M683.7 291.4l3.1-.3-1-5.3-3-.3z"/>
<path color="#3814ff" d="M680.7 291.6l3-.2-.9-5.9-3.1-.4z"/>
<path color="#3214ff" d="M677.7 291.9l3-.3-1-6.5-3-.3z"/>
<path color="#2e14ff" d="M674.6 292.1l3.1-.2-1-7.1-3-.3z"/>
<path color="#6716ff" d="M696.9 294l3.1-.8-1.1-3.1-3 .3z"/>
<path color="#6516ff" d="M693.9 294.8l3-.8-1-3.6-3.1 .2z"/>
<path color="#6216ff" d="M690.8 295.7l3.1-.9-1.1-4.2-3 .3z"/>
<path color="#6015ff" d="M687.8 296.5l3-.8-1-4.8-3 .2z"/>
<path color="#5d15ff" d="M684.7 297.3l3.1-.8-1-5.4-3.1 .3z"/>
<path color="#5b15ff" d="M681.7 298.1l3-.8-1-5.9-3 .2z"/>
<path color="#5814ff" d="M678.6 299l3.1-.9-1-6.5-3 .3z"/>
<path color="#5714ff" d="M675.5 299.8l3.1-.8-.9-7.1-3.1 .2z"/>
<path color="#1cffbe" d="M662.1 222l3.3-6.3-1-7.7-3.2 6.9z"/>
<path color="#1dffdc" d="M658.9 228.4l3.2-6.4-.9-7.1-3.2 6.9z"/>
<path color="#1effff" d="M655.7 234.8l3.2-6.4-.9-6.6-3.3 6.9z"/>
<path color="#1ff9ff" d="M652.5 241.2l3.2-6.4-1-6.1-3.2 6.8z"/>
<path color="#20ddff" d="M649.2 247.5l3.3-6.3-1-5.7-3.3 6.9z"/>
<path color="#20afff" d="M646 253.9l3.2-6.4-1-5.1-3.2 6.9z"/>
<path color="#218dff" d="M642.8 260.3l3.2-6.4-1-4.6-3.3 6.9z"/>
<path color="#2172ff" d="M639.5 266.7l3.3-6.4-1.1-4.1-3.2 6.9z"/>
<path color="#1cffd9" d="M663.1 229.2l3.2-5.9-.9-7.6-3.3 6.3z"/>
<path color="#1dfff5" d="M659.9 235.1l3.2-5.9-1-7.2-3.2 6.4z"/>
<path color="#1effff" d="M656.7 240.9l3.2-5.8-1-6.7-3.2 6.4z"/>
<path color="#1fecff" d="M653.4 246.8l3.3-5.9-1-6.1-3.2 6.4z"/>
<path color="#1fc4ff" d="M650.2 252.7l3.2-5.9-.9-5.6-3.3 6.3z"/>
<path color="#209dff" d="M647 258.5l3.2-5.8-1-5.2-3.2 6.4z"/>
<path color="#217cff" d="M643.8 264.4l3.2-5.9-1-4.6-3.2 6.4z"/>
<path color="#2164ff" d="M640.6 270.3l3.2-5.9-1-4.1-3.3 6.4z"/>
<path color="#1bfff8" d="M664 236.3l3.2-5.3-.9-7.7-3.2 5.9z"/>
<path color="#1dffff" d="M660.8 241.7l3.2-5.4-.9-7.1-3.2 5.9z"/>
<path color="#1df3ff" d="M657.6 247.1l3.2-5.4-.9-6.6-3.2 5.8z"/>
<path color="#1ed7ff" d="M654.4 252.4l3.2-5.3-.9-6.2-3.3 5.9z"/>
<path color="#1fabff" d="M651.2 257.8l3.2-5.4-1-5.6-3.2 5.9z"/>
<path color="#2089ff" d="M648 263.2l3.2-5.4-1-5.1-3.2 5.8z"/>
<path color="#216cff" d="M644.8 268.5l3.2-5.3-1-4.7-3.2 5.9z"/>
<path color="#2256ff" d="M641.6 273.9l3.2-5.4-1-4.1-3.2 5.9z"/>
<path color="#1bfdff" d="M665 243.5l3.1-4.9-.9-7.6-3.2 5.3z"/>
<path color="#1bf2ff" d="M661.8 248.3l3.2-4.8-1-7.2-3.2 5.4z"/>
<path color="#1cdfff" d="M658.6 253.2l3.2-4.9-1-6.6-3.2 5.4z"/>
<path color="#1db7ff" d="M655.4 258.1l3.2-4.9-1-6.1-3.2 5.3z"/>
<path color="#1f94ff" d="M652.2 262.9l3.2-4.8-1-5.7-3.2 5.4z"/>
<path color="#2074ff" d="M649 267.8l3.2-4.9-1-5.1-3.2 5.4z"/>
<path color="#215bff" d="M645.9 272.6l3.1-4.8-1-4.6-3.2 5.3z"/>
<path color="#2248ff" d="M642.7 277.5l3.2-4.9-1.1-4.1-3.2 5.4z"/>
<path color="#1ae8ff" d="M665.9 250.6l3.2-4.3-1-7.7-3.1 4.9z"/>
<path color="#1bd7ff" d="M662.7 255l3.2-4.4-.9-7.1-3.2 4.8z"/>
<path color="#1cb9ff" d="M659.6 259.3l3.1-4.3-.9-6.7-3.2 4.9z"/>
<path color="#1d99ff" d="M656.4 263.7l3.2-4.4-1-6.1-3.2 4.9z"/>
<path color="#1e7aff" d="M653.2 268l3.2-4.3-1-5.6-3.2 4.8z"/>
<path color="#1f60ff" d="M650.1 272.4l3.1-4.4-1-5.1-3.2 4.9z"/>
<path color="#2049ff" d="M646.9 276.8l3.2-4.4-1.1-4.6-3.1 4.8z"/>
<path color="#223bff" d="M643.7 281.1l3.2-4.3-1-4.2-3.2 4.9z"/>
<path color="#19beff" d="M666.8 257.8l3.2-3.9-.9-7.6-3.2 4.3z"/>
<path color="#1aabff" d="M663.7 261.6l3.1-3.8-.9-7.2-3.2 4.4z"/>
<path color="#1b95ff" d="M660.5 265.5l3.2-3.9-1-6.6-3.1 4.3z"/>
<path color="#1c7bff" d="M657.4 269.3l3.1-3.8-.9-6.2-3.2 4.4z"/>
<path color="#1d61ff" d="M654.2 273.2l3.2-3.9-1-5.6-3.2 4.3z"/>
<path color="#1e4aff" d="M651.1 277l3.1-3.8-1-5.2-3.1 4.4z"/>
<path color="#203aff" d="M647.9 280.9l3.2-3.9-1-4.6-3.2 4.4z"/>
<path color="#212fff" d="M644.8 284.7l3.1-3.8-1-4.1-3.2 4.3z"/>
<path color="#1992ff" d="M667.8 264.9l3.1-3.4-.9-7.6-3.2 3.9z"/>
<path color="#1984ff" d="M664.6 268.2l3.2-3.3-1-7.1-3.1 3.8z"/>
<path color="#1a71ff" d="M661.5 271.6l3.1-3.4-.9-6.6-3.2 3.9z"/>
<path color="#1b5dff" d="M658.4 274.9l3.1-3.3-1-6.1-3.1 3.8z"/>
<path color="#1c48ff" d="M655.2 278.3l3.2-3.4-1-5.6-3.2 3.9z"/>
<path color="#1d37ff" d="M652.1 281.6l3.1-3.3-1-5.1-3.1 3.8z"/>
<path color="#1f2aff" d="M649 285l3.1-3.4-1-4.6-3.2 3.9z"/>
<path color="#2021ff" d="M645.8 288.3l3.2-3.3-1.1-4.1-3.1 3.8z"/>
<path color="#1867ff" d="M668.7 272l3.1-2.8-.9-7.7-3.1 3.4z"/>
<path color="#185dff" d="M665.6 274.9l3.1-2.9-.9-7.1-3.2 3.3z"/>
<path color="#194fff" d="M662.5 277.7l3.1-2.8-1-6.7-3.1 3.4z"/>
<path color="#1a3fff" d="M659.4 280.6l3.1-2.9-1-6.1-3.1 3.3z"/>
<path color="#1b31ff" d="M656.2 283.4l3.2-2.8-1-5.7-3.2 3.4z"/>
<path color="#1c25ff" d="M653.1 286.3l3.1-2.9-1-5.1-3.1 3.3z"/>
<path color="#201dff" d="M650 289.1l3.1-2.8-1-4.7-3.1 3.4z"/>
<path color="#2a1fff" d="M646.9 291.9l3.1-2.8-1-4.1-3.2 3.3z"/>
<path color="#173fff" d="M669.7 279.2l3.1-2.4-1-7.6-3.1 2.8z"/>
<path color="#1738ff" d="M666.6 281.5l3.1-2.3-1-7.2-3.1 2.9z"/>
<path color="#1830ff" d="M663.5 283.9l3.1-2.4-1-6.6-3.1 2.8z"/>
<path color="#1926ff" d="M660.4 286.2l3.1-2.3-1-6.2-3.1 2.9z"/>
<path color="#1a1cff" d="M657.3 288.5l3.1-2.3-1-5.6-3.2 2.8z"/>
<path color="#231bff" d="M654.1 290.9l3.2-2.4-1.1-5.1-3.1 2.9z"/>
<path color="#2f1cff" d="M651 293.2l3.1-2.3-1-4.6-3.1 2.8z"/>
<path color="#391dff" d="M647.9 295.6l3.1-2.4-1-4.1-3.1 2.8z"/>
<path color="#161eff" d="M670.6 286.3l3.1-1.8-.9-7.7-3.1 2.4z"/>
<path color="#171aff" d="M667.5 288.2l3.1-1.9-.9-7.1-3.1 2.3z"/>
<path color="#1a17ff" d="M664.4 290l3.1-1.8-.9-6.7-3.1 2.4z"/>
<path color="#2218ff" d="M661.3 291.8l3.1-1.8-.9-6.1-3.1 2.3z"/>
<path color="#2d18ff" d="M658.3 293.7l3-1.9-.9-5.6-3.1 2.3z"/>
<path color="#3719ff" d="M655.2 295.5l3.1-1.8-1-5.2-3.2 2.4z"/>
<path color="#411aff" d="M652.1 297.3l3.1-1.8-1.1-4.6-3.1 2.3z"/>
<path color="#481bff" d="M649 299.2l3.1-1.9-1.1-4.1-3.1 2.4z"/>
<path color="#3016ff" d="M671.5 293.5l3.1-1.4-.9-7.6-3.1 1.8z"/>
<path color="#3416ff" d="M668.5 294.8l3-1.3-.9-7.2-3.1 1.9z"/>
<path color="#3916ff" d="M665.4 296.1l3.1-1.3-1-6.6-3.1 1.8z"/>
<path color="#4017ff" d="M662.3 297.5l3.1-1.4-1-6.1-3.1 1.8z"/>
<path color="#4617ff" d="M659.3 298.8l3-1.3-1-5.7-3 1.9z"/>
<path color="#4d18ff" d="M656.2 300.1l3.1-1.3-1-5.1-3.1 1.8z"/>
<path color="#5319ff" d="M653.1 301.4l3.1-1.3-1-4.6-3.1 1.8z"/>
<path color="#5719ff" d="M650 302.8l3.1-1.4-1-4.1-3.1 1.9z"/>
<path color="#5715ff" d="M672.5 300.6l3-.8-.9-7.7-3.1 1.4z"/>
<path color="#5915ff" d="M669.4 301.4l3.1-.8-1-7.1-3 1.3z"/>
<path color="#5b15ff" d="M666.4 302.3l3-.9-.9-6.6-3.1 1.3z"/>
<path color="#5d16ff" d="M663.3 303.1l3.1-.8-1-6.2-3.1 1.4z"/>
<path color="#6016ff" d="M660.3 303.9l3-.8-1-5.6-3 1.3z"/>
<path color="#6217ff" d="M657.2 304.7l3.1-.8-1-5.1-3.1 1.3z"/>
<path color="#6517ff" d="M654.2 305.6l3-.9-1-4.6-3.1 1.3z"/>
<path color="#6718ff" d="M651.1 306.4l3.1-.8-1.1-4.2-3.1 1.4z"/>
<path color="#1857ff" d="M632.4 273l8.2-2.7-2.1-7.2-8.2 2.8z"/>
<path color="#1855ff" d="M624.3 275.7l8.1-2.7-2.1-7.1-8.2 2.8z"/>
<path color="#1853ff" d="M616.1 278.4l8.2-2.7-2.2-7-8.1 2.8z"/>
<path color="#183cff" d="M634.5 280.1l8.2-2.6-2.1-7.2-8.2 2.7z"/>
<path color="#183bff" d="M626.4 282.7l8.1-2.6-2.1-7.1-8.1 2.7z"/>
<path color="#183aff" d="M618.2 285.3l8.2-2.6-2.1-7-8.2 2.7z"/>
<path color="#1825ff" d="M636.6 287.2l8.2-2.5-2.1-7.2-8.2 2.6z"/>
<path color="#1825ff" d="M628.5 289.7l8.1-2.5-2.1-7.1-8.1 2.6z"/>
<path color="#1824ff" d="M620.3 292.2l8.2-2.5-2.1-7-8.2 2.6z"/>
<path color="#2117ff" d="M638.7 294.3l8.2-2.4-2.1-7.2-8.2 2.5z"/>
<path color="#2217ff" d="M630.6 296.8l8.1-2.5-2.1-7.1-8.1 2.5z"/>
<path color="#2217ff" d="M622.4 299.2l8.2-2.4-2.1-7.1-8.2 2.5z"/>
<path color="#3f17ff" d="M640.8 301.5l8.2-2.3-2.1-7.3-8.2 2.4z"/>
<path color="#4017ff" d="M632.7 303.8l8.1-2.3-2.1-7.2-8.1 2.5z"/>
<path color="#4017ff" d="M624.5 306.1l8.2-2.3-2.1-7-8.2 2.4z"/>
<path color="#5f17ff" d="M643 308.6l8.1-2.2-2.1-7.2-8.2 2.3z"/>
<path color="#5f17ff" d="M634.8 310.8l8.2-2.2-2.2-7.1-8.1 2.3z"/>
<path color="#5f17ff" d="M626.7 313l8.1-2.2-2.1-7-8.2 2.3z"/>
<path color="#2347ff" d="M610.8 289.8l6.4-7.9-3.2-10.4-6.4 10z"/>
<path color="#212dff" d="M604.5 297.8l6.3-8-3.2-8.3-6.4 10.1z"/>
<path color="#311cff" d="M598.2 305.7l6.3-7.9-3.3-6.2-6.3 10z"/>
<path color="#5916ff" d="M591.9 313.6l6.3-7.9-3.3-4.1-6.4 10z"/>
<path color="#222cff" d="M614.1 298.1l6.2-5.9-3.1-10.3-6.4 7.9z"/>
<path color="#2a22ff" d="M607.8 303.9l6.3-5.8-3.3-8.3-6.3 8z"/>
<path color="#441eff" d="M601.6 309.8l6.2-5.9-3.3-6.1-6.3 7.9z"/>
<path color="#6017ff" d="M595.4 315.6l6.2-5.8-3.4-4.1-6.3 7.9z"/>
<path color="#361fff" d="M617.3 306.4l6.2-3.8-3.2-10.4-6.2 5.9z"/>
<path color="#461fff" d="M611.1 310.1l6.2-3.7-3.2-8.3-6.3 5.8z"/>
<path color="#571dff" d="M605 313.9l6.1-3.8-3.3-6.2-6.2 5.9z"/>
<path color="#6717ff" d="M598.8 317.6l6.2-3.7-3.4-4.1-6.2 5.8z"/>
<path color="#5c1aff" d="M620.6 314.6l6.1-1.6-3.2-10.4-6.2 3.8z"/>
<path color="#621aff" d="M614.4 316.3l6.2-1.7-3.3-8.2-6.2 3.7z"/>
<path color="#6818ff" d="M608.3 317.9l6.1-1.6-3.3-6.2-6.1 3.8z"/>
<path color="#6c15ff" d="M602.2 319.6l6.1-1.7-3.3-4-6.2 3.7z"/>
</g>
<path d="M606.3 318.5L592.7 305.0L565.7 274.9L552.2 259.8L538.7 245.0L511.9 209.0L484.7 186.1M610.4 317.4L597.0 298.3L570.0 267.5L556.5 252.2L543.0 237.1L516.2 202.4L488.8 184.4M614.4 316.3L601.2 291.6L574.3 260.1L560.8 244.5L547.3 229.2L520.4 195.7L492.9 182.7M618.5 315.2L605.5 284.9L578.5 252.8L565.1 236.9L551.6 221.3L524.7 189.0L497.0 181.0M622.6 314.1L609.7 278.2L582.8 245.4L569.3 229.3L555.9 213.3L528.9 182.3L501.1 179.2M626.7 313.0L614.0 271.5L587.1 238.0L573.6 221.7L560.1 205.4L533.2 175.6L505.2 177.5M630.7 311.9L618.1 270.1L591.2 233.6L577.8 215.3L564.5 196.9L537.6 163.4L509.9 156.7L504.9 176.4M634.8 310.8L622.1 268.7L595.4 229.3L582.1 208.9L568.8 188.3L542.0 151.1L514.6 136.0L513.5 141.0M638.9 309.7L626.2 267.3L599.6 224.9L586.3 202.6L573.1 179.8L546.4 138.9L519.3 115.2M643.0 308.6L630.3 265.9L603.8 220.6L590.6 196.2L577.4 171.2L550.9 126.6L524.0 94.4M647.0 307.5L634.4 264.5L607.9 216.2L594.8 189.8L581.7 162.7L555.3 114.3L528.7 73.6M651.1 306.4L638.5 263.1L612.1 211.8L599.0 183.4L586.0 154.1L559.7 102.1L533.3 52.8M655.2 305.3L642.8 253.9L616.2 210.4L603.0 184.5L589.9 156.6L563.7 104.1L537.4 53.3M659.2 304.2L647.1 244.7L620.3 209.0L607.0 185.6L593.9 159.1L567.6 106.1L541.4 53.7M663.3 303.1L651.5 235.5L624.4 207.6L611.0 186.7L597.9 161.5L571.6 108.1L545.4 54.2M667.4 302.0L655.8 226.4L628.4 206.2L615.0 187.7L601.8 164.0L575.6 110.1L549.4 54.6M671.5 300.9L660.1 217.2L632.5 204.8L619.0 188.8L605.8 166.5L579.5 112.1L553.4 55.1M675.5 299.8L664.4 208.0L636.6 203.4L623.0 189.9L609.7 168.9L583.5 114.1L557.4 55.5M679.6 298.7L668.2 216.1M637.1 204.2L627.0 193.3L613.6 172.5L587.5 115.8L561.5 56.0M683.7 297.6L672.0 224.1M636.0 202.6L630.9 196.7L617.6 176.1L591.5 117.5L565.5 56.4M687.8 296.5L675.8 232.2M638.2 204.3L634.8 200.1L621.5 179.6L595.4 119.1L569.5 56.9M691.8 295.4L679.6 240.3M638.7 203.5L625.4 183.2L599.4 120.8L573.5 57.3M695.9 294.3L683.4 248.3M641.0 204.4L629.3 186.7L603.4 122.5L577.5 57.8M700.0 293.2L687.1 256.4M643.3 205.3L633.2 190.3L607.4 124.2L581.5 58.2M704.1 292.1L691.2 256.1L684.4 249.6M647.3 205.8L637.3 191.0L611.3 127.2L585.5 61.6M708.1 291.0L695.2 255.7L681.6 243.0M651.3 206.3L641.3 191.8L615.3 130.1L589.4 65.0M712.2 289.9L699.3 255.4L678.9 236.5M655.3 206.9L645.3 192.6L619.2 133.0L593.3 68.4M716.3 288.8L703.3 255.1L676.1 230.2L672.8 225.7M659.3 207.4L649.3 193.3L623.1 136.0L597.2 71.8M720.4 287.7L707.4 254.8L680.2 230.2L666.7 212.5L653.3 194.1L627.1 138.9L601.1 75.2M724.4 286.6L711.4 254.4L684.2 230.2L670.7 213.0L657.3 194.8L631.0 141.8L605.1 78.6M728.5 285.5L715.5 253.3L688.2 230.5L674.7 214.1L661.3 196.8L634.9 145.7L608.8 86.6M732.6 284.4L719.6 252.2L692.2 230.8L678.7 215.1L665.3 198.9L638.8 149.5L612.6 94.7M736.7 283.3L723.7 251.1L696.3 231.1L682.7 216.2L669.2 200.9L642.8 153.4L616.4 102.7M740.7 282.2L727.7 250.0L700.3 231.4L686.7 217.3L673.2 202.9L646.7 157.3L623.5 116.6M744.8 281.1L731.8 248.9L704.3 231.7L690.7 218.4L677.2 204.9L650.6 161.1L630.6 129.4M748.9 280.0L735.9 247.8L708.4 232.0L694.8 219.4L681.1 206.9L654.5 165.0L637.8 141.2M753.0 278.9L739.8 250.5L712.3 234.2L698.7 222.2L685.1 210.3L658.5 166.6L631.8 126.7M757.0 277.8L743.8 253.1L716.3 236.5L702.6 225.0L689.0 213.7L662.5 168.2L635.8 126.5M761.1 276.7L747.8 255.7L720.3 238.7L706.6 227.8L692.9 217.1L666.4 169.8L639.8 126.4M765.2 275.6L751.7 258.4L724.2 241.0L710.5 230.6L696.9 220.5L670.4 171.5L643.9 126.2M769.3 274.5L755.7 261.0L728.2 243.2L714.5 233.3L700.8 223.9L674.4 173.1L647.9 126.0" fill="none" stroke="#000" stroke-opacity="0.13" stroke-width="0.5"/>
<g stroke="#8a8a8a" stroke-width="1" fill="none"><line x1="608.2" y1="133.3" x2="798.3" y2="81.9" /><line x1="608.2" y1="133.3" x2="471.0" y2="54.4" /><line x1="471.0" y1="54.4" x2="660.8" y2="3.1" /><line x1="660.8" y1="3.1" x2="798.3" y2="81.9" /><line x1="465.0" y1="240.4" x2="471.0" y2="54.4" /><line x1="792.5" y1="268.2" x2="798.3" y2="81.9" /><line x1="602.2" y1="319.6" x2="792.5" y2="268.2" /><line x1="602.2" y1="319.6" x2="465.0" y2="240.4" /></g><g stroke="#303030" stroke-width="0.8" stroke-opacity="0.75"><line x1="602.2" y1="319.6" x2="608.2" y2="133.3" /></g>
<g fill="#f20a0a">
<circle cx="229.4" cy="29.3" r="5.4" />
<circle cx="190.6" cy="54.4" r="5.4" />
<circle cx="202.4" cy="59.9" r="5.4" />
<circle cx="186.7" cy="67.7" r="5.4" />
<circle cx="153.5" cy="80.5" r="5.4" />
<circle cx="175.8" cy="83.8" r="5.4" />
<circle cx="284.2" cy="228.6" r="5.4" />
<circle cx="75.3" cy="146.5" r="5.4" />
<circle cx="101.5" cy="121.5" r="5.4" />
<circle cx="100.0" cy="201.7" r="5.4" />
<circle cx="74.6" cy="216.2" r="5.4" />
<circle cx="122.8" cy="225.2" r="5.4" />
<circle cx="49.0" cy="239.7" r="5.4" />
<circle cx="170.5" cy="303.5" r="5.4" />
<circle cx="336.0" cy="284.2" r="5.4" />
<circle cx="184.2" cy="310.9" r="5.4" />
<circle cx="207.3" cy="309.0" r="5.4" />
<circle cx="231.0" cy="306.2" r="5.4" />
<circle cx="254.3" cy="303.5" r="5.4" />
<circle cx="277.7" cy="301.3" r="5.4" />
<circle cx="301.6" cy="298.5" r="5.4" />
<circle cx="325.0" cy="296.3" r="5.4" />
<circle cx="348.7" cy="293.8" r="5.4" />
<ellipse cx="194.4" cy="299.9" rx="5.3" ry="3.0" />
<ellipse cx="218.3" cy="296.6" rx="5.3" ry="3.0" />
<ellipse cx="241.7" cy="294.4" rx="5.3" ry="3.0" />
<ellipse cx="265.0" cy="291.6" rx="5.3" ry="3.0" />
<ellipse cx="288.4" cy="288.9" rx="5.3" ry="3.0" />
<ellipse cx="311.8" cy="286.7" rx="5.3" ry="3.0" />
<ellipse cx="222.8" cy="177.5" rx="3.6" ry="5.0" transform="rotate(-20 222.8 177.5)"/>
<ellipse cx="243.8" cy="187.5" rx="4.4" ry="5.2" transform="rotate(-15 243.8 187.5)"/>
<ellipse cx="246.3" cy="105.0" rx="2.1" ry="4.6" transform="rotate(-8 246.3 105.0)"/>
<ellipse cx="205.9" cy="150.8" rx="1.1" ry="3.0" transform="rotate(-5 205.9 150.8)"/>
<ellipse cx="150.2" cy="185.7" rx="4.2" ry="5.0" transform="rotate(-15 150.2 185.7)"/>
<ellipse cx="634.0" cy="187.6" rx="4.9" ry="3.8" transform="rotate(12 634.0 187.6)"/>
<ellipse cx="657.9" cy="186.8" rx="5.3" ry="4.5" transform="rotate(0 657.9 186.8)"/>
<ellipse cx="560.0" cy="206.2" rx="4.9" ry="4.9" transform="rotate(0 560.0 206.2)"/>
<ellipse cx="502.0" cy="174.0" rx="2.7" ry="3.5" transform="rotate(35 502.0 174.0)"/>
<ellipse cx="630.6" cy="124.6" rx="2.2" ry="3.2" transform="rotate(-30 630.6 124.6)"/>
<ellipse cx="705.2" cy="228.2" rx="4.0" ry="2.4" transform="rotate(25 705.2 228.2)"/>
<ellipse cx="760.4" cy="263.9" rx="4.2" ry="3.4" transform="rotate(20 760.4 263.9)"/>
<circle cx="533.0" cy="49.2" r="5.4" />
<circle cx="557.6" cy="52.2" r="5.4" />
<circle cx="581.6" cy="54.6" r="5.4" />
<circle cx="605.0" cy="75.0" r="5.4" />
<circle cx="652.2" cy="122.3" r="5.4" />
<circle cx="586.4" cy="154.8" r="5.4" />
<circle cx="480.8" cy="184.2" r="5.4" />
<circle cx="489.4" cy="222.0" r="5.4" />
<circle cx="534.2" cy="253.2" r="5.4" />
<circle cx="664.6" cy="200.2" r="5.4" />
<circle cx="613.2" cy="262.0" r="5.4" />
<circle cx="639.0" cy="254.0" r="5.4" />
<circle cx="689.0" cy="248.0" r="5.4" />
<circle cx="712.0" cy="247.3" r="5.4" />
<circle cx="736.5" cy="241.3" r="5.4" />
<circle cx="464.7" cy="240.8" r="5.4" />
<circle cx="588.5" cy="311.9" r="5.4" />
<circle cx="602.6" cy="319.4" r="5.4" />
<circle cx="627.1" cy="313.2" r="5.4" />
<circle cx="651.5" cy="306.4" r="5.4" />
<circle cx="675.9" cy="299.9" r="5.4" />
<circle cx="700.2" cy="293.3" r="5.4" />
<circle cx="724.5" cy="286.6" r="5.4" />
<circle cx="748.9" cy="280.1" r="5.4" />
<circle cx="773.3" cy="273.4" r="5.4" />
</g>
<g stroke="#8c8c8c" stroke-width="1">
<line x1="68.7" y1="59.0" x2="72.2" y2="59.0"/>
<line x1="64.1" y1="95.0" x2="67.6" y2="95.0"/>
<line x1="59.5" y1="131.0" x2="63.0" y2="131.0"/>
<line x1="54.8" y1="167.0" x2="58.3" y2="167.0"/>
<line x1="50.2" y1="203.0" x2="53.7" y2="203.0"/>
<line x1="467.3" y1="54.4" x2="471.3" y2="54.4"/>
<line x1="465.6" y1="101.2" x2="469.6" y2="101.2"/>
<line x1="464.0" y1="147.7" x2="468.0" y2="147.7"/>
<line x1="462.4" y1="194.2" x2="466.4" y2="194.2"/>
<line x1="157.8" y1="296.8" x2="155.6" y2="299.4"/>
<line x1="130.7" y1="282.5" x2="128.5" y2="285.1"/>
<line x1="103.6" y1="268.3" x2="101.4" y2="270.9"/>
<line x1="76.5" y1="254.0" x2="74.3" y2="256.6"/>
<line x1="574.7" y1="303.7" x2="572.5" y2="306.3"/>
<line x1="547.3" y1="287.9" x2="545.1" y2="290.5"/>
<line x1="519.8" y1="272.0" x2="517.6" y2="274.6"/>
<line x1="492.4" y1="256.2" x2="490.2" y2="258.8"/>
<line x1="197.6" y1="309.6" x2="198.2" y2="312.8"/>
<line x1="244.6" y1="304.2" x2="245.2" y2="307.4"/>
<line x1="291.5" y1="298.9" x2="292.1" y2="302.1"/>
<line x1="338.4" y1="293.6" x2="339.0" y2="296.8"/>
<line x1="615.4" y1="316.0" x2="616.0" y2="319.2"/>
<line x1="664.3" y1="302.8" x2="664.9" y2="306.0"/>
<line x1="713.2" y1="289.6" x2="713.8" y2="292.8"/>
<line x1="762.1" y1="276.4" x2="762.7" y2="279.6"/>
</g>
<g font-family="'Liberation Sans', sans-serif" fill="#222" stroke="#222" stroke-width="0.25">
<text x="64.2" y="63.7" font-size="13.0" text-anchor="end" >0.25</text>
<text x="59.6" y="99.7" font-size="13.0" text-anchor="end" >0.20</text>
<text x="55.0" y="135.7" font-size="13.0" text-anchor="end" >0.15</text>
<text x="50.3" y="171.7" font-size="13.0" text-anchor="end" >0.10</text>
<text x="45.7" y="207.7" font-size="13.0" text-anchor="end" >0.05</text>
<text x="41.0" y="244.2" font-size="13.0" text-anchor="end" >0.00</text>
<text transform="translate(10.7 126.3) rotate(-83.5) skewX(-6.0)" x="0" y="4.1" font-size="11.3" text-anchor="middle" >DD yield, %</text>
<text x="38.5" y="258.7" font-size="13.0" text-anchor="middle" >100</text>
<text x="68.5" y="273.2" font-size="13.0" text-anchor="middle" >80</text>
<text x="96.0" y="287.7" font-size="13.0" text-anchor="middle" >60</text>
<text x="122.5" y="301.7" font-size="13.0" text-anchor="middle" >40</text>
<text x="149.3" y="315.9" font-size="13.0" text-anchor="middle" >20</text>
<text x="180.0" y="329.5" font-size="13.0" text-anchor="middle" >0</text>
<text transform="translate(104.0 322.0) rotate(26.0) skewX(-10.0)" x="0" y="4.1" font-size="11.5" text-anchor="middle" >2-MCP content, %</text>
<text transform="translate(196.4 323.8) rotate(-4.0)" x="0" y="4.7" font-size="13.0" text-anchor="middle" >500</text>
<text transform="translate(243.8 318.1) rotate(-4.0)" x="0" y="4.7" font-size="13.0" text-anchor="middle" >600</text>
<text transform="translate(290.6 313.3) rotate(-4.0)" x="0" y="4.7" font-size="13.0" text-anchor="middle" >700</text>
<text transform="translate(337.6 308.6) rotate(-4.0)" x="0" y="4.7" font-size="13.0" text-anchor="middle" >800</text>
<text transform="translate(271.4 334.4) rotate(-5.5) skewX(-6.0)" x="0" y="4.1" font-size="11.3" text-anchor="middle" >Temperature, K</text>
<text x="462.9" y="59.1" font-size="13.0" text-anchor="end" >0.20</text>
<text x="461.2" y="105.9" font-size="13.0" text-anchor="end" >0.15</text>
<text x="459.6" y="152.4" font-size="13.0" text-anchor="end" >0.10</text>
<text x="458.0" y="198.9" font-size="13.0" text-anchor="end" >0.05</text>
<text x="456.3" y="245.3" font-size="13.0" text-anchor="end" >0.00</text>
<text transform="translate(413.4 147.1) rotate(-88.0) skewX(-4.0)" x="0" y="3.6" font-size="9.9" text-anchor="middle" >MCDD yield, %</text>
<text x="454.9" y="257.4" font-size="13.0" text-anchor="middle" >100</text>
<text x="487.0" y="272.3" font-size="13.0" text-anchor="middle" >80</text>
<text x="513.6" y="289.2" font-size="13.0" text-anchor="middle" >60</text>
<text x="540.3" y="305.5" font-size="13.0" text-anchor="middle" >40</text>
<text x="567.7" y="321.1" font-size="13.0" text-anchor="middle" >20</text>
<text x="599.3" y="337.0" font-size="13.0" text-anchor="middle" >0</text>
<text transform="translate(532.5 321.0) rotate(26.5) skewX(-10.0)" x="0" y="4.2" font-size="11.6" text-anchor="middle" >2-MCP content, %</text>
<text transform="translate(615.7 329.0) rotate(-8.0)" x="0" y="4.7" font-size="13.0" text-anchor="middle" >500</text>
<text transform="translate(664.8 315.9) rotate(-8.0)" x="0" y="4.7" font-size="13.0" text-anchor="middle" >600</text>
<text transform="translate(713.4 302.0) rotate(-8.0)" x="0" y="4.7" font-size="13.0" text-anchor="middle" >700</text>
<text transform="translate(761.1 288.4) rotate(-8.0)" x="0" y="4.7" font-size="13.0" text-anchor="middle" >800</text>
<text transform="translate(698.3 324.5) rotate(-13.8) skewX(-6.0)" x="0" y="4.3" font-size="11.9" text-anchor="middle" >Temperature, K</text>
</g>
<g font-family="'Liberation Serif', serif" fill="#111" font-size="20" text-anchor="middle">
<text x="207" y="378.4">(a)</text>
<text x="603.7" y="378.2">(b)</text>
</g>
</svg>
</body></html>
